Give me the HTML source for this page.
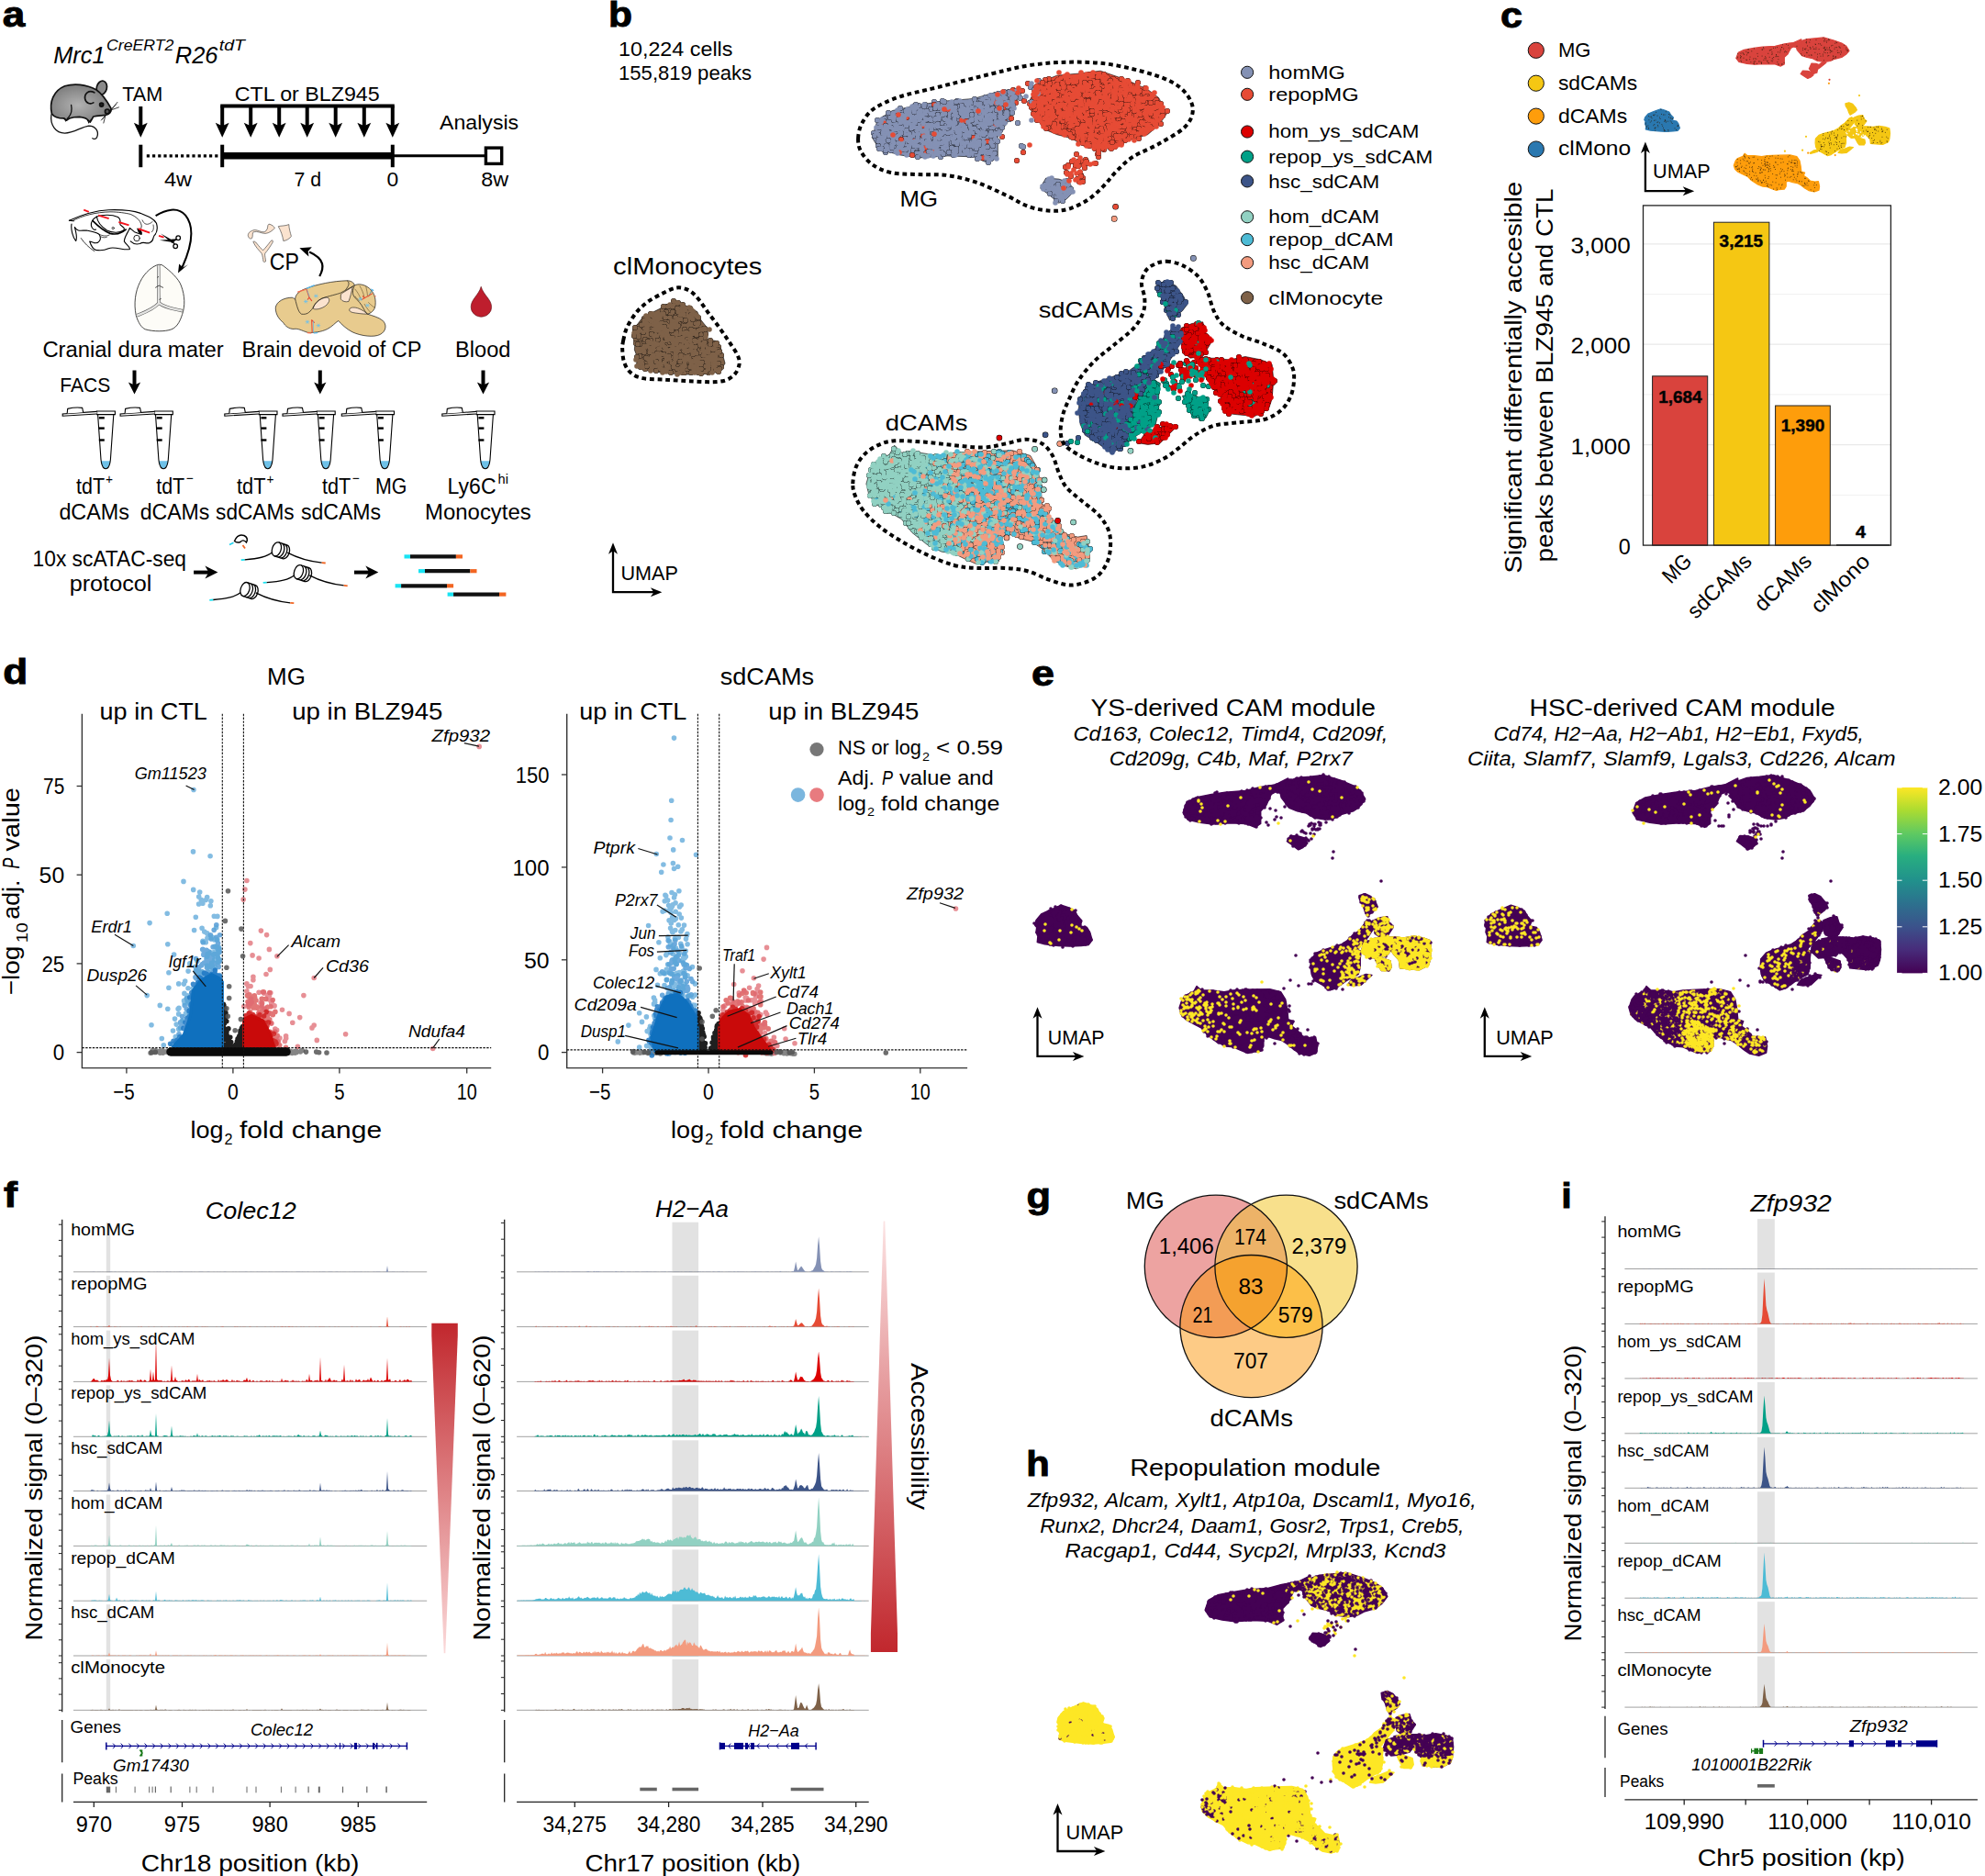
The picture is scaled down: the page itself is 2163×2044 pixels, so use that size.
<!DOCTYPE html>
<html><head><meta charset="utf-8"><title>Figure</title>
<style>html,body{margin:0;padding:0;background:#fff}svg{display:block}text{font-family:"Liberation Sans",sans-serif;fill:#000}</style>
</head><body>
<svg width="2163" height="2044" viewBox="0 0 2163 2044">
<rect width="2163" height="2044" fill="#fff"/>
<g id="pa">
<text x="2.8" y="29.2" font-size="38" textLength="24.5" lengthAdjust="spacingAndGlyphs" font-weight="bold" stroke="#000" stroke-width="0.9">a</text>
<text x="58.2" y="68.5" font-size="26" textLength="56.4" lengthAdjust="spacingAndGlyphs" font-style="italic">Mrc1</text>
<text x="116" y="55.3" font-size="16.6" textLength="73.4" lengthAdjust="spacingAndGlyphs" font-style="italic">CreERT2</text>
<text x="190.8" y="68.5" font-size="26" textLength="46.6" lengthAdjust="spacingAndGlyphs" font-style="italic">R26</text>
<text x="238.8" y="55.3" font-size="16.6" textLength="28.2" lengthAdjust="spacingAndGlyphs" font-style="italic">tdT</text>
<defs><radialGradient id="mg" cx="0.45" cy="0.55" r="0.55"><stop offset="0" stop-color="#b2b2b2"/><stop offset="1" stop-color="#7c7c7c"/></radialGradient></defs><g transform="scale(0.10076)" stroke="#111" stroke-width="17" fill="none" stroke-linecap="round" stroke-linejoin="round"><path d="M555 1240C540 1350 600 1440 700 1440C800 1440 880 1370 960 1360C1040 1360 1070 1430 1050 1480C1040 1510 1010 1505 1000 1495" stroke-width="13"/><ellipse cx="1100" cy="950" rx="55" ry="76" transform="rotate(14 1100 950)" fill="#8a8a8a"/><path d="M560 1230C530 1100 580 980 700 930C800 900 930 910 1040 970C1100 1010 1150 1080 1200 1170C1210 1210 1180 1240 1140 1245C1100 1250 1050 1250 1010 1260C1000 1280 990 1300 975 1320L950 1300C940 1280 900 1270 860 1265C820 1265 780 1270 750 1280L720 1300L690 1280C650 1280 590 1270 560 1230Z" fill="url(#mg)"/><path d="M1020 1000C960 970 910 1010 920 1070C930 1120 980 1130 1010 1110"/><path d="M770 1135C780 1180 775 1230 740 1270" stroke-width="13"/><circle cx="1098" cy="1132" r="20" fill="#222"/><circle cx="1160" cy="1205" r="24" fill="#555"/><path d="M1200 1190L1270 1105M1200 1190L1285 1160M1205 1180L1255 1130M1140 1250L1095 1300M1140 1250L1120 1330M1135 1255L1105 1290" stroke-width="8"/><path d="M700 1280L710 1310M730 1275L720 1305M950 1300L960 1330M985 1290L975 1320" stroke-width="10"/></g>
<text x="133.2" y="109.7" font-size="21.8" textLength="44.1" lengthAdjust="spacingAndGlyphs">TAM</text>
<path d="M153.3 116V138.3" stroke="#000" stroke-width="4" fill="none"/><path d="M153.3 149.8l-7.4 -16l7.4 3.5l7.4 -3.5z" fill="#000"/>
<path d="M153.3 157.7L153.3 182.2" stroke="#000" stroke-width="4" fill="none"/>
<path d="M242.2 157.7L242.2 182.2" stroke="#000" stroke-width="4" fill="none"/>
<path d="M427.8 157.7L427.8 182.2" stroke="#000" stroke-width="4" fill="none"/>
<path d="M159.8 169.8H237.4" stroke="#000" stroke-width="3.2" stroke-dasharray="3.2 3" fill="none"/>
<path d="M242.2 169.8L427.8 169.8" stroke="#000" stroke-width="7.5" fill="none"/>
<path d="M427.8 169.8L529 169.8" stroke="#000" stroke-width="3" fill="none"/>
<rect x="529.4" y="161.1" width="17.3" height="17.3" fill="#fff" stroke="#000" stroke-width="3.4"/>
<text x="255.7" y="109.7" font-size="21.8" textLength="158" lengthAdjust="spacingAndGlyphs">CTL or BLZ945</text>
<path d="M240.2 115.4L429.8 115.4" stroke="#000" stroke-width="4" fill="none"/>
<path d="M242.2 115.4V138.3" stroke="#000" stroke-width="4" fill="none"/><path d="M242.2 149.8l-7.4 -16l7.4 3.5l7.4 -3.5z" fill="#000"/>
<path d="M273.2 115.4V138.3" stroke="#000" stroke-width="4" fill="none"/><path d="M273.2 149.8l-7.4 -16l7.4 3.5l7.4 -3.5z" fill="#000"/>
<path d="M304.2 115.4V138.3" stroke="#000" stroke-width="4" fill="none"/><path d="M304.2 149.8l-7.4 -16l7.4 3.5l7.4 -3.5z" fill="#000"/>
<path d="M334.7 115.4V138.3" stroke="#000" stroke-width="4" fill="none"/><path d="M334.7 149.8l-7.4 -16l7.4 3.5l7.4 -3.5z" fill="#000"/>
<path d="M365.7 115.4V138.3" stroke="#000" stroke-width="4" fill="none"/><path d="M365.7 149.8l-7.4 -16l7.4 3.5l7.4 -3.5z" fill="#000"/>
<path d="M396.8 115.4V138.3" stroke="#000" stroke-width="4" fill="none"/><path d="M396.8 149.8l-7.4 -16l7.4 3.5l7.4 -3.5z" fill="#000"/>
<path d="M427.8 115.4V138.3" stroke="#000" stroke-width="4" fill="none"/><path d="M427.8 149.8l-7.4 -16l7.4 3.5l7.4 -3.5z" fill="#000"/>
<text x="479.1" y="140.7" font-size="21.8" textLength="86.1" lengthAdjust="spacingAndGlyphs">Analysis</text>
<text x="179" y="203.4" font-size="21.8" textLength="30.1" lengthAdjust="spacingAndGlyphs">4w</text>
<text x="320.6" y="203.4" font-size="21.8" textLength="29.6" lengthAdjust="spacingAndGlyphs">7 d</text>
<text x="421.6" y="203.4" font-size="21.8" textLength="12.7" lengthAdjust="spacingAndGlyphs">0</text>
<text x="524.3" y="203.4" font-size="21.8" textLength="29.9" lengthAdjust="spacingAndGlyphs">8w</text>
<g transform="translate(60 215) scale(0.08564)"><g fill="none" stroke="#000" stroke-width="13" stroke-linecap="round" stroke-linejoin="round"><path d="M180 295C300 240 480 170 680 160C850 155 1000 170 1080 200C1180 240 1260 270 1290 330C1310 400 1300 450 1260 490C1240 520 1260 560 1200 580C1150 590 1120 560 1080 590C1040 600 990 590 960 560"/><path d="M220 300C350 230 520 190 700 185C800 185 900 200 960 215C1020 240 1090 290 1100 360C1100 400 1080 420 1050 400" stroke-width="9"/><path d="M180 295L240 300M210 340C200 400 220 500 265 555C280 520 270 450 250 380"/><path d="M530 245C600 220 720 215 800 250C850 280 820 330 830 350C860 380 900 390 870 420C820 460 720 450 660 420C600 380 540 330 530 245Z"/><path d="M480 300C550 370 620 430 700 460C760 475 840 460 900 410" stroke-width="20"/><path d="M530 245C490 270 450 300 460 360C470 400 500 420 520 410"/><path d="M250 380C280 440 330 420 400 420C460 430 520 440 560 470C600 530 560 590 500 580C470 570 450 560 440 560C460 620 480 660 520 670C580 680 640 670 680 650C760 620 880 680 950 660C960 630 900 600 880 560C880 500 930 450 950 390L1010 440L1090 470"/><path d="M330 520C370 580 430 640 500 685" stroke-width="9"/><path d="M560 470C600 490 650 500 690 480M580 500C610 515 640 515 660 505" stroke-width="8"/><circle cx="1040" cy="520" r="38" stroke-width="10"/><path d="M1050 400C1080 410 1110 440 1100 470C1080 460 1060 440 1050 400Z" fill="#000"/><path d="M1110 290C1130 340 1170 370 1240 310M1250 350C1260 400 1250 430 1230 440" stroke-width="8"/><circle cx="738" cy="392" r="14" stroke-width="8"/></g><path d="M365 160L430 185M550 230L685 270M810 315L940 355M1060 400L1205 450M1320 488L1385 510" stroke="#F5141E" stroke-width="22" fill="none"/><path d="M1345 462L1520 560L1490 585Z M1330 545L1545 528L1500 572Z" fill="#000"/><g fill="none" stroke="#000" stroke-width="15"><circle cx="1567" cy="517" r="27"/><circle cx="1532" cy="622" r="27"/><path d="M1500 560L1545 535M1500 565L1520 600"/></g><path d="M1280 235C1400 160 1560 110 1660 230C1780 380 1740 620 1618 890" fill="none" stroke="#000" stroke-width="24"/><path d="M1565 962L1578 848L1628 892L1692 855Z" fill="#000"/></g>
<g transform="translate(60 215) scale(0.08564)"><path d="M1320 855C1250 870 1140 950 1080 1080C1020 1200 1000 1350 1030 1500C1060 1600 1100 1660 1150 1680C1250 1710 1400 1710 1480 1680C1560 1650 1600 1560 1630 1450C1660 1330 1640 1200 1590 1090C1540 1000 1420 900 1360 860Z" fill="#FDFCF7" stroke="#111" stroke-width="9"/><path d="M1315 862C1322 1000 1310 1200 1322 1345M1322 1345C1260 1420 1150 1460 1040 1505M1322 1345C1400 1410 1520 1420 1622 1445" fill="none" stroke="#555" stroke-width="40"/><path d="M1315 862C1322 1000 1310 1200 1322 1345M1322 1345C1260 1420 1150 1460 1040 1505M1322 1345C1400 1410 1520 1420 1622 1445" fill="none" stroke="#e4e4e2" stroke-width="27"/><path d="M1275 1150L1322 1122L1378 1150M1300 1020l20 -12M1325 1300l25 -10" fill="none" stroke="#222" stroke-width="9"/></g>
<g transform="translate(260 230) scale(0.08564)"><g fill="#FBE3CF" stroke="#333" stroke-width="7" stroke-linejoin="round"><path d="M120 310C120 270 160 250 200 240C260 240 310 290 350 250C380 220 360 180 385 165C420 170 450 195 460 215C430 250 390 280 340 285C290 285 240 250 190 265C170 280 185 320 170 345C150 360 125 345 120 310Z"/><path d="M505 195C540 185 600 190 640 170C640 220 660 280 670 320C650 350 610 375 570 380C560 320 540 250 505 195Z"/><path d="M185 390C200 380 215 390 230 410C260 450 290 480 310 500C340 470 380 420 410 380C425 365 440 370 435 395C410 440 370 500 335 540C330 570 345 610 345 640C335 650 320 650 315 640C310 600 305 570 295 540C260 500 210 450 185 390Z"/></g><path d="M1030 830C1090 720 1100 610 900 520" fill="none" stroke="#000" stroke-width="26"/><path d="M775 470L932 458L884 512L892 578Z" fill="#000"/></g>
<text x="293.8" y="293.8" font-size="26.5" textLength="32.1" lengthAdjust="spacingAndGlyphs">CP</text>
<g transform="translate(260 230) scale(0.08564)"><path d="M470 1230C480 1150 580 1100 680 1100C700 1105 715 1120 720 1120C720 1060 780 1010 860 985C1000 930 1200 890 1380 885C1430 885 1470 910 1475 945C1520 920 1600 930 1660 980C1720 1030 1750 1100 1740 1200C1730 1270 1680 1300 1640 1310C1700 1330 1780 1350 1830 1390C1890 1440 1880 1530 1800 1570C1720 1610 1560 1590 1450 1540C1370 1500 1310 1440 1270 1395C1230 1420 1190 1470 1130 1500C1050 1540 950 1550 880 1545C800 1520 760 1490 700 1500C640 1500 590 1460 570 1420C520 1380 470 1320 470 1230Z" fill="#E8CB8E" stroke="#111" stroke-width="8"/><g fill="#FBE3CF" stroke="#111" stroke-width="7"><path d="M950 1240C960 1180 1020 1120 1100 1100C1140 1095 1160 1110 1150 1150C1130 1200 1080 1230 1020 1245C990 1250 960 1250 950 1240Z"/><path d="M1300 1060C1330 1030 1400 1000 1450 960C1440 1020 1420 1100 1400 1150C1360 1160 1320 1150 1300 1120Z"/><path d="M1410 1250C1420 1220 1480 1220 1530 1240C1580 1260 1620 1290 1640 1310C1580 1310 1500 1300 1450 1290C1420 1280 1405 1270 1410 1250Z"/></g><g fill="none" stroke="#111" stroke-width="8"><path d="M720 1120C740 1200 760 1290 800 1310C870 1320 900 1290 940 1240C960 1190 1000 1140 1060 1110C1150 1080 1250 1060 1300 1040C1350 1010 1420 980 1470 945"/><path d="M1380 885C1420 910 1400 960 1360 1000"/><path d="M1475 945C1450 1000 1440 1060 1480 1100C1520 1140 1560 1180 1590 1240C1610 1280 1630 1300 1640 1310"/><path d="M1480 990C1520 1040 1540 1080 1560 1130M1540 950C1570 1000 1590 1050 1600 1100M1620 960C1630 1000 1640 1050 1640 1080M1690 1010C1680 1040 1670 1060 1650 1090M1600 1180C1620 1220 1650 1260 1680 1290M1650 1160C1680 1190 1710 1220 1740 1230M1480 1080C1500 1110 1520 1130 1540 1140" stroke-width="6" stroke="#4d3d1c"/></g><g fill="none" stroke-linecap="round"><path d="M755 1028L840 1000M880 1548L920 1552" stroke="#F26B4A" stroke-width="16"/><path d="M865 985L960 945M962 1552L1000 1548M1690 995L1712 1010" stroke="#5BB7E8" stroke-width="16"/><circle cx="1738" cy="1082" r="9" fill="#F26B4A"/><path d="M862 992C880 1030 890 1080 900 1100L930 1140M900 1100L880 1122M930 1385L936 1540M930 1385L962 1418M1570 1125L1700 1050M1600 1108L1582 1082" stroke="#E8432E" stroke-width="12"/><path d="M874 1012L902 1088M952 1402L952 1538M1660 1062L1708 1002" stroke="#5BB7E8" stroke-width="8"/><path d="M963 1080l44 0M973 1061l24 38M973 1099l24 -38M833 1150l44 0M843 1131l24 38M843 1169l24 -38M853 1410l44 0M863 1391l24 38M863 1429l24 -38M993 1455l44 0M1003 1436l24 38M1003 1474l24 -38M1528 1120l44 0M1538 1101l24 38M1538 1139l24 -38M1618 1200l44 0M1628 1181l24 38M1628 1219l24 -38" stroke="#6EC1EA" stroke-width="9"/></g></g>
<path d="M524.2 312.3C527 322 535.6 326 535.6 334.5A11.2 10.8 0 0 1 513.2 334.5C513.2 326 521.5 322 524.2 312.3Z" fill="#BE1E2D" stroke="#5a0d14" stroke-width="0.6"/>
<text x="46.4" y="389.1" font-size="24.4" textLength="197.4" lengthAdjust="spacingAndGlyphs">Cranial dura mater</text>
<text x="263.6" y="389.1" font-size="24.4" textLength="195.8" lengthAdjust="spacingAndGlyphs">Brain devoid of CP</text>
<text x="496" y="389.1" font-size="24.4" textLength="60.4" lengthAdjust="spacingAndGlyphs">Blood</text>
<text x="65.3" y="426.7" font-size="22.4" textLength="55" lengthAdjust="spacingAndGlyphs">FACS</text>
<path d="M146.5 403.5V420.5" stroke="#000" stroke-width="4" fill="none"/><path d="M146.5 429.5l-6.6 -13l6.6 3l6.6 -3z" fill="#000"/>
<path d="M348.8 403.5V420.5" stroke="#000" stroke-width="4" fill="none"/><path d="M348.8 429.5l-6.6 -13l6.6 3l6.6 -3z" fill="#000"/>
<path d="M526.5 403.5V420.5" stroke="#000" stroke-width="4" fill="none"/><path d="M526.5 429.5l-6.6 -13l6.6 3l6.6 -3z" fill="#000"/>
<g transform="translate(115.2 447.8)" fill="none" stroke="#000" stroke-width="1.1"><path d="M-5 54.500L5 54.500Q4 62.500 0 62.500Q-4 62.500 -5 54.500Z" fill="#6EC1E8" stroke="none"/><path d="M-8.600 4L-5.200 53Q-4.200 62.900 0 62.900Q4.200 62.900 5.200 53L8.600 4" /><path d="M-9.6 0.2H10.2V3.8H-9.6Z" fill="#fff"/><path d="M-9.6 0.6L-47 3.2L-47 5.4L-9.6 3.2" fill="#fff"/><path d="M-42 2.7L-41.5 -2.4Q-33 -4.5 -25.5 -3.4L-24.5 1.5" fill="#fff"/><path d="M-7.400 7.5H-1.400" stroke-width="2.400"/><path d="M-7.400 18.8H-1.400" stroke-width="2.400"/><path d="M-7.400 31.7H-1.400" stroke-width="2.400"/></g>
<g transform="translate(178.1 447.8)" fill="none" stroke="#000" stroke-width="1.1"><path d="M-5 54.500L5 54.500Q4 62.500 0 62.500Q-4 62.500 -5 54.500Z" fill="#6EC1E8" stroke="none"/><path d="M-8.600 4L-5.200 53Q-4.200 62.900 0 62.900Q4.200 62.900 5.200 53L8.600 4" /><path d="M-9.6 0.2H10.2V3.8H-9.6Z" fill="#fff"/><path d="M-9.6 0.6L-47 3.2L-47 5.4L-9.6 3.2" fill="#fff"/><path d="M-42 2.7L-41.5 -2.4Q-33 -4.5 -25.5 -3.4L-24.5 1.5" fill="#fff"/><path d="M-7.400 7.5H-1.400" stroke-width="2.400"/><path d="M-7.400 18.8H-1.400" stroke-width="2.400"/><path d="M-7.400 31.7H-1.400" stroke-width="2.400"/></g>
<g transform="translate(291.8 447.8)" fill="none" stroke="#000" stroke-width="1.1"><path d="M-5 54.500L5 54.500Q4 62.500 0 62.500Q-4 62.500 -5 54.500Z" fill="#6EC1E8" stroke="none"/><path d="M-8.600 4L-5.200 53Q-4.200 62.900 0 62.900Q4.200 62.900 5.200 53L8.600 4" /><path d="M-9.6 0.2H10.2V3.8H-9.6Z" fill="#fff"/><path d="M-9.6 0.6L-47 3.2L-47 5.4L-9.6 3.2" fill="#fff"/><path d="M-42 2.7L-41.5 -2.4Q-33 -4.5 -25.5 -3.4L-24.5 1.5" fill="#fff"/><path d="M-7.400 7.5H-1.400" stroke-width="2.400"/><path d="M-7.400 18.8H-1.400" stroke-width="2.400"/><path d="M-7.400 31.7H-1.400" stroke-width="2.400"/></g>
<g transform="translate(355 447.8)" fill="none" stroke="#000" stroke-width="1.1"><path d="M-5 54.500L5 54.500Q4 62.500 0 62.500Q-4 62.500 -5 54.500Z" fill="#6EC1E8" stroke="none"/><path d="M-8.600 4L-5.200 53Q-4.200 62.900 0 62.900Q4.200 62.900 5.200 53L8.600 4" /><path d="M-9.6 0.2H10.2V3.8H-9.6Z" fill="#fff"/><path d="M-9.6 0.6L-47 3.2L-47 5.4L-9.6 3.2" fill="#fff"/><path d="M-42 2.7L-41.5 -2.4Q-33 -4.5 -25.5 -3.4L-24.5 1.5" fill="#fff"/><path d="M-7.400 7.5H-1.400" stroke-width="2.400"/><path d="M-7.400 18.8H-1.400" stroke-width="2.400"/><path d="M-7.400 31.7H-1.400" stroke-width="2.400"/></g>
<g transform="translate(419.3 447.8)" fill="none" stroke="#000" stroke-width="1.1"><path d="M-5 54.500L5 54.500Q4 62.500 0 62.500Q-4 62.500 -5 54.500Z" fill="#6EC1E8" stroke="none"/><path d="M-8.600 4L-5.200 53Q-4.200 62.900 0 62.900Q4.200 62.900 5.200 53L8.600 4" /><path d="M-9.6 0.2H10.2V3.8H-9.6Z" fill="#fff"/><path d="M-9.6 0.6L-47 3.2L-47 5.4L-9.6 3.2" fill="#fff"/><path d="M-42 2.7L-41.5 -2.4Q-33 -4.5 -25.5 -3.4L-24.5 1.5" fill="#fff"/><path d="M-7.400 7.5H-1.400" stroke-width="2.400"/><path d="M-7.400 18.8H-1.400" stroke-width="2.400"/><path d="M-7.400 31.7H-1.400" stroke-width="2.400"/></g>
<g transform="translate(528.8 447.8)" fill="none" stroke="#000" stroke-width="1.1"><path d="M-5 54.500L5 54.500Q4 62.500 0 62.500Q-4 62.500 -5 54.500Z" fill="#6EC1E8" stroke="none"/><path d="M-8.600 4L-5.200 53Q-4.200 62.900 0 62.900Q4.200 62.900 5.200 53L8.600 4" /><path d="M-9.6 0.2H10.2V3.8H-9.6Z" fill="#fff"/><path d="M-9.6 0.6L-47 3.2L-47 5.4L-9.6 3.2" fill="#fff"/><path d="M-42 2.7L-41.5 -2.4Q-33 -4.5 -25.5 -3.4L-24.5 1.5" fill="#fff"/><path d="M-7.400 7.5H-1.400" stroke-width="2.400"/><path d="M-7.400 18.8H-1.400" stroke-width="2.400"/><path d="M-7.400 31.7H-1.400" stroke-width="2.400"/></g>
<text x="83" y="537.5" font-size="24.4" textLength="31" lengthAdjust="spacingAndGlyphs">tdT</text>
<text x="115" y="526.5" font-size="14.6" textLength="8" lengthAdjust="spacingAndGlyphs">+</text>
<text x="258" y="537.5" font-size="24.4" textLength="31.5" lengthAdjust="spacingAndGlyphs">tdT</text>
<text x="290.5" y="526.5" font-size="14.6" textLength="8" lengthAdjust="spacingAndGlyphs">+</text>
<text x="170.2" y="537.5" font-size="24.4" textLength="31" lengthAdjust="spacingAndGlyphs">tdT</text>
<text x="202.7" y="525.5" font-size="14.6" textLength="8" lengthAdjust="spacingAndGlyphs">−</text>
<text x="351" y="537.5" font-size="24.4" textLength="31.3" lengthAdjust="spacingAndGlyphs">tdT</text>
<text x="383.8" y="525.5" font-size="14.6" textLength="8" lengthAdjust="spacingAndGlyphs">−</text>
<text x="408.9" y="537.5" font-size="24.4" textLength="34.4" lengthAdjust="spacingAndGlyphs">MG</text>
<text x="487.6" y="537.5" font-size="24.4" textLength="53" lengthAdjust="spacingAndGlyphs">Ly6C</text>
<text x="542.5" y="527" font-size="14.6" textLength="11.4" lengthAdjust="spacingAndGlyphs">hi</text>
<text x="64.4" y="565.5" font-size="24.4" textLength="76.5" lengthAdjust="spacingAndGlyphs">dCAMs</text>
<text x="152.7" y="565.5" font-size="24.4" textLength="75.6" lengthAdjust="spacingAndGlyphs">dCAMs</text>
<text x="235.1" y="565.5" font-size="24.4" textLength="85.5" lengthAdjust="spacingAndGlyphs">sdCAMs</text>
<text x="327.9" y="565.5" font-size="24.4" textLength="87.2" lengthAdjust="spacingAndGlyphs">sdCAMs</text>
<text x="463.1" y="565.5" font-size="24.4" textLength="115.6" lengthAdjust="spacingAndGlyphs">Monocytes</text>
<text x="35.6" y="616.5" font-size="24.4" textLength="167.4" lengthAdjust="spacingAndGlyphs">10x scATAC-seq</text>
<text x="75.7" y="644.2" font-size="24.4" textLength="89.7" lengthAdjust="spacingAndGlyphs">protocol</text>
<path d="M211.1 623.6H228.4" stroke="#000" stroke-width="4" fill="none"/><path d="M237.4 623.6l-14 -7l4 7l-4 7z" fill="#000"/>
<path d="M386 623.6H403.3" stroke="#000" stroke-width="4" fill="none"/><path d="M412.3 623.6l-14 -7l4 7l-4 7z" fill="#000"/>
<g transform="translate(262.7 610.1)" fill="none" stroke="#000" stroke-width="1.3"><path d="M0 0L4 -0.3" stroke="#19E3F2" stroke-width="1.8"/><path d="M4 -0.3C18 -1.5 28 -3 35 -9"/><path d="M50.5 -8C62 -2 74 1.5 88 3"/><path d="M88 3L92 3.4" stroke="#F26522" stroke-width="1.8"/><g transform="translate(42.5 -10.5) rotate(18)"><ellipse cx="-4" cy="0" rx="4.8" ry="7.8" fill="#fff"/><path d="M-4 -7.8H5.5A4.8 7.8 0 0 1 5.5 7.8H-4M-0.5 -7.8A4.8 7.8 0 0 1 -0.5 7.8M2.7 -7.8A4.8 7.8 0 0 1 2.7 7.8"/></g></g>
<g transform="translate(286.7 634.9)" fill="none" stroke="#000" stroke-width="1.3"><path d="M0 0L4 -0.3" stroke="#19E3F2" stroke-width="1.8"/><path d="M4 -0.3C18 -1.5 28 -3 35 -9"/><path d="M50.5 -8C62 -2 74 1.5 88 3"/><path d="M88 3L92 3.4" stroke="#F26522" stroke-width="1.8"/><g transform="translate(42.5 -10.5) rotate(18)"><ellipse cx="-4" cy="0" rx="4.8" ry="7.8" fill="#fff"/><path d="M-4 -7.8H5.5A4.8 7.8 0 0 1 5.5 7.8H-4M-0.5 -7.8A4.8 7.8 0 0 1 -0.5 7.8M2.7 -7.8A4.8 7.8 0 0 1 2.7 7.8"/></g></g>
<g transform="translate(228.3 653.8)" fill="none" stroke="#000" stroke-width="1.3"><path d="M0 0L4 -0.3" stroke="#19E3F2" stroke-width="1.8"/><path d="M4 -0.3C18 -1.5 28 -3 35 -9"/><path d="M50.5 -8C62 -2 74 1.5 88 3"/><path d="M88 3L92 3.4" stroke="#F26522" stroke-width="1.8"/><g transform="translate(42.5 -10.5) rotate(18)"><ellipse cx="-4" cy="0" rx="4.8" ry="7.8" fill="#fff"/><path d="M-4 -7.8H5.5A4.8 7.8 0 0 1 5.5 7.8H-4M-0.5 -7.8A4.8 7.8 0 0 1 -0.5 7.8M2.7 -7.8A4.8 7.8 0 0 1 2.7 7.8"/></g></g>
<path d="M255.5 589.5Q259 581 266 583.5Q271 586 268.5 591Q265 587 262 590.5Q258 592 255.5 589.5Z" fill="#fff" stroke="#000" stroke-width="1.4"/>
<path d="M250 593.5L254.5 591.3" stroke="#22D3EE" stroke-width="1.8" fill="none"/>
<path d="M264.5 594L267 597.5" stroke="#F26522" stroke-width="1.8" fill="none"/>
<path d="M440.5 606.4L447 606.4" stroke="#19E3F2" stroke-width="4.2" fill="none"/>
<path d="M447 606.4L496.9 606.4" stroke="#111" stroke-width="4.2" fill="none"/>
<path d="M496.9 606.4L504 606.4" stroke="#F26522" stroke-width="4.2" fill="none"/>
<path d="M456 622.2L463 622.2" stroke="#19E3F2" stroke-width="4.2" fill="none"/>
<path d="M463 622.2L512.4 622.2" stroke="#111" stroke-width="4.2" fill="none"/>
<path d="M512.4 622.2L519.5 622.2" stroke="#F26522" stroke-width="4.2" fill="none"/>
<path d="M430.6 638.3L437.1 638.3" stroke="#19E3F2" stroke-width="4.2" fill="none"/>
<path d="M437.1 638.3L487 638.3" stroke="#111" stroke-width="4.2" fill="none"/>
<path d="M487 638.3L494.1 638.3" stroke="#F26522" stroke-width="4.2" fill="none"/>
<path d="M487.6 647.6L494.1 647.6" stroke="#19E3F2" stroke-width="4.2" fill="none"/>
<path d="M494.1 647.6L544 647.6" stroke="#111" stroke-width="4.2" fill="none"/>
<path d="M544 647.6L551.4 647.6" stroke="#F26522" stroke-width="4.2" fill="none"/>
</g>
<g id="pb">
<path d="M950.2 149.7L956.3 130.6L972.4 120.5L1000.6 114.5L1024.8 110.5L1061.1 107.4L1085.2 100.4L1101.4 97.4L1113.5 97.4L1107.4 110.5L1101.4 124.6L1097.3 134.6L1087.3 146.7L1087.3 170.9L1077.2 178L1061.1 170.9L1032.8 169.9L1002.6 171.9L980.5 168.9L958.3 162.8Z" fill="#8491B4" stroke="#000" stroke-width="0.6"/>
<path d="M1133.6 205.2L1139.6 194.1L1153.8 195.1L1165.8 199.1L1169.9 209.2L1161.8 217.3L1153.8 221.3L1141.7 211.2Z" fill="#8491B4" stroke="#000" stroke-width="0.6"/>
<path d="M1121.5 110.5L1131.6 90.3L1151.7 82.2L1173.9 80.2L1199.1 77.2L1228.3 87.3L1250.5 97.4L1262.6 106.4L1271.6 123.6L1262.6 136.6L1250.5 146.7L1230.3 152.8L1218.2 159.8L1202.1 162.8L1182 159.8L1167.9 150.8L1151.7 146.7L1137.6 140.7L1123.5 120.5Z" fill="#E64B35" stroke="#000" stroke-width="0.6"/>
<path d="M1176.2 433L1185.6 421L1195.9 415.9L1211.3 410.7L1230.2 403.9L1242.2 395.3L1249 386.8L1261 378.2L1271.3 362.8L1278.1 357.6L1288.4 362.8L1285 376.5L1276.4 390.2L1267.9 402.2L1257.6 414.2L1249 422.7L1240.5 431.3L1235.3 445L1230.2 465.5L1227.6 482.7L1219.9 489.5L1209.6 493L1195.9 482.7L1182.2 474.1L1177.1 462.1L1175.4 448.4Z" fill="#3C5488" stroke="#000" stroke-width="0.6"/>
<path d="M1261 309.7L1271.3 306.2L1281.6 311.4L1290.1 323.4L1293.6 331.9L1288.4 338.8L1279.9 345.6L1274.7 349.1L1271.3 342.2L1267.9 330.2L1261.9 318.2Z" fill="#3C5488" stroke="#000" stroke-width="0.6"/>
<path d="M1235.3 445L1242.2 431.3L1249 422.7L1257.6 414.2L1264.4 417.6L1262.7 431.3L1262.7 448.4L1259.3 462.1L1247.3 469L1237 475.8L1228.5 482.7L1230.2 465.5Z" fill="#00A087" stroke="#000" stroke-width="0.6"/>
<path d="M1288.4 431.3L1298.7 429.6L1315.8 436.4L1317.5 448.4L1314.1 455.3L1300.4 455.3L1295.3 446.7Z" fill="#00A087" stroke="#000" stroke-width="0.6"/>
<path d="M1305.5 390.2L1322.7 390.2L1339.8 391.9L1356.9 388.5L1374.1 391.9L1386.1 397L1387.8 414.2L1386.1 434.7L1382.6 445L1367.2 453.6L1348.4 451.8L1333 450.1L1331.2 434.7L1322.7 424.4L1315.8 414.2L1309 403.9Z" fill="#DC0000" stroke="#000" stroke-width="0.6"/>
<path d="M1286.7 357.6L1298.7 352.5L1310.7 350.8L1314.1 362.8L1321 371.3L1315.8 379.9L1310.7 388.5L1297 390.2L1288.4 383.3L1286.7 371.3Z" fill="#DC0000" stroke="#000" stroke-width="0.6"/>
<path d="M1240.5 482.7L1247.3 472.4L1261 467.3L1273 462.1L1283.3 463.8L1273 474.1L1264.4 482.7L1250.7 484.4Z" fill="#DC0000" stroke="#000" stroke-width="0.6"/>
<path d="M943.9 527.1L948.7 510.9L953.5 503.7L969.6 494.8L974.5 485.1L982.5 493.2L1001.9 493.2L1022.8 496.4L1032.5 494.8L1029.3 520.6L1032.5 552.8L1030.9 577L1039 602.8L1026.1 601.2L1010 593.2L993.8 580.3L982.5 565.7L971.3 559.3L955.1 549.6L947.1 540Z" fill="#91D1C2" stroke="#000" stroke-width="0.6"/>
<path d="M1032.5 494.8L1039 493.2L1071.2 491.6L1103.5 490.8L1122.8 496.4L1130.9 510.9L1134.1 530.3L1135.7 549.6L1145.4 552.8L1142.1 562.5L1151.8 570.6L1161.5 581.9L1174.4 585.1L1184.1 583.5L1187.3 601.2L1185.7 614.1L1172.8 619.8L1156.7 615.7L1145.4 607.7L1135.7 598L1124.4 589.9L1111.5 586.7L1098.6 581.9L1092.2 585.1L1092.2 601.2L1087.3 610.9L1071.2 612.5L1064.8 614.9L1051.9 609.3L1039 602.8L1030.9 577L1032.5 552.8L1029.3 520.6Z" fill="#F39B7F" stroke="#000" stroke-width="0.6"/>
<path d="M689.3 366.8L691.3 357.7L700.4 345.6L712.5 339.6L724.6 333.6L735.6 328.5L746.7 332.5L759.8 339.6L763.9 348.7L771.9 358.7L768.9 368.8L781 371.8L786 380.9L790.1 396L784 405.1L770.9 407.1L750.8 408.1L730.6 407.1L706.4 404.1L693.3 400.1L694.3 389L691.3 380.9L692.3 371.8Z" fill="#7E6148" stroke="#000" stroke-width="0.6"/>
<g fill="none" stroke-linecap="round">
<path d="M693 370h0m1-13h0m2-1h0m1 3h0m0 29h0m3 9h0m0 2h0m2-52h0m0 25h0m0 11h0m0 1h0m1 7h0m0 11h0m1-56h0m0 54h0m1-44h0m0 1h0m1-7h0m4 11h0m0 22h0m4-7h0m3-6h0m3-7h0m2-25h0m1 2h0m0 46h0m0 16h0m1-57h0m0 48h0m1-25h0m2-34h0m0 23h0m0 19h0m0 22h0m1-55h0m1 57h0m0 4h0m1-28h0m0 28h0m1-60h0m0 45h0m1-17h0m1-32h0m0 37h0m1-9h0m1 15h0m2-21h0m0 32h0m1-40h0m2 20h0m0 10h0m1 21h0m1-57h0m2 58h0m1-70h0m0 4h0m1 10h0m0 9h0m0 47h0m2-22h0m0 16h0m1-38h0m0 21h0m2 12h0m1-14h0m1-22h0m0 47h0m2-64h0m2 20h0m0 11h0m1-21h0m0 8h0m0 6h0m3-18h0m1 31h0m0 6h0m0 10h0m1 0h0m3-8h0m1-29h0m1 0h0m0 3h0m4 45h0m1-16h0m1-4h0m1 5h0m0 0h0m0 3h0m0 2h0m1-2h0m7-16h0m3 22h0m161 118h0m1 13h0m1-19h0m1 25h0m2-392h0m1 365h0m0 4h0m4-360h0m0 368h0m1-383h0m0 379h0m0 11h0m0 17h0m2 4h0m1-7h0m1-398h0m0 377h0m0 10h0m1-389h0m0 20h0m0 381h0m1-415h0m0 21h0m0 12h0m1-25h0m0 366h0m2-344h0m2 4h0m0 394h0m1-429h0m0 373h0m0 30h0m1-367h0m0 364h0m1-32h0m0 8h0m0 50h0m1-394h0m0 349h0m1-378h0m0 358h0m2-348h0m1 415h0m0 0h0m1-430h0m0 11h0m0 22h0m1 3h0m0 360h0m0 3h0m1-383h0m0 369h0m1-370h0m1-5h0m0 377h0m0 47h0m1-399h0m1-17h0m0 383h0m0 10h0m0 4h0m1-396h0m0 13h0m0 373h0m0 13h0m0 5h0m1-422h0m0 20h0m0 8h0m0 353h0m1-348h0m0 2h0m0 1h0m0 349h0m0 36h0m0 22h0m1-428h0m0 367h0m0 6h0m0 1h0m0 13h0m1-372h0m0 337h0m0 25h0m0 3h0m0 6h0m0 7h0m0 4h0m1-17h0m0 1h0m0 3h0m0 12h0m0 14h0m0 11h0m1-417h0m0 392h0m0 12h0m0 4h0m1 20h0m1-63h0m1 42h0m1-394h0m0 397h0m1-416h0m0 14h0m0 343h0m0 33h0m1-377h0m0 402h0m0 8h0m0 10h0m1-435h0m0 371h0m0 38h0m1-405h0m0 24h0m0 2h0m0 375h0m1-420h0m0 11h0m0 24h0m0 369h0m0 43h0m1-455h0m0 426h0m1-419h0m0 8h0m2 1h0m0 25h0m0 11h0m0 343h0m1-351h0m0 10h0m0 344h0m0 17h0m0 10h0m0 37h0m1-449h0m0 371h0m1 84h0m0 0h0m1-469h0m0 19h0m0 8h0m0 11h0m1 431h0m0 2h0m1-460h0m0 10h0m0 411h0m1-26h0m0 1h0m0 33h0m0 16h0m1-430h0m0 5h0m0 438h0m1-70h0m0 26h0m0 29h0m0 4h0m1-39h0m1-4h0m0 35h0m1-399h0m0 342h0m1 19h0m0 4h0m1-419h0m0 15h0m0 384h0m1-380h0m0 451h0m0 8h0m1-439h0m0 435h0m1-429h0m0 407h0m1-450h0m0 5h0m0 7h0m0 452h0m0 9h0m1-456h0m0 13h0m0 5h0m0 359h0m0 87h0m1-449h0m0 405h0m0 1h0m0 6h0m1-416h0m1 18h0m0 7h0m0 381h0m1-3h0m1-26h0m1-360h0m0 393h0m1 34h0m1-448h0m0 393h0m0 41h0m0 19h0m1-83h0m0 13h0m0 27h0m0 50h0m1-5h0m2-468h0m0 3h0m0 0h0m0 378h0m0 19h0m0 2h0m1-369h0m0 424h0m1-6h0m1-439h0m0 1h0m0 399h0m0 35h0m0 17h0m1-423h0m0 420h0m1-11h0m0 8h0m1-54h0m0 48h0m1-414h0m0 2h0m0 1h0m1-55h0m0 7h0m0 389h0m0 40h0m0 6h0m1-425h0m0 452h0m1-65h0m0 7h0m0 25h0m0 43h0m0 3h0m1-476h0m0 3h0m0 1h0m0 31h0m0 366h0m0 48h0m0 31h0m1-448h0m0 387h0m0 17h0m1-57h0m0 56h0m0 50h0m1-466h0m0 372h0m0 25h0m1-414h0m0 1h0m0 377h0m0 3h0m1-352h0m0 348h0m0 21h0m1-13h0m0 81h0m1-434h0m0 4h0m0 407h0m0 6h0m1-75h0m0 67h0m1-14h0m0 39h0m0 11h0m1-427h0m0 402h0m0 6h0m0 27h0m1-465h0m0 16h0m0 389h0m0 34h0m0 1h0m1-411h0m0 348h0m0 8h0m0 27h0m0 21h0m0 23h0m1-469h0m0 44h0m0 372h0m0 15h0m0 20h0m0 5h0m0 18h0m0 3h0m1-463h0m0 406h0m0 4h0m0 0h0m0 39h0m1-86h0m0 69h0m0 10h0m0 25h0m1-488h0m0 21h0m0 419h0m0 20h0m0 4h0m1-466h0m0 4h0m0 433h0m0 3h0m0 47h0m1-490h0m0 400h0m0 11h0m1-377h0m0 398h0m0 9h0m0 46h0m1-462h0m0 388h0m0 2h0m0 6h0m0 31h0m0 8h0m1-463h0m0 419h0m0 51h0m1-452h0m0 397h0m0 50h0m0 35h0m1-489h0m0 5h0m0 373h0m0 13h0m0 47h0m0 24h0m1-467h0m0 476h0m1-480h0m0 24h0m0 35h0m0 371h0m0 1h0m0 2h0m1-406h0m0 368h0m0 102h0m1-483h0m0 47h0m0 359h0m1-416h0m0 28h0m0 399h0m0 27h0m0 7h0m0 23h0m1-478h0m0 16h0m0 381h0m0 26h0m0 58h0m1-71h0m0 13h0m1-48h0m0 16h0m0 33h0m1-426h0m0 37h0m0 426h0m1-463h0m0 50h0m0 371h0m0 30h0m1-467h0m0 14h0m0 55h0m0 347h0m1-17h0m0 87h0m1-456h0m0 8h0m0 17h0m0 400h0m0 41h0m1-493h0m0 42h0m0 21h0m0 398h0m0 5h0m0 3h0m0 16h0m0 12h0m1-479h0m0 26h0m0 369h0m1-417h0m0 43h0m0 391h0m0 45h0m0 30h0m1-499h0m0 381h0m0 96h0m0 20h0m1-486h0m0 21h0m0 360h0m1-403h0m0 421h0m0 52h0m1-467h0m0 384h0m0 28h0m1-378h0m0 364h0m0 35h0m0 23h0m1-443h0m0 12h0m0 0h0m0 460h0m1-483h0m0 16h0m0 8h0m0 468h0m1-475h0m0 382h0m0 25h0m1-402h0m1 363h0m0 68h0m0 6h0m1-463h0m0 394h0m1 28h0m0 5h0m0 16h0m0 7h0m1-442h0m2-9h0m0 25h0m0 431h0m1-30h0m1-413h0m0 415h0m0 47h0m1-478h0m0 21h0m2-16h0m0 6h0m0 410h0m0 6h0m0 10h0m0 2h0m1 6h0m0 7h0m0 26h0m1-468h0m0 435h0m0 33h0m1-405h0m0 355h0m0 7h0m1 12h0m1-449h0m0 2h0m0 412h0m0 51h0m1-43h0m0 43h0m1-458h0m0 440h0m0 1h0m1-50h0m0 87h0m1-47h0m1 17h0m0 11h0m1-69h0m0 4h0m0 47h0m1 11h0m2 22h0m1-22h0m0 20h0m1-28h0m1 1h0m1-47h0m0 57h0m1-49h0m1 2h0m0 18h0m1-417h0m0 447h0m1-22h0m1-440h0m0 9h0m0 9h0m0 451h0m1-461h0m1-15h0m0 435h0m0 38h0m0 6h0m1-29h0m1-434h0m0 2h0m0 413h0m1 5h0m1-435h0m1 1h0m0 449h0m1-422h0m0 2h0m0 5h0m0 427h0m0 3h0m2 41h0m1-23h0m0 13h0m1-495h0m0 17h0m1 6h0m0 445h0m1 0h0m1-478h0m1 6h0m0 24h0m1 19h0m0 432h0m1-439h0m2 448h0m0 8h0m0 4h0m0 5h0m3-484h0m0 109h0m1-86h0m0 9h0m0 433h0m1-487h0m0 9h0m0 25h0m0 489h0m1-473h0m0 5h0m0 1h0m0 435h0m2 1h0m1-469h0m1-20h0m0 4h0m0 20h0m0 3h0m0 15h0m0 0h0m0 461h0m1-497h0m0 10h0m2 21h0m0 55h0m1-68h0m0 24h0m0 448h0m0 18h0m3-515h0m0 6h0m0 110h0m1 410h0m1-19h0m1-494h0m0 1h0m0 481h0m0 15h0m1-454h0m1-30h0m0 10h0m0 23h0m1-53h0m1 17h0m0 69h0m1-13h0m1-36h0m0 479h0m1-513h0m0 14h0m0 21h0m0 0h0m0 48h0m0 14h0m1-86h0m0 484h0m1 19h0m1-466h0m0 30h0m0 15h0m1-77h0m0 40h0m1-2h0m0 438h0m0 1h0m0 0h0m0 3h0m2-492h0m0 20h0m0 347h0m1-378h0m0 19h0m0 38h0m0 279h0m0 186h0m1-509h0m0 74h0m0 257h0m0 0h0m1-303h0m0 19h0m0 272h0m0 29h0m0 138h0m0 20h0m1-468h0m0 10h0m0 311h0m0 137h0m1-443h0m0 303h0m1-356h0m0 37h0m0 457h0m1-173h0m0 15h0m1-316h0m1-41h0m0 26h0m1-14h0m0 341h0m0 35h0m1-329h0m0 5h0m0 15h0m1-51h0m0 322h0m0 8h0m1-350h0m0 18h0m1-5h0m0 64h0m1-35h0m0 38h0m0 287h0m0 20h0m1-380h0m0 56h0m0 264h0m0 19h0m1-314h0m0 0h0m0 37h0m0 265h0m0 27h0m1-296h0m0 1h0m1-63h0m0 47h0m1-3h0m1-57h0m0 82h0m0 258h0m0 6h0m0 19h0m2-337h0m0 339h0m0 30h0m1-394h0m0 43h0m0 15h0m0 274h0m0 3h0m0 13h0m0 42h0m1-389h0m0 52h0m0 322h0m1-368h0m0 38h0m0 289h0m0 40h0m1-334h0m0 295h0m0 58h0m1-373h0m1 28h0m0 298h0m1-289h0m0 332h0m1-373h0m0 2h0m0 31h0m0 300h0m1-288h0m0 295h0m0 13h0m1-359h0m1 323h0m0 39h0m0 28h0m2-331h0m0 282h0m0 49h0m1-354h0m0 281h0m0 9h0m0 37h0m1-45h0m0 77h0m1 0h0m1-403h0m0 68h0m1 291h0m1-299h0m0 318h0m0 6h0m1-341h0m3 15h0m0 272h0m1-328h0m0 11h0m0 356h0m2-332h0m0 1h0m0 12h0m0 2h0m0 3h0m0 307h0m0 30h0m1-64h0m0 14h0m1 40h0m0 1h0m1-360h0m0 304h0m0 53h0m1-56h0m0 1h0m0 12h0m1-322h0m0 19h0m1-20h0m0 41h0m1 279h0m2-323h0m1 329h0m0 33h0m1-341h0m0 18h0m0 2h0m0 310h0m1-335h0m0 12h0m0 20h0m0 288h0m0 22h0m1-338h0m0 277h0m0 58h0m1-312h0m0 285h0m0 37h0m3-350h0m0 19h0m0 321h0m1-34h0m0 41h0m0 2h0m1-356h0m0 24h0m0 266h0m1-1h0m1 0h0m0 13h0m0 23h0m0 44h0m1-78h0m0 44h0m1-47h0m0 35h0m1 7h0m0 11h0m2-7h0m0 3h0m0 4h0m1-335h0m0 10h0m0 14h0m0 258h0m1-5h0m0 56h0m1-335h0m1 25h0m0 256h0m0 50h0m0 25h0m0 10h0m1-86h0m1-72h0m0 61h0m1 10h0m3-262h0m0 203h0m1 56h0m0 13h0m0 17h0m0 58h0m2-165h0m0 84h0m1-74h0m0 20h0m0 80h0m0 49h0m1-72h0m1-17h0m1-66h0m0 57h0m2-61h0m0 17h0m0 55h0m0 28h0m1-70h0m1 5h0m0 3h0m0 18h0m1-24h0m1 22h0m0 9h0m0 12h0m3-19h0m0 4h0m1-25h0m0 23h0m0 32h0m0 22h0m1 2h0m1-26h0m1-34h0m1 46h0m1-43h0m1 13h0m1 5h0m2-28h0m2 73h0m0 14h0m1 5h0m1-87h0m0 41h0m0 33h0m1-50h0m2-9h0m1-11h0m0 31h0m0 11h0m1 2h0m1-5h0m0 1h0m2-22h0m1-2h0m0 9h0m2-31h0m2 38h0m3 6h0m1-11h0m1-17h0m0 22h0m3 0h0m5-1h0m2 26h0m6-29h0m1 7h0m2 12h0m0 34h0m1-11h0m1-4h0m2 12h0m1-14h0m1-28h0m1 16h0m1 3h0m1-21h0m2 46h0m1-14h0m1 10h0m1-11h0m1-17h0m1 5h0m0 1h0m0 19h0m2-14h0m1 6h0m2-37h0m0 8h0m0 25h0m1 1h0m1-9h0m0 18h0m1-42h0m0 54h0m3-50h0m0 52h0m1-31h0m0 8h0m1-29h0m1 22h0m0 7h0m0 1h0m0 1h0m0 24h0m1-49h0m1-1h0m0 5h0m0 14h0m1 10h0m1-37h0m0 31h0m1-30h0m0 17h0m3-18h0m0 28h0m1-17h0m1 26h0m0 20h0m1-36h0m1 9h0m1-27h0m0 25h0m3-20h0m2 18h0m0 5h0m0 6h0m0 7h0m2-16h0m0 8h0m3-13h0m2-2h0" stroke="#000" stroke-width="6.05"/>
<path d="M952 145h0m5 9h0m1-15h0m4 6h0m1-2h0m0 20h0m1-34h0m0 21h0m0 12h0m1-25h0m2 22h0m2 4h0m1-35h0m1 36h0m2-4h0m1-29h0m2 10h0m2-15h0m0 11h0m0 22h0m1 3h0m1-20h0m1-1h0m1-5h0m1 25h0m1-17h0m1 1h0m0 13h0m1-31h0m0 20h0m0 8h0m1 5h0m0 2h0m0 1h0m1-21h0m1 15h0m2-11h0m4 13h0m1-19h0m1 13h0m1-15h0m1 4h0m0 24h0m0 2h0m1-45h0m0 11h0m0 24h0m1-43h0m1 7h0m0 8h0m2 1h0m0 25h0m0 11h0m1-8h0m0 10h0m1-41h0m2-14h0m0 19h0m0 8h0m0 11h0m2-27h0m0 10h0m2 5h0m0 5h0m4 20h0m2-54h0m0 15h0m1 4h0m1 20h0m1 6h0m1-43h0m0 5h0m0 7h0m1 5h0m0 13h0m0 5h0m1-3h0m1-4h0m1 18h0m0 7h0m3-8h0m2-21h0m4-13h0m0 3h0m0 0h0m1 30h0m2-21h0m0 1h0m1 28h0m3-3h0m0 2h0m0 1h0m1-55h0m0 7h0m1 10h0m2-11h0m0 3h0m0 1h0m0 31h0m1-3h0m2-13h0m1-17h0m0 1h0m1 28h0m2 3h0m0 4h0m3 14h0m1-30h0m0 16h0m1 13h0m1-42h0m0 44h0m1-30h0m2-21h0m0 21h0m1-23h0m0 4h0m1-7h0m1 34h0m1-9h0m1-28h0m1 18h0m1-7h0m0 5h0m1-10h0m1-4h0m0 24h0m0 35h0m1-32h0m1-13h0m0 47h0m1-57h0m0 28h0m1-22h0m0 16h0m3-18h0m0 37h0m1-37h0m0 50h0m1-66h0m0 14h0m0 55h0m2-39h0m0 8h0m0 17h0m1-52h0m0 42h0m0 21h0m1-45h0m0 26h0m1-48h0m0 43h0m1-33h0m1 11h0m0 21h0m1-43h0m2 40h0m1-21h0m0 12h0m0 0h0m1 1h0m1-7h0m3-21h0m2 8h0m2-9h0m0 25h0m2-12h0m1 5h0m2-16h0m0 6h0m5-13h0m0 2h0m2 5h0m16-6h0m23 117h0m14-13h0" stroke="#8491B4" stroke-width="5.6"/>
<path d="M996 154h0m93-46h0m3 2h0m0 16h0m2 6h0m9-30h0m4 10h0m1 63h0m18-59h0m2-6h0m0 9h0m1-10h0m1-15h0m2 16h0m0 2h0m2-17h0m1 1h0m1 27h0m0 2h0m0 5h0m4-34h0m0 17h0m1 6h0m2-33h0m1 6h0m0 24h0m1 19h0m1-7h0m5-19h0m1 23h0m0 9h0m1-54h0m0 9h0m0 25h0m1 16h0m0 5h0m0 1h0m3-33h0m1-20h0m0 4h0m0 20h0m0 3h0m0 15h0m0 0h0m1-36h0m0 10h0m2 21h0m0 55h0m1-68h0m0 24h0m3-49h0m0 6h0m3 7h0m0 1h0m1 42h0m1-30h0m0 10h0m0 23h0m1-53h0m1 17h0m0 69h0m1-13h0m1-36h0m1-34h0m0 14h0m0 21h0m0 0h0m0 48h0m0 14h0m1-86h0m2 37h0m0 30h0m0 15h0m1-77h0m0 40h0m1-2h0m2-50h0m0 20h0m1-31h0m0 19h0m0 38h0m1-44h0m0 74h0m1-46h0m0 19h0m1-9h0m0 10h0m1 5h0m1-53h0m0 37h0m2-17h0m1-41h0m0 26h0m1-14h0m1 47h0m0 5h0m0 15h0m1-51h0m1-20h0m0 18h0m1-5h0m0 64h0m1-35h0m0 38h0m1-73h0m0 56h0m1-31h0m0 0h0m0 37h0m1-4h0m0 1h0m1-63h0m0 47h0m1-3h0m1-57h0m0 82h0m2-54h0m1-25h0m0 43h0m0 15h0m1-57h0m0 52h0m1-46h0m0 38h0m1-5h0m1-20h0m1 28h0m1 9h0m1-41h0m0 2h0m0 31h0m1 12h0m1-51h0m3 59h0m1-23h0m3-44h0m0 68h0m2-8h0m1-17h0m3 15h0m1-56h0m0 11h0m2 24h0m0 1h0m0 12h0m0 2h0m0 3h0m3-32h0m2-8h0m0 19h0m1-20h0m0 41h0m3-44h0m2 21h0m0 18h0m0 2h0m1-25h0m0 12h0m0 20h0m1-28h0m1 23h0m3-28h0m0 19h0m2-26h0m0 24h0m8-18h0m0 10h0m0 14h0m2-26h0m1 25h0m6-8h0" stroke="#E64B35" stroke-width="5.6"/>
<path d="M1252 474h0m9-9h0m0 10h0m7-2h0m3-6h0m5-59h0m8-10h0m3-36h0m1 46h0m1-43h0m1 13h0m1 5h0m2-28h0m4 5h0m0 41h0m1-17h0m2-9h0m1-11h0m0 31h0m2 9h0m2-22h0m1-2h0m0 9h0m2-31h0m2 38h0m3 6h0m1-11h0m1-17h0m0 22h0m3 0h0m5-1h0m2 26h0m6-29h0m1 7h0m2 12h0m0 34h0m1-11h0m1-4h0m2 12h0m1-14h0m1-28h0m1 16h0m1 3h0m1-21h0m2 46h0m1-14h0m1 10h0m1-11h0m1-17h0m1 5h0m0 1h0m0 19h0m2-14h0m1 6h0m2-37h0m0 8h0m0 25h0m2-8h0m0 18h0m1-42h0m0 54h0m3-50h0m0 52h0m1-31h0m0 8h0m1-29h0m1 29h0m0 1h0m0 1h0m0 24h0m1-49h0m1-1h0m0 5h0m0 14h0m1 10h0m1-37h0m0 31h0m1-30h0m0 17h0m3-18h0m0 28h0m1-17h0m1 26h0m0 20h0m1-36h0m1 9h0m1-27h0m0 25h0m3-20h0m2 18h0m0 5h0m0 6h0m0 7h0m2-16h0m0 8h0m3-13h0m2-2h0" stroke="#DC0000" stroke-width="5.6"/>
<path d="M1184 435h0m2 28h0m17-42h0m0 6h0m3 47h0m3 3h0m7 7h0m7-39h0m1 19h0m7 14h0m2-10h0m1-2h0m1-55h0m0 12h0m7 25h0m1-15h0m0 22h0m1-3h0m4 0h0m1 7h0m0 2h0m1-66h0m2 12h0m0 23h0m1 10h0m1-12h0m1 7h0m0 11h0m2-7h0m0 3h0m0 4h0m4-56h0m0 50h0m7-42h0m0 17h0m3 3h0m2-40h0m11 42h0m1 2h0m1-26h0m9 32h0m0 14h0m1 5h0m1-13h0m4-28h0m1 2h0m1-5h0m53 23h0m8-7h0" stroke="#00A087" stroke-width="5.6"/>
<path d="M1182 469h0m1-42h0m1 8h0m1-12h0m0 29h0m2 8h0m2-35h0m0 15h0m3-4h0m0 35h0m2-38h0m0 8h0m3 17h0m0 20h0m1-60h0m0 19h0m1-12h0m0 27h0m4-6h0m2 2h0m0 30h0m1-62h0m0 3h0m0 13h0m1 27h0m1-41h0m0 40h0m1-39h0m2 11h0m1 43h0m1-40h0m1 7h0m0 13h0m2-36h0m0 39h0m2-21h0m0 49h0m1-73h0m0 9h0m0 37h0m1-45h0m0 77h0m1 0h0m3-19h0m4-54h0m1 39h0m2-7h0m1-34h0m0 14h0m1 41h0m1-56h0m1-3h0m3 10h0m3 6h0m0 33h0m3-65h0m1 31h0m0 37h0m4-44h0m2-24h0m1 0h0m1 2h0m1-3h0m4 0h0m1-5h0m0 56h0m3-55h0m1-72h0m0 61h0m1 10h0m3-59h0m1 56h0m2-77h0m0 84h0m1-74h0m0 20h0m1 57h0m2-83h0m0 57h0m2-61h0m0 17h0m0 55h0m1-42h0m1 5h0m0 3h0m0 18h0m1-24h0m1 22h0m0 9h0m0 12h0m3-19h0m0 4h0m1-25h0m0 23h0" stroke="#3C5488" stroke-width="5.6"/>
<path d="M947 518h0m1 13h0m1-19h0m1 25h0m3-27h0m0 4h0m4 8h0m1-4h0m0 11h0m0 17h0m2 4h0m1-7h0m1-21h0m1 22h0m2-41h0m4 54h0m1-56h0m0 30h0m1-3h0m1-32h0m0 8h0m0 50h0m1-45h0m1-20h0m3 67h0m0 0h0m2-34h0m0 3h0m1-14h0m2 2h0m2 14h0m0 10h0m0 4h0m1-10h0m0 13h0m0 5h0m1-41h0m1 4h0m0 36h0m0 22h0m1-61h0m0 6h0m0 1h0m0 13h0m1-35h0m0 25h0m0 3h0m0 6h0m0 7h0m0 4h0m1-16h0m0 3h0m0 12h0m0 14h0m0 11h0m1-25h0m0 16h0m1 20h0m1-63h0m1 42h0m1 3h0m1-59h0m0 33h0m1 25h0m0 8h0m0 10h0m1-64h0m0 38h0m1-4h0m1-16h0m0 43h0m1-29h0m3-31h0m1 3h0m0 17h0m0 10h0m0 37h0m1-78h0m1 84h0m0 0h0m2 0h0m0 2h0m1-39h0m1-26h0m0 50h0m1 13h0m1-44h0m0 29h0m1-35h0m1-4h0m0 35h0m1-57h0m1 19h0m0 4h0m1-20h0m2 75h0m1-22h0m1 23h0m1 8h0m4-50h0m1-26h0m1 33h0m1 34h0m1-55h0m0 41h0m1-51h0m0 27h0m0 50h0m1-5h0m2-68h0m1 57h0m1-6h0m1-39h0m0 52h0m1-3h0m4-39h0m0 6h0m2-6h0m1 19h0m0 31h0m2-101h0m1 37h0m1-33h0m1-4h0m4 50h0m2 32h0m2-36h0m1 8h0m0 39h0m1-86h0m1 76h0m1-25h0m1-40h0m1 41h0m1-28h0m2 84h0m7-7h0m1-58h0m1 1h0m4-43h0m8 17h0m7-20h0m1 33h0m8-4h0m0 10h0m5 26h0m3-67h0m1 40h0m5 43h0m4-19h0m19 2h0m14 15h0m24 12h0m0 0h0m5-1h0m0 20h0" stroke="#91D1C2" stroke-width="5.6"/>
<path d="M962 532h0m20 28h0m8-38h0m1 28h0m20-29h0m0 33h0m2 18h0m6 17h0m3-12h0m1-70h0m1 43h0m11-45h0m5 69h0m0 8h0m1-6h0m4 16h0m2-57h0m0 17h0m1-1h0m0 50h0m1-94h0m2 9h0m1-13h0m0 81h0m3 0h0m2-41h0m0 35h0m1-55h0m0 48h0m0 23h0m1-18h0m1-31h0m0 4h0m1 32h0m1-23h0m1-2h0m2-11h0m1 28h0m2-48h0m1-13h0m0 47h0m2-16h0m1-36h0m3 12h0m1 13h0m1-35h0m0 16h0m4 77h0m1 10h0m1 4h0m1-84h0m1 17h0m0 45h0m2-77h0m1 18h0m1-31h0m1 14h0m0 35h0m0 23h0m3-30h0m2-39h0m0 68h0m2-7h0m4-25h0m1 2h0m3-10h0m1 24h0m0 7h0m0 26h0m1-33h0m1-17h0m1 19h0m2 16h0m1-18h0m0 1h0m3 18h0m1-69h0m0 51h0m4 31h0m3-74h0m3 58h0m4-34h0m0 44h0m1-29h0m5 13h0m0 3h0m2 41h0m1-10h0m2-27h0m7 12h0m0 12h0m0 5h0m14-7h0m0 18h0m12 7h0m2-18h0m7 20h0m3-13h0m2-2h0" stroke="#4DBBD5" stroke-width="5.6"/>
<path d="M1013 513h0m6 68h0m5-30h0m0 6h0m2-10h0m5 43h0m1-83h0m3 19h0m3 45h0m3-43h0m2-22h0m1 73h0m1-65h0m0 7h0m0 68h0m1-72h0m4-21h0m3 65h0m0 6h0m1-75h0m0 67h0m1 36h0m1-25h0m0 6h0m0 27h0m2-88h0m0 35h0m1 6h0m0 25h0m0 18h0m0 3h0m2-31h0m0 35h0m1-24h0m1 21h0m1-79h0m1 76h0m1-72h0m0 6h0m0 31h0m1-36h0m0 51h0m1-5h0m1-76h0m0 84h0m1 9h0m1-50h0m0 3h0m1 64h0m1-77h0m1 11h0m0 27h0m0 7h0m0 23h0m1-55h0m3 38h0m1-42h0m0 30h0m1-51h0m2 39h0m1 9h0m0 5h0m0 3h0m0 16h0m2 20h0m1-118h0m0 96h0m0 20h0m2-35h0m3 18h0m1 9h0m1-93h0m2 60h0m2-41h0m0 21h0m3 12h0m2 19h0m3-39h0m2 39h0m1-43h0m2-23h0m1 8h0m2 63h0m2-30h0m1-54h0m1 58h0m3 0h0m1-8h0m1 1h0m2-39h0m1 2h0m0 18h0m2 8h0m1 29h0m2-3h0m2-42h0m1 5h0m2 15h0m4 33h0m6-11h0m3 17h0m4-10h0m1 36h0m1-32h0m4 15h0m8 22h0m1-19h0m1-12h0m0 15h0m9 13h0m3-22h0m0 4h0" stroke="#F39B7F" stroke-width="5.6"/>
<path d="M693 370h0m1-13h0m2-1h0m1 3h0m0 29h0m3 9h0m0 2h0m2-52h0m0 25h0m0 11h0m0 1h0m1 7h0m0 11h0m1-56h0m0 54h0m1-44h0m0 1h0m1-7h0m4 11h0m0 22h0m4-7h0m3-6h0m3-7h0m2-25h0m1 2h0m0 46h0m0 16h0m1-57h0m0 48h0m1-25h0m2-34h0m0 23h0m0 19h0m0 22h0m1-55h0m1 57h0m0 4h0m1-28h0m0 28h0m1-60h0m0 45h0m1-17h0m1-32h0m0 37h0m1-9h0m1 15h0m2-21h0m0 32h0m1-40h0m2 20h0m0 10h0m1 21h0m1-57h0m2 58h0m1-70h0m0 4h0m1 10h0m0 9h0m0 47h0m2-22h0m0 16h0m1-38h0m0 21h0m2 12h0m1-14h0m1-22h0m0 47h0m2-64h0m2 20h0m0 11h0m1-21h0m0 8h0m0 6h0m3-18h0m1 31h0m0 6h0m0 10h0m1 0h0m3-8h0m1-29h0m1 0h0m0 3h0m4 45h0m1-16h0m1-4h0m1 5h0m0 0h0m0 3h0m0 2h0m1-2h0m7-16h0m3 22h0" stroke="#7E6148" stroke-width="5.6"/>
<path d="M691 366h0m1-6h0m1 14h0m1 15h0m1-26h0m1-5h0m1 2h0m0 14h0m0 1h0m1 25h0m3-48h0m0 10h0m2 8h0m1 20h0m1 9h0m1-52h0m0 44h0m1 1h0m1-43h0m0 22h0m0 13h0m1-13h0m0 20h0m4-9h0m1-17h0m1-5h0m0 34h0m0 10h0m1-38h0m2-8h0m1 22h0m1-17h0m1-11h0m0 24h0m0 22h0m1 6h0m1-70h0m0 45h0m1 2h0m1-28h0m1-13h0m0 6h0m1 49h0m1-61h0m0 21h0m2 18h0m0 29h0m1-35h0m0 18h0m1-33h0m1-18h0m1-6h0m0 5h0m0 30h0m2-17h0m0 20h0m1 3h0m0 9h0m1-39h0m1-9h0m0 75h0m1-52h0m1 16h0m0 25h0m1 0h0m0 0h0m0 10h0m2-72h0m1 10h0m1 21h0m0 35h0m2-4h0m1 8h0m1-11h0m1-3h0m1-52h0m1 7h0m0 29h0m0 0h0m0 21h0m1-24h0m0 5h0m0 3h0m1-29h0m0 51h0m1-16h0m1-9h0m3 7h0m1-35h0m0 6h0m0 20h0m1 1h0m0 11h0m1-25h0m1 38h0m1-2h0m3-17h0m2-1h0m1 0h0m0 27h0m1-26h0m0 3h0m5 5h0m0 10h0m2-21h0m1 13h0m1-14h0m1 7h0m0 3h0m0 20h0m1-8h0m3-9h0m165 138h0m0 14h0m1-33h0m1 34h0m1 8h0m3-401h0m0 12h0m4 374h0m1-21h0m1-380h0m0 2h0m0 363h0m1-358h0m0 381h0m1-354h0m0 391h0m1-48h0m1-368h0m0 387h0m1 17h0m0 11h0m1-48h0m0 44h0m1 3h0m1-415h0m1 20h0m0 1h0m0 363h0m0 18h0m0 2h0m0 9h0m2-397h0m0 375h0m0 28h0m2-41h0m1-6h0m1-361h0m0 342h0m0 58h0m1-403h0m0 353h0m2-383h0m0 404h0m0 39h0m1-416h0m0 404h0m1-424h0m0 392h0m0 22h0m1-414h0m0 384h0m0 5h0m1 43h0m1-406h0m0 6h0m0 399h0m2-43h0m2-351h0m0 2h0m1-5h0m0 9h0m0 341h0m0 13h0m0 22h0m2-43h0m0 4h0m0 23h0m0 27h0m2-20h0m0 7h0m0 3h0m1 13h0m1-443h0m1 1h0m0 0h0m0 39h0m1 12h0m0 338h0m0 74h0m2-73h0m0 31h0m1-401h0m1-13h0m0 30h0m0 8h0m0 357h0m0 28h0m0 6h0m0 21h0m0 10h0m1 3h0m1-434h0m0 385h0m0 45h0m1-449h0m0 1h0m0 22h0m0 349h0m2 46h0m0 18h0m0 3h0m1-448h0m0 43h0m0 366h0m0 7h0m0 2h0m0 25h0m0 0h0m1-432h0m0 372h0m1 66h0m0 14h0m1-419h0m0 340h0m0 21h0m0 7h0m0 7h0m1-33h0m0 5h0m0 34h0m0 29h0m1-459h0m1 403h0m0 53h0m1-22h0m0 3h0m0 21h0m0 14h0m1-441h0m0 368h0m0 5h0m1-409h0m0 411h0m2 7h0m0 5h0m0 33h0m1-411h0m1-34h0m0 41h0m0 362h0m1 5h0m0 34h0m0 21h0m2-417h0m0 371h0m0 24h0m1-408h0m1-48h0m0 403h0m0 21h0m1-395h0m1-28h0m0 18h0m0 373h0m0 9h0m0 38h0m0 24h0m1-449h0m0 6h0m0 376h0m0 23h0m0 0h0m0 33h0m0 17h0m1-54h0m0 10h0m0 23h0m1-43h0m0 17h0m0 56h0m0 2h0m1-438h0m0 371h0m1-386h0m0 418h0m1-23h0m1-395h0m0 379h0m0 64h0m1-424h0m0 436h0m1-450h0m1-16h0m0 5h0m0 385h0m0 58h0m0 24h0m1-92h0m1-389h0m0 410h0m1-416h0m0 46h0m0 426h0m0 3h0m0 13h0m1 4h0m1-455h0m0 1h0m0 349h0m1 20h0m0 36h0m1-22h0m1-412h0m0 14h0m0 466h0m1-485h0m0 15h0m0 415h0m1-31h0m0 11h0m0 14h0m0 43h0m1-37h0m0 25h0m0 17h0m1-423h0m0 337h0m0 12h0m0 16h0m0 19h0m1-414h0m0 30h0m0 403h0m0 1h0m0 9h0m0 6h0m1-83h0m0 74h0m0 9h0m0 8h0m0 5h0m1-66h0m0 26h0m1-47h0m0 33h0m0 17h0m0 30h0m1-434h0m0 391h0m0 33h0m0 13h0m1-436h0m0 8h0m0 387h0m0 29h0m1-51h0m0 42h0m0 23h0m1-455h0m0 361h0m0 16h0m0 15h0m0 8h0m1 15h0m0 3h0m0 9h0m0 7h0m1-461h0m0 5h0m0 33h0m0 392h0m0 59h0m1-89h0m1-403h0m0 56h0m0 370h0m0 27h0m1-46h0m0 81h0m0 4h0m1-489h0m0 383h0m0 19h0m0 21h0m0 8h0m0 18h0m0 48h0m1-64h0m0 21h0m1-64h0m0 52h0m0 42h0m1-473h0m0 398h0m0 23h0m0 2h0m0 15h0m0 13h0m1-444h0m0 462h0m0 0h0m0 17h0m0 3h0m1-490h0m0 378h0m0 6h0m0 52h0m0 14h0m0 26h0m1-471h0m0 18h0m0 27h0m0 343h0m0 16h0m0 4h0m0 2h0m0 57h0m1-468h0m0 406h0m0 66h0m0 10h0m0 3h0m1-439h0m0 321h0m0 42h0m0 9h0m0 11h0m0 39h0m1-488h0m0 64h0m0 383h0m1-439h0m0 17h0m0 449h0m1-420h0m0 353h0m0 46h0m0 9h0m1-459h0m0 2h0m0 58h0m0 431h0m1-81h0m0 37h0m1-12h0m0 27h0m0 40h0m1-472h0m0 9h0m0 418h0m0 36h0m1-98h0m0 39h0m0 8h0m0 42h0m1-475h0m0 21h0m0 360h0m0 95h0m0 15h0m1-117h0m0 82h0m0 13h0m1-475h0m0 11h0m1 12h0m0 379h0m0 25h0m0 52h0m0 20h0m1-477h0m0 3h0m0 449h0m0 7h0m0 16h0m1-502h0m0 3h0m0 44h0m1 339h0m0 3h0m0 16h0m0 16h0m0 43h0m1-459h0m0 24h0m0 388h0m0 62h0m0 0h0m0 17h0m1-2h0m1-496h0m0 431h0m1-422h0m0 25h0m0 355h0m0 55h0m1-423h0m0 395h0m2-404h0m1-10h0m0 438h0m1-423h0m0 3h0m0 426h0m0 9h0m1-57h0m0 2h0m0 1h0m1-8h0m1-398h0m0 393h0m0 39h0m0 26h0m1-448h0m0 420h0m0 4h0m0 17h0m1-443h0m0 5h0m0 16h0m0 365h0m0 27h0m0 46h0m1-460h0m1-9h0m0 428h0m0 31h0m1-46h0m0 6h0m0 65h0m0 0h0m1-78h0m0 12h0m0 6h0m0 44h0m1-54h0m0 20h0m1-25h0m0 32h0m0 11h0m1 22h0m0 2h0m1-76h0m0 3h0m1 4h0m2-346h0m0 351h0m0 23h0m1-28h0m0 29h0m0 0h0m1-374h0m0 349h0m0 28h0m1-427h0m0 427h0m0 25h0m0 10h0m1-61h0m1 43h0m1-53h0m0 59h0m0 22h0m1-491h0m2 21h0m0 1h0m0 406h0m1-424h0m0 442h0m0 40h0m1-464h0m0 4h0m0 413h0m0 18h0m1-41h0m0 31h0m0 35h0m1-449h0m0 387h0m1-405h0m1 1h0m0 407h0m0 31h0m0 38h0m1-488h0m1 36h0m0 433h0m0 1h0m0 4h0m1-474h0m0 4h0m0 413h0m0 11h0m0 40h0m0 28h0m1-503h0m0 504h0m1-69h0m2-423h0m0 445h0m1-436h0m0 477h0m1-486h0m0 2h0m0 15h0m0 437h0m0 41h0m2-508h0m0 114h0m1 398h0m1-33h0m1-427h0m1 435h0m0 20h0m1-383h0m0 361h0m0 6h0m1-461h0m0 13h0m1-25h0m0 472h0m1-487h0m0 1h0m1 24h0m1-15h0m0 5h0m0 4h0m0 8h0m0 453h0m1-458h0m0 464h0m1-463h0m0 90h0m0 11h0m1-126h0m0 15h0m0 468h0m0 37h0m1-494h0m0 9h0m0 83h0m1 367h0m0 17h0m2 10h0m1-484h0m0 91h0m1-107h0m0 28h0m0 91h0m0 380h0m1-476h0m0 85h0m1-91h0m1-30h0m0 505h0m1-404h0m1 295h0m0 104h0m0 17h0m1-483h0m0 7h0m0 9h0m0 0h0m0 43h0m1-61h0m0 16h0m0 479h0m1-512h0m0 10h0m0 491h0m1-411h0m1-94h0m0 5h0m1 2h0m0 39h0m1-49h0m0 2h0m0 9h0m0 18h0m1-11h0m1-25h0m0 25h0m0 18h0m0 49h0m2-69h0m0 371h0m1-5h0m1-379h0m0 5h0m0 95h0m0 413h0m1-423h0m0 247h0m1 15h0m1-3h0m1-316h0m0 20h0m0 5h0m0 38h0m0 253h0m2-343h0m1 70h0m2-74h0m0 344h0m1-343h0m0 20h0m0 310h0m1-349h0m0 70h0m0 7h0m1-69h0m0 9h0m0 31h0m0 3h0m0 4h0m2-38h0m1 40h0m0 1h0m0 320h0m0 3h0m1-308h0m0 323h0m0 0h0m1-324h0m0 275h0m0 6h0m1-338h0m0 1h0m0 80h0m0 239h0m0 57h0m1-29h0m0 15h0m1-372h0m0 10h0m0 53h0m1 279h0m0 18h0m1-351h0m0 339h0m1-17h0m1-290h0m0 339h0m1-363h0m0 57h0m0 265h0m2-337h0m0 49h0m0 312h0m0 11h0m1-344h0m0 7h0m0 17h0m0 5h0m1-32h0m0 34h0m0 6h0m0 330h0m1-334h0m2-6h0m0 280h0m0 37h0m1-370h0m0 27h0m0 32h0m0 323h0m0 3h0m1-382h0m0 62h0m0 4h0m0 284h0m0 42h0m1-325h0m0 277h0m1-319h0m0 366h0m1-400h0m0 19h0m0 26h0m1-27h0m0 9h0m0 33h0m0 276h0m1-264h0m0 2h0m0 280h0m0 3h0m0 22h0m0 19h0m1-396h0m0 10h0m0 39h0m0 297h0m1-321h0m0 13h0m0 314h0m0 8h0m1-35h0m1 25h0m0 2h0m1-306h0m0 345h0m1-359h0m0 366h0m1-393h0m0 338h0m0 10h0m0 18h0m1-341h0m0 290h0m1-276h0m2 21h0m0 312h0m0 11h0m1-71h0m0 78h0m1-386h0m0 10h0m0 355h0m1-342h0m0 16h0m0 5h0m1-41h0m0 322h0m0 27h0m2-33h0m0 47h0m1 14h0m1-24h0m1-47h0m1-299h0m0 37h0m0 265h0m1-299h0m1-14h0m0 0h0m0 30h0m1-33h0m0 27h0m1-30h0m0 8h0m0 12h0m0 11h0m0 303h0m0 27h0m1-300h0m0 269h0m0 61h0m1-14h0m0 1h0m1-363h0m0 288h0m1-260h0m1 270h0m0 60h0m1-47h0m1-26h0m0 27h0m0 25h0m1-37h0m1-277h0m0 272h0m0 18h0m0 54h0m1-343h0m0 269h0m0 4h0m1-7h0m0 49h0m0 16h0m1-62h0m0 61h0m0 19h0m2-366h0m0 296h0m0 29h0m1-304h0m0 261h0m0 27h0m2-295h0m0 311h0m1-314h0m0 294h0m2-289h0m0 281h0m0 12h0m0 26h0m0 24h0m1-356h0m0 8h0m0 8h0m0 264h0m0 87h0m1-360h0m0 186h0m0 71h0m1 70h0m2-314h0m0 253h0m0 11h0m1-89h0m1 19h0m0 133h0m0 15h0m1-99h0m1 20h0m0 16h0m2-43h0m0 0h0m0 4h0m0 12h0m1-266h0m0 190h0m0 162h0m1-147h0m0 5h0m0 6h0m0 65h0m0 20h0m1-46h0m1-59h0m0 70h0m0 77h0m2-129h0m1 76h0m1-95h0m0 28h0m0 80h0m1-8h0m0 2h0m1-77h0m0 124h0m1-129h0m0 47h0m3-59h0m0 5h0m1-7h0m1 4h0m0 37h0m0 7h0m0 33h0m1 0h0m1 7h0m0 4h0m1-51h0m0 5h0m0 39h0m1-48h0m0 79h0m1-42h0m3 35h0m2-68h0m0 16h0m0 4h0m0 19h0m1-40h0m1 13h0m0 1h0m1 73h0m1-44h0m0 48h0m2-72h0m0 20h0m0 7h0m2 41h0m1-71h0m2-23h0m0 91h0m1-65h0m0 75h0m1-100h0m0 6h0m1 32h0m0 60h0m2-80h0m1 10h0m0 16h0m0 38h0m1-3h0m2-23h0m0 9h0m0 25h0m1-40h0m4 7h0m1 9h0m2-13h0m0 19h0m1-36h0m0 2h0m1 10h0m3 33h0m1-28h0m1 3h0m0 7h0m1 4h0m1-27h0m0 27h0m1-20h0m2 34h0m1-36h0m0 11h0m1 1h0m2-15h0m0 29h0m1-22h0m1 0h0m1 0h0m0 26h0m2-23h0m1 28h0m1 2h0m2-49h0m0 4h0m2 31h0m1 24h0m1-43h0m0 29h0m2-25h0m1-10h0m3 27h0m1 4h0m1-17h0m0 27h0m2-28h0m1 26h0m2-27h0m0 28h0m0 4h0m3-36h0m3-7h0m0 37h0m1-11h0m1-14h0m0 16h0m0 20h0m1-14h0m1-38h0m0 3h0m0 34h0m2-20h0m1 32h0m1-35h0m0 6h0m0 4h0m0 21h0" stroke="#000" stroke-width="6.05"/>
<path d="M957 147h0m0 12h0m6-27h0m1 7h0m1 27h0m2-25h0m4-1h0m1 20h0m0 1h0m2-5h0m4-5h0m1-3h0m2-30h0m1 27h0m1-20h0m1 0h0m2 26h0m0 6h0m4 5h0m0 2h0m1-5h0m0 9h0m6-53h0m1 1h0m0 0h0m0 39h0m1 12h0m3-31h0m1-13h0m0 30h0m0 8h0m2-9h0m1-19h0m0 1h0m0 22h0m3-32h0m1 11h0m2 33h0m2-49h0m3 31h0m4 9h0m1-34h0m0 41h0m3 5h0m1-13h0m1-48h0m1 29h0m1-28h0m0 18h0m1-5h0m0 6h0m3 22h0m1-15h0m2 0h0m1 19h0m1-14h0m1-16h0m0 5h0m2-14h0m1-6h0m0 46h0m2-9h0m0 1h0m3-29h0m0 14h0m1-19h0m0 15h0m3 34h0m1-30h0m0 30h0m4-9h0m1 1h0m0 8h0m2-25h0m2-27h0m0 5h0m2-8h0m0 56h0m2-53h0m3 11h0m1 7h0m1-8h0m1 5h0m0 18h0m1-19h0m1 46h0m1-66h0m0 64h0m1-56h0m0 17h0m1 29h0m1-51h0m0 2h0m0 58h0m3-30h0m0 9h0m2-30h0m0 21h0m2-27h0m0 11h0m2 11h0m0 3h0m1-30h0m0 3h0m0 44h0m2-42h0m0 24h0m2-31h0m1 9h0m0 25h0m1-13h0m3-19h0m1 15h0m0 3h0m3-25h0m1 10h0m1-2h0m0 5h0m11 46h0m2 1h0m7-48h0m1-17h0m1 18h0m7-14h0m1-11h0m7 113h0m5 10h0m7-8h0m0 11h0m2-8h0m4 1h0m1 12h0m1-11h0" stroke="#8491B4" stroke-width="5.6"/>
<path d="M963 134h0m46 33h0m9-53h0m43 36h0m10 22h0m14-37h0m10-18h0m7 12h0m1-22h0m1-9h0m12 12h0m4-19h0m2 22h0m2 4h0m2 7h0m1-18h0m1 1h0m1-12h0m1 36h0m1-36h0m4 5h0m1 9h0m1-9h0m0 2h0m0 15h0m2-30h0m3 52h0m3-22h0m0 13h0m1-25h0m1-15h0m0 1h0m1 24h0m1-15h0m0 5h0m0 4h0m0 8h0m1-5h0m1 1h0m1-25h0m0 15h0m1 11h0m0 9h0m4-7h0m1-16h0m0 28h0m1-5h0m1-6h0m1-30h0m1 101h0m2-67h0m0 7h0m0 9h0m0 0h0m0 43h0m1-61h0m0 16h0m1-33h0m0 10h0m1 80h0m1-94h0m0 5h0m1 2h0m0 39h0m1-49h0m0 2h0m0 9h0m0 18h0m1-11h0m1-25h0m0 25h0m0 18h0m0 49h0m2-69h0m2-13h0m0 5h0m0 95h0m1-10h0m3-57h0m0 20h0m0 5h0m0 38h0m2-90h0m1 70h0m2-74h0m1 1h0m0 20h0m1-39h0m0 70h0m0 7h0m1-69h0m0 9h0m0 31h0m0 3h0m0 4h0m2-38h0m1 40h0m0 1h0m1 15h0m1-1h0m1-57h0m0 1h0m0 80h0m2-90h0m0 10h0m0 53h0m2-54h0m2 32h0m1-24h0m0 57h0m2-72h0m0 49h0m1-21h0m0 7h0m0 17h0m0 5h0m1-32h0m0 34h0m0 6h0m1-4h0m2-6h0m1-53h0m0 27h0m0 32h0m1-56h0m0 62h0m0 4h0m1 1h0m1-42h0m1-34h0m0 19h0m0 26h0m1-27h0m0 9h0m0 33h0m1 12h0m0 2h0m1-72h0m0 10h0m0 39h0m1-24h0m0 13h0m3 8h0m1-14h0m1-27h0m1 25h0m1 14h0m2 21h0m2-56h0m0 10h0m1 13h0m0 16h0m0 5h0m1-41h0m6 7h0m0 37h0m1-34h0m1-14h0m0 0h0m0 30h0m1-33h0m0 27h0m1-30h0m0 8h0m0 12h0m0 11h0m1 30h0m2-46h0m1 28h0m5-5h0m1 1h0m4-17h0m1 21h0m2-7h0m1-3h0m2 5h0m1-13h0m0 8h0m0 8h0m1-9h0m3 13h0m7-14h0" stroke="#E64B35" stroke-width="5.6"/>
<path d="M1201 427h0m14 38h0m26 16h0m8-9h0m3 6h0m8-7h0m1 11h0m4-83h0m2 63h0m0 15h0m5-4h0m1-71h0m0 20h0m2 42h0m4-40h0m1-8h0m1 49h0m6-62h0m1 0h0m1 11h0m1-51h0m0 5h0m0 39h0m1-48h0m6 4h0m0 16h0m0 4h0m0 19h0m1-40h0m1 13h0m0 1h0m4 5h0m0 20h0m0 7h0m3-30h0m2-23h0m1 26h0m1-25h0m0 6h0m1 32h0m2-20h0m1 10h0m0 16h0m3 12h0m1-6h0m4 7h0m1 9h0m2-13h0m0 19h0m1-36h0m1 12h0m3 33h0m1-28h0m1 3h0m0 7h0m1 4h0m1-27h0m0 27h0m1-20h0m2 34h0m1-36h0m0 11h0m1 1h0m2-15h0m0 29h0m1-22h0m1 0h0m1 0h0m0 26h0m2-23h0m1 28h0m1 2h0m2-49h0m0 4h0m2 31h0m1 24h0m1-43h0m0 29h0m2-25h0m1-10h0m3 27h0m1 4h0m1-17h0m2-1h0m3-1h0m0 28h0m0 4h0m3-36h0m3-7h0m0 37h0m1-11h0m1-14h0m0 16h0m0 20h0m1-14h0m1-38h0m0 3h0m0 34h0m2-20h0m1 32h0m1-35h0m0 6h0m0 25h0" stroke="#DC0000" stroke-width="5.6"/>
<path d="M1174 482h0m17-22h0m0 3h0m1 15h0m6-42h0m34 27h0m1 14h0m3-68h0m4 42h0m2 16h0m0 1h0m1-75h0m2 70h0m2-21h0m2-42h0m2-5h0m0 49h0m0 16h0m1-1h0m2-22h0m1-16h0m2 16h0m1-20h0m2 4h0m0 26h0m3 2h0m5-71h0m1 36h0m2-43h0m0 0h0m2-34h0m5 74h0m1-67h0m1 74h0m9-8h0m2 28h0m1-42h0m3 35h0m5 18h0m1-44h0m0 48h0m4-4h0m3-3h0m1 10h0m2-2h0m3-16h0m1-3h0m2-14h0m0 25h0m9-52h0m36 46h0m3-2h0m16-18h0" stroke="#00A087" stroke-width="5.6"/>
<path d="M1163 483h0m12-6h0m2-42h0m1 15h0m1-3h0m1 0h0m5-3h0m1-13h0m6 47h0m1-49h0m0 6h0m1-18h0m0 57h0m1-29h0m0 15h0m2-30h0m0 18h0m2-29h0m1 49h0m3-17h0m0 11h0m2 23h0m3-60h0m0 37h0m1 12h0m0 3h0m1-32h0m0 42h0m1-48h0m1 47h0m2-64h0m1 18h0m0 3h0m0 41h0m1-50h0m1 6h0m0 8h0m1-35h0m1 25h0m0 2h0m1 39h0m1 7h0m1-55h0m0 10h0m0 18h0m1-51h0m3 57h0m0 11h0m1-71h0m0 78h0m1-21h0m2-40h0m0 27h0m2-33h0m2 37h0m1-47h0m5 18h0m1-4h0m4-17h0m1 13h0m1-26h0m0 27h0m1-12h0m1 13h0m1-20h0m0 4h0m2-4h0m2 10h0m1-14h0m5 15h0m1-14h0m1-87h0m0 71h0m3 9h0m1-78h0m1 19h0m2 69h0m2-23h0m0 12h0m1-76h0m1 15h0m0 5h0m1 45h0m1-59h0m0 70h0m2-52h0m2-19h0m2 25h0m1-5h0m0 47h0m3-59h0m0 5h0m1-7h0m1 4h0m0 37h0m0 7h0" stroke="#3C5488" stroke-width="5.6"/>
<path d="M951 525h0m0 14h0m1-33h0m1 34h0m1 8h0m7-15h0m1-21h0m1-15h0m1 23h0m1 37h0m1-48h0m1 19h0m1 17h0m0 11h0m1-48h0m0 44h0m1 3h0m2-31h0m0 20h0m0 9h0m2-22h0m0 28h0m2-41h0m1-6h0m1-19h0m0 58h0m1-50h0m2 21h0m0 39h0m1-12h0m1-32h0m0 22h0m1-30h0m0 5h0m1 43h0m1-1h0m2-43h0m3-4h0m0 13h0m2-21h0m0 4h0m0 23h0m0 27h0m2-20h0m0 7h0m0 3h0m1 13h0m3 21h0m2-73h0m0 31h0m2-19h0m0 28h0m0 6h0m0 31h0m1 3h0m1-49h0m0 45h0m1-77h0m2 46h0m0 21h0m1-32h0m0 2h0m0 25h0m2 6h0m1-65h0m0 21h0m0 7h0m0 7h0m1-33h0m0 5h0m0 34h0m0 29h0m2-56h0m1 31h0m0 24h0m0 14h0m1-73h0m0 5h0m3 9h0m0 5h0m0 33h0m3-37h0m0 55h0m2-22h0m4-55h0m0 38h0m1-43h0m0 23h0m0 33h0m1-37h0m1-10h0m0 17h0m0 56h0m1-65h0m1 32h0m1-23h0m1-16h0m0 64h0m5-53h0m1 59h0m1 17h0m1-105h0m1 20h0m3 27h0m1-6h0m2 9h0m1 19h0m0 1h0m1 23h0m1-61h0m3 21h0m0 29h0m1-9h0m2-14h0m6 9h0m2-22h0m3-9h0m2 9h0m0 11h0m5-36h0m1 25h0m0 27h0m2-20h0m1-52h0m1-7h0m10 29h0m3 24h0m6-24h0m0 46h0m3 15h0m8-72h0m0 23h0m9-14h0m2 29h0m4 35h0m2-18h0m1 26h0m13-19h0m2 5h0m3-7h0m9 29h0m7 15h0m11-3h0" stroke="#91D1C2" stroke-width="5.6"/>
<path d="M999 505h0m10 62h0m1-60h0m1 80h0m4-12h0m7-47h0m1 39h0m2-25h0m2-29h0m2-11h0m1 77h0m1-44h0m0 23h0m6 34h0m2 6h0m3-15h0m0 16h0m4-67h0m1 68h0m2-86h0m0 68h0m1 5h0m1-86h0m0 12h0m0 16h0m1 48h0m1 6h0m1-27h0m1-47h0m0 33h0m1 50h0m2-63h0m1-29h0m0 16h0m0 15h0m0 8h0m1 15h0m1-12h0m1-30h0m2 4h0m1-21h0m0 40h0m0 74h0m1-64h0m1-43h0m0 52h0m1-33h0m0 53h0m1 18h0m0 0h0m1-86h0m0 52h0m1-27h0m1 1h0m0 76h0m0 3h0m1-76h0m1 18h0m1 27h0m1-67h0m0 46h0m3 52h0m1-45h0m5-52h0m0 25h0m0 72h0m1-25h0m0 7h0m0 16h0m2-116h0m0 3h0m1 28h0m1 77h0m1-65h0m1-42h0m0 55h0m5 2h0m1-48h0m0 2h0m0 1h0m2-13h0m0 39h0m0 26h0m1-28h0m0 21h0m3-25h0m0 31h0m2-41h0m2-9h0m0 32h0m1 33h0m1-74h0m1 7h0m4 4h0m0 28h0m3 17h0m1-53h0m4 36h0m2-30h0m3 7h0m2 55h0m1-57h0m0 11h0m0 40h0m6 32h0m4-29h0m9 10h0m2-5h0m2 19h0m2 10h0m5-8h0m2-5h0m0 17h0" stroke="#4DBBD5" stroke-width="5.6"/>
<path d="M972 542h0m19 2h0m12 29h0m5-4h0m1-36h0m7 23h0m2-31h0m9 9h0m2 39h0m1-44h0m2 61h0m7-74h0m0 58h0m1-68h0m5 48h0m4-29h0m1 20h0m0 25h0m2 13h0m1-83h0m0 74h0m0 22h0m2-37h0m0 30h0m1-43h0m0 33h0m2 15h0m2-28h0m0 7h0m1 28h0m2-66h0m0 27h0m1 35h0m0 4h0m1-87h0m0 29h0m0 18h0m2 35h0m1-50h0m0 15h0m1 48h0m0 3h0m1-112h0m0 72h0m0 26h0m1-83h0m0 22h0m0 57h0m1 4h0m1-105h0m0 101h0m3-26h0m1 32h0m1-44h0m2 46h0m1-98h0m0 39h0m0 50h0m1 1h0m0 15h0m1-35h0m0 13h0m2 4h0m3-79h0m0 16h0m0 43h0m1 15h0m0 0h0m0 17h0m8-43h0m2-62h0m2 36h0m1-40h0m3 17h0m0 6h0m0 65h0m1-78h0m0 18h0m0 44h0m1-54h0m0 20h0m1 18h0m1 24h0m1-73h0m4 4h0m0 29h0m0 0h0m2 3h0m0 25h0m0 10h0m1-61h0m2 49h0m0 22h0m4-5h0m1-47h0m1 8h0m0 35h0m1-62h0m2 34h0m2 19h0m2 28h0m1-69h0m2 22h0m1 41h0m1-32h0m3 45h0m3-25h0m0 20h0m1-16h0m8 30h0m2-35h0m12 30h0" stroke="#F39B7F" stroke-width="5.6"/>
<path d="M691 366h0m1-6h0m1 14h0m1 15h0m1-26h0m1-5h0m1 2h0m0 14h0m0 1h0m1 25h0m3-48h0m0 10h0m2 8h0m1 20h0m1 9h0m1-52h0m0 44h0m1 1h0m1-43h0m0 22h0m0 13h0m1-13h0m0 20h0m4-9h0m1-17h0m1-5h0m0 34h0m0 10h0m1-38h0m2-8h0m1 22h0m1-17h0m1-11h0m0 24h0m0 22h0m1 6h0m1-70h0m0 45h0m1 2h0m1-28h0m1-13h0m0 6h0m1 49h0m1-61h0m0 21h0m2 18h0m0 29h0m1-35h0m0 18h0m1-33h0m1-18h0m1-6h0m0 5h0m0 30h0m2-17h0m0 20h0m1 3h0m0 9h0m1-39h0m1-9h0m0 75h0m1-52h0m1 16h0m0 25h0m1 0h0m0 0h0m0 10h0m2-72h0m1 10h0m1 21h0m0 35h0m2-4h0m1 8h0m1-11h0m1-3h0m1-52h0m1 7h0m0 29h0m0 0h0m0 21h0m1-24h0m0 5h0m0 3h0m1-29h0m0 51h0m1-16h0m1-9h0m3 7h0m1-35h0m0 6h0m0 20h0m1 1h0m0 11h0m1-25h0m1 38h0m1-2h0m3-17h0m2-1h0m1 0h0m0 27h0m1-26h0m0 3h0m5 5h0m0 10h0m2-21h0m1 13h0m1-14h0m1 7h0m0 3h0m0 20h0m1-8h0m3-9h0" stroke="#7E6148" stroke-width="5.6"/>
<path d="M692 357h0m3 18h0m1-9h0m0 1h0m3-13h0m3-5h0m0 4h0m2-2h0m2 3h0m0 18h0m1-18h0m1 25h0m1-37h0m1 22h0m0 25h0m2-35h0m4 31h0m3 14h0m1-43h0m0 46h0m3-60h0m1 14h0m0 3h0m0 2h0m0 17h0m0 17h0m1-49h0m1 22h0m0 0h0m0 24h0m0 6h0m0 5h0m1-43h0m0 4h0m1 2h0m1 2h0m0 20h0m1-42h0m1 24h0m0 11h0m0 25h0m1-56h0m0 2h0m0 5h0m0 3h0m1 8h0m0 2h0m0 2h0m1 3h0m0 25h0m1-5h0m2-45h0m0 7h0m0 18h0m1-39h0m0 66h0m1-62h0m0 15h0m2 16h0m1-2h0m0 18h0m0 14h0m1-65h0m1 3h0m0 29h0m1 11h0m1 17h0m0 3h0m1-50h0m0 16h0m1-3h0m0 0h0m0 11h0m0 4h0m1-13h0m0 1h0m0 27h0m1-29h0m0 2h0m1 25h0m0 0h0m1 10h0m1-4h0m1-32h0m1 22h0m2-15h0m0 12h0m1-5h0m1-13h0m0 20h0m2-25h0m0 12h0m0 34h0m3-37h0m0 38h0m2-29h0m1-4h0m1-1h0m1-9h0m0 35h0m0 0h0m0 6h0m3-21h0m0 18h0m2-31h0m0 4h0m6 28h0m3 2h0m1-22h0m0 19h0m164 138h0m3-27h0m0 24h0m1-13h0m1-376h0m0 375h0m0 26h0m2-14h0m0 10h0m1-414h0m2 31h0m0 364h0m2 5h0m1-18h0m0 29h0m1 5h0m1-32h0m0 30h0m0 8h0m2-416h0m0 27h0m1-5h0m1 389h0m1-425h0m0 30h0m0 395h0m2-43h0m0 1h0m0 28h0m0 19h0m1-414h0m1 368h0m0 32h0m0 8h0m1-42h0m1-5h0m1 30h0m0 4h0m1-30h0m0 37h0m0 1h0m3-412h0m0 31h0m1 341h0m1-368h0m0 24h0m0 5h0m1-11h0m1 6h0m0 5h0m1-8h0m2 340h0m1-374h0m0 42h0m0 360h0m1-395h0m0 380h0m0 14h0m2 25h0m0 23h0m3-434h0m0 4h0m0 0h0m0 354h0m0 18h0m0 46h0m1-389h0m0 330h0m1 10h0m0 6h0m1-393h0m1-4h0m0 427h0m1-431h0m0 25h0m0 422h0m1-434h0m0 368h0m0 18h0m0 24h0m1-387h0m0 9h0m0 12h0m0 323h0m0 42h0m1-7h0m0 13h0m0 37h0m1-61h0m1-390h0m1 414h0m2-405h0m0 9h0m0 2h0m0 378h0m0 18h0m0 18h0m1-446h0m0 396h0m0 3h0m0 25h0m0 3h0m1-407h0m0 1h0m0 24h0m0 400h0m1-415h0m1-25h0m0 33h0m0 385h0m0 39h0m1-433h0m0 10h0m0 420h0m1-439h0m0 29h0m0 386h0m1-19h0m0 19h0m0 23h0m0 13h0m1-463h0m0 32h0m0 364h0m0 6h0m0 43h0m0 24h0m1-457h0m0 4h0m0 1h0m0 362h0m0 78h0m1-423h0m0 342h0m0 42h0m1-376h0m0 366h0m0 31h0m1-401h0m0 6h0m0 354h0m0 46h0m0 7h0m0 17h0m0 5h0m1-479h0m0 33h0m0 354h0m0 78h0m1-454h0m0 15h0m0 17h0m0 336h0m0 88h0m1-449h0m0 378h0m0 73h0m1-452h0m0 3h0m1 408h0m1-35h0m0 12h0m1 21h0m1-398h0m0 10h0m0 10h0m0 332h0m1-373h0m0 14h0m0 16h0m0 397h0m0 11h0m0 25h0m1-420h0m0 394h0m1-418h0m0 446h0m1-81h0m0 37h0m0 34h0m1-30h0m1 31h0m1-436h0m0 435h0m1-414h0m0 375h0m0 5h0m0 11h0m0 26h0m0 6h0m0 8h0m1-84h0m0 16h0m0 23h0m0 14h0m1-422h0m0 359h0m0 2h0m0 20h0m1-364h0m0 397h0m1-25h0m0 40h0m0 6h0m1-439h0m0 15h0m0 14h0m0 332h0m1-371h0m0 20h0m0 357h0m0 64h0m1-437h0m0 375h0m0 31h0m0 23h0m0 13h0m0 21h0m1-91h0m0 16h0m0 54h0m1-435h0m0 3h0m0 13h0m0 379h0m0 62h0m1-459h0m0 445h0m1-64h0m0 61h0m1-437h0m0 3h0m0 379h0m0 17h0m1-420h0m0 13h0m0 365h0m0 26h0m0 18h0m0 20h0m1-441h0m0 10h0m0 437h0m0 12h0m1 15h0m1-461h0m0 429h0m0 28h0m1-435h0m0 374h0m1-7h0m0 46h0m1-440h0m0 366h0m0 94h0m1-437h0m0 9h0m0 3h0m0 403h0m1 19h0m0 20h0m1-461h0m0 21h0m0 439h0m1-471h0m0 396h0m0 45h0m1-447h0m0 9h0m0 377h0m0 68h0m1-468h0m0 14h0m0 413h0m0 33h0m1-30h0m0 55h0m1-97h0m0 10h0m0 4h0m0 81h0m1-492h0m0 32h0m0 394h0m0 71h0m1-492h0m0 410h0m0 5h0m0 16h0m0 11h0m0 23h0m1-416h0m0 377h0m1-396h0m0 30h0m0 327h0m0 25h0m0 6h0m0 3h0m1-29h0m0 10h0m0 39h0m1-409h0m0 9h0m0 4h0m0 410h0m1-455h0m0 32h0m0 350h0m0 15h0m0 33h0m0 23h0m0 19h0m1-87h0m0 42h0m0 26h0m1-31h0m0 56h0m0 22h0m1-38h0m0 36h0m1-489h0m0 25h0m0 420h0m1-435h0m0 448h0m0 12h0m1-480h0m0 33h0m0 458h0m1-492h0m0 15h0m0 1h0m0 5h0m0 369h0m0 106h0m1-491h0m0 38h0m0 407h0m1-394h0m0 10h0m0 406h0m0 19h0m1-467h0m0 395h0m0 3h0m0 46h0m1-454h0m0 406h0m0 5h0m1-392h0m1 392h0m0 51h0m1-476h0m0 16h0m0 42h0m0 412h0m0 2h0m1-71h0m0 65h0m0 34h0m1-507h0m0 24h0m0 0h0m0 39h0m1-34h0m0 409h0m0 44h0m0 2h0m1-475h0m0 7h0m0 429h0m0 59h0m1-500h0m0 469h0m1-51h0m0 7h0m0 0h0m0 21h0m0 24h0m0 22h0m0 7h0m1-77h0m0 15h0m0 50h0m1-472h0m0 5h0m0 384h0m0 24h0m0 10h0m1-428h0m0 13h0m0 1h0m0 412h0m1-395h0m0 361h0m0 24h0m0 7h0m0 19h0m0 13h0m0 23h0m1-494h0m0 31h0m0 395h0m0 45h0m0 3h0m0 2h0m1-478h0m1 28h0m0 408h0m0 5h0m0 1h0m0 17h0m1-447h0m1 455h0m1-456h0m0 5h0m0 423h0m0 3h0m0 39h0m1-83h0m0 53h0m0 25h0m1-476h0m1 407h0m0 56h0m1-54h0m0 68h0m1-46h0m0 18h0m0 26h0m0 2h0m1-462h0m0 421h0m0 6h0m0 19h0m1-461h0m1 406h0m0 19h0m0 5h0m0 1h0m1-432h0m0 453h0m1 31h0m1-449h0m0 408h0m1 28h0m1-78h0m0 61h0m1-15h0m2-439h0m0 479h0m1-412h0m1 357h0m1 7h0m0 0h0m2-6h0m0 41h0m1-9h0m1-53h0m0 61h0m1-52h0m0 42h0m0 1h0m1 27h0m1-471h0m0 471h0m1-16h0m0 5h0m1-455h0m0 399h0m0 0h0m0 39h0m0 19h0m1-475h0m0 17h0m0 426h0m0 50h0m2-487h0m1 408h0m1-408h0m2-3h0m0 430h0m0 4h0m1-434h0m0 458h0m0 32h0m1-476h0m0 441h0m1-466h0m0 491h0m2-485h0m0 33h0m1 431h0m0 5h0m0 23h0m0 6h0m0 1h0m1-455h0m1-23h0m0 6h0m0 81h0m0 347h0m0 49h0m1-500h0m0 5h0m0 99h0m1 350h0m0 34h0m1-497h0m0 34h0m0 475h0m2-482h0m0 485h0m1-482h0m1 17h0m0 465h0m1-492h0m0 24h0m1-41h0m2-2h0m1 109h0m0 1h0m0 9h0m0 380h0m0 17h0m0 2h0m1-514h0m0 498h0m1-466h0m0 461h0m0 12h0m1-516h0m0 24h0m0 97h0m0 379h0m0 15h0m1-475h0m3-8h0m0 26h0m0 440h0m0 19h0m1-393h0m1-83h0m0 19h0m0 64h0m1-121h0m0 109h0m1-109h0m0 2h0m0 510h0m0 1h0m1-471h0m0 463h0m0 17h0m1-472h0m0 8h0m1 3h0m0 57h0m0 275h0m0 130h0m1-435h0m0 416h0m1-494h0m0 10h0m0 29h0m0 13h0m0 445h0m0 20h0m1-27h0m1-501h0m0 40h0m0 487h0m1-496h0m0 6h0m0 480h0m1-517h0m0 2h0m0 526h0m1-480h0m0 60h0m1-75h0m0 56h0m1 434h0m2-418h0m0 402h0m0 10h0m2-406h0m0 261h0m0 140h0m1-419h0m0 262h0m1-352h0m0 38h0m0 55h0m0 267h0m0 13h0m1-334h0m0 298h0m0 169h0m0 2h0m1-506h0m0 26h0m0 58h0m0 427h0m1-499h0m0 366h0m0 136h0m1-503h0m0 7h0m0 309h0m0 26h0m1-364h0m3 40h0m0 309h0m0 46h0m0 1h0m2-51h0m1-279h0m0 311h0m0 1h0m2-317h0m0 6h0m0 332h0m1-396h0m0 17h0m1 0h0m0 48h0m0 15h0m0 3h0m0 255h0m2 30h0m0 4h0m0 11h0m0 1h0m1-362h0m0 34h0m0 11h0m0 8h0m0 267h0m0 15h0m0 32h0m1-330h0m1-57h0m0 2h0m0 42h0m0 29h0m1-30h0m0 27h0m0 279h0m1 12h0m1-357h0m0 58h0m0 331h0m1-320h0m4-71h0m0 22h0m1 330h0m1-324h0m0 39h0m0 288h0m0 46h0m2-365h0m0 329h0m1-328h0m0 317h0m1-341h0m0 6h0m0 41h0m0 272h0m0 11h0m0 1h0m0 9h0m0 38h0m1-328h0m0 260h0m0 5h0m1-290h0m1 22h0m0 296h0m0 39h0m0 3h0m1-395h0m0 26h0m0 21h0m0 10h0m0 326h0m1-56h0m0 53h0m1-358h0m0 36h0m0 7h0m0 251h0m0 25h0m1 7h0m1-338h0m0 339h0m1-302h0m0 277h0m0 17h0m0 15h0m0 26h0m0 11h0m1-380h0m0 18h0m0 25h0m1-46h0m0 8h0m0 326h0m0 27h0m3-353h0m0 354h0m1-365h0m1-5h0m0 334h0m0 30h0m1-308h0m0 280h0m1-315h0m0 298h0m0 6h0m0 28h0m0 22h0m1-359h0m1 12h0m1 301h0m0 11h0m0 19h0m1-23h0m0 37h0m2-365h0m1 39h0m0 268h0m1-309h0m0 17h0m0 284h0m0 19h0m0 32h0m0 4h0m1-338h0m0 312h0m1-322h0m0 287h0m0 54h0m1-5h0m1-333h0m0 286h0m0 0h0m0 23h0m0 28h0m1-323h0m0 275h0m0 35h0m0 35h0m1-373h0m0 298h0m0 10h0m0 47h0m1-61h0m0 65h0m1-60h0m0 61h0m1-66h0m0 4h0m0 20h0m0 57h0m1-364h0m0 329h0m0 19h0m1-324h0m0 274h0m1-298h0m0 17h0m0 263h0m0 38h0m0 18h0m1-57h0m0 48h0m1-31h0m0 68h0m1-77h0m0 23h0m1-8h0m0 11h0m0 16h0m1-30h0m1 38h0m1-332h0m0 202h0m0 113h0m2-53h0m0 18h0m0 46h0m0 30h0m1-352h0m0 205h0m1-208h0m0 282h0m3-85h0m0 15h0m1 64h0m0 7h0m1 24h0m1 0h0m1-103h0m0 62h0m1-64h0m0 2h0m0 19h0m1 31h0m0 10h0m1-47h0m0 12h0m1-15h0m1 56h0m0 16h0m1-85h0m0 33h0m0 20h0m1-47h0m0 13h0m0 26h0m1-27h0m0 9h0m1-14h0m1 32h0m2 75h0m2-38h0m0 2h0m2 18h0m2-49h0m0 3h0m2-41h0m1 30h0m0 14h0m0 12h0m0 8h0m1-26h0m0 62h0m1-33h0m0 5h0m1-36h0m0 0h0m0 34h0m0 2h0m0 31h0m0 4h0m2-54h0m1 15h0m0 2h0m2 45h0m1-16h0m0 23h0m1-37h0m1-61h0m0 21h0m1-11h0m0 87h0m1-98h0m0 42h0m0 41h0m2-67h0m0 3h0m0 35h0m0 40h0m1-89h0m0 10h0m0 6h0m0 4h0m0 73h0m0 3h0m1-81h0m0 20h0m0 6h0m0 58h0m1-36h0m1-42h0m1 58h0m1-70h0m0 31h0m1-30h0m0 31h0m0 49h0m2-55h0m0 19h0m4 4h0m1-13h0m2 20h0m3-1h0m1-9h0m0 6h0m1-14h0m0 21h0m2 2h0m2-20h0m0 27h0m4 2h0m0 6h0m2-45h0m0 54h0m1-19h0m1-28h0m4 37h0m1-43h0m1 5h0m2 1h0m2 19h0m0 21h0m2-14h0m2-37h0m0 29h0m0 1h0m2-24h0m0 42h0m2-38h0m0 5h0m3 9h0m0 21h0m0 13h0m2-28h0m0 3h0m2-30h0m2 33h0m0 6h0m3-35h0m0 29h0m1-11h0m2-19h0m1 3h0m0 21h0m1 0h0m2-2h0m0 11h0m2-18h0m1-5h0m2-11h0" stroke="#000" stroke-width="6.05"/>
<path d="M953 148h0m3-17h0m2 31h0m7-25h0m0 27h0m1-5h0m2-36h0m0 30h0m3-14h0m8-9h0m0 31h0m2-27h0m0 24h0m0 5h0m2-5h0m0 5h0m1-8h0m3-34h0m0 42h0m6-27h0m0 4h0m0 0h0m3-18h0m1-4h0m1-4h0m0 25h0m1-12h0m1 23h0m0 9h0m0 12h0m3-43h0m3 18h0m1-30h0m1 20h0m0 1h0m1 9h0m1-25h0m0 33h0m1-9h0m0 10h0m1-19h0m0 29h0m2-41h0m0 32h0m1-20h0m0 4h0m0 1h0m1 17h0m2 4h0m0 6h0m1-50h0m0 33h0m1-22h0m0 15h0m0 17h0m1-25h0m1-1h0m0 3h0m4 8h0m0 10h0m0 10h0m1-41h0m0 14h0m0 16h0m1 13h0m1-24h0m4 1h0m1 21h0m2-22h0m1 17h0m2-21h0m0 15h0m0 14h0m1-39h0m0 20h0m1-16h0m2 7h0m0 3h0m0 13h0m1-18h0m2 5h0m0 3h0m1-24h0m0 13h0m1-12h0m0 10h0m2 3h0m1 22h0m3-4h0m0 9h0m0 3h0m2-19h0m0 21h0m1-32h0m1-6h0m0 9h0m1-23h0m0 14h0m3-23h0m0 32h0m1-27h0m1 49h0m1-19h0m0 30h0m2-28h0m0 9h0m0 4h0m1-45h0m0 32h0m4-23h0m0 25h0m1-15h0m1-20h0m0 33h0m1-34h0m0 15h0m0 1h0m0 5h0m1-16h0m1 51h0m0 10h0m1-42h0m1-10h0m1 19h0m2-33h0m0 16h0m0 42h0m2-65h0m0 24h0m0 0h0m0 39h0m1-34h0m1-20h0m0 7h0m1-12h0m3 15h0m0 5h0m1-10h0m0 13h0m0 1h0m2-30h0m0 31h0m1-33h0m1 28h0m1-16h0m2-1h0m0 5h0m2-16h0m4 15h0m1-15h0m2-1h0m2 35h0m15-23h0m3-13h0m14 106h0m1 0h0m11-3h0m0 1h0m0 9h0m3-5h0m5 3h0m1 0h0m1-12h0m4 9h0" stroke="#8491B4" stroke-width="5.6"/>
<path d="M982 152h0m6-24h0m6 41h0m12-32h0m0 11h0m2 13h0m9 5h0m36-34h0m23 22h0m16-5h0m22-50h0m1 67h0m11-50h0m1-1h0m2-11h0m2 0h0m2-3h0m1 0h0m1 14h0m1-25h0m2 6h0m0 33h0m2 11h0m1-23h0m0 6h0m1-23h0m0 5h0m2-14h0m0 34h0m2-7h0m1 3h0m1 17h0m1-27h0m0 24h0m1-41h0m2-2h0m2 4h0m1 32h0m1-43h0m0 24h0m1 16h0m3-8h0m0 26h0m2-17h0m0 19h0m1-57h0m1 0h0m0 2h0m1 40h0m1 8h0m0 8h0m1 3h0m1 27h0m1-78h0m0 10h0m0 29h0m0 13h0m2-63h0m0 40h0m1-9h0m0 6h0m1-37h0m0 2h0m1 46h0m0 60h0m1-75h0m0 56h0m3 16h0m2 6h0m1-18h0m1-90h0m0 38h0m0 55h0m1-54h0m1-37h0m0 26h0m0 58h0m1-72h0m1-1h0m0 7h0m1-29h0m3 40h0m3 26h0m2-5h0m0 6h0m1-64h0m0 17h0m1 0h0m0 48h0m0 15h0m0 3h0m3-61h0m0 34h0m0 11h0m0 8h0m1-16h0m1-57h0m0 2h0m0 42h0m0 29h0m1-30h0m0 27h0m2-66h0m0 58h0m1 11h0m4-71h0m0 22h0m2 6h0m0 39h0m2-31h0m1 1h0m1-24h0m0 6h0m0 41h0m1 3h0m1-25h0m1 22h0m1-57h0m0 26h0m0 21h0m0 10h0m2-35h0m0 36h0m0 7h0m2-55h0m1 37h0m1-34h0m0 18h0m0 25h0m1-46h0m0 8h0m3 0h0m1-11h0m1-5h0m1 56h0m1-35h0m1-5h0m1 12h0m4-20h0m1 39h0m1-41h0m0 17h0m1 1h0m1-10h0m2 3h0m1 14h0m1-28h0m4 11h0m1 24h0m1-24h0m0 17h0m7-12h0m3 4h0m1-3h0" stroke="#E64B35" stroke-width="5.6"/>
<path d="M1237 433h0m1-4h0m13 42h0m5 0h0m7-3h0m14-69h0m9-3h0m0 2h0m4-31h0m0 3h0m3-11h0m0 14h0m0 12h0m0 8h0m1-26h0m1 29h0m0 5h0m1-36h0m0 0h0m2 17h0m6-29h0m1 10h0m1 31h0m2-26h0m0 3h0m0 35h0m1-49h0m0 10h0m0 6h0m0 4h0m1-5h0m0 20h0m0 6h0m2-20h0m2-12h0m0 31h0m1-30h0m0 31h0m2-6h0m0 19h0m4 4h0m1-13h0m2 20h0m3-1h0m1-9h0m0 6h0m1-14h0m0 21h0m2 2h0m2-20h0m0 27h0m4 2h0m0 6h0m2-45h0m0 54h0m1-19h0m1-28h0m4 37h0m1-43h0m1 5h0m2 1h0m2 19h0m0 21h0m2-14h0m2-37h0m0 29h0m0 1h0m2-24h0m0 42h0m2-38h0m0 5h0m3 9h0m0 21h0m0 13h0m2-28h0m0 3h0m2-30h0m2 33h0m0 6h0m3-35h0m0 29h0m1-11h0m2-19h0m1 3h0m0 21h0m1 0h0m2-2h0m0 11h0m2-18h0m1-5h0m2-11h0" stroke="#DC0000" stroke-width="5.6"/>
<path d="M1167 481h0m18-11h0m12-48h0m2 45h0m4-32h0m16 48h0m4-44h0m1 1h0m3 22h0m3 1h0m2-6h0m2 11h0m3-46h0m0 30h0m1 14h0m3-58h0m1 11h0m0 32h0m0 4h0m2-7h0m1-5h0m1 4h0m1-13h0m0 35h0m1-65h0m0 47h0m1 4h0m1 1h0m1-66h0m1 46h0m0 19h0m2-68h0m0 38h0m0 18h0m1-9h0m2-17h0m1 3h0m0 16h0m2 8h0m1-17h0m2-53h0m0 64h0m1-117h0m6 99h0m1 0h0m1-41h0m2-12h0m0 10h0m4-10h0m6 67h0m4-18h0m6 13h0m2-30h0m0 2h0m0 31h0m0 4h0m3-39h0m0 2h0m2 45h0m1-16h0m0 23h0m1-37h0m1-40h0m1 76h0m1-98h0m0 83h0m2 11h0m1 4h0m0 3h0m1 3h0m1-36h0m2 16h0m2 11h0" stroke="#00A087" stroke-width="5.6"/>
<path d="M1180 459h0m1-17h0m1 8h0m0 13h0m1-36h0m3-8h0m0 26h0m4-15h0m0 46h0m0 1h0m2-51h0m1 32h0m0 1h0m2 21h0m4-28h0m0 4h0m0 12h0m1-42h0m0 15h0m0 32h0m4-26h0m1 32h0m6-39h0m1 3h0m0 46h0m2-36h0m1-11h0m1-22h0m0 11h0m0 1h0m0 9h0m0 38h0m1-68h0m0 5h0m2 28h0m0 42h0m1-12h0m1-56h0m0 53h0m1-64h0m0 25h0m3-17h0m0 17h0m0 15h0m0 26h0m0 11h0m2-49h0m5-8h0m1 2h0m1-17h0m0 6h0m0 28h0m8-46h0m1 29h0m1-35h0m2 2h0m0 0h0m0 23h0m1-20h0m1-5h0m1-4h0m1 5h0m1-1h0m0 20h0m2-9h0m2-19h0m1 17h0m1-9h0m1 15h0m1-3h0m2-92h0m2 78h0m2 3h0m3-85h0m0 15h0m1 64h0m0 7h0m3-79h0m1-2h0m0 2h0m0 19h0m2-6h0m0 12h0m1-15h0m1 56h0m1-69h0m0 33h0m1-27h0m0 13h0m0 26h0m1-27h0m0 9h0m1-14h0m1 32h0m10-30h0" stroke="#3C5488" stroke-width="5.6"/>
<path d="M948 540h0m3-27h0m0 24h0m1-13h0m1-1h0m0 26h0m2-14h0m3-9h0m2 5h0m1-18h0m0 29h0m1 5h0m1-32h0m0 30h0m0 8h0m4-5h0m1 0h0m2-43h0m0 1h0m0 28h0m0 19h0m2-46h0m0 32h0m0 8h0m1-42h0m1-5h0m1 30h0m0 4h0m1-30h0m0 38h0m4-40h0m6-7h0m1 28h0m1-15h0m0 14h0m2 25h0m0 23h0m3-76h0m0 18h0m0 46h0m1-59h0m1 10h0m0 6h0m2 30h0m2-50h0m0 18h0m0 24h0m1-43h0m1 35h0m0 13h0m0 37h0m3-37h0m2-16h0m0 36h0m1-47h0m0 28h0m1 18h0m2-22h0m0 39h0m1-3h0m2-43h0m0 42h0m1-54h0m0 6h0m0 43h0m0 24h0m1-90h0m0 78h0m1-81h0m0 42h0m2-20h0m0 46h0m0 24h0m0 5h0m2-100h0m1 17h0m0 73h0m2-41h0m1-35h0m0 12h0m2-25h0m1 65h0m0 25h0m1-26h0m1 28h0m1-44h0m1 4h0m1 31h0m1-1h0m1 3h0m1-31h0m0 14h0m1-63h0m0 22h0m1 33h0m1-25h0m0 46h0m2-8h0m1-62h0m0 54h0m0 34h0m1-91h0m0 16h0m1 76h0m1-14h0m1-64h0m2-19h0m3 65h0m1-33h0m3 37h0m1 39h0m1-1h0m4-6h0m1-83h0m2 9h0m2 3h0m0 3h0m1-29h0m3 61h0m1 25h0m1-16h0m0 36h0m7-81h0m7 58h0m3-55h0m0 0h0m4-23h0m1 66h0m2-34h0m0 17h0m8-28h0m8 22h0m1-15h0m4-15h0m6-11h0m0 43h0m4-40h0m13 50h0m2 35h0m13-6h0m1 7h0m12 10h0m13-12h0m3-1h0" stroke="#91D1C2" stroke-width="5.6"/>
<path d="M955 545h0m21-4h0m22 20h0m2-25h0m2-18h0m4 26h0m1-32h0m0 28h0m5 11h0m5-19h0m0 31h0m1 12h0m1 8h0m6-39h0m9 2h0m0 43h0m1-60h0m3 44h0m5-37h0m2 45h0m1-55h0m1 1h0m5-1h0m1-28h0m0 94h0m4-59h0m0 45h0m1-61h0m1 27h0m1 3h0m1-42h0m0 10h0m1 19h0m0 71h0m1-82h0m0 21h0m2-44h0m0 25h0m1-10h0m0 39h0m2-59h0m0 15h0m0 33h0m1-3h0m1-5h0m0 78h0m2-46h0m1 25h0m1 11h0m1-102h0m1 60h0m1 41h0m1-69h0m1-2h0m0 5h0m2 0h0m2-24h0m0 65h0m0 34h0m2-25h0m1-37h0m0 59h0m2-82h0m0 52h0m1-48h0m1 6h0m1 8h0m1-3h0m1-13h0m0 45h0m0 5h0m2-42h0m0 5h0m2 26h0m1-28h0m0 3h0m0 39h0m1-30h0m2 12h0m1-54h0m1 68h0m1-41h0m2-30h0m0 24h0m0 1h0m1 21h0m2-10h0m5 36h0m3-48h0m2-6h0m1 32h0m1-53h0m1 51h0m1 28h0m2-16h0m1-51h0m0 58h0m1 18h0m6-60h0m1 28h0m5 1h0m0 35h0m14-4h0m0 19h0m3-25h0m0 15h0m8 1h0m1 9h0m4 5h0m2-1h0m7-20h0m5 2h0" stroke="#4DBBD5" stroke-width="5.6"/>
<path d="M1013 551h0m0 36h0m6-82h0m1 80h0m7-33h0m3-43h0m0 71h0m4-39h0m0 16h0m0 40h0m1-84h0m1-8h0m3-4h0m1 6h0m1 33h0m0 36h0m1 0h0m4-33h0m1 2h0m0 20h0m1 6h0m0 12h0m1 15h0m1-4h0m2-22h0m3 17h0m3-4h0m1-8h0m2 23h0m2-45h0m0 23h0m1-39h0m3 29h0m1-2h0m0 19h0m1-87h0m4 82h0m2 27h0m2-24h0m1-4h0m3 8h0m1-6h0m0 2h0m3-41h0m2 35h0m1-23h0m0 46h0m0 7h0m1-62h0m0 50h0m1-83h0m0 34h0m2-12h0m0 26h0m0 13h0m0 23h0m7-98h0m0 78h0m2-69h0m1 70h0m1-28h0m0 26h0m1-33h0m0 19h0m2-36h0m2 58h0m2-13h0m1-78h0m6 38h0m2 35h0m2-1h0m3 18h0m1-11h0m1-17h0m1-13h0m3-29h0m3 23h0m1 56h0m1-35h0m1 25h0m3 7h0m0 6h0m2-43h0m2 3h0m0 34h0m1 12h0m2 3h0m2 0h0m5 5h0m2-19h0m5-6h0m0 19h0m4-2h0m1-7h0m3-1h0m1 3h0m1-7h0m2 16h0m1 11h0m3-5h0m2-6h0m6-1h0m1 3h0" stroke="#F39B7F" stroke-width="5.6"/>
<path d="M692 357h0m3 18h0m1-9h0m0 1h0m3-13h0m3-5h0m0 4h0m2-2h0m2 3h0m0 18h0m1-18h0m1 25h0m1-37h0m1 22h0m0 25h0m2-35h0m4 31h0m3 14h0m1-43h0m0 46h0m3-60h0m1 14h0m0 3h0m0 2h0m0 17h0m0 17h0m1-49h0m1 22h0m0 0h0m0 24h0m0 6h0m0 5h0m1-43h0m0 4h0m1 2h0m1 2h0m0 20h0m1-42h0m1 24h0m0 11h0m0 25h0m1-56h0m0 2h0m0 5h0m0 3h0m1 8h0m0 2h0m0 2h0m1 3h0m0 25h0m1-5h0m2-45h0m0 7h0m0 18h0m1-39h0m0 66h0m1-62h0m0 15h0m2 16h0m1-2h0m0 18h0m0 14h0m1-65h0m1 3h0m0 29h0m1 11h0m1 17h0m0 3h0m1-50h0m0 16h0m1-3h0m0 0h0m0 11h0m0 4h0m1-13h0m0 1h0m0 27h0m1-29h0m0 2h0m1 25h0m0 0h0m1 10h0m1-4h0m1-32h0m1 22h0m2-15h0m0 12h0m1-5h0m1-13h0m0 20h0m2-25h0m0 12h0m0 34h0m3-37h0m0 38h0m2-29h0m1-4h0m1-1h0m1-9h0m0 35h0m0 0h0m0 6h0m3-21h0m0 18h0m2-31h0m0 4h0m6 28h0m3 2h0m1-22h0m0 19h0" stroke="#7E6148" stroke-width="5.6"/>
<path d="M958 153h0m2-20h0m1 21h0m2-13h0m1 7h0m2 11h0m1-15h0m0 18h0m2-24h0m4-13h0m0 29h0m1-26h0m0 13h0m1 8h0m1 16h0m1-28h0m1-17h0m3 9h0m0 16h0m2-5h0m2-10h0m0 3h0m1-7h0m2 26h0m1-33h0m0 2h0m0 3h0m0 0h0m1 37h0m1-36h0m2 31h0m1-28h0m1 8h0m2-3h0m0 22h0m1 4h0m2-18h0m0 12h0m1-30h0m1 4h0m0 3h0m0 9h0m2 21h0m1-34h0m0 17h0m1-8h0m1-21h0m1 8h0m1 8h0m1 9h0m0 4h0m0 6h0m1-1h0m1 1h0m0 5h0m1-17h0m1 23h0m1 6h0m4-36h0m0 25h0m1-40h0m1 44h0m0 5h0m1-14h0m1-4h0m1 2h0m2-3h0m2-21h0m0 37h0m2-6h0m1-3h0m0 6h0m2-25h0m0 18h0m2-17h0m2-14h0m1-3h0m3 9h0m0 43h0m2-14h0m3-3h0m2 9h0m1-43h0m2 1h0m2 5h0m1 21h0m1-26h0m0 14h0m4-3h0m2 25h0m2 0h0m3-41h0m1 58h0m2-54h0m0 2h0m2-12h0m0 29h0m0 7h0m2-13h0m1-10h0m0 10h0m1-14h0m0 55h0m2-61h0m2 9h0m0 10h0m0 3h0m1 1h0m2 13h0m0 24h0m1-45h0m2 20h0m0 0h0m0 6h0m1-17h0m1-32h0m0 32h0m1-28h0m2 11h0m0 9h0m1-16h0m1-10h0m0 33h0m2-33h0m1 33h0m2-8h0m12-27h0m15-8h0m0 40h0m7-29h0m6 104h0m1-3h0m5-8h0m0 11h0m1-10h0m0 5h0m2-7h0m3 11h0m1 16h0m2-11h0m2 4h0m1 0h0m1 2h0m1-8h0m3-11h0m0 10h0m1 4h0m3-10h0m1 6h0m3 2h0m1 0h0" stroke="#8491B4" stroke-width="5.6"/>
<path d="M980 166h0m38-20h0m15-27h0m15 12h0m38-19h0m3 6h0m14-19h0m6 2h0m1-5h0m19 11h0m1-6h0m0 24h0m2-9h0m1-6h0m0 3h0m0 9h0m0 9h0m1-36h0m1 13h0m1 26h0m1-35h0m0 39h0m2-29h0m1-1h0m3 22h0m1-24h0m3-2h0m0 24h0m2-33h0m0 6h0m0 42h0m3-34h0m1 9h0m0 25h0m1-64h0m0 59h0m1-9h0m1-20h0m0 35h0m2-53h0m0 33h0m1-29h0m1 21h0m0 10h0m1-8h0m1-15h0m0 22h0m1-2h0m0 7h0m0 60h0m1-107h0m0 27h0m0 72h0m1 15h0m1-101h0m0 19h0m1 10h0m0 9h0m1-28h0m0 24h0m1-26h0m1 2h0m0 23h0m1-28h0m1 31h0m0 64h0m1-7h0m1-84h0m1-21h0m0 97h0m1-62h0m1 7h0m1-47h0m0 29h0m0 3h0m0 36h0m2-49h0m0 21h0m0 0h0m2-1h0m2-4h0m0 45h0m1-28h0m1 2h0m2 16h0m1-66h0m0 29h0m0 31h0m1-3h0m0 7h0m0 1h0m1 5h0m1-46h0m0 8h0m0 38h0m0 8h0m0 17h0m1-64h0m0 21h0m1-45h0m1 0h0m0 31h0m0 38h0m2-76h0m0 19h0m0 54h0m0 5h0m1-58h0m0 2h0m0 24h0m0 31h0m1-33h0m0 26h0m2-69h0m0 64h0m1 12h0m2-12h0m0 12h0m1-8h0m1-58h0m0 17h0m0 6h0m0 8h0m1-18h0m0 52h0m1-60h0m0 15h0m0 1h0m0 31h0m4-36h0m0 17h0m0 9h0m0 2h0m1-47h0m1 35h0m1 34h0m1-63h0m1-4h0m1 65h0m1-20h0m1-35h0m3 22h0m1-33h0m2 27h0m1-1h0m0 17h0m4-30h0m0 1h0m0 30h0m1-29h0m1-9h0m1 15h0m1-17h0m0 2h0m0 36h0m0 10h0m1 9h0m2-54h0m1 21h0m2-11h0m0 6h0m2-6h0m2 7h0m3-9h0m0 16h0m0 18h0m1-45h0m0 30h0m2 10h0m4-17h0m0 2h0m1-18h0m2 31h0m1-17h0m0 16h0m1 5h0m1-22h0m0 9h0m5-8h0m0 10h0" stroke="#E64B35" stroke-width="5.6"/>
<path d="M1189 439h0m27-2h0m16 5h0m19 33h0m6 0h0m2-7h0m1-2h0m5-69h0m5 80h0m1-15h0m7-40h0m3-2h0m5 6h0m2-22h0m3-1h0m2-31h0m1-5h0m0 16h0m0 23h0m2-32h0m1 27h0m1-44h0m0 63h0m3-53h0m1 6h0m2 17h0m2-11h0m1-3h0m0 33h0m2-48h0m1 3h0m0 39h0m1-6h0m1-40h0m0 12h0m0 12h0m1 27h0m1-41h0m0 28h0m2-22h0m0 27h0m2 14h0m2 4h0m10 9h0m2-27h0m0 26h0m0 14h0m2 3h0m1-12h0m3-27h0m1-3h0m0 9h0m2-4h0m0 10h0m0 4h0m2 28h0m1-41h0m2 16h0m1 3h0m2-10h0m2-25h0m0 46h0m0 6h0m1-43h0m1 24h0m1-28h0m3-4h0m0 0h0m1 13h0m1 13h0m0 20h0m1 1h0m0 12h0m1-45h0m2-10h0m0 24h0m3-12h0m0 4h0m1-4h0m0 13h0m0 1h0m0 24h0m1-49h0m1 21h0m3-3h0m1 14h0m0 8h0m0 4h0m1-42h0m3 15h0m1-5h0m0 4h0m2-15h0m0 37h0m1-18h0m0 15h0m3 2h0m1-1h0" stroke="#DC0000" stroke-width="5.6"/>
<path d="M1181 464h0m16-43h0m3 3h0m5 27h0m6-33h0m0 64h0m1-46h0m4 23h0m3-5h0m7 13h0m4-3h0m1-30h0m5 44h0m3-31h0m1 5h0m5-59h0m0 58h0m1-16h0m0 35h0m1-24h0m1-30h0m0 42h0m3 12h0m1-50h0m1 3h0m2-4h0m0 44h0m1-64h0m0 40h0m2 8h0m0 0h0m0 7h0m1 23h0m3-53h0m1-49h0m2 2h0m1 0h0m0 7h0m5-2h0m8 13h0m2-57h0m4 28h0m8 71h0m2-5h0m1-8h0m3-20h0m4 35h0m0 4h0m0 5h0m3 0h0m2-12h0m1-27h0m0 25h0m1-22h0m1 21h0m1 10h0m2-51h0m0 10h0m0 47h0m27-38h0m21 16h0" stroke="#00A087" stroke-width="5.6"/>
<path d="M1176 439h0m1 8h0m0 2h0m1 1h0m1 1h0m0 7h0m2-29h0m0 11h0m2 25h0m5-45h0m1 3h0m0 13h0m0 12h0m0 4h0m4 26h0m2-47h0m3-6h0m0 35h0m2-4h0m3-41h0m0 63h0m1-33h0m0 24h0m0 18h0m1-6h0m1-54h0m0 2h0m0 35h0m1 26h0m1-59h0m0 49h0m1-68h0m0 20h0m1 8h0m2 31h0m1-7h0m1-22h0m0 24h0m0 14h0m1-39h0m0 16h0m1-11h0m2 4h0m1-17h0m0 51h0m1-26h0m0 24h0m1-56h0m1 25h0m0 14h0m1-19h0m0 13h0m2-16h0m1 5h0m0 16h0m1-26h0m1-23h0m1 2h0m1 35h0m2-21h0m2-1h0m1-5h0m0 13h0m1-26h0m0 3h0m3 51h0m1-50h0m3 7h0m3-22h0m2-6h0m2 5h0m0 67h0m1-81h0m1 3h0m0 5h0m0 23h0m5-34h0m1 24h0m2-10h0m1-13h0m1 11h0m3-24h0m2-49h0m2 1h0m2 39h0m1-55h0m0 9h0m0 6h0m0 43h0m1 2h0m0 24h0m2-83h0m2 28h0m1 19h0m0 31h0m3-8h0m2-61h0m0 42h0m0 6h0m1 9h0m1-40h0m1-9h0m1 40h0m5-35h0" stroke="#3C5488" stroke-width="5.6"/>
<path d="M948 517h0m2 11h0m2-22h0m0 27h0m0 13h0m1-6h0m1-27h0m0 25h0m4 8h0m1-46h0m1 43h0m1-34h0m0 31h0m2-21h0m0 12h0m3-3h0m3-20h0m0 23h0m1 0h0m0 22h0m1-24h0m4-4h0m1-8h0m0 8h0m2 15h0m1-15h0m1-13h0m3-7h0m0 13h0m2 28h0m0 14h0m2-56h0m3 48h0m2-37h0m0 4h0m0 3h0m2 2h0m1-33h0m0 70h0m1-54h0m0 20h0m1 9h0m0 1h0m0 33h0m1-15h0m2-58h0m0 16h0m0 61h0m2-35h0m0 34h0m1 9h0m1-83h0m0 43h0m0 4h0m0 13h0m1-37h0m0 11h0m0 35h0m0 3h0m1-59h0m1 45h0m1-6h0m0 23h0m1-68h0m4 4h0m0 37h0m1 40h0m2-65h0m0 72h0m2-45h0m0 10h0m3-54h0m0 29h0m0 33h0m0 14h0m1-14h0m1-62h0m0 67h0m1-25h0m3-43h0m0 86h0m1-77h0m0 67h0m1-62h0m0 40h0m0 9h0m1-36h0m1-38h0m0 31h0m0 55h0m2-46h0m0 9h0m0 59h0m2-14h0m5-29h0m0 45h0m1-45h0m2-14h0m3-48h0m0 47h0m0 39h0m1-30h0m1-53h0m1 26h0m1 16h0m0 17h0m1-29h0m0 28h0m0 1h0m1-25h0m1 37h0m4-76h0m0 50h0m3 12h0m0 8h0m2-8h0m2-55h0m3 86h0m2-7h0m5-71h0m0 34h0m1-10h0m1-18h0m2 70h0m2-81h0m2 63h0m3-45h0m0 31h0m0 59h0m10-102h0m5-2h0m2 61h0m6-43h0m0 12h0m1 0h0m3 36h0m8-64h0m0 6h0m6 45h0m2 21h0m1-64h0m3 17h0m0 4h0m2 42h0m7 2h0m20 4h0m6 12h0m1 19h0m3-20h0m3 19h0m7-25h0m4 11h0" stroke="#91D1C2" stroke-width="5.6"/>
<path d="M997 557h0m2-39h0m1-1h0m7 35h0m1-17h0m3 46h0m3-66h0m2 11h0m1-27h0m3 23h0m0 57h0m0 13h0m1-51h0m0 37h0m1-81h0m7 35h0m1-18h0m1 85h0m7-62h0m1 19h0m0 42h0m2-44h0m2-62h0m0 68h0m1-56h0m4 63h0m3-43h0m4-28h0m0 48h0m1 20h0m2-52h0m0 87h0m2-69h0m0 47h0m1-54h0m1 20h0m1-27h0m0 26h0m0 13h0m1-37h0m0 44h0m2-32h0m1-4h0m1-24h0m0 95h0m1-85h0m1 15h0m0 2h0m1 75h0m1-87h0m0 26h0m0 50h0m0 8h0m3-1h0m1-68h0m0 24h0m2-50h0m0 17h0m1 46h0m1-41h0m0 42h0m0 42h0m3-98h0m0 75h0m2-8h0m1-49h0m0 49h0m0 12h0m1-73h0m0 17h0m0 11h0m1-15h0m0 44h0m1-39h0m0 22h0m1-28h0m1 39h0m0 20h0m3-75h0m0 11h0m3-31h0m0 75h0m2-30h0m1-27h0m1 58h0m3-47h0m0 37h0m1 20h0m2-84h0m0 11h0m1-4h0m1 26h0m1-14h0m3 13h0m0 4h0m3-8h0m2 40h0m1-26h0m0 29h0m2-30h0m0 13h0m4 27h0m2-42h0m1 28h0m1-16h0m0 17h0m0 14h0m0 6h0m1 5h0m1-53h0m1 0h0m2 21h0m1-2h0m6 28h0m1 16h0m1-36h0m0 37h0m2-18h0m4-10h0m5 21h0m2 19h0m2 2h0m4-9h0m11-1h0m4 8h0m1 2h0m3-4h0m1 1h0m1-1h0m1 4h0" stroke="#4DBBD5" stroke-width="5.6"/>
<path d="M972 502h0m31 76h0m3-59h0m11 16h0m13 5h0m1 15h0m4 29h0m6-60h0m0 12h0m0 32h0m0 13h0m1 9h0m3-3h0m1-59h0m1 49h0m5 15h0m1-3h0m1 4h0m1-58h0m1-42h0m1 88h0m1-19h0m1-56h0m1 27h0m0 27h0m0 45h0m1-29h0m1-84h0m0 85h0m1-71h0m1 30h0m1-1h0m1-15h0m0 24h0m0 1h0m0 6h0m0 7h0m0 16h0m0 28h0m1-36h0m2-52h0m1 44h0m0 5h0m1-52h0m0 66h0m1-81h0m0 7h0m0 86h0m1-18h0m2 17h0m2 1h0m3 7h0m1-60h0m1 65h0m1-96h0m1 49h0m0 28h0m1-1h0m1-68h0m2 19h0m0 7h0m0 49h0m0 16h0m5-50h0m1-56h0m0 40h0m0 10h0m1-8h0m3-45h0m5 30h0m4 21h0m5-41h0m0 13h0m3 40h0m1-52h0m1 19h0m0 20h0m3 17h0m0 8h0m0 15h0m1-35h0m13 33h0m7-29h0m2 9h0m1 15h0m4 10h0m0 7h0m1 16h0m1-9h0m11-6h0m0 2h0m3-8h0m4 7h0m0 2h0m3 4h0m4 2h0m7 11h0" stroke="#F39B7F" stroke-width="5.6"/>
<path d="M693 392h0m2-30h0m3 34h0m1-14h0m0 12h0m1 6h0m4-56h0m1 1h0m0 15h0m1-12h0m0 43h0m2 2h0m1-1h0m0 12h0m2-62h0m1 9h0m0 39h0m0 0h0m3-38h0m2-4h0m0 39h0m0 11h0m1-18h0m0 16h0m1-10h0m0 15h0m2-38h0m2 1h0m1 40h0m1-39h0m2 5h0m0 31h0m1-31h0m0 29h0m1-8h0m1-59h0m1 24h0m2-6h0m0 28h0m1 18h0m1-15h0m1-27h0m1 19h0m1-25h0m0 60h0m1-60h0m2 58h0m1-63h0m2 60h0m1-60h0m0 20h0m1 19h0m0 10h0m1-1h0m1-9h0m1 7h0m2-54h0m0 57h0m1-26h0m1-29h0m2 57h0m1 8h0m1-40h0m0 44h0m1-34h0m1 21h0m1 4h0m1-7h0m10 9h0m1-3h0m4 10h0m2-7h0m1-4h0m0 3h0" stroke="#7E6148" stroke-width="5.6"/>
<path d="M955 139h0m0 6h0m5-7h0m0 12h0m0 12h0m1-32h0m1 21h0m1-1h0m3-9h0m6 18h0m4-23h0m1 28h0m0 2h0m1 1h0m1-11h0m3-26h0m0 10h0m1 17h0m3 6h0m2 6h0m2-35h0m0 19h0m2-4h0m1 5h0m1-38h0m0 22h0m2-18h0m2 8h0m0 26h0m1-37h0m1 29h0m3-25h0m0 46h0m2-4h0m2-14h0m0 7h0m0 13h0m1 2h0m3-12h0m0 11h0m5-46h0m1 46h0m2-33h0m0 18h0m0 2h0m1 9h0m2-37h0m0 39h0m1-40h0m0 28h0m0 10h0m1-49h0m3 1h0m2 36h0m1-15h0m1 16h0m2-38h0m0 14h0m2 2h0m1-17h0m1-5h0m0 33h0m1-10h0m0 17h0m1-17h0m0 3h0m1-17h0m0 29h0m0 14h0m0 3h0m1-42h0m2 18h0m2 6h0m1-38h0m0 36h0m1-26h0m0 21h0m3-14h0m0 29h0m1-34h0m0 17h0m1 10h0m0 18h0m1-2h0m1-20h0m0 19h0m2-51h0m1-2h0m0 47h0m1-14h0m1 23h0m3-14h0m0 6h0m1-39h0m2 29h0m1 8h0m1-29h0m2-11h0m0 18h0m1 11h0m2-23h0m0 32h0m0 6h0m2-25h0m0 30h0m1-36h0m1-4h0m2 48h0m1-70h0m0 43h0m0 19h0m1-54h0m0 43h0m1-29h0m1-22h0m0 3h0m4 66h0m1-61h0m0 21h0m2-25h0m0 38h0m1-39h0m1 21h0m3-22h0m1 1h0m2 16h0m4-22h0m0 13h0m2-12h0m0 5h0m0 3h0m0 3h0m2 5h0m1-12h0m12-1h0m18 98h0m6-3h0m1-1h0m8 8h0m1-1h0m2 8h0m0 0h0m1-4h0m3 5h0m7-5h0" stroke="#8491B4" stroke-width="5.6"/>
<path d="M973 147h0m6-22h0m50-6h0m37 2h0m21-18h0m6-3h0m3 14h0m26 44h0m2-43h0m2-12h0m0 12h0m0 0h0m1-15h0m0 12h0m1-9h0m0 24h0m1-31h0m1-8h0m0 6h0m0 5h0m1 28h0m2 2h0m2-22h0m1 0h0m0 4h0m0 8h0m3-18h0m0 11h0m0 7h0m0 10h0m1-1h0m1-4h0m0 10h0m1-40h0m1 22h0m1-19h0m0 2h0m0 23h0m0 8h0m0 2h0m1-15h0m1 12h0m1-4h0m1-26h0m0 14h0m1-19h0m0 45h0m4-52h0m0 55h0m1-21h0m2 3h0m1-10h0m1-14h0m1 105h0m1-122h0m0 24h0m0 40h0m2-62h0m1-4h0m0 45h0m2-2h0m1-6h0m0 3h0m1 68h0m1-101h0m0 27h0m1 16h0m1-25h0m0 25h0m0 43h0m0 11h0m1-101h0m1 4h0m0 1h0m0 34h0m1-26h0m0 81h0m0 0h0m2-76h0m0 55h0m1-61h0m0 25h0m0 4h0m1-11h0m0 31h0m0 27h0m0 15h0m0 12h0m1-71h0m1 16h0m0 3h0m1-27h0m0 30h0m0 2h0m1-57h0m2-2h0m0 10h0m0 38h0m0 36h0m1-96h0m0 44h0m1-27h0m0 37h0m0 22h0m1-64h0m0 20h0m0 18h0m2 48h0m1-76h0m1 10h0m1-34h0m1 79h0m2-50h0m1-1h0m1-14h0m0 66h0m1 0h0m2-26h0m1 1h0m1-18h0m0 19h0m2-28h0m1-21h0m0 17h0m0 53h0m1-39h0m0 29h0m1 13h0m3-27h0m0 7h0m0 4h0m3-25h0m0 2h0m0 20h0m1-41h0m0 11h0m1-7h0m0 5h0m1-3h0m0 29h0m1-17h0m0 24h0m1-51h0m1 45h0m1-18h0m0 34h0m2-53h0m0 16h0m0 42h0m1 2h0m2-9h0m1-61h0m1 8h0m0 24h0m1-27h0m0 5h0m1-2h0m1 33h0m0 2h0m1-42h0m0 19h0m0 29h0m0 5h0m0 10h0m1-46h0m0 22h0m5-10h0m1 12h0m1-32h0m2-3h0m0 11h0m0 5h0m0 35h0m2-22h0m2 18h0m1-8h0m2 12h0m4-16h0m1-8h0m1-2h0m2-14h0m0 34h0m1-8h0m1-15h0m1-16h0m4 30h0m3-14h0m0 3h0m2-3h0" stroke="#E64B35" stroke-width="5.6"/>
<path d="M1216 442h0m6 0h0m29 31h0m0 3h0m9 3h0m7-66h0m5-9h0m0 64h0m0 6h0m8-9h0m10-87h0m2 30h0m0 3h0m3-33h0m2 32h0m2-36h0m4 5h0m3 3h0m1-28h0m1 43h0m1 17h0m1-38h0m3-16h0m3 11h0m2-2h0m2 2h0m2 35h0m0 15h0m1-28h0m3 3h0m0 5h0m1 14h0m0 5h0m2-7h0m0 17h0m1-5h0m1-30h0m2 41h0m1-2h0m1 14h0m1-53h0m0 19h0m0 9h0m2-26h0m1-3h0m1 52h0m0 3h0m1-13h0m1-44h0m1 28h0m1 21h0m1-2h0m2 4h0m3 3h0m1-45h0m1 5h0m1-4h0m0 12h0m0 4h0m1-5h0m0 8h0m2 0h0m1-23h0m0 3h0m0 14h0m0 1h0m1 29h0m1-48h0m0 26h0m2 24h0m1-39h0m2 6h0m0 36h0m0 3h0m4-21h0m1-4h0m0 14h0m1 2h0m1-32h0m0 34h0m0 4h0m2-27h0m0 23h0m0 1h0m1-5h0m1 0h0m0 2h0m1-45h0m0 10h0m1 8h0m0 10h0m2-26h0m0 13h0m2-1h0m2-17h0m2 6h0m0 11h0m2 0h0" stroke="#DC0000" stroke-width="5.6"/>
<path d="M1205 477h0m1-38h0m4 7h0m6 6h0m2 6h0m10 26h0m1-15h0m4 6h0m2-14h0m1 0h0m1-14h0m1 10h0m1-58h0m0 27h0m1 45h0m1-18h0m0 13h0m2-27h0m1-1h0m1 19h0m0 4h0m1-17h0m1 20h0m2-3h0m1-25h0m3 12h0m0 21h0m1-39h0m1 14h0m1-18h0m0 1h0m3-34h0m2 44h0m1 15h0m4-62h0m4-59h0m1 42h0m2 51h0m5-8h0m1 12h0m3-19h0m3 12h0m10-6h0m2 16h0m2-23h0m3 30h0m1-32h0m2 3h0m1-24h0m0 50h0m3-28h0m1-1h0m0 29h0m4 7h0m47-46h0m1 2h0" stroke="#00A087" stroke-width="5.6"/>
<path d="M1174 450h0m5 9h0m1-15h0m1-15h0m4 9h0m1-2h0m1 21h0m1-33h0m0 4h0m3 29h0m1 7h0m1-26h0m0 31h0m1-42h0m1 31h0m1-34h0m0 3h0m0 26h0m0 5h0m2 15h0m2-53h0m0 9h0m0 1h0m0 3h0m0 4h0m2 29h0m0 7h0m2-5h0m1-28h0m0 30h0m1-54h0m1 36h0m1-12h0m0 40h0m0 4h0m1-65h0m0 45h0m0 19h0m1-26h0m1-8h0m0 4h0m1 40h0m1-33h0m0 28h0m0 3h0m1-75h0m0 19h0m0 24h0m1-15h0m2-1h0m0 20h0m1 14h0m1-56h0m1 33h0m1 28h0m1-70h0m1 32h0m1-33h0m0 19h0m1-20h0m2 22h0m0 35h0m0 8h0m2-32h0m0 4h0m1 22h0m1-17h0m1-41h0m5-2h0m2 7h0m8-24h0m5-6h0m0 9h0m5 16h0m1-11h0m0 5h0m0 28h0m4-37h0m2-9h0m1 1h0m0 17h0m1-32h0m0 11h0m0 6h0m2-13h0m2-3h0m1-8h0m1 31h0m1-89h0m0 1h0m1 33h0m0 38h0m1-10h0m1 7h0m2-19h0m0 13h0m1-30h0m4-18h0m1 33h0m2-21h0m0 37h0" stroke="#3C5488" stroke-width="5.6"/>
<path d="M947 530h0m1 1h0m0 9h0m3-32h0m1 13h0m1-1h0m1-11h0m2 38h0m1-44h0m0 17h0m1 0h0m1 8h0m0 18h0m1-38h0m2 1h0m1 21h0m1-4h0m1 26h0m0 3h0m1-55h0m2 19h0m0 5h0m0 32h0m1-12h0m0 12h0m4-38h0m0 19h0m1-7h0m1-13h0m0 31h0m1-46h0m1 19h0m0 23h0m1-16h0m1-37h0m0 29h0m0 14h0m5-18h0m0 45h0m2-5h0m1-16h0m1-9h0m2 25h0m1-44h0m0 25h0m3-19h0m0 29h0m2-44h0m0 5h0m2 8h0m0 44h0m1-40h0m1-16h0m1 2h0m0 28h0m2-34h0m0 35h0m0 14h0m0 18h0m0 5h0m0 9h0m1-34h0m0 36h0m1 1h0m1-82h0m0 7h0m1 16h0m1-12h0m1 11h0m0 19h0m0 44h0m1-36h0m2-54h0m4 27h0m0 68h0m1-59h0m1 63h0m1-65h0m1-6h0m1 36h0m0 32h0m2-63h0m1 25h0m0 30h0m2-50h0m2 45h0m1-57h0m2 51h0m2-65h0m1 0h0m0 46h0m0 34h0m1-8h0m0 13h0m1-99h0m0 19h0m0 79h0m1-91h0m1 28h0m0 48h0m0 1h0m0 23h0m1-27h0m1-26h0m2-48h0m0 60h0m1-18h0m0 45h0m1-33h0m0 48h0m1-4h0m1 1h0m1-62h0m0 35h0m2-59h0m1-16h0m0 71h0m2-42h0m1-13h0m2 13h0m1-25h0m0 85h0m3-44h0m1 33h0m1-76h0m0 82h0m5-76h0m0 107h0m3-27h0m1 16h0m2-43h0m1-37h0m3 58h0m5-9h0m2-62h0m2 47h0m0 12h0m4-72h0m6 31h0m0 7h0m21-20h0m17 12h0m15 47h0m1 29h0m1-13h0m12 16h0m5 13h0m17-7h0m1-12h0" stroke="#91D1C2" stroke-width="5.6"/>
<path d="M968 549h0m25-37h0m3 2h0m0 39h0m1-31h0m0 15h0m12 30h0m5-70h0m3 41h0m1 42h0m1 12h0m1-23h0m0 12h0m0 17h0m1-71h0m3-29h0m1 27h0m2-5h0m1-24h0m1 65h0m2 5h0m1-12h0m2-46h0m1 24h0m0 64h0m2-31h0m1-12h0m2 8h0m2-27h0m1 6h0m1 30h0m3-61h0m0 22h0m1-24h0m0 18h0m0 46h0m1-30h0m1 48h0m2-66h0m0 70h0m1-92h0m2 24h0m1 4h0m2 77h0m3-95h0m1 60h0m2 31h0m1-46h0m3-47h0m0 24h0m1-38h0m2 43h0m1-2h0m1 56h0m0 6h0m1-77h0m0 41h0m0 46h0m1-62h0m0 35h0m0 26h0m1-73h0m1-8h0m0 81h0m1-85h0m0 53h0m1-71h0m0 55h0m1-34h0m0 12h0m1-17h0m3 64h0m2-71h0m1 21h0m1-1h0m1 25h0m1 29h0m0 0h0m5-82h0m7 5h0m0 5h0m12-4h0m2 38h0m1 3h0m0 25h0m2-64h0m0 30h0m2 18h0m3-14h0m1-23h0m1-10h0m1 25h0m2 36h0m1-60h0m2 24h0m0 8h0m4 36h0m3-12h0m3 8h0m5-5h0m0 9h0m1 16h0m3-21h0m2 7h0m2 5h0m7 6h0m2 7h0m2 9h0m7 4h0m7-1h0" stroke="#4DBBD5" stroke-width="5.6"/>
<path d="M965 545h0m47 17h0m4-38h0m1 51h0m2-3h0m4-11h0m0 9h0m11 22h0m4-49h0m1-21h0m2 66h0m2-81h0m0 10h0m2-11h0m1 97h0m3-41h0m1 24h0m1-8h0m3-61h0m0 87h0m1-101h0m0 1h0m1 30h0m1-17h0m0 56h0m1 8h0m4-62h0m2 71h0m1-26h0m1-22h0m1 50h0m4-37h0m0 30h0m0 22h0m1-92h0m2 12h0m0 57h0m2 17h0m1-51h0m0 29h0m0 25h0m0 4h0m1-68h0m3 2h0m0 45h0m0 9h0m1-11h0m2 22h0m1-49h0m1-27h0m0 45h0m1-3h0m2-42h0m1 10h0m0 9h0m0 30h0m1-45h0m1 44h0m2-12h0m3-43h0m1 21h0m6 21h0m1-51h0m0 33h0m5-6h0m1 16h0m2-11h0m3 1h0m3-28h0m3 12h0m2 4h0m0 32h0m1-30h0m1 0h0m0 39h0m1-31h0m0 14h0m1-10h0m2 1h0m1-18h0m5 33h0m4-11h0m3 13h0m5 40h0m4 1h0m1-33h0m5 17h0m2-8h0m3 18h0m2-9h0m0 19h0m6-14h0m0 4h0m8 2h0" stroke="#F39B7F" stroke-width="5.6"/>
<path d="M691 363h0m3 36h0m7-18h0m3-22h0m1-3h0m0 2h0m0 19h0m3-4h0m1-30h0m0 39h0m0 15h0m1-47h0m2 25h0m0 3h0m0 9h0m1-28h0m0 7h0m0 8h0m2-31h0m1 3h0m0 10h0m0 19h0m1-15h0m2-15h0m0 8h0m0 1h0m1 43h0m1-39h0m0 17h0m1-33h0m0 23h0m0 11h0m0 27h0m0 3h0m3-27h0m1 9h0m0 17h0m2-23h0m4-28h0m0 2h0m1 13h0m2-15h0m1 33h0m0 1h0m0 3h0m1-27h0m0 7h0m1-41h0m0 51h0m1-2h0m2-10h0m1 8h0m0 11h0m1-17h0m1-38h0m0 45h0m0 21h0m2-63h0m0 2h0m0 34h0m0 20h0m0 0h0m0 7h0m3-23h0m2-31h0m1 26h0m1-33h0m0 8h0m0 31h0m0 5h0m1-21h0m0 0h0m0 17h0m1-39h0m1 60h0m1-56h0m1 49h0m1-48h0m1 1h0m0 8h0m1 52h0m0 0h0m1-10h0m1-20h0m1-16h0m2 23h0m1-6h0m0 11h0m2-20h0m1 16h0m1 10h0m1-4h0m0 9h0m0 0h0m1-39h0m0 21h0m2 12h0m1-5h0m2-7h0m0 8h0m0 11h0m2-23h0m0 15h0m2-7h0m1 20h0" stroke="#7E6148" stroke-width="5.6"/>
<path d="M1215.6 225.3h0" stroke="#000" stroke-width="6.6"/><path d="M1215.6 225.3h0" stroke="#E64B35" stroke-width="5.6"/>
<path d="M1214.2 238.4h0" stroke="#000" stroke-width="6.6"/><path d="M1214.2 238.4h0" stroke="#F39B7F" stroke-width="5.6"/>
<path d="M1300.4 281.4h0" stroke="#000" stroke-width="6.6"/><path d="M1300.4 281.4h0" stroke="#8491B4" stroke-width="5.6"/>
<path d="M1149.2 425.8h0" stroke="#000" stroke-width="6.6"/><path d="M1149.2 425.8h0" stroke="#8491B4" stroke-width="5.6"/>
<path d="M1139.1 473.8h0" stroke="#000" stroke-width="6.6"/><path d="M1139.1 473.8h0" stroke="#3C5488" stroke-width="5.6"/>
<path d="M1154.8 483.5h0" stroke="#000" stroke-width="6.6"/><path d="M1154.8 483.5h0" stroke="#F39B7F" stroke-width="5.6"/>
<path d="M1231.9 491.2h0" stroke="#000" stroke-width="6.6"/><path d="M1231.9 491.2h0" stroke="#91D1C2" stroke-width="5.6"/>
<path d="M1088.9 477.1h0" stroke="#000" stroke-width="6.6"/><path d="M1088.9 477.1h0" stroke="#DC0000" stroke-width="5.6"/>
<path d="M1127.6 489.2h0" stroke="#000" stroke-width="6.6"/><path d="M1127.6 489.2h0" stroke="#91D1C2" stroke-width="5.6"/>
<path d="M1138.1 523h0" stroke="#000" stroke-width="6.6"/><path d="M1138.1 523h0" stroke="#91D1C2" stroke-width="5.6"/>
<path d="M1137.3 533.5h0" stroke="#000" stroke-width="6.6"/><path d="M1137.3 533.5h0" stroke="#91D1C2" stroke-width="5.6"/>
<path d="M1097 585.9h0" stroke="#000" stroke-width="6.6"/><path d="M1097 585.9h0" stroke="#F39B7F" stroke-width="5.6"/>
<path d="M1111.5 595.6h0" stroke="#000" stroke-width="6.6"/><path d="M1111.5 595.6h0" stroke="#91D1C2" stroke-width="5.6"/>
<path d="M1169.6 569h0" stroke="#000" stroke-width="6.6"/><path d="M1169.6 569h0" stroke="#91D1C2" stroke-width="5.6"/>
<path d="M1152.6 567.4h0" stroke="#000" stroke-width="6.6"/><path d="M1152.6 567.4h0" stroke="#DC0000" stroke-width="5.6"/>
</g>
<path d="M935.1 150.8C935.3 145.7 936.3 140 939.1 134.6C942 129.3 945.4 123.4 952.2 118.5C959.1 113.6 969 109.3 980.5 105.4C991.9 101.6 1004 99.5 1020.8 95.3C1037.5 91.1 1064.4 84.3 1081.2 80.2C1098 76.2 1108.1 73.2 1121.5 71.2C1134.9 69.1 1148.4 68.1 1161.8 67.7C1175.2 67.4 1188.7 67.6 1202.1 69.1C1215.5 70.7 1230.3 74 1242.4 77.2C1254.5 80.4 1266.3 84.1 1274.7 88.3C1283.1 92.5 1288.6 97 1292.8 102.4C1297 107.8 1300.2 114.5 1299.8 120.5C1299.5 126.6 1297 132.6 1290.8 138.7C1284.6 144.7 1272 151.4 1262.6 156.8C1253.2 162.2 1242.1 165.9 1234.4 170.9C1226.6 175.9 1221.6 181.7 1216.2 187C1210.8 192.4 1207.2 198.1 1202.1 203.1C1197.1 208.2 1192 213.2 1186 217.3C1179.9 221.3 1172.6 225.2 1165.8 227.3C1159.1 229.4 1153.1 230.1 1145.7 229.7C1138.3 229.4 1129.6 228.1 1121.5 225.3C1113.5 222.6 1106.7 217.6 1097.3 213.2C1087.9 208.9 1075.8 202.8 1065.1 199.1C1054.3 195.4 1043.6 192.6 1032.8 191.1C1022.1 189.5 1011 190.6 1000.6 190.1C990.2 189.5 978.8 189.9 970.4 188C962 186.2 955.6 182.8 950.2 179C944.9 175.1 940.7 169.6 938.1 164.9C935.6 160.2 934.9 155.8 935.1 150.8Z" fill="none" stroke="#000" stroke-width="4" stroke-dasharray="4.8 3.8"/>
<path d="M1271.3 284.8C1276.1 285.1 1282.7 286.4 1288.4 289.1C1294.1 291.8 1301 296.3 1305.5 301.1C1310.1 306 1313 312 1315.8 318.2C1318.7 324.5 1319.8 332.8 1322.7 338.8C1325.5 344.8 1327.8 349.6 1333 354.2C1338.1 358.8 1346.1 362.8 1353.5 366.2C1360.9 369.6 1370.1 371.6 1377.5 374.8C1384.9 377.9 1392.9 380.8 1398 385C1403.2 389.3 1406.3 395.6 1408.3 400.5C1410.3 405.3 1410.3 409 1410 414.2C1409.8 419.3 1408.9 425.9 1406.6 431.3C1404.3 436.7 1401.2 442.4 1396.3 446.7C1391.5 451 1385.5 454.7 1377.5 457C1369.5 459.3 1357.5 459.3 1348.4 460.4C1339.2 461.6 1330.4 461.6 1322.7 463.8C1315 466.1 1308.4 470.1 1302.1 474.1C1295.8 478.1 1290.7 483.5 1285 487.8C1279.3 492.1 1274.4 496.4 1267.9 499.8C1261.3 503.2 1253.6 506.7 1245.6 508.4C1237.6 510.1 1228.2 510.7 1219.9 510.1C1211.6 509.5 1203.6 507.5 1195.9 504.9C1188.2 502.4 1179.7 498.1 1173.7 494.7C1167.7 491.2 1162.9 488.4 1160 484.4C1157 480.4 1156 476.1 1155.7 470.7C1155.4 465.3 1156.7 457.8 1158.2 451.8C1159.8 445.9 1162.2 441 1165.1 434.7C1167.9 428.4 1170.8 421 1175.4 414.2C1179.9 407.3 1186.2 399.9 1192.5 393.6C1198.8 387.3 1205.9 382.5 1213.1 376.5C1220.2 370.5 1229.9 363.6 1235.3 357.6C1240.7 351.6 1243.6 345.9 1245.6 340.5C1247.6 335.1 1247.6 330.5 1247.3 325.1C1247 319.7 1243.6 313.1 1243.9 308C1244.2 302.8 1246.5 297.7 1249 294.3C1251.6 290.8 1255.6 289 1259.3 287.4C1263 285.8 1266.4 284.6 1271.3 284.8Z" fill="none" stroke="#000" stroke-width="4" stroke-dasharray="4.8 3.8"/>
<path d="M929.3 527.1C929.5 521.9 930.4 514.7 932.6 509.3C934.7 503.9 938.2 498.8 942.2 494.8C946.3 490.8 951.4 487.6 956.8 485.1C962.1 482.7 966.2 480.9 974.5 480.3C982.8 479.7 996 480.8 1006.7 481.6C1017.5 482.4 1028.2 484.1 1039 485.1C1049.7 486.1 1061.8 487.8 1071.2 487.6C1080.6 487.3 1087.6 485 1095.4 483.5C1103.2 482 1111.2 478.7 1118 478.7C1124.7 478.7 1130.9 480.6 1135.7 483.5C1140.5 486.5 1144 491.3 1147 496.4C1149.9 501.5 1151 508.5 1153.4 514.2C1155.8 519.8 1157.5 525.2 1161.5 530.3C1165.5 535.4 1171.7 539.7 1177.6 544.8C1183.5 549.9 1191.9 555.3 1197 560.9C1202.1 566.6 1206.1 572.5 1208.2 578.6C1210.4 584.8 1210.4 591.8 1209.9 598C1209.3 604.2 1208 610.3 1205 615.7C1202.1 621.1 1198.3 626.6 1192.1 630.2C1185.9 633.9 1176 637.2 1167.9 637.5C1159.9 637.8 1151.8 634.4 1143.8 631.8C1135.7 629.3 1127.6 624.3 1119.6 622.2C1111.5 620 1104.8 619.5 1095.4 618.9C1086 618.4 1072.6 619.5 1063.2 618.9C1053.7 618.4 1047.8 618.1 1039 615.7C1030.1 613.3 1019.4 608.7 1010 604.4C1000.5 600.1 991.1 595 982.5 589.9C973.9 584.8 965.3 579.4 958.4 573.8C951.4 568.2 945.1 561.7 940.6 556.1C936.2 550.4 933.6 544.8 931.8 540C929.9 535.1 929.2 532.2 929.3 527.1Z" fill="none" stroke="#000" stroke-width="4" stroke-dasharray="4.8 3.8"/>
<path d="M679.2 370.8C680.1 366.8 680.9 361.8 683.2 356.7C685.6 351.7 689.5 345.3 693.3 340.6C697.2 335.9 701.6 332 706.4 328.5C711.3 325 717.3 322 722.5 319.4C727.7 316.9 733 313.9 737.7 313.4C742.4 312.9 746.9 314.4 750.8 316.4C754.6 318.4 757.5 321.6 760.8 325.5C764.2 329.4 767.2 334.6 770.9 339.6C774.6 344.6 779.1 350.3 783 355.7C786.9 361.1 790.7 366.8 794.1 371.8C797.4 376.9 801.2 381.9 803.1 385.9C805.1 390 806 392.5 805.7 396C805.3 399.5 803.6 404.1 801.1 407.1C798.7 410.1 795.3 412.6 791.1 414.2C786.9 415.7 782.7 416 775.9 416.2C769.2 416.3 759.2 415.6 750.8 415.2C742.4 414.7 734 414.2 725.6 413.7C717.2 413.1 706.8 413.4 700.4 412.1C694 410.9 690.6 409 687.3 406.1C683.9 403.2 681.7 399.2 680.2 395C678.7 390.8 678.4 384.9 678.2 380.9C678 376.9 678.4 374.9 679.2 370.8Z" fill="none" stroke="#000" stroke-width="4" stroke-dasharray="4.8 3.8"/>
<text x="980.5" y="225" font-size="23.9" textLength="41.5" lengthAdjust="spacingAndGlyphs">MG</text>
<text x="1131.7" y="345.6" font-size="23.9" textLength="103.3" lengthAdjust="spacingAndGlyphs">sdCAMs</text>
<text x="964.8" y="469" font-size="23.9" textLength="89.7" lengthAdjust="spacingAndGlyphs">dCAMs</text>
<text x="668.1" y="299.3" font-size="25" textLength="162.3" lengthAdjust="spacingAndGlyphs">clMonocytes</text>
<text x="663" y="28.7" font-size="38" textLength="26" lengthAdjust="spacingAndGlyphs" font-weight="bold" stroke="#000" stroke-width="0.9">b</text>
<text x="674" y="60.5" font-size="21.8" textLength="124.4" lengthAdjust="spacingAndGlyphs">10,224 cells</text>
<text x="674" y="87.4" font-size="21.8" textLength="145.1" lengthAdjust="spacingAndGlyphs">155,819 peaks</text>
<circle cx="1359.1" cy="78.8" r="6.6" fill="#8491B4" stroke="#111" stroke-width="1"/>
<text x="1382.3" y="85.5" font-size="20.8" textLength="83.6" lengthAdjust="spacingAndGlyphs">homMG</text>
<circle cx="1359.1" cy="102.8" r="6.6" fill="#E64B35" stroke="#111" stroke-width="1"/>
<text x="1382.3" y="109.5" font-size="20.8" textLength="98.3" lengthAdjust="spacingAndGlyphs">repopMG</text>
<circle cx="1359.1" cy="143.5" r="6.6" fill="#DC0000" stroke="#111" stroke-width="1"/>
<text x="1382.3" y="150.4" font-size="20.8" textLength="164.1" lengthAdjust="spacingAndGlyphs">hom_ys_sdCAM</text>
<circle cx="1359.1" cy="170.7" r="6.6" fill="#00A087" stroke="#111" stroke-width="1"/>
<text x="1382.3" y="177.5" font-size="20.8" textLength="179.1" lengthAdjust="spacingAndGlyphs">repop_ys_sdCAM</text>
<circle cx="1359.1" cy="197.4" r="6.6" fill="#3C5488" stroke="#111" stroke-width="1"/>
<text x="1382.3" y="204.6" font-size="20.8" textLength="120.9" lengthAdjust="spacingAndGlyphs">hsc_sdCAM</text>
<circle cx="1359.1" cy="236.3" r="6.6" fill="#91D1C2" stroke="#111" stroke-width="1"/>
<text x="1382.3" y="243.2" font-size="20.8" textLength="120.9" lengthAdjust="spacingAndGlyphs">hom_dCAM</text>
<circle cx="1359.1" cy="261.1" r="6.6" fill="#4DBBD5" stroke="#111" stroke-width="1"/>
<text x="1382.3" y="268" font-size="20.8" textLength="136.1" lengthAdjust="spacingAndGlyphs">repop_dCAM</text>
<circle cx="1359.1" cy="286.2" r="6.6" fill="#F39B7F" stroke="#111" stroke-width="1"/>
<text x="1382.3" y="293.1" font-size="20.8" textLength="110" lengthAdjust="spacingAndGlyphs">hsc_dCAM</text>
<circle cx="1359.1" cy="324.3" r="6.6" fill="#7E6148" stroke="#111" stroke-width="1"/>
<text x="1382.3" y="331.5" font-size="20.8" textLength="124.9" lengthAdjust="spacingAndGlyphs">clMonocyte</text>
<path d="M668 597.2V645.2H715.4" fill="none" stroke="#000" stroke-width="2.3" stroke-linejoin="miter"/><path d="M668 591.2l-5 12.5l5 -3.5l5 3.5z" fill="#000"/><path d="M721.4 645.2l-12.5 -5l3.5 5l-3.5 5z" fill="#000"/><text x="676.4" y="631.8" font-size="22.9" textLength="62.4" lengthAdjust="spacingAndGlyphs">UMAP</text>
</g>
<g id="pc">
<text x="1635" y="29.6" font-size="38" textLength="24" lengthAdjust="spacingAndGlyphs" font-weight="bold" stroke="#000" stroke-width="0.9">c</text>
<circle cx="1673.8" cy="54.8" r="8.6" fill="#D9433D" stroke="#111" stroke-width="1"/>
<text x="1697.9" y="61.7" font-size="22.6" textLength="35.5" lengthAdjust="spacingAndGlyphs">MG</text>
<circle cx="1673.8" cy="90.7" r="8.6" fill="#F5C713" stroke="#111" stroke-width="1"/>
<text x="1697.9" y="97.6" font-size="22.6" textLength="86.2" lengthAdjust="spacingAndGlyphs">sdCAMs</text>
<circle cx="1673.8" cy="126.6" r="8.6" fill="#FE9D0B" stroke="#111" stroke-width="1"/>
<text x="1697.9" y="133.6" font-size="22.6" textLength="75.3" lengthAdjust="spacingAndGlyphs">dCAMs</text>
<circle cx="1673.8" cy="162.5" r="8.6" fill="#2A78B0" stroke="#111" stroke-width="1"/>
<text x="1697.9" y="169" font-size="22.6" textLength="79.3" lengthAdjust="spacingAndGlyphs">clMono</text>
<path d="M1891.8 63.4L1894.1 57.4L1900.3 54.3L1911.1 52.4L1920.4 51.2L1934.3 50.3L1943.5 48.1L1949.7 47.1L1954.3 47.1L1952 51.2L1949.7 55.6L1948.2 58.7L1944.3 62.4L1944.3 69.9L1940.4 72.1L1934.3 69.9L1923.4 69.6L1911.9 70.2L1903.4 69.3L1894.9 67.4Z" fill="#D9433D" stroke="#D9433D" stroke-width="1.2" stroke-linejoin="round"/>
<path d="M1962.1 80.5L1964.4 77.1L1969.8 77.4L1974.4 78.6L1976 81.8L1972.9 84.3L1969.8 85.5L1965.1 82.4Z" fill="#D9433D" stroke="#D9433D" stroke-width="1.2" stroke-linejoin="round"/>
<path d="M1957.4 51.2L1961.3 45L1969 42.5L1977.5 41.8L1987.2 40.9L1998.3 44L2006.8 47.1L2011.5 49.9L2015 55.3L2011.5 59.3L2006.8 62.4L1999.1 64.3L1994.5 66.5L1988.3 67.4L1980.6 66.5L1975.2 63.7L1969 62.4L1963.6 60.6L1958.2 54.3Z" fill="#D9433D" stroke="#D9433D" stroke-width="1.2" stroke-linejoin="round"/>
<path d="M1942 48.8L1954.3 46.5L1962.8 42.8L1963.2 48.1L1958.2 51.8L1954.3 50.9L1951.2 52.4L1948.2 56.8L1945.1 57.4Z" fill="#D9433D" stroke="#D9433D" stroke-width="1.2" stroke-linejoin="round"/>
<path d="M1986.8 67.1L1989.9 68.4L1983.7 73.3L1980.6 75.5L1979.8 79.3L1976 80.5L1971.3 74.9L1974 69L1979 69.3L1982.1 70.5Z" fill="#D9433D" stroke="#D9433D" stroke-width="1.2" stroke-linejoin="round"/>
<path d="M1978.4 151.1L1982 147.3L1985.9 145.8L1991.8 144.2L1999.1 142L2003.7 139.4L2006.3 136.7L2010.9 134.1L2014.8 129.3L2017.4 127.7L2021.4 129.3L2020.1 133.6L2016.8 137.8L2013.5 141.5L2009.6 145.2L2006.3 147.9L2003 150.5L2001 154.8L1999.1 161.1L1998.1 166.4L1995.1 168.6L1991.2 169.6L1985.9 166.4L1980.7 163.8L1978.7 160.1L1978.1 155.8Z" fill="#F5C713" stroke="#F5C713" stroke-width="1.2" stroke-linejoin="round"/>
<path d="M2010.9 112.9L2014.8 111.8L2018.8 113.4L2022 117.1L2023.4 119.8L2021.4 121.9L2018.1 124L2016.1 125.1L2014.8 123L2013.5 119.2L2011.2 115.5Z" fill="#F5C713" stroke="#F5C713" stroke-width="1.2" stroke-linejoin="round"/>
<path d="M2001 154.8L2003.7 150.5L2006.3 147.9L2009.6 145.2L2012.2 146.3L2011.5 150.5L2011.5 155.8L2010.2 160.1L2005.6 162.2L2001.7 164.3L1998.4 166.4L1999.1 161.1Z" fill="#F5C713" stroke="#F5C713" stroke-width="1.2" stroke-linejoin="round"/>
<path d="M2021.4 150.5L2025.3 150L2031.9 152.1L2032.5 155.8L2031.2 158L2026 158L2024 155.3Z" fill="#F5C713" stroke="#F5C713" stroke-width="1.2" stroke-linejoin="round"/>
<path d="M2027.9 137.8L2034.5 137.8L2041.1 138.3L2047.6 137.3L2054.2 138.3L2058.8 139.9L2059.5 145.2L2058.8 151.6L2057.5 154.8L2051.6 157.4L2044.4 156.9L2038.4 156.4L2037.8 151.6L2034.5 148.4L2031.9 145.2L2029.3 142Z" fill="#F5C713" stroke="#F5C713" stroke-width="1.2" stroke-linejoin="round"/>
<path d="M2020.7 127.7L2025.3 126.1L2029.9 125.6L2031.2 129.3L2033.9 132L2031.9 134.6L2029.9 137.3L2024.7 137.8L2021.4 135.7L2020.7 132Z" fill="#F5C713" stroke="#F5C713" stroke-width="1.2" stroke-linejoin="round"/>
<path d="M2003 166.4L2005.6 163.3L2010.9 161.7L2015.5 160.1L2019.4 160.6L2015.5 163.8L2012.2 166.4L2006.9 167Z" fill="#F5C713" stroke="#F5C713" stroke-width="1.2" stroke-linejoin="round"/>
<path d="M2014.2 141L2020.1 139.4L2027.9 141.5L2033.9 144.2L2029.9 148.4L2023.4 150L2017.4 150.5L2012.2 146.3Z" fill="#F5C713" stroke="#F5C713" stroke-width="1.2" stroke-linejoin="round"/>
<path d="M1972.2 166.4L1976.7 163.8L1980 163.3L1980.7 165.1L1976.7 166.4L1972.8 167.5Z" fill="#F5C713" stroke="#F5C713" stroke-width="1.2" stroke-linejoin="round"/>
<path d="M2019.4 138.9L2024.7 138.1L2028.6 137.8L2029.9 142.6L2032.5 145.8L2026.6 145.2L2020.7 143.1Z" fill="#F5C713" stroke="#F5C713" stroke-width="1.2" stroke-linejoin="round"/>
<path d="M2010.2 134.1L2014.8 129.3L2017.4 128.8L2016.1 133.6L2012.2 138.9L2008.3 143.1L2005 142L2006.3 137.8Z" fill="#F5C713" stroke="#F5C713" stroke-width="1.2" stroke-linejoin="round"/>
<path d="M1889.3 180.2L1891.2 175.2L1893.1 172.9L1899.2 170.2L1901.1 167.2L1904.2 169.7L1911.6 169.7L1919.6 170.7L1925.8 169.7L1938.1 169.2L1950.5 168.9L1957.9 170.7L1961 175.2L1962.2 181.2L1962.9 187.2L1966.6 188.2L1965.3 191.2L1969 193.7L1972.7 197.1L1977.7 198.1L1981.4 197.6L1982.6 203.1L1982 207.1L1977.1 208.9L1970.9 207.6L1966.6 205.1L1962.9 202.1L1958.5 199.6L1953.6 198.6L1948.7 197.1L1946.2 198.1L1946.2 203.1L1944.3 206.1L1938.1 206.6L1935.7 207.4L1930.7 205.6L1925.8 203.6L1920.9 203.1L1914.7 200.6L1908.5 196.6L1904.2 192.2L1899.8 190.2L1893.7 187.2L1890.6 184.2Z" fill="#FE9D0B" stroke="#FE9D0B" stroke-width="1.2" stroke-linejoin="round"/>
<path d="M1791.8 130.6L1792.6 127.8L1796 124L1800.7 122.1L1805.3 120.3L1809.6 118.7L1813.8 120L1818.8 122.1L1820.4 124.9L1823.5 128.1L1822.3 131.2L1826.9 132.1L1828.9 134.9L1830.4 139.6L1828.1 142.4L1823.1 143L1815.3 143.3L1807.6 143L1798.4 142.1L1793.3 140.9L1793.7 137.4L1792.6 134.9L1793 132.1Z" fill="#2A78B0" stroke="#2A78B0" stroke-width="1.2" stroke-linejoin="round"/>
<path d="M1793.2 135.9h0m.4-1.8h0m.4 3.4h0m.3 1.5h0m1.6-2h0m.4 2.3h0m.1-12.7h0m.2 13.6h0m.3-9.5h0m1.2-3.4h0m.1 5.8h0m1.3-1.2h0m.1-4.7h0m.4 1.7h0m1.5-3.5h0m.4 11.3h0m.4-11h0m.2 5.6h0m.3 4.2h0m.2 4.3h0m.1-14.9h0m.5 14.7h0m.2 2.6h0m.2-11.2h0m.1 7.9h0m.6-16.5h0m1.2 11h0m.1-7.3h0m.4 10.3h0m.4-3.5h0m0 5h0m1.7-9.9h0m0 5.9h0m.6-4.4h0m.9-10h0m.6 4.9h0m.3 11.3h0m.8 1.6h0m.8-12.3h0m0 14.4h0m.6 2.2h0m.3-.2h0m0 1.4h0m.3-10.5h0m.3-7.3h0m.3 5.5h0m.3 1h0m.1 10.9h0m.6-20.7h0m0 10.4h0m0 1.1h0m2.2-1h0m.3 9.4h0m.2 1.3h0m.4-15.2h0m.3-3.2h0m1.2 .7h0m.2 6.7h0m.1-2.9h0m.6-1h0m.5 5.1h0m.7-3.5h0m.2 4.9h0m.3-5.3h0m2.5 10.6h0m1.5 1.7h0m1.4-4.2h0m.6-.9h0m0 1.2h0m63 44.1h0m.1 .1h0m1.2-.2h0m.2-4.4h0m0 6.8h0m.1-121h0m.1 110.5h0m.1 6.8h0m.3 4.2h0m.1-125.8h0m0 3.4h0m1.3 121.1h0m0 1.1h0m.2-.2h0m.4 2.4h0m.8-123.7h0m.1-2h0m.2 114h0m0 3.3h0m.1-115h0m.2-5h0m0 7.8h0m.4-4.2h0m.1 5.6h0m.1 115.1h0m.5-1.2h0m1-123.6h0m.1 115.6h0m.7-114.7h0m0 127.5h0m.1-122.8h0m.3-3.7h0m0 115.3h0m.1-5.8h0m0 1.3h0m.1 16.4h0m.5-3.8h0m.4-12h0m0 1.1h0m.6 16.3h0m.7-4.7h0m.1-127.3h0m0 8.8h0m.2 115.1h0m.1-4.5h0m.2-115.8h0m.1 131.6h0m.3-126.1h0m.2 123.9h0m.3-131.4h0m.4 117.8h0m.4-118.7h0m.1-3.4h0m0 .3h0m.1 3.6h0m.2 120.3h0m.3-6.1h0m.5 .8h0m.1 5.6h0m.2 4h0m0 8h0m.2-125.4h0m0 122.1h0m.3-124.7h0m.3 114.6h0m.4 18.4h0m.2-127.4h0m.7 125.7h0m.2-137.6h0m.1 126.8h0m.5-.9h0m0 5h0m.1 9.2h0m.1-9.9h0m.2-1.8h0m.3-12.9h0m.5-107.2h0m0 123.2h0m.2-118.1h0m0 108.6h0m.3-110.9h0m.2 124.4h0m.2-138.4h0m0 15.2h0m0 109.5h0m.2-6.5h0m.1-101.3h0m.4-6h0m.5 3h0m.3 121.5h0m.8-124.1h0m0 130.8h0m.2-3.3h0m.4-122.3h0m.4 126h0m.2-137h0m.4 2.9h0m0 112.5h0m0 20.2h0m.1 2.9h0m.3-13.4h0m.2 14.2h0m.4-130.8h0m.2 114.7h0m.1 14.6h0m.8-7.9h0m.4-121.4h0m.2 115.3h0m0 3.6h0m.2-1.6h0m0 4.4h0m.2-3.7h0m.1 12.1h0m.7-128.9h0m0 .1h0m0 130.4h0m.1-129.2h0m0 113.8h0m.3-8.6h0m0 3.2h0m0 21.5h0m.3-145.3h0m0 133.6h0m0 .3h0m.1-126.8h0m.3-7h0m.1 144.7h0m.5-18.5h0m.2 4.5h0m.2 11.3h0m.1-144.5h0m.2 144.9h0m.2-143.6h0m0 12.5h0m.1 119.7h0m.4-6.3h0m.3-3.4h0m.1 23.2h0m.2-134.9h0m0 109.9h0m.2 17.6h0m.1-15h0m0 5h0m.1 12.6h0m.1-22.4h0m0 6.6h0m.1-116.2h0m.1 123.3h0m.1-6h0m.2 1.2h0m.1-115.1h0m.1 114.9h0m.1-117h0m0 134.2h0m.6 2.5h0m.2-29.6h0m.1 6.6h0m.2-109.9h0m.2 115.7h0m0 20h0m.3-20.2h0m.1-2.8h0m0 22.7h0m.1-25.2h0m0 .1h0m0 2.5h0m.1-113.4h0m.4 134.4h0m.2-142.4h0m0 10.1h0m0 126.1h0m.1-7.5h0m0 16.4h0m.1-22.8h0m.2 2.7h0m.1 9.4h0m.2-6.5h0m.2-117.4h0m0 103.9h0m0 11.8h0m.5-122.2h0m.1-7.3h0m.1 123.9h0m.2 2.5h0m.3-11h0m.1 31h0m.1-146.9h0m.1 129.1h0m.3 2.4h0m.7-131.9h0m0 11.9h0m.5 135.9h0m.2-145.2h0m0 2.8h0m.2-1.2h0m.1 5.2h0m0 3.4h0m0 103h0m.5 19.6h0m.1 8.7h0m.1-133.2h0m.5 141.1h0m.1-153.8h0m.2 10.2h0m0 117.9h0m.4 1.9h0m.7-.2h0m.7-5.3h0m0 7.7h0m.1-132.4h0m.3 120.1h0m.1-110.5h0m0 137.2h0m.1-8.2h0m.1-13.7h0m.2-116.9h0m0 134.2h0m.1-134.8h0m.6 1.9h0m0 143.5h0m.3-14h0m.1-139.3h0m.1 154.8h0m.3-138.8h0m.2 111.8h0m.2-122.6h0m0 115.6h0m.5-110.8h0m0 107.9h0m.1-104.8h0m0 4.9h0m.1 1h0m.5 130.4h0m.8-11.6h0m.4-132.3h0m.3 130.2h0m.1-132h0m0 117.6h0m.3 11h0m.1-130h0m0 139.3h0m.1 11.7h0m.2-27.6h0m.6-107.3h0m0 116.3h0m.2-134.7h0m.1 150.2h0m.1-150.3h0m.3 121.7h0m0 27.7h0m.1-130.9h0m.1 114.7h0m.1-136h0m.8 128h0m.5-123.6h0m.3 133.6h0m.1-118.4h0m.3 121.7h0m.3-133.2h0m0 135.2h0m.6-136.2h0m.1 135.3h0m.2 5.1h0m.8-148h0m.4 8.5h0m.5 132.4h0m.4-10.5h0m.2 7.2h0m0 7.3h0m.2-14.3h0m.1 4.9h0m.1-12.8h0m.2-121.6h0m.1 133.7h0m.6-130.8h0m.2 123.8h0m.6-6.4h0m.6 23.6h0m.8-8.5h0m.4-7.9h0m0 4.7h0m.1 10.9h0m.1-15h0m.5 8.8h0m.3-11.6h0m0 2.4h0m.7 7.7h0m.2 1.4h0m.1-3.8h0m.3 4.3h0m0 3.4h0m.1 5.8h0m.6-5.5h0m.3-12.7h0m.1-3h0m.1 3.5h0m0 15.1h0m.8-15.5h0m0 .7h0m0 2.4h0m.9-6.3h0m0 20.5h0m.9 1.9h0m.1-146.6h0m0 131.9h0m.2-2h0m.1-2.2h0m.2-2h0m.2 14h0m0 2.3h0m.5-2.8h0m.1-2h0m1.2 10.3h0m.3-.5h0m.6-10.1h0m1-128.4h0m.4 128.9h0m.5 10.1h0m.2-137.5h0m.3 128.2h0m.2 13.7h0m.5-147.8h0m.2-2h0m1.2 150.2h0m.5-141.7h0m.2-7.5h0m0 140.9h0m0 4.9h0m.3 .8h0m0 .6h0m.3-146.6h0m.5 140.3h0m.2-141.4h0m.1-6.6h0m0 155.4h0m.3-158.9h0m.1 14.5h0m.2-12h0m0 1.6h0m.5 152.4h0m.1-141.7h0m.3-7.6h0m.5 152h0m.2-147.1h0m.3 142h0m.6 .6h0m.1-137.3h0m.6-14.1h0m.4 5.4h0m.2-8h0m.5 9.9h0m.1-1.2h0m.1 154.6h0m.6-146.9h0m.4 .3h0m1.3-9.2h0m.8 2.3h0m.2 155.1h0m.4-6.6h0m.3-148.5h0m.2 146h0m.2 5.2h0m.4-147.2h0m.2-9.2h0m.4 .4h0m.4 5.1h0m.1-10.1h0m0 8.4h0m.3 149.7h0m.6-136.9h0m.6-2.6h0m.1-3h0m1.1 95.2h0m.1-106.6h0m.3 5.9h0m.2 110.8h0m.6-105.8h0m.1 96.3h0m.4 7.4h0m.2-114.4h0m.4 13.3h0m.2 96.4h0m.1 1.4h0m.3 1h0m.2-110.7h0m.1 110.5h0m0 2.8h0m.6-3.1h0m.2 0h0m.6-100.4h0m.2 1.9h0m0 90.3h0m.2-4h0m.2-106h0m0 104.2h0m.2-93.2h0m.2 103.2h0m.2-89.7h0m.1 94h0m.1-103h0m.1-12.6h0m.1 .9h0m0 7.4h0m.2-1.3h0m.2 3h0m0 103.6h0m.1-105.9h0m.1 99.9h0m.1-109h0m.5 11.6h0m0 3.2h0m.1-3h0m.1 110.3h0m.3-14.8h0m.2-96.2h0m.3-9.1h0m.3 1.4h0m.2 119.1h0m.1 3.1h0m.2-116.4h0m.6 5.7h0m.1 93h0m.2-89.7h0m0 83.5h0m.1-90.2h0m.2-10.3h0m.1 106.7h0m.1 15.9h0m.3-124.1h0m.2 18h0m.1 94.5h0m.4-111.4h0m0 9.4h0m0 95.7h0m.3-97.1h0m0 104.9h0m0 1.6h0m.1-11h0m.5-92.3h0m0 .1h0m0 2.5h0m0 103.7h0m.1-10.8h0m.3 2.2h0m.5-96.7h0m0 99.9h0m.1-11.7h0m.2-88h0m0 101h0m.3-107.1h0m.1 96h0m.8-2.7h0m.1-78.1h0m.1-9.2h0m.1-6.5h0m.5 11.8h0m.4-.1h0m0 2.2h0m.2 .4h0m.3 94h0m.1-12.7h0m.5 2.4h0m.1-94.1h0m.4 96.9h0m0 14.3h0m.3-117.3h0m.3 4.4h0m0 10.8h0m.2-.9h0m0 93.3h0m.1-91.7h0m.5-17.2h0m0 103.8h0m.1-.4h0m.5-97.6h0m.1 105.8h0m.1-110.9h0m0 103.1h0m0 1.5h0m0 .3h0m.1 4.1h0m.3 6.6h0m.2-107.2h0m.3 2.5h0m0 89.4h0m0 1.1h0m.2-6.4h0m.7 17.6h0m.6-108.5h0m0 6.7h0m.3-5.7h0m.1 102.9h0m.1 7h0m.3-21.7h0m.5-87.8h0m.4 7.1h0m.3-3.5h0m.1 103.2h0m.1-20.9h0m.1 18.7h0m.1-99.6h0m.1 80.6h0m.1 2.9h0m0 19.8h0m.2-10.2h0m1-10h0m0 16.1h0m1-18.6h0m.4 11h0m0 7.5h0m.2-106.9h0m0 92.3h0m.3-.1h0m1.8 7.4h0m.2-13.7h0m.1-83.1h0m0 1.9h0m.9 82.4h0m.2 4.1h0m.2-85.7h0m0 1.2h0m.1-1.4h0m.7 77h0m0 4.9h0m.2-1h0m3.7-4h0m6-.4h0m0 6.1h0m1.7-2h0m.1-.7h0m2.5-7.4h0m.1 2.8h0m1.2-3.4h0m0 10.3h0m.1-10.4h0m0 13h0m1.2 3.6h0m.2-14.2h0m2.2 3h0m.6 10.2h0m1.3 1.5h0m.2-.2h0m.2-4.7h0m.2 4.7h0m1.1 5h0m0 1.9h0m.9-5h0m0 2.1h0m.5-8.9h0m.1 .1h0m1.5 12.1h0m.4 5.4h0m.4-11.5h0m.7 9h0m.4 2h0m.2-7.6h0m.2-9h0m.5 13.5h0m.3-11.7h0m0 .7h0m.9-.5h0m.1 4.4h0m.7-3.2h0m.2-3.9h0m1.1 17.3h0m.6-17.3h0m.2 .5h0m.2 4.3h0m2.1 10.2h0m0 1.5h0m1 1.5h0m.4-15h0m.1-1.2h0m.4 3.6h0m0 11.8h0m.2-6.1h0m.6-5.9h0m.2-1.2h0m2.5 2.2h0m1.5 4.8h0m.3 4.5h0m.1-12.5h0m.1 13.6h0m.8-4.1h0" stroke="#2a1a08" stroke-width="1" stroke-linecap="round" fill="none" opacity="0.85"/>
<path d="M1948.8 72.1h0m.1-5.4h0m.3-4.1h0m0 9.4h0m.1-8.4h0m.1 1.5h0m.7-6.1h0m.7 .4h0m3.7-.3h0m2.8 2.9h0m1 5.2h0m1.1-8.1h0m.2 4.9h0m.8-3.1h0m52.4 84.8h0m2.3-3h0m4.4 4.5h0m3.2-6.9h0m0 5.3h0m.3-4h0m.5 4.3h0m.1-4.5h0m0 1.9h0m1.4 3.7h0m.5-.8h0m2-2.2h0m1.1 4.4h0m1.6-1.3h0" stroke="#fff" stroke-width="1.6" stroke-linecap="round" fill="none"/>
<circle cx="1993.5" cy="86.8" r="1.1" fill="#D9433D"/>
<circle cx="1992.9" cy="90.8" r="1.1" fill="#FE9D0B"/>
<circle cx="2026" cy="104.1" r="1.1" fill="#F5C713"/>
<circle cx="1968" cy="148.8" r="1.1" fill="#F5C713"/>
<circle cx="1964.1" cy="163.7" r="1.1" fill="#F5C713"/>
<circle cx="1970.2" cy="166.7" r="1.1" fill="#FE9D0B"/>
<circle cx="1999.7" cy="169.1" r="1.1" fill="#FE9D0B"/>
<circle cx="1944.9" cy="164.7" r="1.1" fill="#F5C713"/>
<path d="M1792.9 160.4V208.2H1840.2" fill="none" stroke="#000" stroke-width="2.3" stroke-linejoin="miter"/><path d="M1792.9 154.4l-5 12.5l5 -3.5l5 3.5z" fill="#000"/><path d="M1846.2 208.2l-12.5 -5l3.5 5l-3.5 5z" fill="#000"/><text x="1801.1" y="194.3" font-size="22.9" textLength="62.5" lengthAdjust="spacingAndGlyphs">UMAP</text>
<path d="M1790.5 539.4L2060.4 539.4" stroke="#f1f1f1" stroke-width="1" fill="none"/>
<path d="M1790.5 429.9L2060.4 429.9" stroke="#f1f1f1" stroke-width="1" fill="none"/>
<path d="M1790.5 320.5L2060.4 320.5" stroke="#f1f1f1" stroke-width="1" fill="none"/>
<path d="M1790.5 484.7L2060.4 484.7" stroke="#e9e9e9" stroke-width="1.2" fill="none"/>
<path d="M1790.5 375.2L2060.4 375.2" stroke="#e9e9e9" stroke-width="1.2" fill="none"/>
<path d="M1790.5 265.8L2060.4 265.8" stroke="#e9e9e9" stroke-width="1.2" fill="none"/>
<rect x="1800.6" y="409.8" width="60.1" height="184.3" fill="#D9433D" stroke="#222" stroke-width="1"/>
<rect x="1867.4" y="242.2" width="60.5" height="351.9" fill="#F5C713" stroke="#222" stroke-width="1"/>
<rect x="1934.6" y="442" width="59.7" height="152.1" fill="#FE9D0B" stroke="#222" stroke-width="1"/>
<rect x="2001.5" y="593.7" width="57" height="0.4" fill="#2A78B0" stroke="#222" stroke-width="1"/>
<rect x="1790.5" y="223.9" width="269.9" height="370.2" fill="none" stroke="#222" stroke-width="1.3"/>
<text x="1763.7" y="604.1" font-size="23.4" textLength="13" lengthAdjust="spacingAndGlyphs">0</text>
<text x="1711.4" y="494.7" font-size="23.4" textLength="65.3" lengthAdjust="spacingAndGlyphs">1,000</text>
<text x="1711.4" y="385.2" font-size="23.4" textLength="65.3" lengthAdjust="spacingAndGlyphs">2,000</text>
<text x="1711.4" y="275.8" font-size="23.4" textLength="65.3" lengthAdjust="spacingAndGlyphs">3,000</text>
<text x="1873.6" y="269.4" font-size="19" textLength="47.4" lengthAdjust="spacingAndGlyphs" font-weight="bold" stroke="#111" stroke-width="0.5">3,215</text>
<text x="1807.2" y="438.5" font-size="19" textLength="47.4" lengthAdjust="spacingAndGlyphs" font-weight="bold" stroke="#111" stroke-width="0.5">1,684</text>
<text x="1940.8" y="470.2" font-size="19" textLength="47.4" lengthAdjust="spacingAndGlyphs" font-weight="bold" stroke="#111" stroke-width="0.5">1,390</text>
<text x="2022" y="585.9" font-size="19" textLength="11" lengthAdjust="spacingAndGlyphs" font-weight="bold" stroke="#111" stroke-width="0.5">4</text>
<text transform="translate(1657.5 411.3) rotate(-90)" x="-213.5" y="0" font-size="25" textLength="427" lengthAdjust="spacingAndGlyphs">Significant differentially accesible</text>
<text transform="translate(1691.5 409) rotate(-90)" x="-203.5" y="0" font-size="25" textLength="407" lengthAdjust="spacingAndGlyphs">peaks between BLZ945 and CTL</text>
<text transform="translate(1844.9 613) rotate(-45)" x="-34" y="0" font-size="23.4" textLength="34" lengthAdjust="spacingAndGlyphs">MG</text>
<text transform="translate(1910.2 613) rotate(-45)" x="-88" y="0" font-size="23.4" textLength="88" lengthAdjust="spacingAndGlyphs">sdCAMs</text>
<text transform="translate(1975.5 613) rotate(-45)" x="-77" y="0" font-size="23.4" textLength="77" lengthAdjust="spacingAndGlyphs">dCAMs</text>
<text transform="translate(2039 613) rotate(-45)" x="-80" y="0" font-size="23.4" textLength="80" lengthAdjust="spacingAndGlyphs">clMono</text>
</g>
<g id="pd">
<text x="3.3" y="745.4" font-size="38" textLength="27" lengthAdjust="spacingAndGlyphs" font-weight="bold" stroke="#000" stroke-width="0.9">d</text>
<path d="M89.4 777.8V1163.6H535.2" fill="none" stroke="#333" stroke-width="1.4"/>
<path d="M164 1147.3h0m2-2.7h0m.7 1.9h0m1.1-1.5h0m.2 .4h0m1.3-.8h0m1 .9h0m0 .4h0m.6-.6h0m3.5 2h0m.2-1.6h0m.4-.8h0m2.4-.1h0m.2 2.4h0m0 .1h0m3.8-1.1h0m.6-.7h0m.2 .3h0m2.1 .7h0m1.6-.8h0m.7-1.2h0m1.3 1.3h0m.9 .6h0m.6-.3h0m.9-1.1h0m.3 .9h0m114.4 1.5h0m.6-.6h0m.8-2.1h0m1.8 .5h0m.5 .8h0m.5-1.4h0m.8 .1h0m.3 0h0m.3 1h0m1 .8h0m.4-1.8h0m1.5 .7h0m.8-.7h0m.1 2.7h0m.1-1.3h0m.2-1.5h0m1.5 .7h0m1.3 .3h0m.8 1.9h0m2.5-1.7h0m.7 1.5h0m1.5-2.3h0m0 1.7h0m4.4-.7h0m.9-1.3h0m1.1-.2h0" stroke="#333" stroke-width="5.4" stroke-linecap="round" fill="none" opacity="0.6"/>
<path d="M243.1 1101.2h0m0 18.6h0m.4-25.7h0m0 33.5h0m.1 4h0m.1-35.9h0m0 6.8h0m0 8.9h0m0 4.6h0m0 10.2h0m.1-6.6h0m.1-24.3h0m0 4.1h0m0 14h0m.1-17.6h0m0 6.3h0m0 1.9h0m0 3h0m.1 13.2h0m.2 12.1h0m.2-19.5h0m0 9.5h0m0 15.6h0m.1-31.9h0m0 9.1h0m.2 23.6h0m0 1.3h0m.1-41.2h0m0 9.9h0m0 23.1h0m.3-27h0m0 19.7h0m.1-.6h0m.2-15.1h0m0 .6h0m.1 15.3h0m.1 15.3h0m.3-36.6h0m0 2.3h0m0 2.4h0m0 30.6h0m.1-32.9h0m0 24.8h0m.3 0h0m.2-4h0m.1-4.6h0m.1 5.3h0m.1-14.6h0m.2 11.2h0m.1 3.8h0m.1 9.8h0m.5-7h0m.2 2.9h0m.8-1.6h0m0 7.6h0m0 .2h0m.2-18.8h0m.1 13.2h0m.4-1.4h0m.2 3.9h0m1.2-6.4h0m.3 5.9h0m.6-.5h0m.2 4.4h0m.1-.1h0m3.4 .2h0m.7-.9h0m.3 .3h0m.7-1.5h0m.1 1.7h0m.3-2h0m.5 .2h0m.2-3.1h0m.1 1.8h0m.1 2.2h0m.1-2h0m.2 2.3h0m.2-7.1h0m0 7.7h0m.2-2h0m.3-3.4h0m.1 5.1h0m.1-5.3h0m0 5.9h0m.3-9.3h0m0 5.5h0m.1 3.2h0m.3-9.3h0m0 8.1h0m.3-.8h0m0 .3h0m0 .6h0m0 1.3h0m.1-10.9h0m.1 2h0m.4 9h0m.2-2h0m0 1.8h0m.1 .6h0m.2-12.5h0m.1-2.8h0m.1-1.8h0m0 16.6h0m.1-7.8h0m0 7.6h0m.2-11.1h0m.1-3.6h0m.1 11.8h0m.1 1.6h0m0 1.5h0m.5-4.5h0m.3-14.8h0m0 4.6h0m.1-3.4h0m0 16.2h0m0 1.6h0m.3-5.4h0m.1-5.1h0m0 11h0m0 .2h0m.2-20.8h0m0 .4h0m0 .2h0m0 10.2h0m.1-9.2h0m0 5.2h0m.1-6.3h0m.1 .9h0m.1-2h0m0 .8h0m0 20.6h0m.1-21.2h0m0 1.2h0m0 7.1h0m0 1.8h0m0 11.1h0m.1-13h0m.1-8.8h0m0 18.6h0m0 1.6h0" stroke="#0c0c0c" stroke-width="5.4" stroke-linecap="round" fill="none" opacity="0.92"/>
<path d="M191.4 1135.9h0m3.6-9.1h0m0 10.3h0m1.5-17.2h0m.2-6h0m1.1 3h0m.4-4.2h0m.4-5.2h0m2.6-11.9h0m2 3.7h0m.2-11.6h0m.9 3.1h0m1.6 17.4h0m.1-5.8h0m.9-7.7h0m2.3 8.1h0m.6-10h0m3.1-28.1h0m.6-20.1h0m.1 12.8h0m.2 8.6h0m.2-2.1h0m.8-3.3h0m.9 9.6h0m.6-14.3h0m.1 6.2h0m.3-2.9h0m.2-5.3h0m2.5 9.8h0m.2-12h0m.6 7h0m.4-8.2h0m.1-16h0m.3-.2h0m.2 27.6h0m.1-35.1h0m.5 13.5h0m0 28.3h0m.4-30.3h0m.3 10.7h0m.7-.3h0m0 18.7h0m1.1-4.9h0m0 2.2h0m.4 .5h0m.3-29.8h0m0 9.4h0m.1-2.2h0m0 .6h0m.1 16.3h0m0 2.6h0m.1-21.5h0m.1 13.7h0m.1-8.6h0m.4 6.2h0m0 11.9h0m.1-18.6h0m0 19.5h0m.1-10.6h0m.1-12.3h0m.3 2.5h0m0 20.9h0m.1 3.5h0m.3-9.4h0m.1-21.1h0m.6 31.4h0m.3-32.6h0m.2 11.2h0m.3 4.1h0m.5 18.8h0m.2-26.9h0m.2 6.6h0m.1-31.9h0m.2 26.9h0m.2 14.4h0m.4-37.3h0m.1 25.1h0m.4 5.8h0m.6-12.9h0m.2 6.4h0m.2-4.1h0m.3 11.2h0m0 4.9h0m.1-27.6h0m.1 29.8h0m.7-12.1h0m.3-36.1h0m.1 53.2h0m.1-27h0m.1 17.1h0m.8 4.1h0m.1 5.4h0m.4 2.6h0m1-60.9h0m0 13.5h0m.1 9.9h0m.2-7.5h0m.1 8.4h0m.1 17.6h0m.4 18.8h0m.2-37.1h0m.1 19.2h0m.1-11.5h0m.2 24.7h0m.1-20.3h0m.1 4.7h0m0 .7h0m.1-21.1h0m.2 7.4h0m.3 11.9h0m0 5.7h0m0 11.1h0m.1-18h0m0 7.5h0m.6-19.7h0m.1 28.8h0m.2-26.3h0m0 11.4h0m.1-10.4h0m.3-18.5h0" stroke="#3C8DD0" stroke-width="5.6" stroke-linecap="round" fill="none" opacity="0.75"/>
<path d="M268.5 1116.5h0m.3-4.9h0m.5 25.9h0m.1-24.9h0m.1-27.9h0m.3 37.4h0m0 12.6h0m.2-43.1h0m.3 38.6h0m.2 12.6h0m.1-48.4h0m.3 40.2h0m.1-37.3h0m.2-11.1h0m.3 35.9h0m0 6.4h0m0 .3h0m.1-23.7h0m.1 27.4h0m.2-48.8h0m.7 19h0m.7 37.9h0m.6-50.8h0m1 5.5h0m.1 33.9h0m.3-40.1h0m.1-1.7h0m.3 6.2h0m0 36.2h0m.4-31.9h0m.3 33.3h0m0 .5h0m0 10.5h0m.1-50.6h0m.1 28.3h0m.3 22h0m.3-47.8h0m.1-9.2h0m.4 2.2h0m.1 39.3h0m.1-28.4h0m.2 14.1h0m.2-4.5h0m.3 9.1h0m.4-26.7h0m.9 6.7h0m.4 1.6h0m0 13h0m.1 11.9h0m1-6.5h0m0 7h0m.2-1.2h0m.4-2.9h0m.1-16h0m0 28.3h0m.1-24.7h0m.2 4.3h0m.3 4.1h0m1 14.8h0m1.2-33.2h0m0 4.9h0m.3-13.9h0m.4 4.9h0m.3-4.9h0m.6-7.5h0m.7 51.1h0m.1-51.1h0m0 42.1h0m.2-14.9h0m.2 5h0m.2-13.1h0m.5 25.7h0m.1 13.4h0m.2-16.1h0m0 9.1h0m.4-25.3h0m.1 7.2h0m.4-.6h0m.1-24.8h0m.1 31.5h0m.4-7.9h0m0 17.5h0m.8-19.4h0m.4-2.3h0m.1-4.5h0m.1-6.1h0m.1 .1h0m.3 6h0m.8 27.6h0m0 1.5h0m1-50.9h0m0 29.3h0m.6 13.6h0m.5-20.3h0m.1-7.3h0m.3 30.1h0m.1-12.2h0m1.3-10h0m.5-15.2h0m.1 16.2h0m1.4 34.3h0m1.1-15.9h0m0 7h0m.1-28.7h0m1.6 32.9h0m.2-1.8h0m.5-5.2h0m.9 6.8h0m1.6 3.8h0m6.8 2.4h0" stroke="#D84848" stroke-width="5.6" stroke-linecap="round" fill="none" opacity="0.75"/>
<path d="M145.3 1030.5h0m14.9 54.1h0m2.9-79h0m1.9 111.2h0m9.3-21.4h0m2 36.1h0m2 7.3h0m3.9-143.5h0m.6 33.5h0m0 70.5h0m1.1-39.5h0m0 16.4h0m3.6 61.6h0m1-14.8h0m1.1-82.9h0m.9 70h0m.8 19.5h0m.9-13.5h0m.7 18.1h0m1.2-34.9h0m.6-27.4h0m0 33h0m0 16.4h0m.3-22.9h0m3.9 13.6h0m1.1-151.6h0m.4 111.7h0m.1 18.3h0m.1 45.7h0m.3-53.7h0m.2 10.1h0m.6-23.4h0m.7 35.1h0m.4-15.2h0m.3 3h0m.1 12.9h0m.6-20.2h0m1 35h0m0 17h0m.2-60h0m.1-18.6h0m.6 27.2h0m.6 40.2h0m.5-75.6h0m.7 81.5h0m.9-39.8h0m.4-6.9h0m.4 12.8h0m.1 18.1h0m.9-28.4h0m.1-10.1h0m.2-149.2h0m.2 41.5h0m.1 168h0m.2-276.9h0m.6 153h0m1.2 39.7h0m.5-53.9h0m.1 89.5h0m.1-29.8h0m.2 47.7h0m.1-16.4h0m.4 26.2h0m.1 22h0m.1-80.7h0m.5-10.5h0m1.7-62.3h0m.1-8h0m.1 81.8h0m.5 6h0m.1 67.4h0m.3-160.2h0m.6 157.2h0m.1-9.5h0m.3 11.6h0m.1 2.4h0m.4-153.5h0m.9 31.1h0m.3 48h0m.2 18.2h0m.3-93.2h0m0 41.2h0m0 53.5h0m.2-53.7h0m0 90.8h0m.2 9.5h0m.2 5.3h0m1-43.2h0m.1 19.5h0m.1-92.1h0m0 69.9h0m.2-14.5h0m.2 60.4h0m.6-69.6h0m.6-80.8h0m0 46.3h0m1.1 55.2h0m.2 31h0m.1-135.4h0m0 39.3h0m0 25.4h0m0 9.9h0m.2-30h0m0 82h0m.1-38.9h0m.2-25.7h0m.8 41.9h0m.9-6.9h0m.1 4.9h0m.1-24.1h0m.6 74.8h0m.2-2.7h0m.1-89.4h0m.1-105.4h0m0 121h0m.2-66.9h0m.3 151.5h0m.2-43h0m.1-113.5h0m0 152.8h0m.1-113.3h0m.6 100.9h0m.1-72.8h0m.2 23.2h0m.4-51.4h0m.5 .4h0m0 111.1h0m.1-94.6h0m.3 34.6h0m.5-1.3h0m.2-31.1h0m.4-42h0m.3 132.7h0m.1-85.2h0m.2-21.9h0m.1 46.9h0m.1 6.2h0m.1-46h0m0 6h0m0 16.6h0m.4 15.8h0m.4-4.6h0m0 0h0m.4 27.9h0m.2-82h0m0 31.6h0m0 83.2h0m.5-93.5h0m.8-33.6h0m0 25.5h0m0 62.5h0m0 47h0m.4-85.1h0m0 50.4h0m.1-55.7h0m.1 39.3h0m.3-43.7h0m.1 47.2h0m.4-5.7h0m.1-44.8h0m.1-3h0m.6 68.9h0m.1 15.7h0m.2-5.8h0m.2-65.4h0" stroke="#5AA5D8" stroke-width="5.6" stroke-linecap="round" fill="none" opacity="0.75"/>
<path d="M265.2 980.1h0m.6 116.4h0m1.1-127.4h0m1.3 138.4h0m.7-148h0m0 112.4h0m0 8.2h0m.4 41.4h0m.7 9.4h0m.5-56.1h0m.2 20.3h0m.2-1.5h0m0 35.9h0m0 8h0m1.9-109.9h0m0 65.8h0m.3-18.9h0m.3 65.1h0m.1-51.4h0m0 27.2h0m.5 19.7h0m.2-43.1h0m.1 24.4h0m.8-75.5h0m.1 65.6h0m.7-42.2h0m0 3.4h0m1.5 43h0m.9 23.6h0m3.8-90.3h0m0 37.3h0m0 22.8h0m.4 20.9h0m.5-3.1h0m.7-1h0m.4-28.3h0m.3-78.5h0m.9 81.2h0m.3 28.2h0m.2 .4h0m1.8-41.8h0m.3 16.3h0m1.3 40.5h0m.8-77.4h0m.6-42.9h0m.9 106.1h0m.2-40.4h0m.5 19.3h0m.8 27.9h0m.1-42.5h0m.3-54.6h0m.1 50.6h0m.8-28.6h0m.5 25.4h0m.2 8.6h0m.8 3.5h0m.1 21.2h0m.3-23.4h0m2.9 4.2h0m.7 25.2h0m1.8 1.3h0m.3-80.6h0m1.3 91.1h0m1.7-1.8h0m2.6-30.9h0m2.9 34.3h0m1.2-5.7h0m.1 2.4h0m3.4-26.8h0m3.7 9.9h0m5.6 25.9h0m2.3-31.6h0m4.2-24h0m9.1 35.3h0m2.2-54.4h0m0 51.6h0m3.1 16.3h0m31.3-6.7h0m95.1 15.8h0m50.5-329.1h0" stroke="#DF6A72" stroke-width="5.6" stroke-linecap="round" fill="none" opacity="0.75"/>
<path d="M185.6 1137.2h0m3.4-3h0m2.8 4.4h0m1.2 .8h0m.1-6.2h0m1.4 6h0m.8-7.7h0m.6-1.6h0m1.3 .7h0m2.7-10.2h0m.1 10h0m1.2-9.8h0m.8-6.5h0m.2 6.4h0m.1 5.2h0m.3 4.2h0m.8-12.5h0m.3 13.9h0m.1-21.7h0m0 10.7h0m1.1-3.4h0m.4 24.4h0m.4-20.8h0m.3-1.5h0m.1 6.5h0m.1-24.1h0m0 22.2h0m.1-16h0m.1 3.2h0m.2 3.2h0m.2-27.2h0m.2 33.7h0m0 14.5h0m.4-2.6h0m.3-32.1h0m.1 43.6h0m.3-38.2h0m.1-11h0m0 .4h0m.1 5.8h0m.1 16.7h0m.3-23.8h0m.1-12.2h0m0 16.1h0m0 9.3h0m.4 9h0m.3-32.7h0m0 1.1h0m.3-2h0m.1 35.5h0m0 12.2h0m.3-26.6h0m.1-11.5h0m.2-19.7h0m0 24.3h0m1 31.7h0m.1-22.9h0m.6-2.5h0m.4 6.4h0m.1-35.9h0m0 42.5h0m.5-31.1h0m.1 56.6h0m.1-37.1h0m.1-23.3h0m.1-5.9h0m.3 66.9h0m.2-69h0m0 5.7h0m1.5 41.6h0m.4-49.7h0m0 52.6h0m.1 13.3h0m1-71.4h0m.1 45h0m0 10.3h0m.7 18.6h0m.2-65.9h0m0 41.3h0m.2-48.8h0m.5 64.1h0m0 4.4h0m.3 .1h0m.4-11.6h0m.1-54.5h0m.9-.9h0m.7 1.3h0m1.2 36.7h0m.1-45h0m.3 52.5h0m.1-44.8h0m.3 22.2h0m.1-15.2h0m.4 8.7h0m.6 21.1h0m.2-24.4h0m.1 39.8h0m.2-51.4h0m.2-7.3h0m.4 64.9h0m.3-22h0m0 3.3h0m.1-.3h0m.9-36.2h0m.1-8.6h0m.1 3.2h0m0 42.8h0m1.2 6.6h0m.1 .9h0m.6-18.7h0m.4 3.7h0m.3 31.6h0m.7-69.8h0m.2 46.8h0m.2-48h0m.1 68.2h0m.2-59.7h0m0 34h0m.1-38.4h0m.1 8.2h0m.4 57h0m.8-53.4h0m.5 7.4h0m.3 22.6h0m.9-33.7h0m.4-16.5h0m0 25.1h0m0 36.3h0m.1 10.7h0m.2-41.4h0m0 50.4h0m.1-76.3h0m.2 79.2h0m.5-34.5h0m.5-15.1h0m.6 8.9h0m.5 33.6h0m.2-40.7h0m.8-30.2h0m.4 22.7h0m.5 4h0m.7-26.2h0m0 2.8h0m0 3.9h0m0 .6h0m0 14.8h0m0 10.6h0m0 8.6h0m0 3.8h0m0 9.2h0m0 2.4h0m0 4.2h0m0 7.2h0m0 3.3h0m0 .8h0" stroke="#1F78C4" stroke-width="5.6" stroke-linecap="round" fill="none" opacity="0.85"/>
<path d="M268 1106.5h0m0 3.5h0m0 .7h0m0 3.1h0m0 13.8h0m0 .4h0m0 .8h0m.2 1.6h0m.3-22.1h0m2.1 12.7h0m.7-16.9h0m.3 4.7h0m.2 23.9h0m.1-13h0m.2 .5h0m.2-14.7h0m.1 .2h0m.1 .5h0m0 23.6h0m1.2-3.3h0m.9-12.2h0m.8-6.7h0m.1-2.1h0m.2 2.3h0m.7 13.8h0m.3 2.4h0m.2 2.1h0m.1 11.1h0m.1-13.7h0m.4-6.5h0m0 5.4h0m0 10.6h0m.4-10.5h0m.1-12.8h0m0 10.6h0m.2 10.2h0m.1-20.1h0m.2 .3h0m.6 16.3h0m.1-18.7h0m0 3h0m.1 23.8h0m.2-23.8h0m.1-2.3h0m0 17.3h0m.1 5.2h0m.5-.3h0m.9-3h0m.1-13.5h0m.4-4.2h0m.4 9.2h0m.3 2.3h0m.7-16.1h0m.4 7.9h0m.4-1.5h0m.3 24.4h0m.1-11.9h0m.4-7.9h0m.1 12.2h0m0 2.1h0m.2 3.7h0m.2-21.4h0m.8 26.8h0m.2-3h0m.2 9h0m.6-21.7h0m.2 1.7h0m.1-12.3h0m.2 12.9h0m.2-19.9h0m.2 26.9h0m.3 .1h0m.1 .6h0m.1 8h0m.1-23.8h0m.4 3.7h0m.4 4.8h0m.3-10.4h0m.4 5.4h0m0 2.6h0m.3-22.3h0m.3 20.9h0m.1-5h0m0 6.5h0m.4-7.2h0m.3 27.5h0m.1-31h0m.5 27.3h0m.8-27.6h0m.2 16.1h0m.1-2.4h0m.9-2.4h0m1.3 2.9h0m2.2 5.6h0m.8-7.5h0m0 7.8h0m.2 .9h0m.9 3.1h0m.8-3h0m0 2.8h0m.9-1h0" stroke="#CF2020" stroke-width="5.6" stroke-linecap="round" fill="none" opacity="0.85"/>
<path d="M242.4 1140.4L188.5 1140.4L200.7 1126.8L207.5 1106.4L210.3 1079.2L218.4 1068.3L230.7 1061.5L238.8 1065.6L242.4 1069.7Z" fill="#0F70BE" stroke="#0F70BE" stroke-width="3" stroke-linejoin="round"/>
<path d="M265.6 1140.4L298.7 1140.4L294.6 1126.8L286.4 1111.9L274.2 1106.4L265.6 1110.5Z" fill="#C90A0A" stroke="#C90A0A" stroke-width="3" stroke-linejoin="round"/>
<path d="M186 1146H312" stroke="#0a0a0a" stroke-width="9.5" stroke-linecap="round" fill="none"/>
<path d="M242.3 777.8V1163.6" stroke="#111" stroke-width="1.1" stroke-dasharray="2.4 1.4" fill="none"/>
<path d="M265.4 777.8V1163.6" stroke="#111" stroke-width="1.1" stroke-dasharray="2.4 1.4" fill="none"/>
<path d="M89.4 1141.6H535.2" stroke="#111" stroke-width="1.1" stroke-dasharray="2.4 1.4" fill="none"/>
<path d="M165 1146.7h0m4.3-.3h0m76.1-143h0m1.5 50.8h0m0 44.5h0m1.4 8.5h0m.2-136.4h0m1.2 104h0m0 12.7h0m6.5 35.2h0m6.2-12.1h0m.5-98.5h0m1.7 29.7h0m68.9 104.3h0m11.2 0h0m2.9 .6h0m8.4 .3h0" stroke="#555" stroke-width="5.6" stroke-linecap="round" fill="none" opacity="0.85"/>
<path d="M137.9 1163.6L137.9 1169.4" stroke="#333" stroke-width="1.3" fill="none"/>
<text x="123.2" y="1197.5" font-size="24.4" textLength="23.4" lengthAdjust="spacingAndGlyphs">−5</text>
<path d="M253.9 1163.6L253.9 1169.4" stroke="#333" stroke-width="1.3" fill="none"/>
<text x="248" y="1197.5" font-size="24.4" textLength="11.8" lengthAdjust="spacingAndGlyphs">0</text>
<path d="M369.9 1163.6L369.9 1169.4" stroke="#333" stroke-width="1.3" fill="none"/>
<text x="364.2" y="1197.5" font-size="24.4" textLength="11.3" lengthAdjust="spacingAndGlyphs">5</text>
<path d="M508.7 1163.6L508.7 1169.4" stroke="#333" stroke-width="1.3" fill="none"/>
<text x="497.7" y="1197.5" font-size="24.4" textLength="22" lengthAdjust="spacingAndGlyphs">10</text>
<path d="M83.6 1146.6L89.4 1146.6" stroke="#333" stroke-width="1.3" fill="none"/>
<text x="57.8" y="1155.4" font-size="24.4" textLength="12.4" lengthAdjust="spacingAndGlyphs">0</text>
<path d="M83.6 1049.9L89.4 1049.9" stroke="#333" stroke-width="1.3" fill="none"/>
<text x="45.4" y="1058.7" font-size="24.4" textLength="24.8" lengthAdjust="spacingAndGlyphs">25</text>
<path d="M83.6 953.2L89.4 953.2" stroke="#333" stroke-width="1.3" fill="none"/>
<text x="42.6" y="962" font-size="24.4" textLength="27.6" lengthAdjust="spacingAndGlyphs">50</text>
<path d="M83.6 856.5L89.4 856.5" stroke="#333" stroke-width="1.3" fill="none"/>
<text x="47.1" y="865.3" font-size="24.4" textLength="23.1" lengthAdjust="spacingAndGlyphs">75</text>
<text x="291.1" y="746" font-size="26" textLength="41.8" lengthAdjust="spacingAndGlyphs">MG</text>
<text x="108.6" y="784.3" font-size="26" textLength="117.1" lengthAdjust="spacingAndGlyphs">up in CTL</text>
<text x="318.2" y="784.3" font-size="26" textLength="164.2" lengthAdjust="spacingAndGlyphs">up in BLZ945</text>
<text x="207.4" y="1239.8" font-size="26" textLength="36.1" lengthAdjust="spacingAndGlyphs">log</text>
<text x="244.5" y="1246.5" font-size="15.6" textLength="9" lengthAdjust="spacingAndGlyphs">2</text>
<text x="261" y="1239.8" font-size="26" textLength="155.1" lengthAdjust="spacingAndGlyphs">fold change</text>
<text transform="translate(21.1 1084.3) rotate(-90)" x="0" y="0" font-size="26" textLength="53.7" lengthAdjust="spacingAndGlyphs">−log</text>
<text transform="translate(29.7 1027.3) rotate(-90)" x="0" y="0" font-size="15.6" textLength="22.3" lengthAdjust="spacingAndGlyphs">10</text>
<text transform="translate(21.1 1001.7) rotate(-90)" x="0" y="0" font-size="26" textLength="43" lengthAdjust="spacingAndGlyphs">adj.</text>
<text transform="translate(21.1 946.4) rotate(-90)" x="0" y="0" font-size="26" textLength="11.8" lengthAdjust="spacingAndGlyphs" font-style="italic">P</text>
<text transform="translate(21.1 927.4) rotate(-90)" x="0" y="0" font-size="26" textLength="69.4" lengthAdjust="spacingAndGlyphs">value</text>
<text x="470.6" y="808" font-size="19.2" textLength="63.4" lengthAdjust="spacingAndGlyphs" font-style="italic">Zfp932</text>
<path d="M505.8 809.7L521.9 813.1" stroke="#111" stroke-width="1.2" fill="none"/>
<text x="146.7" y="848.9" font-size="19.2" textLength="78.1" lengthAdjust="spacingAndGlyphs" font-style="italic">Gm11523</text>
<path d="M202.6 856L211.6 860.5" stroke="#111" stroke-width="1.2" fill="none"/>
<text x="99.3" y="1015.5" font-size="19.2" textLength="44.6" lengthAdjust="spacingAndGlyphs" font-style="italic">Erdr1</text>
<path d="M125 1018.3L145.3 1030.5" stroke="#111" stroke-width="1.2" fill="none"/>
<text x="94.5" y="1068.6" font-size="19.2" textLength="65.7" lengthAdjust="spacingAndGlyphs" font-style="italic">Dusp26</text>
<path d="M148.1 1073.9L160.2 1084.1" stroke="#111" stroke-width="1.2" fill="none"/>
<text x="183.4" y="1053.6" font-size="19.2" textLength="35.2" lengthAdjust="spacingAndGlyphs" font-style="italic">Igf1r</text>
<path d="M210.2 1057.8L224.3 1074.8" stroke="#111" stroke-width="1.2" fill="none"/>
<text x="317.4" y="1031.6" font-size="19.2" textLength="53.6" lengthAdjust="spacingAndGlyphs" font-style="italic">Alcam</text>
<path d="M314.6 1029.6L301.9 1042.3" stroke="#111" stroke-width="1.2" fill="none"/>
<text x="354.9" y="1059.2" font-size="19.2" textLength="47.1" lengthAdjust="spacingAndGlyphs" font-style="italic">Cd36</text>
<path d="M352.1 1054.4L342.2 1065.5" stroke="#111" stroke-width="1.2" fill="none"/>
<text x="444.9" y="1130.3" font-size="19.2" textLength="62.1" lengthAdjust="spacingAndGlyphs" font-style="italic">Ndufa4</text>
<path d="M478.8 1132L471.7 1141.9" stroke="#111" stroke-width="1.2" fill="none"/>
<path d="M617.7 777.8V1163.6H1054.1" fill="none" stroke="#333" stroke-width="1.4"/>
<path d="M690.6 1147.1h0m.1-1.6h0m.7 1.1h0m.3 .6h0m1.9-.3h0m1.3-.6h0m2.4 1h0m3.2-.5h0m1.3-.5h0m4.1 1.3h0m3.2-.5h0m.9-.8h0m0 1.3h0m.1-.6h0m1.4-1.4h0m.1 1.8h0m.1-.8h0m1 1h0m2-.2h0m1.7-1h0m.7 .6h0m2-1.1h0m.4 2.2h0m.5-2.5h0m2 1h0m.3-1h0m111.5 1.6h0m.8-1.2h0m.2 1.3h0m.1-1.9h0m.5 2.5h0m.2-1.8h0m2.2 .9h0m.1 .7h0m.6-.9h0m.1-1h0m1 .7h0m1 1.7h0m1.1-.5h0m7.5-2h0m1.1 1.2h0m.2 .2h0m1.6-.7h0m2 1.4h0m3.3-2h0m.1 1.2h0m0 1.1h0m2.4-.5h0m1.9 .1h0m1.9-.1h0m.2 .6h0m2 .1h0" stroke="#333" stroke-width="5.4" stroke-linecap="round" fill="none" opacity="0.6"/>
<path d="M761.1 1104h0m0 4.4h0m0 2h0m0 12.6h0m0 12.7h0m.1-32.1h0m0 16h0m.1 21.3h0m.1-26.4h0m.2-2.1h0m.1 20h0m0 7.9h0m.3-13.5h0m.1-18.4h0m0 33.6h0m.1-18.5h0m.2-4.1h0m.1-7h0m0 22.3h0m.2-19.8h0m0 .4h0m.2-5.8h0m0 2.7h0m0 1.8h0m0 .8h0m.3 20.4h0m.3-3.1h0m0 10.3h0m.1-30.7h0m0 7.9h0m0 21.2h0m0 1.8h0m.4-13.2h0m0 8.2h0m.2 1.9h0m.4-21.2h0m.2 15.4h0m.2-9.5h0m.2 15.3h0m.1-7h0m.1-11.7h0m.1 21.2h0m.3 .7h0m.1-17.8h0m.7 2.5h0m.3 8.9h0m.2 3h0m.1 1.1h0m.1-11h0m.3 8.8h0m.1 4.2h0m.2 .5h0m.3-1.6h0m.4-4.5h0m5.8 5.5h0m1.2 0h0m.1-.8h0m.3-5.6h0m.5 6.5h0m.4-5.7h0m.2 4.1h0m.3-10.9h0m0 12.2h0m.1-10.7h0m.4 1.9h0m0 .8h0m.1 5.3h0m.3-2.2h0m.1-6.2h0m.3 7.2h0m0 4.8h0m.2-17.6h0m.2 4.2h0m0 3.2h0m.1 5.1h0m0 4.4h0m.1-10.3h0m.1-4.3h0m.2 7.5h0m.1-5.9h0m.5 4h0m.1-4.4h0m.1-3h0m0 13.1h0m.2-16.6h0m0 6.1h0m0 3.3h0m0 6.9h0m.4-.3h0m.1-19.6h0m0 21.3h0m.1-20.8h0m0 .2h0m0 1.6h0m0 10.2h0m0 3.6h0m0 7.5h0m.2-25h0m0 4.8h0m.1 13.3h0m.4 7.5h0m.1-12.1h0m0 .3h0m.3 10.2h0m.4-2.9h0m.1-10.8h0m.1-6.9h0m0 13.9h0m.1-19.2h0m.1 5.3h0" stroke="#0c0c0c" stroke-width="5.4" stroke-linecap="round" fill="none" opacity="0.92"/>
<path d="M707.9 1135.8h0m.9 9.9h0m1.4-25.6h0m.9 4.5h0m.1 4.3h0m3.5 12.3h0m.3-18.2h0m.2 11.9h0m.4-16.5h0m2.1 21.6h0m.5-20.5h0m.5-10.4h0m.1-8.7h0m1.3 29.8h0m1.2 2.1h0m.1-38h0m.2-35.5h0m.1 25.5h0m.1 9.4h0m0 7.9h0m.9 43.5h0m.6-84.7h0m.2 29.2h0m1.5 52.1h0m.5-53.3h0m.5 .5h0m.6-21.5h0m.6 9.2h0m.5 25.3h0m.5-77.1h0m0 58.3h0m.1-51.4h0m.1 50.7h0m.1 17.7h0m.3-17.5h0m.1 4.5h0m.1-36.3h0m0 97.1h0m.1-88.2h0m.2 16.2h0m.8 8.8h0m.2 55.2h0m.2-102.2h0m.3 43.1h0m0 6h0m.3-49.4h0m.2 56.9h0m.1-38.9h0m.1 26.2h0m0 39.9h0m.1-72.4h0m0 38.2h0m.2-16.6h0m.1-9.8h0m.2-14.2h0m0 41.7h0m.2 34.1h0m.2-91.1h0m.2 14.4h0m.1 22.7h0m.2 22h0m.1-59.8h0m.4 49h0m.3-47h0m0 54.7h0m.4-32.1h0m.4 8.7h0m.1-.1h0m.1 60.2h0m.1-77h0m.2-18.5h0m.5 117.9h0m.2-122.1h0m.5 18.9h0m.2 3.2h0m0 38.3h0m.2 4.8h0m.2-24h0m0 21.7h0m.2-36.9h0m.2 71.4h0m.6-80.1h0m0 2h0m0 84.8h0m0 2.5h0m0 9.2h0m.2-73.3h0m.3-30.8h0m.2 50.7h0m.1-23.9h0m.2 49.9h0m.4 24.8h0m.1-96.9h0m.2 36h0m.2-30.2h0m.4 28.6h0m.6-4.8h0m.2 18.4h0m.2 1.8h0m.3-6.9h0m.5-15.6h0m.1 .7h0m.1 61.2h0m.4-99.2h0m0 52.8h0m1-9h0m.3 68.2h0m.1-53.8h0m.1-10.8h0m.3-29.1h0m.3 31.2h0m0 9.6h0m.2 5.7h0m.1-34.9h0m.1 29.6h0m.1-39.1h0m.3 48.7h0m0 12.1h0m.3-72.9h0m0 55h0m.1 16h0m.6-47.8h0m.3 2.6h0m.2-10.4h0m0 60.8h0m.5-40.4h0m.5 4.5h0m0 62.8h0m.3-72.5h0m.1-18h0m.2 54.7h0m.3-31.2h0m.2 36.3h0m.1-32.3h0m0 39.2h0m.4-32.5h0m.1-8.6h0m0 55.6h0m.5-26h0m.5 8.7h0m.6-60.1h0m0 39.9h0m1.3 33.9h0m.3-44.8h0m.1-17.8h0m.2 17.2h0m0 34.8h0m1.4-49.1h0m1.2 63.6h0m1.3-4.1h0" stroke="#3C8DD0" stroke-width="5.6" stroke-linecap="round" fill="none" opacity="0.75"/>
<path d="M786.5 1124.2h0m.3-18.7h0m.9 11.6h0m.3-20.4h0m.1 17.8h0m0 9.8h0m.6-7.8h0m.3-2.3h0m1.8-7.1h0m.3 20.1h0m.1-37.4h0m1.5 36.1h0m.1-7h0m.4-26h0m.7 15.1h0m1.5-2.1h0m.2-18.5h0m.1 45.8h0m.2-16.1h0m1-29.5h0m.3 50h0m.1 .8h0m.1-.4h0m.6-43.4h0m0 15.2h0m.6 27.4h0m.2 3.4h0m1.2-48.2h0m.1 47.9h0m.3-12.2h0m.5-9h0m.3 .8h0m.1 15.8h0m.1-43h0m0 6.9h0m.3 11.5h0m.7-16.3h0m.2 19.7h0m0 .6h0m0 9.8h0m.1-.6h0m1.1-33.3h0m.4 20h0m0 29.2h0m.1-47h0m.4 14.5h0m.5 2h0m.1 2.9h0m.2-28h0m1.5 43.5h0m.6 9.2h0m.5-45.4h0m0 12.1h0m.5 6.7h0m.2-28.2h0m.4 14h0m1.2 35.1h0m.2-52.5h0m.3 64.3h0m.1-26.7h0m.6 21.3h0m1.6-56.2h0m.3 36.5h0m.3-12.4h0m.6-7.5h0m.2 15.3h0m.9-23.7h0m.2 21.1h0m.1 1h0m.4-13.3h0m.7 33.2h0m0 4.2h0m.3-19.4h0m0 10.9h0m.6 6.4h0m.8 3.9h0m.1-35.1h0m.7 37.4h0m.4-22.1h0m.2-3.2h0m.4-33.4h0m.1 .8h0m.4 16.1h0m.1 11h0m.1-10.7h0m.6 4.6h0m.3-20.6h0m.2 40.3h0m.4 21.2h0m1.2-16.1h0m.9-10.7h0m.1 4.1h0m.3-13h0m.1 23.6h0m.6-29h0m.5 9.9h0m1.5-27.2h0m.2 6h0m.4 33.5h0m.3-44.4h0m0 13.8h0m.3-8.9h0m0 35.7h0m.7 17.5h0m.1-21.9h0m0 24.4h0m2.5-21.8h0m.8 13.7h0m.3-19.6h0m.1 28.6h0m.1-25.1h0m1.2 14.1h0m1 15.7h0m.7-7.7h0m.7-18.6h0m.1 25.3h0m.3-4.6h0m2.2-.6h0m.4-6.7h0m4 1.5h0" stroke="#D84848" stroke-width="5.6" stroke-linecap="round" fill="none" opacity="0.75"/>
<path d="M673.3 1134.9h0m11.6-17.8h0m11.8-13.3h0m0 37.3h0m2.8-27.7h0m4.9-5.5h0m.2 31.7h0m.6-16h0m1.4-115.1h0m1.1 112.6h0m.8-2.7h0m.3 7.9h0m.4 15.1h0m.2-13h0m.2 4.8h0m.4-9.2h0m1.4-2.2h0m.3 3.6h0m.5 8.3h0m.2-46.6h0m.1 6.8h0m.3 12.7h0m.8-16.9h0m0 19.6h0m.1-17.1h0m.2 49.8h0m.7-4.5h0m.4-81.1h0m.3-125.9h0m.8 205.8h0m.2-26.7h0m.2-36.2h0m1.4-46.6h0m1 116.1h0m.3-14.5h0m.1-84.7h0m0 17h0m.6 79h0m.8-189.5h0m1.3 165.4h0m.1-122.5h0m.8-51.1h0m0 180.1h0m1.1-48.5h0m.3-91.8h0m.1 10.3h0m.3 68.5h0m.2-85.3h0m.8 .9h0m.1 64.4h0m.5-1.1h0m0 16.9h0m0 11.3h0m0 68.5h0m.5-4.3h0m.6-16.1h0m.2-134.9h0m0 129.9h0m.1-60h0m.1 79.2h0m.1-108.9h0m.7-34.6h0m.5 5.4h0m0 10.9h0m0 80.9h0m.7-57.8h0m0 59.5h0m0 48.5h0m.2-220.9h0m.4 196.6h0m.2-98.3h0m0 16.9h0m0 32.5h0m0 70.9h0m.1-102.2h0m.1 75.9h0m.3-211.8h0m0 101h0m.2 11.5h0m.1 99.9h0m.1-116.6h0m.2-117h0m.1 229.5h0m.1-29.3h0m.1-100h0m.3 95.7h0m0 46h0m.1-99.3h0m.2-27.7h0m0 12.3h0m.2 117.5h0m.1 9.3h0m.1-110.6h0m.1-29.9h0m.1 91.9h0m.2-137.1h0m0 98.9h0m.3-113.6h0m.1 197.8h0m.1-62.4h0m.3 12.3h0m0 9h0m.3-278.5h0m0 142.4h0m.1 31.5h0m0 24.4h0m.2 31.5h0m0 39.5h0m.4-27.8h0m.2-70.8h0m0 47.7h0m.2 77.8h0m.1-27.9h0m.1-58.9h0m.1 35.9h0m.2-65.7h0m.1 9.5h0m0 28h0m.2-20.3h0m.1 32.2h0m0 41.3h0m0 66.7h0m.4-119.1h0m.2 28.5h0m.1-7.9h0m.4 17.8h0m.8 19.9h0m.1 40.7h0m.2-176.7h0m.6 63.4h0m.1 13.6h0m0 60.9h0m.4-6h0m.1-105.4h0m0 109.2h0m.3-84h0m.1 42.5h0m0 21.1h0m.2-71.7h0m.2 156.1h0m.2-83.1h0m.2 32.5h0m.7-65.2h0m0 40.9h0m.1-54.1h0m.1 98.7h0m.1-54.2h0m.1-73.4h0m.2 14h0m.1 84.1h0m.3 10.7h0m.2-62.2h0m.3-20h0m.1 34h0m.1-131.2h0m.6 169.4h0m.1 33h0m.2-40.9h0m.2-19h0m0 14.2h0m.1-28.6h0m.4 .7h0m.4-36.2h0m0 64.5h0m.2-32.1h0m.2 18.5h0m.2-15.3h0m.2 20.5h0m.4-13.5h0m.5-14.6h0m0 55.9h0m.1-49.8h0m.2-19.1h0m.8 68.3h0m.1-72.1h0m.5-1.8h0m0 46h0m.2-34.8h0m0 34.2h0m1.2 21.7h0m1.5 13.1h0m.1 32.4h0m1.5-23.4h0m1.1-53.1h0m.2 32.6h0m.1 28.4h0m0 8.1h0m.1-13.2h0m.1 .8h0m.2-15.2h0m.2 1.3h0m.2 3.9h0m0 4.5h0m.3-8.5h0m.4 14.8h0m.8-15.8h0m.3-23.4h0m0 12.2h0m1.1-152.8h0" stroke="#5AA5D8" stroke-width="5.6" stroke-linecap="round" fill="none" opacity="0.75"/>
<path d="M787.6 1141.9h0m.3-41.3h0m.5 20.1h0m.5-17.6h0m.9-7.2h0m.9 25.4h0m3-13.2h0m2.3 23.7h0m.1 12.3h0m1.5-38.1h0m0 18.2h0m.7-33.4h0m1 6.1h0m.4-24.4h0m1.4 44.4h0m.2-1.6h0m.6-12.1h0m1.6 19.5h0m0 14.1h0m1.4-33h0m.4-22h0m.2 10.7h0m2.3 13.1h0m1.2-47.8h0m.9 82.4h0m.7 .1h0m.3-1.6h0m.1-58.9h0m1.2 7.2h0m.6 2.9h0m.7 7.4h0m.3-9.8h0m1.2 30.1h0m.3 18.7h0m1.3-60.1h0m.4 22.4h0m0 31.2h0m.2 11.7h0m.4-36.5h0m.5 37h0m.3-52.2h0m.8 51.7h0m.9 1.3h0m.8-37.5h0m.4 9.3h0m.1-48.9h0m.8 23.2h0m0 31.9h0m0 7h0m.4-34.6h0m.2 9h0m0 13h0m.9-32.8h0m0 3.7h0m.7 22.9h0m.7-31.4h0m.5 38.4h0m1-42h0m.4 18.1h0m.8 36.3h0m1.1-22.8h0m.1 28.5h0m.3-43.3h0m2.8-45.7h0m0 70.6h0m.1 28.2h0m1.3-18.4h0m.6 12.8h0m.3-35.2h0m.8 31.3h0m.3-102h0m.2 72.8h0m4.9 33h0m1.4 2.1h0m1.4-10h0m0 5.7h0m.6 11.4h0m.7-11.5h0m2.1 3.5h0m7.9-18.7h0m1.4 11.3h0m9.9 4.8h0m175.5-146.8h0" stroke="#DF6A72" stroke-width="5.6" stroke-linecap="round" fill="none" opacity="0.75"/>
<path d="M706.9 1133.4h0m2.4 1.2h0m.4 2h0m.4-5.4h0m.2 18.8h0m.2-24h0m.2 6h0m.1 1.3h0m.2-9.2h0m.8-4.9h0m.1 19.9h0m.6-15.6h0m.3 15.1h0m.2-22.1h0m.1 2.6h0m0 11h0m0 9.1h0m.1-24.5h0m.4 13.2h0m.3 9.3h0m.1 3.8h0m.4-28.2h0m.1-8.1h0m.6 2.4h0m.6-6.7h0m0 34.8h0m.1-29.4h0m.6-9h0m.7 15.2h0m.4-8.4h0m1 39.2h0m.2-36.6h0m.4-2.3h0m.2 12.8h0m.2 16h0m.1 7.3h0m.1-28.1h0m.1-10.3h0m.2 27.3h0m.1-15.3h0m.3 8.3h0m.1-7.9h0m0 20h0m.1 6h0m.4-44.2h0m.1 46.1h0m.1-39.2h0m.4-7.2h0m.1-3.3h0m.4 13.7h0m0 35.6h0m.7-4.9h0m1.1 6.2h0m.9-50.9h0m0 1.9h0m.2-6.1h0m.4 3.1h0m0 28.5h0m.4-29.6h0m.2-2.6h0m0 20.3h0m.6 26.7h0m0 13.7h0m.4-32.9h0m1 15.8h0m.1-10.3h0m.5-11.5h0m.2 16.3h0m1.2-38.9h0m0 11.2h0m.3 10.4h0m.5-12h0m.3 14.8h0m.1-25.6h0m0 5.1h0m0 44.6h0m.2-49.4h0m2.3 1.9h0m.3 45.9h0m.1-47.5h0m0 26.7h0m.1-26.9h0m.4 5.2h0m.3 17.9h0m.5 13.4h0m0 17.7h0m.3-17.6h0m.5-40.1h0m1.1-1.2h0m.5 3.4h0m.8 1.6h0m.2 31.5h0m.7-19.8h0m.2 39.1h0m.1-18h0m.2 25.7h0m0 .8h0m.4-55h0m0 34.5h0m.4-13h0m.5-30h0m.2 5.4h0m.2 9.7h0m.1 50.4h0m.6-58.9h0m.7 20.5h0m.7-.7h0m.1 16.4h0m.5-26.5h0m.7 29.2h0m.4-7.6h0m.8-25.1h0m.1 52.8h0m.1-41.7h0m.4-11.8h0m0 8.4h0m.2 35h0m.7-43.9h0m.7-1.3h0m0 48.5h0m.4-48.1h0m.2-2.1h0m0 9.3h0m.7 .5h0m0 20.7h0m.4 3.2h0m.3 17.1h0m.2-48.6h0m.3 19.5h0m0 22.8h0m1.5-38.3h0m.1 39h0m.1-34.6h0m.2 37.6h0m.4-36.4h0m.1-3.2h0m.2 17.8h0m.2 6.5h0m.2-16.7h0m.1-4.3h0m0 3.5h0m.5 36.9h0m.1-35.8h0m.6 15.6h0m.7 8.5h0m.1-27.3h0m.9 14.9h0m.5-7.9h0m.3-9.4h0m0 4h0m0 3.1h0m0 5.2h0m0 1.5h0m0 .1h0m0 .2h0m0 1.3h0m0 .2h0m0 5.2h0m0 .8h0m0 11.9h0" stroke="#1F78C4" stroke-width="5.6" stroke-linecap="round" fill="none" opacity="0.85"/>
<path d="M786.3 1108h0m0 2.2h0m0 2.3h0m0 2h0m0 2.7h0m0 1.6h0m0 2.6h0m0 2.1h0m.5-10h0m.1 32.3h0m.9-33.8h0m.4-6.1h0m1.2 38.2h0m.3-33.4h0m.2 24.3h0m1.1-24.8h0m.2 22.2h0m.7-22.1h0m.3 28.8h0m0 1.5h0m.2-9.1h0m.1-28.8h0m0 26.9h0m.2-18.2h0m.7 12.5h0m.2-4.4h0m.4 5.5h0m1.3-23.7h0m.9 2.3h0m.7-3.9h0m.2 6.5h0m.1 30h0m.6-33.3h0m.5-5.5h0m1.1 30h0m.3-3.8h0m.1-8.3h0m.7-15.1h0m.3-.5h0m.2 35.3h0m.2-25.1h0m.2 26.3h0m0 8.6h0m.2-45.3h0m.8 38.2h0m.4-13.4h0m1.5 22.4h0m.7-45.4h0m1 13.7h0m.3-13.8h0m1.2-1.3h0m.1 40.5h0m.3-28h0m.2 10.9h0m.6-24.5h0m.9 7.5h0m.1-1.4h0m.8-3.5h0m0 26.7h0m1.3-11.1h0m.3 7.8h0m.3 4.2h0m.1 4h0m0 16.7h0m.2-48.1h0m.2 10.3h0m0 13.4h0m.1 1h0m0 12.2h0m.1-11.1h0m.8-19.2h0m0 1.5h0m.2 12h0m.2-12.6h0m.4-3.5h0m.1 6.7h0m.2 13.2h0m.4-8.2h0m.3-12.6h0m2.2 29.4h0m.1-22.2h0m.6 7.2h0m.4 22h0m.1-24h0m.3-13.9h0m.1 17h0m.7 7.9h0m.7 13.6h0m.1-32.8h0m.1 28.4h0m.1-17.5h0m.4 1.3h0m1-1.7h0m0 5.8h0m.7-9.5h0m.4 11.1h0m.9-.9h0m.1-6.9h0m0 24.7h0m.2-1.8h0m.7-12.3h0m.2 2.4h0m.1-19.4h0m0 22.9h0m1.1-4.6h0m.1 1.5h0m0 1.2h0m.1-26h0m0 28.8h0m.1-4.7h0m.9 2.9h0m2 8.5h0m.1 3.7h0m.8-7.6h0m.5-7.1h0m1.1 .1h0m1 10.6h0m1.3-2.2h0m.3 1.3h0m1.7 3.4h0m.8-7.2h0m1 6.2h0m.6-3.8h0m1.4 3.4h0m2.1-.1h0" stroke="#CF2020" stroke-width="5.6" stroke-linecap="round" fill="none" opacity="0.85"/>
<path d="M760.2 1145.9L713.9 1145.9L709.8 1130.9L715.3 1113.2L720.7 1096.9L726.2 1086L738.4 1083.3L747.9 1091.5L757.5 1106.4L760.2 1120Z" fill="#0F70BE" stroke="#0F70BE" stroke-width="3" stroke-linejoin="round"/>
<path d="M783.6 1145.9L840.4 1145.9L832.3 1135L821.4 1120L815.9 1106.4L806.4 1099.6L794.2 1102.3L786 1110.5L783.6 1120Z" fill="#C90A0A" stroke="#C90A0A" stroke-width="3" stroke-linejoin="round"/>
<path d="M716 1146.8H840" stroke="#0a0a0a" stroke-width="5" stroke-linecap="round" fill="none"/>
<path d="M760.4 777.8V1163.6" stroke="#111" stroke-width="1.1" stroke-dasharray="2.4 1.4" fill="none"/>
<path d="M783.7 777.8V1163.6" stroke="#111" stroke-width="1.1" stroke-dasharray="2.4 1.4" fill="none"/>
<path d="M617.7 1143.9H1054.1" stroke="#111" stroke-width="1.1" stroke-dasharray="2.4 1.4" fill="none"/>
<path d="M689.6 1145.9h0m12.7 .5h0m4.3 .3h0m55.6-91.7h0m2.8 58.4h0m0 18.6h0m11.3-24.8h0m3.9-6.5h0m66 45.7h0m4.3-.3h0m9.8 .6h0m2.9-.3h0m102.1 .6h0" stroke="#555" stroke-width="5.6" stroke-linecap="round" fill="none" opacity="0.85"/>
<path d="M656.6 1163.6L656.6 1169.4" stroke="#333" stroke-width="1.3" fill="none"/>
<text x="641.9" y="1197.5" font-size="24.4" textLength="23.4" lengthAdjust="spacingAndGlyphs">−5</text>
<path d="M772 1163.6L772 1169.4" stroke="#333" stroke-width="1.3" fill="none"/>
<text x="766.1" y="1197.5" font-size="24.4" textLength="11.8" lengthAdjust="spacingAndGlyphs">0</text>
<path d="M887.4 1163.6L887.4 1169.4" stroke="#333" stroke-width="1.3" fill="none"/>
<text x="881.8" y="1197.5" font-size="24.4" textLength="11.3" lengthAdjust="spacingAndGlyphs">5</text>
<path d="M1002.8 1163.6L1002.8 1169.4" stroke="#333" stroke-width="1.3" fill="none"/>
<text x="991.8" y="1197.5" font-size="24.4" textLength="22" lengthAdjust="spacingAndGlyphs">10</text>
<path d="M611.9 1146.6L617.7 1146.6" stroke="#333" stroke-width="1.3" fill="none"/>
<text x="586.1" y="1155.4" font-size="24.4" textLength="12.4" lengthAdjust="spacingAndGlyphs">0</text>
<path d="M611.9 1045.8L617.7 1045.8" stroke="#333" stroke-width="1.3" fill="none"/>
<text x="570.9" y="1054.5" font-size="24.4" textLength="27.6" lengthAdjust="spacingAndGlyphs">50</text>
<path d="M611.9 944.9L617.7 944.9" stroke="#333" stroke-width="1.3" fill="none"/>
<text x="558.5" y="953.7" font-size="24.4" textLength="40" lengthAdjust="spacingAndGlyphs">100</text>
<path d="M611.9 844L617.7 844" stroke="#333" stroke-width="1.3" fill="none"/>
<text x="561.8" y="852.8" font-size="24.4" textLength="36.7" lengthAdjust="spacingAndGlyphs">150</text>
<text x="784.7" y="746" font-size="26" textLength="102.4" lengthAdjust="spacingAndGlyphs">sdCAMs</text>
<text x="631.2" y="784.3" font-size="26" textLength="117.1" lengthAdjust="spacingAndGlyphs">up in CTL</text>
<text x="837.2" y="784.3" font-size="26" textLength="164.2" lengthAdjust="spacingAndGlyphs">up in BLZ945</text>
<text x="731.1" y="1239.8" font-size="26" textLength="36.1" lengthAdjust="spacingAndGlyphs">log</text>
<text x="768.2" y="1246.5" font-size="15.6" textLength="9" lengthAdjust="spacingAndGlyphs">2</text>
<text x="784.7" y="1239.8" font-size="26" textLength="155.5" lengthAdjust="spacingAndGlyphs">fold change</text>
<circle cx="890" cy="816.5" r="7.6" fill="#777"/><circle cx="869.6" cy="866.1" r="7.8" fill="#7BB6DE"/><circle cx="890" cy="866.1" r="7.8" fill="#E87B7F"/>
<text x="913.1" y="822.4" font-size="22.4" textLength="90.9" lengthAdjust="spacingAndGlyphs">NS or log</text>
<text x="1005" y="828.5" font-size="13.5" textLength="8" lengthAdjust="spacingAndGlyphs">2</text>
<text x="1020" y="822.4" font-size="22.4" textLength="73.1" lengthAdjust="spacingAndGlyphs">&lt; 0.59</text>
<text x="913.1" y="855.4" font-size="22.4" textLength="39.9" lengthAdjust="spacingAndGlyphs">Adj.</text>
<text x="961" y="855.4" font-size="22.4" textLength="12" lengthAdjust="spacingAndGlyphs" font-style="italic">P</text>
<text x="980" y="855.4" font-size="22.4" textLength="102.6" lengthAdjust="spacingAndGlyphs">value and</text>
<text x="913.1" y="883.1" font-size="22.4" textLength="30.9" lengthAdjust="spacingAndGlyphs">log</text>
<text x="945" y="889.2" font-size="13.5" textLength="8" lengthAdjust="spacingAndGlyphs">2</text>
<text x="960" y="883.1" font-size="22.4" textLength="129.4" lengthAdjust="spacingAndGlyphs">fold change</text>
<text x="646.5" y="930.2" font-size="19.2" textLength="45.4" lengthAdjust="spacingAndGlyphs" font-style="italic">Ptprk</text>
<path d="M695.3 924.5L716.5 931" stroke="#111" stroke-width="1.2" fill="none"/>
<text x="669.9" y="987.2" font-size="19.2" textLength="46.6" lengthAdjust="spacingAndGlyphs" font-style="italic">P2rx7</text>
<path d="M715.9 986L736.8 999.3" stroke="#111" stroke-width="1.2" fill="none"/>
<text x="988.1" y="980.1" font-size="19.2" textLength="62.1" lengthAdjust="spacingAndGlyphs" font-style="italic">Zfp932</text>
<path d="M1024 983.8L1040.9 989.4" stroke="#111" stroke-width="1.2" fill="none"/>
<text x="686.8" y="1023.1" font-size="19.2" textLength="27.7" lengthAdjust="spacingAndGlyphs" font-style="italic">Jun</text>
<path d="M717.9 1019.7L749.7 1019.2" stroke="#111" stroke-width="1.2" fill="none"/>
<text x="684.9" y="1041.8" font-size="19.2" textLength="28.2" lengthAdjust="spacingAndGlyphs" font-style="italic">Fos</text>
<path d="M715.9 1037.2L748.3 1035.3" stroke="#111" stroke-width="1.2" fill="none"/>
<text x="645.9" y="1076.7" font-size="19.2" textLength="67.2" lengthAdjust="spacingAndGlyphs" font-style="italic">Colec12</text>
<path d="M714.5 1074.2L741.8 1081.8" stroke="#111" stroke-width="1.2" fill="none"/>
<text x="625.6" y="1101" font-size="19.2" textLength="68.3" lengthAdjust="spacingAndGlyphs" font-style="italic">Cd209a</text>
<path d="M698.1 1097.3L737.6 1108.6" stroke="#111" stroke-width="1.2" fill="none"/>
<text x="632.7" y="1129.8" font-size="19.2" textLength="49.3" lengthAdjust="spacingAndGlyphs" font-style="italic">Dusp1</text>
<path d="M681.2 1128.4L739 1141.9" stroke="#111" stroke-width="1.2" fill="none"/>
<text x="787" y="1046.5" font-size="19.2" textLength="36.1" lengthAdjust="spacingAndGlyphs" font-style="italic">Traf1</text>
<path d="M800.2 1050.2L799.1 1090.3" stroke="#111" stroke-width="1.2" fill="none"/>
<text x="839.2" y="1065.7" font-size="19.2" textLength="39.5" lengthAdjust="spacingAndGlyphs" font-style="italic">Xylt1</text>
<path d="M837.8 1060.7L821.4 1066.3" stroke="#111" stroke-width="1.2" fill="none"/>
<text x="846.8" y="1086.9" font-size="19.2" textLength="45.1" lengthAdjust="spacingAndGlyphs" font-style="italic">Cd74</text>
<path d="M845.7 1086L792.6 1107.2" stroke="#111" stroke-width="1.2" fill="none"/>
<text x="856.9" y="1104.9" font-size="19.2" textLength="51.4" lengthAdjust="spacingAndGlyphs" font-style="italic">Dach1</text>
<path d="M850.5 1103L818 1114.8" stroke="#111" stroke-width="1.2" fill="none"/>
<text x="859.8" y="1120.7" font-size="19.2" textLength="55" lengthAdjust="spacingAndGlyphs" font-style="italic">Cd274</text>
<path d="M857.5 1117.6L803.9 1141.1" stroke="#111" stroke-width="1.2" fill="none"/>
<text x="868.8" y="1138.2" font-size="19.2" textLength="32.4" lengthAdjust="spacingAndGlyphs" font-style="italic">Tlr4</text>
<path d="M867.4 1131.2L837.2 1140.2" stroke="#111" stroke-width="1.2" fill="none"/>
</g>
<g id="pe">
<text x="1124" y="747.1" font-size="38" textLength="25" lengthAdjust="spacingAndGlyphs" font-weight="bold" stroke="#000" stroke-width="0.9">e</text>
<text x="1188.4" y="780.3" font-size="26" textLength="310.6" lengthAdjust="spacingAndGlyphs">YS-derived CAM module</text>
<text x="1169.6" y="807.1" font-size="22.9" textLength="342.7" lengthAdjust="spacingAndGlyphs" font-style="italic">Cd163, Colec12, Timd4, Cd209f,</text>
<text x="1208.7" y="833.9" font-size="22.9" textLength="265.1" lengthAdjust="spacingAndGlyphs" font-style="italic">Cd209g, C4b, Maf, P2rx7</text>
<text x="1666.6" y="780.3" font-size="26" textLength="333.1" lengthAdjust="spacingAndGlyphs">HSC-derived CAM module</text>
<text x="1627.5" y="807.1" font-size="22.9" textLength="403.2" lengthAdjust="spacingAndGlyphs" font-style="italic">Cd74, H2−Aa, H2−Ab1, H2−Eb1, Fxyd5,</text>
<text x="1599.1" y="833.9" font-size="22.9" textLength="466.4" lengthAdjust="spacingAndGlyphs" font-style="italic">Ciita, Slamf7, Slamf9, Lgals3, Cd226, Alcam</text>
<path d="M1289.1 885.5L1292.8 874.7L1302.8 869L1320.2 865.6L1335.1 863.3L1357.5 861.6L1372.5 857.7L1382.5 856L1389.9 856L1386.2 863.3L1382.5 871.3L1380 877L1373.7 883.8L1373.7 897.4L1367.5 901.4L1357.5 897.4L1340.1 896.8L1321.4 898L1307.7 896.3L1294 892.9Z" fill="#440154" stroke="#440154" stroke-width="1.5" stroke-linejoin="round"/>
<path d="M1402.4 916.7L1406.1 910.5L1414.8 911L1422.3 913.3L1424.8 919L1419.8 923.5L1414.8 925.8L1407.4 920.1Z" fill="#440154" stroke="#440154" stroke-width="1.5" stroke-linejoin="round"/>
<path d="M1394.9 863.3L1401.1 852L1413.6 847.4L1427.3 846.3L1442.9 844.6L1460.9 850.3L1474.6 856L1482.1 861.1L1487.7 870.7L1482.1 878.1L1474.6 883.8L1462.2 887.2L1454.7 891.2L1444.7 892.9L1432.3 891.2L1423.5 886L1413.6 883.8L1404.9 880.4L1396.2 869Z" fill="#440154" stroke="#440154" stroke-width="1.5" stroke-linejoin="round"/>
<path d="M1370 859L1389.9 854.8L1403.6 848L1404.2 857.7L1396.2 864.5L1389.9 862.8L1384.9 865.6L1380 873.6L1375 874.7Z" fill="#440154" stroke="#440154" stroke-width="1.5" stroke-linejoin="round"/>
<path d="M1428.7 1045.1L1434.5 1038.3L1440.9 1035.4L1450.4 1032.5L1462.1 1028.7L1469.5 1023.9L1473.7 1019L1481.1 1014.2L1487.5 1005.5L1491.7 1002.6L1498.1 1005.5L1495.9 1013.2L1490.6 1021L1485.4 1027.7L1479 1034.5L1473.7 1039.3L1468.4 1044.1L1465.2 1051.9L1462.1 1063.4L1460.5 1073.1L1455.7 1076.9L1449.4 1078.9L1440.9 1073.1L1432.4 1068.3L1429.2 1061.5L1428.2 1053.8Z" fill="#440154" stroke="#440154" stroke-width="1.5" stroke-linejoin="round"/>
<path d="M1481.1 975.6L1487.5 973.7L1493.8 976.6L1499.1 983.3L1501.2 988.1L1498.1 992L1492.8 995.9L1489.6 997.8L1487.5 993.9L1485.4 987.2L1481.6 980.4Z" fill="#440154" stroke="#440154" stroke-width="1.5" stroke-linejoin="round"/>
<path d="M1465.2 1051.9L1469.5 1044.1L1473.7 1039.3L1479 1034.5L1483.2 1036.4L1482.2 1044.1L1482.2 1053.8L1480.1 1061.5L1472.7 1065.4L1466.3 1069.2L1461 1073.1L1462.1 1063.4Z" fill="#440154" stroke="#440154" stroke-width="1.5" stroke-linejoin="round"/>
<path d="M1498.1 1044.1L1504.4 1043.2L1515 1047L1516.1 1053.8L1513.9 1057.6L1505.5 1057.6L1502.3 1052.8Z" fill="#440154" stroke="#440154" stroke-width="1.5" stroke-linejoin="round"/>
<path d="M1508.6 1021L1519.2 1021L1529.8 1021.9L1540.4 1020L1551 1021.9L1558.4 1024.8L1559.5 1034.5L1558.4 1046.1L1556.3 1051.9L1546.8 1056.7L1535.1 1055.7L1525.6 1054.7L1524.5 1046.1L1519.2 1040.3L1515 1034.5L1510.8 1028.7Z" fill="#440154" stroke="#440154" stroke-width="1.5" stroke-linejoin="round"/>
<path d="M1497 1002.6L1504.4 999.7L1511.8 998.8L1513.9 1005.5L1518.2 1010.3L1515 1015.2L1511.8 1020L1503.3 1021L1498.1 1017.1L1497 1010.3Z" fill="#440154" stroke="#440154" stroke-width="1.5" stroke-linejoin="round"/>
<path d="M1468.4 1073.1L1472.7 1067.3L1481.1 1064.4L1488.5 1061.5L1494.9 1062.5L1488.5 1068.3L1483.2 1073.1L1474.8 1074.1Z" fill="#440154" stroke="#440154" stroke-width="1.5" stroke-linejoin="round"/>
<path d="M1494.9 1022.9L1503.3 1021.4L1509.7 1021L1511.8 1029.7L1516.1 1035.4L1506.5 1034.5L1497 1030.6Z" fill="#440154" stroke="#440154" stroke-width="1.5" stroke-linejoin="round"/>
<path d="M1486.4 1026.8L1495.9 1023.9L1508.6 1027.7L1518.2 1032.5L1511.8 1040.3L1501.2 1043.2L1491.7 1044.1L1483.2 1036.4Z" fill="#440154" stroke="#440154" stroke-width="1.5" stroke-linejoin="round"/>
<path d="M1285.1 1098.1L1288.1 1089L1291.1 1084.9L1301.1 1079.9L1304 1074.5L1309 1079L1321 1079L1333.9 1080.8L1343.9 1079L1363.8 1078.1L1383.7 1077.7L1395.7 1080.8L1400.7 1089L1402.7 1099.9L1403.7 1110.8L1409.7 1112.6L1407.7 1118.1L1413.6 1122.6L1419.6 1129L1427.6 1130.8L1433.6 1129.9L1435.6 1139.9L1434.6 1147.1L1426.6 1150.3L1416.6 1148.1L1409.7 1143.5L1403.7 1138.1L1396.7 1133.5L1388.7 1131.7L1380.8 1129L1376.8 1130.8L1376.8 1139.9L1373.8 1145.3L1363.8 1146.2L1359.8 1147.6L1351.9 1144.4L1343.9 1140.8L1335.9 1139.9L1326 1135.3L1316 1128.1L1309 1119.9L1302.1 1116.3L1292.1 1110.8L1287.1 1105.4Z" fill="#440154" stroke="#440154" stroke-width="1.5" stroke-linejoin="round"/>
<path d="M1127.8 1007.8L1129 1002.7L1134.6 995.9L1142.1 992.5L1149.6 989.1L1156.4 986.2L1163.3 988.5L1171.4 992.5L1173.9 997.6L1178.9 1003.2L1177 1008.9L1184.5 1010.6L1187.6 1015.7L1190.1 1024.3L1186.3 1029.4L1178.2 1030.5L1165.8 1031.1L1153.3 1030.5L1138.4 1028.8L1130.3 1026.5L1130.9 1020.3L1129 1015.7L1129.7 1010.6Z" fill="#440154" stroke="#440154" stroke-width="1.5" stroke-linejoin="round"/>
<path d="M1508.6 1021L1519.2 1021L1529.8 1021.9L1540.4 1020L1551 1021.9L1558.4 1024.8L1559.5 1034.5L1558.4 1046.1L1556.3 1051.9L1546.8 1056.7L1535.1 1055.7L1525.6 1054.7L1524.5 1046.1L1519.2 1040.3L1515 1034.5L1510.8 1028.7Z" fill="#FDE725" stroke="#FDE725" stroke-width="1.5" stroke-linejoin="round"/>
<path d="M1498.1 1044.1L1504.4 1043.2L1515 1047L1516.1 1053.8L1513.9 1057.6L1505.5 1057.6L1502.3 1052.8Z" fill="#FDE725" stroke="#FDE725" stroke-width="1.5" stroke-linejoin="round"/>
<path d="M1494.9 1022.9L1503.3 1021.4L1509.7 1021L1511.8 1029.7L1516.1 1035.4L1506.5 1034.5L1497 1030.6Z" fill="#FDE725" stroke="#FDE725" stroke-width="1.5" stroke-linejoin="round"/>
<path d="M1486.4 1026.8L1495.9 1023.9L1508.6 1027.7L1518.2 1032.5L1511.8 1040.3L1501.2 1043.2L1491.7 1044.1L1483.2 1036.4Z" fill="#FDE725" stroke="#FDE725" stroke-width="1.5" stroke-linejoin="round"/>
<path d="M1291 882h0m0 3h0m0 2h0m1-9h0m0 1h0m0 4h0m0 0h0m0 5h0m0 2h0m1-13h0m0 5h0m0 1h0m1-9h0m0 4h0m0 0h0m1 4h0m0 4h0m0 2h0m1-15h0m0 5h0m0 0h0m0 1h0m0 10h0m0 3h0m0 0h0m0 1h0m1-14h0m0 13h0m0 1h0m0 1h0m1-19h0m0 2h0m0 1h0m0 1h0m1 3h0m0 2h0m0 7h0m1-20h0m0 2h0m0 1h0m0 5h0m0 1h0m0 0h0m0 2h0m0 2h0m0 2h0m1 6h0m1-15h0m0 1h0m0 2h0m0 4h0m1-13h0m0 15h0m0 0h0m2-17h0m0 6h0m0 5h0m0 7h0m1-13h0m0 0h0m0 8h0m0 12h0m1-20h0m0 0h0m0 8h0m0 0h0m0 4h0m1-10h0m1 3h0m0 5h0m0 0h0m1-13h0m0 2h0m0 0h0m0 10h0m0 3h0m0 1h0m0 4h0m0 4h0m1-13h0m0 9h0m0 0h0m1-15h0m0 18h0m1-23h0m0 2h0m0 19h0m1-21h0m0 1h0m0 0h0m0 8h0m0 3h0m0 4h0m0 1h0m0 7h0m1-26h0m0 18h0m0 4h0m0 2h0m0 2h0m1-24h0m0 0h0m0 17h0m0 4h0m0 2h0m1-25h0m0 17h0m0 10h0m1-23h0m0 2h0m0 14h0m0 4h0m1-15h0m0 2h0m0 4h0m0 4h0m1-13h0m0 0h0m0 3h0m0 20h0m1-29h0m0 7h0m0 3h0m0 16h0m0 1h0m1-25h0m0 2h0m0 11h0m0 4h0m1-21h0m0 3h0m0 3h0m0 13h0m0 3h0m0 4h0m1-29h0m0 4h0m0 10h0m0 2h0m0 3h0m0 0h0m0 4h0m1-20h0m0 6h0m0 3h0m0 2h0m0 1h0m0 2h0m0 7h0m0 4h0m0 5h0m1-34h0m0 5h0m0 17h0m0 4h0m0 4h0m0 3h0m1-30h0m0 6h0m0 11h0m0 1h0m0 0h0m0 2h0m0 2h0m0 9h0m1-21h0m0 20h0m1-26h0m0 0h0m0 12h0m0 2h0m0 11h0m0 1h0m1-30h0m0 7h0m0 2h0m0 10h0m0 2h0m0 0h0m0 4h0m0 1h0m1-17h0m0 12h0m1-22h0m0 4h0m0 13h0m0 1h0m0 1h0m0 2h0m0 0h0m0 2h0m0 7h0m1-27h0m0 14h0m0 2h0m0 12h0m1-30h0m0 0h0m0 1h0m0 2h0m0 4h0m0 7h0m0 2h0m0 9h0m0 1h0m0 2h0m1-29h0m0 25h0m0 1h0m0 1h0m0 2h0m0 3h0m1-13h0m0 3h0m0 4h0m0 1h0m0 0h0m1-28h0m0 6h0m0 1h0m0 7h0m0 9h0m0 3h0m0 2h0m1-24h0m0 0h0m0 23h0m0 3h0m1-19h0m0 10h0m0 4h0m1-8h0m1-14h0m0 1h0m0 1h0m0 2h0m0 0h0m0 4h0m0 1h0m0 9h0m0 1h0m0 7h0m1-29h0m0 12h0m0 6h0m0 6h0m0 7h0m1-27h0m0 1h0m0 2h0m0 7h0m0 6h0m0 1h0m0 1h0m0 2h0m0 1h0m1-5h0m0 0h0m0 0h0m0 10h0m0 1h0m1-23h0m0 3h0m0 1h0m0 1h0m1-8h0m0 2h0m0 1h0m0 8h0m0 4h0m0 2h0m0 2h0m0 5h0m0 1h0m0 1h0m1-21h0m0 10h0m1-20h0m0 0h0m0 8h0m0 6h0m0 13h0m0 4h0m1-29h0m0 0h0m0 7h0m0 3h0m0 6h0m0 8h0m0 1h0m1-27h0m0 2h0m0 4h0m0 3h0m0 4h0m0 0h0m0 3h0m0 2h0m0 8h0m0 1h0m0 6h0m1-21h0m0 17h0m1-30h0m0 14h0m0 12h0m0 6h0m1-33h0m0 6h0m0 2h0m0 6h0m0 8h0m0 1h0m0 9h0m0 0h0m0 2h0m1-31h0m0 3h0m0 0h0m0 3h0m0 4h0m0 2h0m0 4h0m0 5h0m0 1h0m0 4h0m1-28h0m0 10h0m0 3h0m0 9h0m0 2h0m0 6h0m1-24h0m0 7h0m0 10h0m1-19h0m0 6h0m0 15h0m0 9h0m1-29h0m0 2h0m0 1h0m0 8h0m1-18h0m0 6h0m0 1h0m0 14h0m0 4h0m0 5h0m0 3h0m0 3h0m1-32h0m0 1h0m0 2h0m0 7h0m0 1h0m0 8h0m0 4h0m0 9h0m0 1h0m1-35h0m0 11h0m0 3h0m0 1h0m0 1h0m0 1h0m0 3h0m0 0h0m0 8h0m0 1h0m0 2h0m0 1h0m1-27h0m0 4h0m0 4h0m0 5h0m0 11h0m1-19h0m0 3h0m0 17h0m1-32h0m0 8h0m0 1h0m0 5h0m0 4h0m0 6h0m0 5h0m0 1h0m0 3h0m1-35h0m0 3h0m0 1h0m0 9h0m0 0h0m0 6h0m0 0h0m0 19h0m0 0h0m1-34h0m0 2h0m0 27h0m0 5h0m0 1h0m0 1h0m1-32h0m0 7h0m0 1h0m0 3h0m0 9h0m0 0h0m0 11h0m1-36h0m0 1h0m0 4h0m0 5h0m0 17h0m0 5h0m1-31h0m0 4h0m0 22h0m0 2h0m0 2h0m0 7h0m0 1h0m1-30h0m0 1h0m0 2h0m0 9h0m0 6h0m0 6h0m0 2h0m0 1h0m1-36h0m0 3h0m0 5h0m0 3h0m0 7h0m0 3h0m0 8h0m0 3h0m0 0h0m0 2h0m0 0h0m1-36h0m0 7h0m0 0h0m0 5h0m0 10h0m0 9h0m1-24h0m0 6h0m0 8h0m1-19h0m0 9h0m0 4h0m0 3h0m0 13h0m1-31h0m0 12h0m0 5h0m0 1h0m1-19h0m0 7h0m0 2h0m0 3h0m0 3h0m0 1h0m1-13h0m0 9h0m0 1h0m1-5h0m0 12h0m0 1h0m1-23h0m0 7h0m0 0h0m0 1h0m0 0h0m0 3h0m0 3h0m1-11h0m0 3h0m0 1h0m0 0h0m0 0h0m0 32h0m1-34h0m0 5h0m0 3h0m1-12h0m0 3h0m0 2h0m0 1h0m0 3h0m0 4h0m0 28h0m1-42h0m0 4h0m0 0h0m0 6h0m0 2h0m0 1h0m1-6h0m0 17h0m1-22h0m0 2h0m2-4h0m1 0h0m0 4h0m1-4h0m0 36h0m1-10h0m1-28h0m0 5h0m0 30h0m1-34h0m0 7h0m1-6h0m0 2h0m3 0h0m0 32h0m1-38h0m0 2h0m0 3h0m1 0h0m0 4h0m1-9h0m0 3h0m0 8h0m1-5h0m0 0h0m0 1h0m0 2h0m0 1h0m0 3h0m0 13h0m1-28h0m0 8h0m0 14h0m1-15h0m0 0h0m0 8h0m0 8h0m0 2h0m1-23h0m0 1h0m0 3h0m0 11h0m0 1h0m0 4h0m0 2h0m0 1h0m1-18h0m0 0h0m0 2h0m0 5h0m0 10h0m0 3h0m0 36h0m1-64h0m0 1h0m0 8h0m0 13h0m0 45h0m1-67h0m0 3h0m0 11h0m0 1h0m0 5h0m1-20h0m0 8h0m0 8h0m0 9h0m0 36h0m0 1h0m1-55h0m0 0h0m0 1h0m0 2h0m0 5h0m0 6h0m0 0h0m0 2h0m0 3h0m0 38h0m0 1h0m0 1h0m0 0h0m1-50h0m0 2h0m0 3h0m0 4h0m0 5h0m0 39h0m0 3h0m1-69h0m0 4h0m0 1h0m0 3h0m0 7h0m0 2h0m0 5h0m0 39h0m0 6h0m1-67h0m0 6h0m0 4h0m0 6h0m0 6h0m0 5h0m0 33h0m0 1h0m0 0h0m0 2h0m0 1h0m1-66h0m0 2h0m0 2h0m0 7h0m0 5h0m0 0h0m0 10h0m0 1h0m1-30h0m0 8h0m0 16h0m0 5h0m0 1h0m0 4h0m0 28h0m1-49h0m0 0h0m0 3h0m0 6h0m0 3h0m0 3h0m0 3h0m0 3h0m0 33h0m0 7h0m1-73h0m0 1h0m0 11h0m0 4h0m0 4h0m0 2h0m0 9h0m0 36h0m0 4h0m1-60h0m0 1h0m0 12h0m0 2h0m0 38h0m0 9h0m0 2h0m1-72h0m0 9h0m0 11h0m0 5h0m0 0h0m0 42h0m1-72h0m0 0h0m0 5h0m0 1h0m0 2h0m0 0h0m0 0h0m0 1h0m0 3h0m0 0h0m0 14h0m0 2h0m0 31h0m0 11h0m1-54h0m0 12h0m0 7h0m0 2h0m0 0h0m0 21h0m0 10h0m0 1h0m0 4h0m1-72h0m0 2h0m0 1h0m0 3h0m0 4h0m0 1h0m0 6h0m0 4h0m0 5h0m0 1h0m0 2h0m0 1h0m0 42h0m0 1h0m1-69h0m0 0h0m0 9h0m0 15h0m0 31h0m0 9h0m0 4h0m1-62h0m0 5h0m0 9h0m0 4h0m0 7h0m0 38h0m1-73h0m0 9h0m0 23h0m0 28h0m0 5h0m1-64h0m0 2h0m0 7h0m0 3h0m0 5h0m0 4h0m0 10h0m1-32h0m0 18h0m0 10h0m0 2h0m0 0h0m0 1h0m0 36h0m1-66h0m0 3h0m0 1h0m0 4h0m0 9h0m0 14h0m0 20h0m0 16h0m0 0h0m0 156h0m1-216h0m0 1h0m0 5h0m0 2h0m0 13h0m0 3h0m0 2h0m0 5h0m0 11h0m1-51h0m0 1h0m0 7h0m0 6h0m0 3h0m0 1h0m0 5h0m0 9h0m0 0h0m0 9h0m0 11h0m0 9h0m0 138h0m0 2h0m0 6h0m1-206h0m0 2h0m0 9h0m0 2h0m0 0h0m0 5h0m0 6h0m0 3h0m0 22h0m0 17h0m0 0h0m0 0h0m0 133h0m0 1h0m0 4h0m0 20h0m1-215h0m0 1h0m0 8h0m0 6h0m0 2h0m0 1h0m0 28h0m0 1h0m0 140h0m1-190h0m0 3h0m0 2h0m0 3h0m0 5h0m0 16h0m0 1h0m0 1h0m0 2h0m0 2h0m0 157h0m0 9h0m0 8h0m0 6h0m1-219h0m0 12h0m0 6h0m0 11h0m0 6h0m0 1h0m0 2h0m0 2h0m0 8h0m0 2h0m0 3h0m0 6h0m0 135h0m0 4h0m0 3h0m0 3h0m0 5h0m1-212h0m0 2h0m0 5h0m0 7h0m0 8h0m0 3h0m0 3h0m0 13h0m0 3h0m0 7h0m0 141h0m0 3h0m0 16h0m0 7h0m0 2h0m1-218h0m0 0h0m0 3h0m0 5h0m0 14h0m0 3h0m0 5h0m0 3h0m0 22h0m0 135h0m0 3h0m0 14h0m0 2h0m1-210h0m0 23h0m0 1h0m0 1h0m0 6h0m0 5h0m0 2h0m0 2h0m0 155h0m0 7h0m0 2h0m0 2h0m0 5h0m0 1h0m0 3h0m1-216h0m0 2h0m0 10h0m0 0h0m0 10h0m0 12h0m0 0h0m0 3h0m0 5h0m0 14h0m0 1h0m0 141h0m0 11h0m0 1h0m0 9h0m1-219h0m0 4h0m0 12h0m0 2h0m0 7h0m0 0h0m0 5h0m0 10h0m0 9h0m0 152h0m0 4h0m0 5h0m0 0h0m0 6h0m0 0h0m0 3h0m1-220h0m0 3h0m0 8h0m0 12h0m0 0h0m0 1h0m0 1h0m0 5h0m0 14h0m0 9h0m0 0h0m0 4h0m0 152h0m0 7h0m0 5h0m1-207h0m0 5h0m0 4h0m0 11h0m0 6h0m0 11h0m0 2h0m0 153h0m0 5h0m1-206h0m0 12h0m0 9h0m0 3h0m0 2h0m0 1h0m0 5h0m0 7h0m0 150h0m0 9h0m0 4h0m0 10h0m0 6h0m1-220h0m0 1h0m0 7h0m0 13h0m0 3h0m0 2h0m0 10h0m0 5h0m0 160h0m0 15h0m1-221h0m0 6h0m0 21h0m0 0h0m0 5h0m0 4h0m0 6h0m0 149h0m0 8h0m0 5h0m0 8h0m0 15h0m1-213h0m0 0h0m0 0h0m0 4h0m0 9h0m0 9h0m0 0h0m0 3h0m0 153h0m0 6h0m0 1h0m0 17h0m0 1h0m0 2h0m0 7h0m1-219h0m0 2h0m0 0h0m0 12h0m0 15h0m0 0h0m0 1h0m0 5h0m0 3h0m0 0h0m0 3h0m0 144h0m0 9h0m0 2h0m0 1h0m0 5h0m0 5h0m0 12h0m0 2h0m1-225h0m0 0h0m0 5h0m0 14h0m0 4h0m0 15h0m0 1h0m0 10h0m0 156h0m0 5h0m0 10h0m0 2h0m0 7h0m1-222h0m0 0h0m0 4h0m0 6h0m0 7h0m0 1h0m0 14h0m0 3h0m0 164h0m0 3h0m0 7h0m0 12h0m1-226h0m0 9h0m0 0h0m0 9h0m0 3h0m0 14h0m0 8h0m0 144h0m0 1h0m0 7h0m0 1h0m0 3h0m0 2h0m0 3h0m0 9h0m0 6h0m0 6h0m0 1h0m0 3h0m1-232h0m0 16h0m0 0h0m0 14h0m0 159h0m0 12h0m0 4h0m0 6h0m0 7h0m0 1h0m0 0h0m0 9h0m0 4h0m1-228h0m0 9h0m0 15h0m0 15h0m0 3h0m0 152h0m0 18h0m0 2h0m0 10h0m1-220h0m0 15h0m0 2h0m0 165h0m0 10h0m0 8h0m0 12h0m0 0h0m1-215h0m0 7h0m0 13h0m0 4h0m0 0h0m0 5h0m0 1h0m0 5h0m0 1h0m0 156h0m0 6h0m0 4h0m0 2h0m0 1h0m0 1h0m0 2h0m0 0h0m0 8h0m0 10h0m1-215h0m0 14h0m0 6h0m0 4h0m0 0h0m0 7h0m0 150h0m0 1h0m0 0h0m0 14h0m0 0h0m0 7h0m0 1h0m0 7h0m1-217h0m0 2h0m0 4h0m0 5h0m0 2h0m0 1h0m0 9h0m0 3h0m0 2h0m0 2h0m0 166h0m0 14h0m0 4h0m1-221h0m0 5h0m0 7h0m0 15h0m0 4h0m0 155h0m0 5h0m0 8h0m0 16h0m0 4h0m0 1h0m0 0h0m1-219h0m0 0h0m0 1h0m0 1h0m0 10h0m0 0h0m0 20h0m0 0h0m0 5h0m0 158h0m0 18h0m0 2h0m0 1h0m0 9h0m1-225h0m0 6h0m0 1h0m0 19h0m0 4h0m0 6h0m0 4h0m0 164h0m0 1h0m0 5h0m0 17h0m1-218h0m0 2h0m0 0h0m0 1h0m0 14h0m0 11h0m0 0h0m0 2h0m0 1h0m0 140h0m0 9h0m0 28h0m0 2h0m0 5h0m1-216h0m0 4h0m0 13h0m0 0h0m0 4h0m0 2h0m0 2h0m0 6h0m0 148h0m0 2h0m0 1h0m0 0h0m0 5h0m0 5h0m0 10h0m0 1h0m0 2h0m0 6h0m0 4h0m1-222h0m0 3h0m0 3h0m0 0h0m0 2h0m0 5h0m0 1h0m0 1h0m0 3h0m0 4h0m0 8h0m0 153h0m0 0h0m0 18h0m0 13h0m0 3h0m0 3h0m1-215h0m0 1h0m0 3h0m0 2h0m0 26h0m0 143h0m0 7h0m0 13h0m0 0h0m0 1h0m0 3h0m0 12h0m1-214h0m0 0h0m0 4h0m0 8h0m0 170h0m0 6h0m0 2h0m0 3h0m0 2h0m0 5h0m0 0h0m0 10h0m0 7h0m1-212h0m0 0h0m0 5h0m0 199h0m0 2h0m1-212h0m0 20h0m0 1h0m0 4h0m0 1h0m1-17h0m0 5h0m0 1h0m0 12h0m0 157h0m0 2h0m0 11h0m0 0h0m1-197h0m0 3h0m0 10h0m0 11h0m0 2h0m0 3h0m0 1h0m0 3h0m0 143h0m0 19h0m0 3h0m0 1h0m0 5h0m0 1h0m1-200h0m0 11h0m0 3h0m0 9h0m0 152h0m0 7h0m1-183h0m0 7h0m0 3h0m0 14h0m0 3h0m0 1h0m0 144h0m0 8h0m0 9h0m0 4h0m0 8h0m1-195h0m0 1h0m0 1h0m0 1h0m0 5h0m0 10h0m0 1h0m0 1h0m0 1h0m0 152h0m0 1h0m0 1h0m0 2h0m0 2h0m0 11h0m1-194h0m0 8h0m0 4h0m0 2h0m0 5h0m0 2h0m0 147h0m0 1h0m0 3h0m0 31h0m1-205h0m0 5h0m0 7h0m0 6h0m0 2h0m0 7h0m0 3h0m0 138h0m0 1h0m0 2h0m0 0h0m0 4h0m0 3h0m1-175h0m0 15h0m0 7h0m0 141h0m0 35h0m0 1h0m0 4h0m1-182h0m0 0h0m0 156h0m0 4h0m1-178h0m0 6h0m0 6h0m0 4h0m0 187h0m1-206h0m0 4h0m0 1h0m0 11h0m0 4h0m0 152h0m0 4h0m0 7h0m1-171h0m0 5h0m0 2h0m0 142h0m0 0h0m0 5h0m0 6h0m1-174h0m0 10h0m0 9h0m0 1h0m0 0h0m0 140h0m0 3h0m0 5h0m0 1h0m0 6h0m1-175h0m0 0h0m0 6h0m0 5h0m0 0h0m0 0h0m0 4h0m0 9h0m0 137h0m0 4h0m0 2h0m0 4h0m0 4h0m0 3h0m0 11h0m0 5h0m0 2h0m1-188h0m0 0h0m0 8h0m0 3h0m0 150h0m0 2h0m1-166h0m0 8h0m0 3h0m0 7h0m0 137h0m0 7h0m0 33h0m1-196h0m0 3h0m0 0h0m0 11h0m0 5h0m0 137h0m0 9h0m1-164h0m0 1h0m0 2h0m0 3h0m0 2h0m0 146h0m0 1h0m0 1h0m0 1h0m0 3h0m0 0h0m0 6h0m1-166h0m0 8h0m0 107h0m0 1h0m0 38h0m1-148h0m0 8h0m0 103h0m0 4h0m0 33h0m0 1h0m0 3h0m1-156h0m0 1h0m0 9h0m0 0h0m0 105h0m0 34h0m0 10h0m1-153h0m0 1h0m0 110h0m0 31h0m0 3h0m0 3h0m1-148h0m0 3h0m0 102h0m0 43h0m1-40h0m0 34h0m0 3h0m0 8h0m1-18h0m0 8h0m0 2h0m0 8h0m0 2h0m1-48h0m0 9h0m0 9h0m0 13h0m0 6h0m0 2h0m0 2h0m1-15h0m0 17h0m1-42h0m0 13h0m0 7h0m0 20h0m0 8h0m1-47h0m0 24h0m0 5h0m0 2h0m1-28h0m0 3h0m0 3h0m0 3h0m0 14h0m0 39h0m2-50h0m0 16h0m1-28h0m0 22h0m1-24h0m0 30h0m1-28h0m0 53h0m2 11h0m1-20h0m1 19h0m0 3h0m1-8h0m1 0h0m2 8h0m1 0h0m1-12h0m1 14h0m1-8h0m0 14h0m2-22h0m1 18h0m0 5h0m3-22h0m5-8h0m3 12h0m2-14h0m0 12h0m6 13h0m1-13h0m1 0h0m1 14h0m2-25h0m6 6h0m1-3h0m1 25h0m9-5h0m2-13h0m1 0h0" stroke="#440154" stroke-width="3.6" stroke-linecap="round" fill="none"/>
<path d="M1306 872h0m0 1h0m1 22h0m1-11h0m1-8h0m1 4h0m17 14h0m3 4h0m5-3h0m3-17h0m14-9h0m21-11h0m11 1h0m9 38h0m13 19h0m20-64h0m4 8h0m1 51h0m0 139h0m2 6h0m0 2h0m2-2h0m3-194h0m0 179h0m1 27h0m1-28h0m0 6h0m0 22h0m2-32h0m0 20h0m0 5h0m0 8h0m1-29h0m1 3h0m0 0h0m2-5h0m0 9h0m1 29h0m2-8h0m1-32h0m2-146h0m0 142h0m0 19h0m2 7h0m1-20h0m1-1h0m2 17h0m1 19h0m1-39h0m0 16h0m1-18h0m0 34h0m0 6h0m1-203h0m0 169h0m0 9h0m0 12h0m0 7h0m1-29h0m0 23h0m0 1h0m0 2h0m0 1h0m0 1h0m1-32h0m0 29h0m0 7h0m1-16h0m0 12h0m0 0h0m1-11h0m1-18h0m0 23h0m1-9h0m0 9h0m0 0h0m0 6h0m1-33h0m0 15h0m0 0h0m0 2h0m0 6h0m0 1h0m0 4h0m1-8h0m0 8h0m1-37h0m0 11h0m0 2h0m0 8h0m0 11h0m0 1h0m0 1h0m0 5h0m0 2h0m1-15h0m0 6h0m1-18h0m0 18h0m0 10h0m1-25h0m0 23h0m1-38h0m0 4h0m0 28h0m0 6h0m0 2h0m1-37h0m0 7h0m0 4h0m0 9h0m0 11h0m0 1h0m0 0h0m0 3h0m0 0h0m1-36h0m0 1h0m0 5h0m0 0h0m0 4h0m0 24h0m1-21h0m0 3h0m0 4h0m1-189h0m0 166h0m0 4h0m0 8h0m0 6h0m0 17h0m1-22h0m0 2h0m0 5h0m0 4h0m0 4h0m0 7h0m1-45h0m0 3h0m0 15h0m0 5h0m0 5h0m0 12h0m2-27h0m0 3h0m1-51h0m0 2h0m1-4h0m0 10h0m0 23h0m0 28h0m1-60h0m0 0h0m0 1h0m0 56h0m0 4h0m1-61h0m0 1h0m0 3h0m0 38h0m1 5h0m1-47h0m0 5h0m0 6h0m0 3h0m0 13h0m0 2h0m0 3h0m0 33h0m1-46h0m0 0h0m0 17h0m0 1h0m1-32h0m0 6h0m0 2h0m0 15h0m0 12h0m1-38h0m0 26h0m0 1h0m0 9h0m0 26h0m1-15h0m0 2h0m1 1h0m1 4h0m0 1h0m1-56h0m0 8h0m0 20h0m0 28h0m1-55h0m0 11h0m2-1h0m0 1h0m0 35h0m0 0h0m1 6h0m0 6h0m0 7h0m1 3h0m0 5h0m1-13h0m0 6h0m1-2h0m0 3h0m1-10h0m1 16h0m1 3h0m1 0h0m1-20h0m0 1h0m0 9h0m0 10h0m1-20h0m0 2h0m0 3h0m0 16h0m1-19h0m0 10h0m0 2h0m1-1h0m1-24h0m0 3h0m1 4h0m0 18h0m0 0h0m0 6h0m1-7h0m0 2h0m0 2h0m1-24h0m0 4h0m0 1h0m1-3h0m0 2h0m2-2h0m0 5h0m1-13h0m0 6h0m1 9h0m1-6h0m1 1h0m1 1h0m1-3h0m1-4h0m2 2h0m0 2h0m0 8h0m1-16h0m0 17h0m0 7h0m1-10h0m0 5h0m0 1h0m0 9h0m0 1h0m1-30h0m0 2h0m0 14h0m0 1h0m0 1h0m1 13h0m1-30h0m0 16h0m0 4h0m0 6h0m0 3h0m1-25h0m0 11h0m0 7h0m0 5h0m0 3h0m0 1h0m1-29h0m0 6h0m0 3h0m0 2h0m0 7h0m0 1h0m1 7h0m0 2h0m1-26h0m0 5h0m0 17h0m1-23h0m0 8h0m0 13h0m1-24h0m0 2h0m0 18h0m1-23h0m0 5h0m0 8h0m0 6h0m0 6h0m1-8h0m0 5h0m0 2h0m1-20h0m0 9h0m0 8h0m1-2h0m0 0h0m0 9h0m1-28h0m0 1h0m0 13h0m0 1h0m0 12h0m1-24h0m0 14h0m0 9h0m0 2h0m0 7h0m1-29h0m0 1h0m0 7h0m0 1h0m0 10h0m2-14h0m0 7h0m0 2h0m1-15h0m0 5h0m0 5h0m0 5h0m0 11h0m1-22h0m0 21h0m1-25h0m0 2h0m0 2h0m1-7h0m0 8h0m0 7h0m0 3h0m0 6h0m1-14h0m1-7h0m0 16h0m0 3h0m1-11h0m1 7h0m0 0h0m0 12h0m1-19h0m0 5h0m0 3h0m0 4h0m1-20h0m0 14h0m1 0h0m0 0h0m1-4h0" stroke="#FDE725" stroke-width="3.6" stroke-linecap="round" fill="none"/>
<path d="M1127 1006h0m2 2h0m0 0h0m1 8h0m1-6h0m0 2h0m1-6h0m0 4h0m0 1h0m0 0h0m0 2h0m0 4h0m0 7h0m1-20h0m0 7h0m0 15h0m1-16h0m0 1h0m0 1h0m0 0h0m0 8h0m1-17h0m0 5h0m0 0h0m0 2h0m0 6h0m1-19h0m0 3h0m0 21h0m1-20h0m0 3h0m0 2h0m0 16h0m0 0h0m0 1h0m0 2h0m1-28h0m0 14h0m0 2h0m0 4h0m0 3h0m1-24h0m0 7h0m0 4h0m0 1h0m0 1h0m0 9h0m0 2h0m0 5h0m1-30h0m0 5h0m0 3h0m0 5h0m0 10h0m0 1h0m0 1h0m1-23h0m0 0h0m0 1h0m0 4h0m0 2h0m0 8h0m0 1h0m0 3h0m0 10h0m1-27h0m0 2h0m0 9h0m0 6h0m0 4h0m1-27h0m0 1h0m0 8h0m0 3h0m0 2h0m0 3h0m0 1h0m0 1h0m0 12h0m0 4h0m1-25h0m0 5h0m0 0h0m0 12h0m0 5h0m0 2h0m0 2h0m1-39h0m0 10h0m0 5h0m0 7h0m0 2h0m0 5h0m0 3h0m0 4h0m0 1h0m0 2h0m1-28h0m0 2h0m0 1h0m0 2h0m0 5h0m0 7h0m0 1h0m0 1h0m0 8h0m0 1h0m1-34h0m0 7h0m0 14h0m0 0h0m0 6h0m1-29h0m0 4h0m0 1h0m0 7h0m0 20h0m0 1h0m0 4h0m0 0h0m1-36h0m0 3h0m0 2h0m0 0h0m0 5h0m0 5h0m0 6h0m0 2h0m0 1h0m0 1h0m1-31h0m0 6h0m0 1h0m0 5h0m0 3h0m0 4h0m0 11h0m0 3h0m1-30h0m0 4h0m0 9h0m0 2h0m0 2h0m0 2h0m1-17h0m0 22h0m0 5h0m1-31h0m0 1h0m0 9h0m0 7h0m0 3h0m0 12h0m0 3h0m0 2h0m1-29h0m0 1h0m0 3h0m0 0h0m0 1h0m1-12h0m0 3h0m0 2h0m0 0h0m0 11h0m0 2h0m0 5h0m0 10h0m1-36h0m0 15h0m0 3h0m0 3h0m0 2h0m0 1h0m0 1h0m0 1h0m0 0h0m0 6h0m1-30h0m0 1h0m0 0h0m0 10h0m0 7h0m0 5h0m0 13h0m1-21h0m0 5h0m0 1h0m0 9h0m0 2h0m0 2h0m0 5h0m0 4h0m1-38h0m0 15h0m0 14h0m0 3h0m1-35h0m0 24h0m0 8h0m0 0h0m0 6h0m1-39h0m0 29h0m0 5h0m0 0h0m1-30h0m0 9h0m0 2h0m0 1h0m0 10h0m0 5h0m1-27h0m0 2h0m0 13h0m0 0h0m0 2h0m0 1h0m0 1h0m0 5h0m0 2h0m1-28h0m0 4h0m0 4h0m0 1h0m0 7h0m0 2h0m1-20h0m0 3h0m0 11h0m0 1h0m0 5h0m0 11h0m0 4h0m1-29h0m0 2h0m0 10h0m0 1h0m0 4h0m0 7h0m0 5h0m1-30h0m0 0h0m0 22h0m0 5h0m0 5h0m0 0h0m0 1h0m1-23h0m0 5h0m0 17h0m1-32h0m0 11h0m0 7h0m0 3h0m0 0h0m0 15h0m1-25h0m0 1h0m1-10h0m0 9h0m0 0h0m0 4h0m0 11h0m1-29h0m0 10h0m0 2h0m0 2h0m0 9h0m0 6h0m1-22h0m0 2h0m0 2h0m0 8h0m0 1h0m0 2h0m0 12h0m0 0h0m0 2h0m0 0h0m1-5h0m0 2h0m0 1h0m0 1h0m1-18h0m0 8h0m0 3h0m0 1h0m1-8h0m0 0h0m0 2h0m0 2h0m0 5h0m0 1h0m1-20h0m0 1h0m0 4h0m0 6h0m0 0h0m0 8h0m0 0h0m0 2h0m0 0h0m0 3h0m0 1h0m1-14h0m0 3h0m0 9h0m1-9h0m0 4h0m0 5h0m1-3h0m1-4h0m0 8h0m1-17h0m0 1h0m0 7h0m0 5h0m0 0h0m0 4h0m1-16h0m0 2h0m0 1h0m0 14h0m0 1h0m2-11h0m1-2h0m0 2h0m0 3h0m0 4h0m0 1h0m1-8h0m0 8h0m1-3h0m1 1h0m100 83h0m1-6h0m1 7h0m0 0h0m1-23h0m3 3h0m0 2h0m0 12h0m0 5h0m0 3h0m1-14h0m0 10h0m1-17h0m0 2h0m0 2h0m0 2h0m0 12h0m0 5h0m1-30h0m0 13h0m0 11h0m0 3h0m1-11h0m0 4h0m1-17h0m0 3h0m0 4h0m0 2h0m0 0h0m0 7h0m0 2h0m0 6h0m1-16h0m0 7h0m0 1h0m0 6h0m1-24h0m0 26h0m0 1h0m1-19h0m0 1h0m0 4h0m0 3h0m0 1h0m0 2h0m0 9h0m0 3h0m1-25h0m0 13h0m0 8h0m0 0h0m1-32h0m0 14h0m0 8h0m0 11h0m1-33h0m0 17h0m0 4h0m0 1h0m0 2h0m0 9h0m1-30h0m0 1h0m0 1h0m0 12h0m0 2h0m0 4h0m1-22h0m0 7h0m0 1h0m0 4h0m0 27h0m1-33h0m0 1h0m0 6h0m0 7h0m0 10h0m0 1h0m1-32h0m0 5h0m0 10h0m0 6h0m0 16h0m0 3h0m1-28h0m0 1h0m0 4h0m0 1h0m0 9h0m1 1h0m0 3h0m0 15h0m1-34h0m0 16h0m0 10h0m1-35h0m0 2h0m0 3h0m0 28h0m1-22h0m0 20h0m0 2h0m1-19h0m0 1h0m0 19h0m0 2h0m0 10h0m0 2h0m1-41h0m0 5h0m1-12h0m0 15h0m0 12h0m0 4h0m0 10h0m1-36h0m0 11h0m0 1h0m0 9h0m0 16h0m1-38h0m0 2h0m0 6h0m0 7h0m0 10h0m0 9h0m0 0h0m1-39h0m0 9h0m0 3h0m0 1h0m0 2h0m0 11h0m0 3h0m0 20h0m1-49h0m0 1h0m0 3h0m0 7h0m0 11h0m0 3h0m0 0h0m0 5h0m0 15h0m0 0h0m1-43h0m0 8h0m0 3h0m0 11h0m0 2h0m0 26h0m1-51h0m0 11h0m0 6h0m0 1h0m0 13h0m0 6h0m0 0h0m0 2h0m0 3h0m1-37h0m0 8h0m0 3h0m0 14h0m0 3h0m0 8h0m1-38h0m0 6h0m0 7h0m0 2h0m0 18h0m0 9h0m0 5h0m1-44h0m0 2h0m0 25h0m0 1h0m0 0h0m0 4h0m0 6h0m0 10h0m1-43h0m0 15h0m0 0h0m0 5h0m0 24h0m1-53h0m0 3h0m0 1h0m0 12h0m0 9h0m0 6h0m0 15h0m1-42h0m0 5h0m0 15h0m0 4h0m0 1h0m0 0h0m0 2h0m0 2h0m0 10h0m0 3h0m0 4h0m1-47h0m0 1h0m0 0h0m0 3h0m0 5h0m0 5h0m0 1h0m0 1h0m0 9h0m0 25h0m1-51h0m0 13h0m0 3h0m0 11h0m0 4h0m0 7h0m1-40h0m0 25h0m0 13h0m0 8h0m0 6h0m0 3h0m1-55h0m0 2h0m0 2h0m0 2h0m0 36h0m0 0h0m0 3h0m0 1h0m1-45h0m0 14h0m0 0h0m0 20h0m0 5h0m0 1h0m1-22h0m0 4h0m0 2h0m0 2h0m0 8h0m0 4h0m0 6h0m0 2h0m0 8h0m1-54h0m0 6h0m0 12h0m0 4h0m0 1h0m0 6h0m0 13h0m0 2h0m1-44h0m0 7h0m0 6h0m0 2h0m0 5h0m0 1h0m0 0h0m0 22h0m0 0h0m0 8h0m0 0h0m1-47h0m0 5h0m0 6h0m0 12h0m0 2h0m0 2h0m0 2h0m0 13h0m1-36h0m0 2h0m0 3h0m0 8h0m0 0h0m0 0h0m0 18h0m0 4h0m0 6h0m1-56h0m0 5h0m0 2h0m0 2h0m0 3h0m0 6h0m0 9h0m0 4h0m0 5h0m0 18h0m0 1h0m1-35h0m0 13h0m0 1h0m0 6h0m0 6h0m1-34h0m0 18h0m0 14h0m0 1h0m0 3h0m1-39h0m0 3h0m0 5h0m0 8h0m0 7h0m0 0h0m0 5h0m0 6h0m0 3h0m0 2h0m0 2h0m0 0h0m0 12h0m1-59h0m0 8h0m0 24h0m0 5h0m0 6h0m0 5h0m0 10h0m1-60h0m0 13h0m0 0h0m0 2h0m0 9h0m0 4h0m0 1h0m0 3h0m0 1h0m0 16h0m0 2h0m0 2h0m0 1h0m0 0h0m1-54h0m0 6h0m0 10h0m0 2h0m0 3h0m0 2h0m0 15h0m0 8h0m0 3h0m0 1h0m0 0h0m0 4h0m0 2h0m0 2h0m1-60h0m0 12h0m0 11h0m0 1h0m0 0h0m0 7h0m0 1h0m0 2h0m0 22h0m0 5h0m0 2h0m1-57h0m0 20h0m0 0h0m0 4h0m0 5h0m0 9h0m0 1h0m0 1h0m0 2h0m0 5h0m0 1h0m0 0h0m0 7h0m0 1h0m1-53h0m0 15h0m0 1h0m0 6h0m0 5h0m0 7h0m0 4h0m0 7h0m0 0h0m0 4h0m1-55h0m0 1h0m0 8h0m0 3h0m0 3h0m0 2h0m0 8h0m0 6h0m0 8h0m0 0h0m0 1h0m0 0h0m0 8h0m0 6h0m1-51h0m0 9h0m0 29h0m0 2h0m0 3h0m0 2h0m0 2h0m0 6h0m1-56h0m0 17h0m0 5h0m0 1h0m0 0h0m0 1h0m0 8h0m0 1h0m0 3h0m0 12h0m0 5h0m0 1h0m0 1h0m0 5h0m1-62h0m0 5h0m0 10h0m0 2h0m0 2h0m0 3h0m0 1h0m0 0h0m0 2h0m0 15h0m0 15h0m0 1h0m0 6h0m1-56h0m0 1h0m0 16h0m0 6h0m0 2h0m0 3h0m0 13h0m0 1h0m0 5h0m0 4h0m0 3h0m0 1h0m1-53h0m0 11h0m0 3h0m0 0h0m0 4h0m0 1h0m0 4h0m0 5h0m0 1h0m0 1h0m0 1h0m0 2h0m0 3h0m0 9h0m0 2h0m0 0h0m0 1h0m0 3h0m0 6h0m1-66h0m0 2h0m0 11h0m0 7h0m0 2h0m0 7h0m0 10h0m0 4h0m0 2h0m0 9h0m0 7h0m0 0h0m0 2h0m0 3h0m0 1h0m1-67h0m0 9h0m0 3h0m0 1h0m0 5h0m0 5h0m0 21h0m0 0h0m0 15h0m0 1h0m0 1h0m0 5h0m0 1h0m0 1h0m1-64h0m0 0h0m0 7h0m0 1h0m0 1h0m0 6h0m0 1h0m0 2h0m0 1h0m0 5h0m0 8h0m0 4h0m0 0h0m0 3h0m0 4h0m0 2h0m0 7h0m0 0h0m0 0h0m0 5h0m0 1h0m1-61h0m0 15h0m0 2h0m0 0h0m0 6h0m0 7h0m0 6h0m0 3h0m0 2h0m0 14h0m0 4h0m0 1h0m0 1h0m0 2h0m0 0h0m0 0h0m0 1h0m1-63h0m0 3h0m0 13h0m0 1h0m0 2h0m0 2h0m0 1h0m0 7h0m0 5h0m0 3h0m0 4h0m0 4h0m0 2h0m0 6h0m0 2h0m0 2h0m0 0h0m0 6h0m0 0h0m1-58h0m0 4h0m0 4h0m0 5h0m0 2h0m0 3h0m0 1h0m0 12h0m0 0h0m0 1h0m0 20h0m0 9h0m1-64h0m0 4h0m0 1h0m0 2h0m0 0h0m0 5h0m0 2h0m0 2h0m0 1h0m0 1h0m0 2h0m0 3h0m0 11h0m0 1h0m0 0h0m0 0h0m0 3h0m0 2h0m0 7h0m0 5h0m0 0h0m0 10h0m0 1h0m1-64h0m0 4h0m0 5h0m0 9h0m0 4h0m0 5h0m0 10h0m0 2h0m0 9h0m0 1h0m0 1h0m0 9h0m0 3h0m0 0h0m0 3h0m0 0h0m1-67h0m0 12h0m0 4h0m0 3h0m0 6h0m0 1h0m0 1h0m0 12h0m0 13h0m1-38h0m0 1h0m0 0h0m0 1h0m0 0h0m0 2h0m0 17h0m0 4h0m0 20h0m0 7h0m1-55h0m0 2h0m0 2h0m0 4h0m0 1h0m0 10h0m0 6h0m0 1h0m0 1h0m0 3h0m0 12h0m1-49h0m0 17h0m0 11h0m0 3h0m0 0h0m0 7h0m0 0h0m0 6h0m0 5h0m0 0h0m0 6h0m0 5h0m1-63h0m0 10h0m0 5h0m0 1h0m0 1h0m0 2h0m0 1h0m0 4h0m0 3h0m0 6h0m0 2h0m0 0h0m0 4h0m0 1h0m0 2h0m0 1h0m0 0h0m0 1h0m0 1h0m0 1h0m0 11h0m0 8h0m1-66h0m0 1h0m0 22h0m0 1h0m0 9h0m0 11h0m0 9h0m0 9h0m0 1h0m0 1h0m1-63h0m0 5h0m0 1h0m0 13h0m0 17h0m0 8h0m0 5h0m0 6h0m0 3h0m0 1h0m0 2h0m0 0h0m0 0h0m0 3h0m0 1h0m1-63h0m0 6h0m0 7h0m0 8h0m0 0h0m0 12h0m0 18h0m0 3h0m0 3h0m1-48h0m0 6h0m0 5h0m0 4h0m0 3h0m0 2h0m0 0h0m0 8h0m0 1h0m0 4h0m0 2h0m0 4h0m0 6h0m0 0h0m0 2h0m0 5h0m1-61h0m0 1h0m0 0h0m0 1h0m0 1h0m0 0h0m0 1h0m0 2h0m0 1h0m0 6h0m0 1h0m0 3h0m0 1h0m0 1h0m0 3h0m0 3h0m0 6h0m0 4h0m0 1h0m0 9h0m0 1h0m0 5h0m0 8h0m0 2h0m0 0h0m1-59h0m0 3h0m0 4h0m0 4h0m0 2h0m0 8h0m0 4h0m0 2h0m0 3h0m0 12h0m0 7h0m0 2h0m0 9h0m1-64h0m0 1h0m0 11h0m0 6h0m0 6h0m0 3h0m0 21h0m0 4h0m0 2h0m0 0h0m1-54h0m0 8h0m0 2h0m0 3h0m0 0h0m0 8h0m0 7h0m1-26h0m0 17h0m0 0h0m0 6h0m0 1h0m0 8h0m0 7h0m0 7h0m1-47h0m0 4h0m0 4h0m0 4h0m0 22h0m0 1h0m0 3h0m0 11h0m1-30h0m0 6h0m0 4h0m0 11h0m0 0h0m0 0h0m0 1h0m0 9h0m1-49h0m0 1h0m0 0h0m0 2h0m0 1h0m0 19h0m0 13h0m1-39h0m0 5h0m0 5h0m0 3h0m0 3h0m0 16h0m0 1h0m0 0h0m0 3h0m0 4h0m0 10h0m1-40h0m0 5h0m0 1h0m0 28h0m1-43h0m0 6h0m0 7h0m0 5h0m0 0h0m0 8h0m0 3h0m0 3h0m0 4h0m1-31h0m0 12h0m0 20h0m0 6h0m0 1h0m1-40h0m0 21h0m0 3h0m0 8h0m0 9h0m1-43h0m0 1h0m0 1h0m0 7h0m0 12h0m0 2h0m0 1h0m0 7h0m0 10h0m0 1h0m0 2h0m0 3h0m1-47h0m0 1h0m0 9h0m0 4h0m0 1h0m0 7h0m0 11h0m0 5h0m0 7h0m0 2h0m1-47h0m0 9h0m0 17h0m0 3h0m0 1h0m0 2h0m0 2h0m0 2h0m0 19h0m1-55h0m0 12h0m0 1h0m0 3h0m0 7h0m0 16h0m0 6h0m1-41h0m0 1h0m0 0h0m0 10h0m0 1h0m0 9h0m0 1h0m0 1h0m0 5h0m0 8h0m0 0h0m1-19h0m0 0h0m0 5h0m0 2h0m0 1h0m0 1h0m0 3h0m0 1h0m1-35h0m0 2h0m0 2h0m0 9h0m0 2h0m0 11h0m0 3h0m0 4h0m1-32h0m0 5h0m0 1h0m0 11h0m0 2h0m0 1h0m0 2h0m0 2h0m0 7h0m0 7h0m0 5h0m1-41h0m0 7h0m0 12h0m0 5h0m0 6h0m0 2h0m0 1h0m0 2h0m1-33h0m0 7h0m0 22h0m0 10h0m0 4h0m1-43h0m0 12h0m0 31h0m1-37h0m0 6h0m0 8h0m0 4h0m0 0h0m0 12h0m0 0h0m1-45h0m0 13h0m0 6h0m0 4h0m0 4h0m0 1h0m0 3h0m0 11h0m0 2h0m0 4h0m0 2h0m0 5h0m0 1h0m1-41h0m0 10h0m0 5h0m0 9h0m0 2h0m0 2h0m1 3h0m1-18h0m0 9h0m0 5h0m0 5h0m0 1h0m0 0h0m1-13h0m0 13h0m0 0h0m0 6h0m1-31h0m0 13h0m0 8h0m0 16h0m1-41h0m0 6h0m0 13h0m0 6h0m0 4h0m0 8h0m0 2h0m0 1h0m1-68h0m0 52h0m0 4h0m0 3h0m0 6h0m0 5h0m0 2h0m1-15h0m0 10h0m0 1h0m1-16h0m0 0h0m0 5h0m0 6h0m0 2h0m0 5h0m1-25h0m0 13h0m0 6h0m0 5h0m1-12h0m0 11h0m0 2h0m0 3h0m1 2h0m1-102h0m0 93h0m0 1h0m0 2h0m0 1h0m1-2h0m0 1h0m1-16h0m0 8h0m0 14h0m0 0h0m0 0h0m0 1h0m1-70h0m0 62h0m0 7h0m0 3h0m1-2h0m0 4h0m1-22h0m0 18h0m1-10h0m0 2h0m0 9h0m1-13h0m0 5h0m0 5h0m0 1h0m0 1h0m0 1h0m0 2h0m1-11h0m0 2h0m0 2h0m1-7h0m0 1h0m0 5h0m0 1h0m0 6h0m0 1h0m0 2h0m1-16h0m0 11h0m1-14h0m0 1h0m0 2h0m0 2h0m0 1h0m0 0h0m0 7h0m1-13h0m0 2h0m0 7h0m0 4h0m0 0h0m1-21h0m0 17h0m0 0h0m0 3h0m0 1h0m0 2h0m0 1h0m1-14h0m0 1h0m0 5h0m0 10h0m1-10h0m0 5h0m0 4h0m0 1h0m0 1h0m1-13h0m0 0h0m0 3h0m0 0h0m0 1h0m0 7h0m0 1h0m1-17h0m0 14h0m0 2h0m1-5h0m0 3h0m1-3h0m1-12h0m0 5h0m0 1h0m0 3h0m1-3h0m0 3h0m0 1h0m0 2h0m0 1h0m0 2h0m0 2h0m1-11h0m0 3h0m0 6h0m1-6h0m1-2h0m16-202h0m1-7h0m10 150h0m9-6h0m9-2h0m1 2h0m5-7h0m0 4h0m1-3h0m13-57h0m0 17h0m2 5h0m2-71h0m0 54h0m2-3h0m1 1h0m0 16h0m1-23h0m0 7h0m0 1h0m1-6h0m0 7h0m0 16h0m0 4h0m2-2h0m3-25h0m2 2h0m0 22h0m3-9h0m2 14h0m5-4h0m1-1h0m4 3h0m0 4h0m1 3h0m1-18h0m1 16h0m1 11h0m1-25h0m2-3h0m0 13h0m0 14h0m2-4h0m1 3h0m1-25h0m1-1h0m0 7h0m0 15h0m1-9h0m1-11h0m0 4h0m3-5h0m2 19h0m1-14h0m2 7h0m1 8h0m4-16h0" stroke="#440154" stroke-width="3.6" stroke-linecap="round" fill="none"/>
<path d="M1138 1014h0m1-7h0m5 20h0m1 1h0m9-4h0m1-10h0m12 2h0m1-25h0m0 17h0m0 0h0m5 2h0m3 2h0m3 2h0m108 74h0m0 13h0m0 3h0m2-14h0m0 0h0m0 5h0m0 11h0m1-7h0m0 6h0m1-19h0m0 11h0m1 7h0m1-15h0m0 4h0m0 5h0m1-12h0m0 3h0m0 8h0m0 11h0m0 3h0m1-13h0m0 13h0m1-22h0m0 16h0m1-21h0m0 6h0m0 14h0m1-7h0m0 11h0m1-26h0m0 7h0m0 3h0m0 3h0m0 1h0m0 0h0m0 8h0m0 2h0m0 0h0m0 1h0m0 1h0m0 5h0m1-2h0m1-5h0m1-13h0m1-12h0m0 2h0m0 9h0m0 12h0m0 8h0m1-14h0m1-18h0m0 2h0m0 28h0m0 4h0m1-35h0m0 10h0m0 11h0m0 6h0m1-26h0m0 17h0m0 9h0m1-19h0m0 4h0m0 7h0m0 5h0m0 12h0m1-11h0m1 1h0m1-21h0m0 28h0m0 11h0m1-28h0m1-2h0m0 25h0m0 0h0m0 3h0m0 1h0m1-29h0m0 4h0m0 2h0m0 22h0m1-29h0m0 3h0m0 7h0m1 4h0m0 5h0m0 13h0m1-20h0m0 15h0m1-39h0m0 18h0m0 16h0m1-16h0m0 4h0m0 1h0m1-2h0m0 29h0m1-36h0m0 3h0m1 16h0m0 5h0m3 14h0m1-3h0m1-48h0m0 12h0m0 31h0m1-31h0m0 11h0m0 1h0m1-19h0m0 9h0m0 29h0m2-20h0m0 18h0m1-33h0m1 26h0m1 1h0m0 8h0m0 16h0m2-54h0m0 6h0m0 4h0m0 10h0m3 3h0m1 10h0m0 15h0m0 3h0m1-54h0m0 54h0m1-18h0m1-31h0m1 6h0m0 5h0m2 42h0m2-59h0m1 15h0m0 1h0m0 27h0m1-41h0m1 30h0m0 13h0m1-15h0m1-20h0m2-6h0m0 14h0m2-10h0m1 9h0m1 26h0m3 16h0m1-2h0m1-13h0m0 8h0m1-36h0m0 2h0m1-15h0m0 12h0m0 2h0m0 23h0m1-23h0m0 22h0m0 12h0m2-46h0m0 14h0m0 20h0m1 4h0m1 21h0m1-54h0m2 28h0m1-50h0m0 54h0m0 6h0m7-14h0m1-3h0m1 0h0m1-19h0m0 17h0m2 11h0m3-4h0m0 2h0m2-3h0m1-8h0m2-13h0m1 32h0m1-35h0m1 32h0m0 8h0m6-18h0m1 24h0m2-21h0m0 2h0m0 19h0m3 0h0m0 0h0m12 0h0m47-66h0m3-3h0m3 2h0m0 2h0m4-8h0m2 1h0m0 2h0m0 4h0m1-6h0m0 2h0m1-3h0m2-2h0m0 4h0m2 1h0m5-6h0m0 1h0m2-41h0m3 7h0m1-26h0m0 5h0m0 1h0m0 15h0m0 2h0m1-22h0m0 9h0m0 10h0m0 1h0m1-17h0m0 3h0m0 12h0m0 3h0m1-9h0m1-16h0m0 11h0m0 6h0m0 11h0m1-19h0m0 19h0m1-22h0m0 18h0m1 5h0m1-29h0m0 5h0m0 5h0m0 2h0m0 4h0m0 2h0m0 2h0m0 5h0m1-25h0m0 0h0m0 12h0m0 9h0m1-22h0m0 3h0m0 3h0m0 4h0m0 9h0m1-19h0m0 6h0m0 5h0m0 4h0m0 0h0m0 11h0m0 0h0m1-11h0m0 9h0m1-23h0m0 0h0m0 2h0m0 7h0m0 2h0m0 13h0m1-20h0m0 9h0m0 6h0m1-18h0m0 6h0m0 4h0m1-3h0m1 1h0m2 0h0m2 18h0m0 3h0m0 1h0m1-8h0m1 13h0m1-11h0m1 1h0m0 15h0m2-20h0m0 10h0m0 4h0m0 10h0m3 5h0m1-3h0m1-6h0m0 8h0m1-9h0m0 3h0m0 4h0m2-3h0m0 7h0m1-29h0m0 4h0m0 7h0m1 10h0m1-9h0m0 0h0m0 21h0m1-19h0m1-5h0m2 21h0m0 2h0m1-25h0m0 13h0m0 9h0m1-7h0m0 8h0m1-24h0m0 6h0m1-7h0m0 1h0m0 4h0m1-3h0m1-9h0m0 1h0m0 29h0m0 5h0m1-27h0m0 21h0m2-10h0m0 2h0m0 1h0m0 10h0m2-2h0m1-26h0m0 24h0m0 1h0m1-15h0m0 6h0m0 5h0m2-6h0m0 2h0m1 9h0m1-25h0m0 6h0m1 3h0m1 9h0" stroke="#FDE725" stroke-width="3.6" stroke-linecap="round" fill="none"/>
<path d="M1779.1 885.5L1782.8 874.7L1792.8 869L1810.2 865.6L1825.1 863.3L1847.5 861.6L1862.5 857.7L1872.5 856L1879.9 856L1876.2 863.3L1872.5 871.3L1870 877L1863.7 883.8L1863.7 897.4L1857.5 901.4L1847.5 897.4L1830.1 896.8L1811.4 898L1797.7 896.3L1784 892.9Z" fill="#440154" stroke="#440154" stroke-width="1.5" stroke-linejoin="round"/>
<path d="M1892.4 916.7L1896.1 910.5L1904.8 911L1912.3 913.3L1914.8 919L1909.8 923.5L1904.8 925.8L1897.4 920.1Z" fill="#440154" stroke="#440154" stroke-width="1.5" stroke-linejoin="round"/>
<path d="M1884.9 863.3L1891.1 852L1903.6 847.4L1917.3 846.3L1932.9 844.6L1950.9 850.3L1964.6 856L1972.1 861.1L1977.7 870.7L1972.1 878.1L1964.6 883.8L1952.2 887.2L1944.7 891.2L1934.7 892.9L1922.3 891.2L1913.5 886L1903.6 883.8L1894.9 880.4L1886.2 869Z" fill="#440154" stroke="#440154" stroke-width="1.5" stroke-linejoin="round"/>
<path d="M1860 859L1879.9 854.8L1893.6 848L1894.2 857.7L1886.2 864.5L1879.9 862.8L1874.9 865.6L1870 873.6L1865 874.7Z" fill="#440154" stroke="#440154" stroke-width="1.5" stroke-linejoin="round"/>
<path d="M1918.7 1045.1L1924.5 1038.3L1930.9 1035.4L1940.4 1032.5L1952.1 1028.7L1959.5 1023.9L1963.7 1019L1971.1 1014.2L1977.5 1005.5L1981.7 1002.6L1988.1 1005.5L1985.9 1013.2L1980.6 1021L1975.4 1027.7L1969 1034.5L1963.7 1039.3L1958.4 1044.1L1955.2 1051.9L1952.1 1063.4L1950.5 1073.1L1945.7 1076.9L1939.4 1078.9L1930.9 1073.1L1922.4 1068.3L1919.2 1061.5L1918.2 1053.8Z" fill="#440154" stroke="#440154" stroke-width="1.5" stroke-linejoin="round"/>
<path d="M1971.1 975.6L1977.5 973.7L1983.8 976.6L1989.1 983.3L1991.2 988.1L1988.1 992L1982.8 995.9L1979.6 997.8L1977.5 993.9L1975.4 987.2L1971.6 980.4Z" fill="#440154" stroke="#440154" stroke-width="1.5" stroke-linejoin="round"/>
<path d="M1955.2 1051.9L1959.5 1044.1L1963.7 1039.3L1969 1034.5L1973.2 1036.4L1972.2 1044.1L1972.2 1053.8L1970.1 1061.5L1962.7 1065.4L1956.3 1069.2L1951 1073.1L1952.1 1063.4Z" fill="#440154" stroke="#440154" stroke-width="1.5" stroke-linejoin="round"/>
<path d="M1988.1 1044.1L1994.4 1043.2L2005 1047L2006.1 1053.8L2003.9 1057.6L1995.5 1057.6L1992.3 1052.8Z" fill="#440154" stroke="#440154" stroke-width="1.5" stroke-linejoin="round"/>
<path d="M1998.6 1021L2009.2 1021L2019.8 1021.9L2030.4 1020L2041 1021.9L2048.4 1024.8L2049.5 1034.5L2048.4 1046.1L2046.3 1051.9L2036.8 1056.7L2025.1 1055.7L2015.6 1054.7L2014.5 1046.1L2009.2 1040.3L2005 1034.5L2000.8 1028.7Z" fill="#440154" stroke="#440154" stroke-width="1.5" stroke-linejoin="round"/>
<path d="M1987 1002.6L1994.4 999.7L2001.8 998.8L2003.9 1005.5L2008.2 1010.3L2005 1015.2L2001.8 1020L1993.3 1021L1988.1 1017.1L1987 1010.3Z" fill="#440154" stroke="#440154" stroke-width="1.5" stroke-linejoin="round"/>
<path d="M1958.4 1073.1L1962.7 1067.3L1971.1 1064.4L1978.5 1061.5L1984.9 1062.5L1978.5 1068.3L1973.2 1073.1L1964.8 1074.1Z" fill="#440154" stroke="#440154" stroke-width="1.5" stroke-linejoin="round"/>
<path d="M1984.9 1022.9L1993.3 1021.4L1999.7 1021L2001.8 1029.7L2006.1 1035.4L1996.5 1034.5L1987 1030.6Z" fill="#440154" stroke="#440154" stroke-width="1.5" stroke-linejoin="round"/>
<path d="M1976.4 1026.8L1985.9 1023.9L1998.6 1027.7L2008.2 1032.5L2001.8 1040.3L1991.2 1043.2L1981.7 1044.1L1973.2 1036.4Z" fill="#440154" stroke="#440154" stroke-width="1.5" stroke-linejoin="round"/>
<path d="M1775.1 1098.1L1778.1 1089L1781.1 1084.9L1791.1 1079.9L1794 1074.5L1799 1079L1811 1079L1823.9 1080.8L1833.9 1079L1853.8 1078.1L1873.7 1077.7L1885.7 1080.8L1890.7 1089L1892.7 1099.9L1893.7 1110.8L1899.7 1112.6L1897.7 1118.1L1903.6 1122.6L1909.6 1129L1917.6 1130.8L1923.6 1129.9L1925.6 1139.9L1924.6 1147.1L1916.6 1150.3L1906.6 1148.1L1899.7 1143.5L1893.7 1138.1L1886.7 1133.5L1878.7 1131.7L1870.8 1129L1866.8 1130.8L1866.8 1139.9L1863.8 1145.3L1853.8 1146.2L1849.8 1147.6L1841.9 1144.4L1833.9 1140.8L1825.9 1139.9L1816 1135.3L1806 1128.1L1799 1119.9L1792.1 1116.3L1782.1 1110.8L1777.1 1105.4Z" fill="#440154" stroke="#440154" stroke-width="1.5" stroke-linejoin="round"/>
<path d="M1617.8 1007.8L1619 1002.7L1624.6 995.9L1632.1 992.5L1639.6 989.1L1646.4 986.2L1653.3 988.5L1661.4 992.5L1663.9 997.6L1668.9 1003.2L1667 1008.9L1674.5 1010.6L1677.6 1015.7L1680.1 1024.3L1676.3 1029.4L1668.2 1030.5L1655.8 1031.1L1643.3 1030.5L1628.4 1028.8L1620.3 1026.5L1620.9 1020.3L1619 1015.7L1619.7 1010.6Z" fill="#440154" stroke="#440154" stroke-width="1.5" stroke-linejoin="round"/>
<path d="M1835.9 1117.2L1843.9 1112.6L1853.8 1114.4L1862.8 1121.7L1866.8 1130.8L1866.8 1139.9L1863.8 1145.3L1853.8 1146.2L1843.9 1141.7L1835.9 1133.5L1832.9 1126.3Z" fill="#FDE725" stroke="#FDE725" stroke-width="1.5" stroke-linejoin="round"/>
<path d="M1783 881h0m0 4h0m1-8h0m0 4h0m0 9h0m0 2h0m1-14h0m0 4h0m0 2h0m1-4h0m0 3h0m0 2h0m1-12h0m0 1h0m0 4h0m0 5h0m1-10h0m0 7h0m0 8h0m0 1h0m0 0h0m0 0h0m1 2h0m0 0h0m1-18h0m0 14h0m0 0h0m0 6h0m1-20h0m0 1h0m0 5h0m0 2h0m0 0h0m0 8h0m0 2h0m1-18h0m0 20h0m1-16h0m0 5h0m0 8h0m0 3h0m1-9h0m0 6h0m0 4h0m1-19h0m0 1h0m0 1h0m0 4h0m0 0h0m0 4h0m0 2h0m1-17h0m0 6h0m0 2h0m0 1h0m0 10h0m1-15h0m0 4h0m0 7h0m0 2h0m1-17h0m0 4h0m0 1h0m0 4h0m0 8h0m0 4h0m1-8h0m1 3h0m0 8h0m0 1h0m1-28h0m0 6h0m0 7h0m0 3h0m0 6h0m0 3h0m0 2h0m1-22h0m0 6h0m0 1h0m0 4h0m0 7h0m0 0h0m0 3h0m1-12h0m1-5h0m0 7h0m0 2h0m0 4h0m1-15h0m0 1h0m0 6h0m0 8h0m0 1h0m0 4h0m1-25h0m0 1h0m0 5h0m0 6h0m0 8h0m0 1h0m0 1h0m1-22h0m0 20h0m0 2h0m0 5h0m1-28h0m0 0h0m0 4h0m0 11h0m0 2h0m0 2h0m0 4h0m0 1h0m0 1h0m0 1h0m1-29h0m0 9h0m0 2h0m0 1h0m0 6h0m1-18h0m0 2h0m0 7h0m0 6h0m0 5h0m0 1h0m0 0h0m0 2h0m0 5h0m0 1h0m0 3h0m1-28h0m0 9h0m0 16h0m0 0h0m0 1h0m1-27h0m0 4h0m0 0h0m0 19h0m1-22h0m0 3h0m0 2h0m0 10h0m0 10h0m0 2h0m1-29h0m0 6h0m0 3h0m0 9h0m0 0h0m0 4h0m0 4h0m0 2h0m1-29h0m0 12h0m0 2h0m0 3h0m0 5h0m0 6h0m0 2h0m0 1h0m1-27h0m0 3h0m0 12h0m0 8h0m1-17h0m0 10h0m0 2h0m0 1h0m0 0h0m0 5h0m0 0h0m1-19h0m0 11h0m1-7h0m0 12h0m1-14h0m0 14h0m0 2h0m0 0h0m0 2h0m1-24h0m0 1h0m0 1h0m0 1h0m0 2h0m0 13h0m0 4h0m0 3h0m1-23h0m0 3h0m0 8h0m0 2h0m0 5h0m0 0h0m0 1h0m0 0h0m0 2h0m0 1h0m1-26h0m0 2h0m0 4h0m0 2h0m0 9h0m1-15h0m0 1h0m0 20h0m1-23h0m0 5h0m0 3h0m0 1h0m0 4h0m0 7h0m0 1h0m0 4h0m1-28h0m0 7h0m0 1h0m0 10h0m0 1h0m0 3h0m0 5h0m1-24h0m0 9h0m0 7h0m0 0h0m1-21h0m0 4h0m0 1h0m0 2h0m0 2h0m0 7h0m0 6h0m1-21h0m0 1h0m0 4h0m0 10h0m0 1h0m0 13h0m0 2h0m1-33h0m0 2h0m0 4h0m0 10h0m0 8h0m0 4h0m0 1h0m0 4h0m0 0h0m1-32h0m0 2h0m0 1h0m0 3h0m0 17h0m0 5h0m0 2h0m1-22h0m0 1h0m0 2h0m0 5h0m0 7h0m0 2h0m1-24h0m0 1h0m0 26h0m1-20h0m0 4h0m0 5h0m0 1h0m0 9h0m0 5h0m1-33h0m0 3h0m0 1h0m0 28h0m1-11h0m0 3h0m0 4h0m0 2h0m1-28h0m0 1h0m0 9h0m0 1h0m0 8h0m0 4h0m0 0h0m0 5h0m1-25h0m0 0h0m0 5h0m0 17h0m0 2h0m0 4h0m0 1h0m1-15h0m0 1h0m0 0h0m0 2h0m0 1h0m1-16h0m0 9h0m0 13h0m1-30h0m0 10h0m0 2h0m0 0h0m1 10h0m0 1h0m1-23h0m0 6h0m0 1h0m0 10h0m0 0h0m0 5h0m0 1h0m0 7h0m0 1h0m1-26h0m0 5h0m0 1h0m0 1h0m0 5h0m0 7h0m0 7h0m1-28h0m0 6h0m0 0h0m0 1h0m0 5h0m0 7h0m0 4h0m1-22h0m0 0h0m0 26h0m0 4h0m1-33h0m0 1h0m0 6h0m0 0h0m0 10h0m0 1h0m0 3h0m0 8h0m0 4h0m1-24h0m0 2h0m0 7h0m0 3h0m0 5h0m0 3h0m0 2h0m1-20h0m0 7h0m0 2h0m0 2h0m0 8h0m0 2h0m0 0h0m0 2h0m1-27h0m0 3h0m0 9h0m0 3h0m0 12h0m1-32h0m0 3h0m0 1h0m0 7h0m1-15h0m0 13h0m0 1h0m0 7h0m0 1h0m0 8h0m1 0h0m1-23h0m0 5h0m0 18h0m0 3h0m0 1h0m0 5h0m1-34h0m0 8h0m0 6h0m0 9h0m0 6h0m0 0h0m0 1h0m1-35h0m0 9h0m0 4h0m0 1h0m0 5h0m0 17h0m1-35h0m0 1h0m0 3h0m0 1h0m0 5h0m0 13h0m0 7h0m1-31h0m0 6h0m0 0h0m0 11h0m0 9h0m0 6h0m1-31h0m0 3h0m0 24h0m0 1h0m0 2h0m0 8h0m1-39h0m0 8h0m0 8h0m0 2h0m0 4h0m0 4h0m0 9h0m1-33h0m0 7h0m0 9h0m0 3h0m0 2h0m0 12h0m1-36h0m0 3h0m0 1h0m0 20h0m0 5h0m1-25h0m0 4h0m0 2h0m0 6h0m0 2h0m0 0h0m0 2h0m1-18h0m0 4h0m0 22h0m0 1h0m1-32h0m0 1h0m0 14h0m0 3h0m0 5h0m1-23h0m0 2h0m0 3h0m0 3h0m0 4h0m0 1h0m0 2h0m1-10h0m0 0h0m0 14h0m0 0h0m0 3h0m1-21h0m0 2h0m0 5h0m0 2h0m0 3h0m0 2h0m0 1h0m0 5h0m0 0h0m1-16h0m0 1h0m0 1h0m0 0h0m0 13h0m0 17h0m1-36h0m0 6h0m0 3h0m0 1h0m0 4h0m0 2h0m0 1h0m0 1h0m1-18h0m0 4h0m0 5h0m0 1h0m0 0h0m0 3h0m0 0h0m0 4h0m1-17h0m0 0h0m0 4h0m1-2h0m0 1h0m0 0h0m0 5h0m0 1h0m0 33h0m1-43h0m0 4h0m0 1h0m0 1h0m0 2h0m0 2h0m1-6h0m0 1h0m1-5h0m0 3h0m0 40h0m1-43h0m1 4h0m0 2h0m0 37h0m1-41h0m0 2h0m1-2h0m1 6h0m2-8h0m0 18h0m1 13h0m0 2h0m1-36h0m0 13h0m1-8h0m0 9h0m1-10h0m0 3h0m0 0h0m0 2h0m1 10h0m1-15h0m0 5h0m0 1h0m0 2h0m0 0h0m0 4h0m0 12h0m1-19h0m0 3h0m0 0h0m1-10h0m0 2h0m0 0h0m0 3h0m1-7h0m0 8h0m0 3h0m1-14h0m0 3h0m0 2h0m0 0h0m0 0h0m0 5h0m0 11h0m0 4h0m0 0h0m1-9h0m0 8h0m0 4h0m0 0h0m1-23h0m0 0h0m0 14h0m1-17h0m0 4h0m0 3h0m0 5h0m0 11h0m0 1h0m0 2h0m0 0h0m0 33h0m1-53h0m0 1h0m0 2h0m0 3h0m0 47h0m1-53h0m0 20h0m0 1h0m1-28h0m0 28h0m0 1h0m0 1h0m0 33h0m0 3h0m1-56h0m0 2h0m0 4h0m0 2h0m1-18h0m0 2h0m0 4h0m0 1h0m0 3h0m0 2h0m0 0h0m0 5h0m0 3h0m0 3h0m0 7h0m0 0h0m0 29h0m0 1h0m0 3h0m0 0h0m1-58h0m0 7h0m0 1h0m0 2h0m0 2h0m0 6h0m0 37h0m0 4h0m0 1h0m0 3h0m1-65h0m0 7h0m0 1h0m0 5h0m0 1h0m0 3h0m0 44h0m0 2h0m0 1h0m1-69h0m0 4h0m0 6h0m0 0h0m0 6h0m0 3h0m0 3h0m0 4h0m0 1h0m0 3h0m0 32h0m0 7h0m0 5h0m0 1h0m1-73h0m0 1h0m0 2h0m0 5h0m0 5h0m0 4h0m0 0h0m0 10h0m0 3h0m0 0h0m0 30h0m0 5h0m0 4h0m1-67h0m0 0h0m0 1h0m0 3h0m0 4h0m0 5h0m0 1h0m0 4h0m0 4h0m0 45h0m1-69h0m0 2h0m0 8h0m0 17h0m0 2h0m0 24h0m0 2h0m0 7h0m1-66h0m0 7h0m0 12h0m0 1h0m0 10h0m0 1h0m0 6h0m0 21h0m0 16h0m0 1h0m1-74h0m0 2h0m0 0h0m0 0h0m0 7h0m0 2h0m0 12h0m0 3h0m0 1h0m0 0h0m0 5h0m0 1h0m0 33h0m0 9h0m1-75h0m0 4h0m0 6h0m0 3h0m0 0h0m0 3h0m0 1h0m0 1h0m0 4h0m0 3h0m0 6h0m0 3h0m0 20h0m0 13h0m0 2h0m1-63h0m0 12h0m0 4h0m0 3h0m0 3h0m0 21h0m0 5h0m0 3h0m0 1h0m0 0h0m0 8h0m0 3h0m0 0h0m1-68h0m0 2h0m0 22h0m0 0h0m0 2h0m0 26h0m0 9h0m0 2h0m0 2h0m1-57h0m0 4h0m0 10h0m0 30h0m0 15h0m0 1h0m1-67h0m0 5h0m0 5h0m0 2h0m0 2h0m0 5h0m0 2h0m0 10h0m0 2h0m0 2h0m0 23h0m0 0h0m0 6h0m0 4h0m1-69h0m0 0h0m0 29h0m0 1h0m0 2h0m0 16h0m0 5h0m0 4h0m1-52h0m0 6h0m0 11h0m0 9h0m0 18h0m0 7h0m1-21h0m0 1h0m0 20h0m0 2h0m0 147h0m1-204h0m0 7h0m0 14h0m0 4h0m0 3h0m0 0h0m0 5h0m0 25h0m1-50h0m0 6h0m0 15h0m0 2h0m0 2h0m0 16h0m0 14h0m1-66h0m0 6h0m0 29h0m0 6h0m0 159h0m0 7h0m1-205h0m0 1h0m0 1h0m0 2h0m0 1h0m0 7h0m0 4h0m0 1h0m0 0h0m0 8h0m0 7h0m0 1h0m0 174h0m0 3h0m0 3h0m1-208h0m0 8h0m0 3h0m0 13h0m0 9h0m0 12h0m0 146h0m0 17h0m1-213h0m0 4h0m0 13h0m0 2h0m0 4h0m0 9h0m0 179h0m1-212h0m0 11h0m0 3h0m0 6h0m0 1h0m0 6h0m0 0h0m0 4h0m0 3h0m0 6h0m0 155h0m0 2h0m0 1h0m0 3h0m0 12h0m0 5h0m1-221h0m0 8h0m0 9h0m0 19h0m0 4h0m0 2h0m0 173h0m0 5h0m0 4h0m1-219h0m0 7h0m0 4h0m0 1h0m0 1h0m0 1h0m0 0h0m0 0h0m0 10h0m0 2h0m0 2h0m0 7h0m0 4h0m0 1h0m0 9h0m0 141h0m0 1h0m0 3h0m0 9h0m0 5h0m1-201h0m0 2h0m0 11h0m0 2h0m0 2h0m0 4h0m0 9h0m0 152h0m0 1h0m0 3h0m0 3h0m0 5h0m1-198h0m0 7h0m0 3h0m0 11h0m0 4h0m0 6h0m0 159h0m0 17h0m0 1h0m0 1h0m0 2h0m0 4h0m0 1h0m1-221h0m0 3h0m0 13h0m0 7h0m0 9h0m0 3h0m0 5h0m0 0h0m0 149h0m0 2h0m0 4h0m0 4h0m0 15h0m0 6h0m1-224h0m0 16h0m0 4h0m0 7h0m0 7h0m0 6h0m0 13h0m0 1h0m0 139h0m0 2h0m0 14h0m0 14h0m0 1h0m1-209h0m0 7h0m0 2h0m0 2h0m0 8h0m0 2h0m0 5h0m0 157h0m0 2h0m0 17h0m0 0h0m0 8h0m0 3h0m1-224h0m0 11h0m0 1h0m0 10h0m0 2h0m0 1h0m0 2h0m0 8h0m0 1h0m0 150h0m0 18h0m0 4h0m1-205h0m0 25h0m0 4h0m0 2h0m0 190h0m1-223h0m0 1h0m0 0h0m0 16h0m0 4h0m0 8h0m0 4h0m0 7h0m0 147h0m0 11h0m0 21h0m1-220h0m0 19h0m0 4h0m0 15h0m0 2h0m0 1h0m0 5h0m0 158h0m0 2h0m0 16h0m0 4h0m1-213h0m0 10h0m0 2h0m0 4h0m0 13h0m0 0h0m0 144h0m0 7h0m0 6h0m0 5h0m0 17h0m0 4h0m0 1h0m1-229h0m0 9h0m0 1h0m0 2h0m0 1h0m0 0h0m0 2h0m0 5h0m0 6h0m0 1h0m0 3h0m0 6h0m0 4h0m0 173h0m1-209h0m0 5h0m0 3h0m0 5h0m0 5h0m0 4h0m0 1h0m0 12h0m0 1h0m0 151h0m0 9h0m0 8h0m0 4h0m0 2h0m0 11h0m1-212h0m0 9h0m0 2h0m0 11h0m0 1h0m0 1h0m0 5h0m0 3h0m0 148h0m0 5h0m0 31h0m1-222h0m0 8h0m0 0h0m0 8h0m0 18h0m0 149h0m0 26h0m0 1h0m0 12h0m1-225h0m0 4h0m0 14h0m0 164h0m0 5h0m0 4h0m0 0h0m0 15h0m0 3h0m0 5h0m0 4h0m0 3h0m0 4h0m0 2h0m1-231h0m0 3h0m0 20h0m0 11h0m0 4h0m0 5h0m0 146h0m0 2h0m0 4h0m0 4h0m0 13h0m0 5h0m0 3h0m0 9h0m1-212h0m0 9h0m0 1h0m0 7h0m0 174h0m0 8h0m0 3h0m0 2h0m0 6h0m1-222h0m0 4h0m0 13h0m0 0h0m0 7h0m0 3h0m0 11h0m0 0h0m0 1h0m0 143h0m0 2h0m0 4h0m0 20h0m0 2h0m0 4h0m0 8h0m1-220h0m0 3h0m0 3h0m0 6h0m0 13h0m0 156h0m0 3h0m0 15h0m0 11h0m0 6h0m0 7h0m1-225h0m0 5h0m0 12h0m0 1h0m0 8h0m0 3h0m0 5h0m0 3h0m0 2h0m0 1h0m0 139h0m0 2h0m0 23h0m0 2h0m0 1h0m0 6h0m0 1h0m1-215h0m0 1h0m0 6h0m0 3h0m0 8h0m0 11h0m0 1h0m0 8h0m0 145h0m0 12h0m0 6h0m0 6h0m0 1h0m0 1h0m0 6h0m0 9h0m0 1h0m1-224h0m0 0h0m0 3h0m0 5h0m0 12h0m0 1h0m0 1h0m0 6h0m0 158h0m0 0h0m0 5h0m0 2h0m0 5h0m0 11h0m0 7h0m1-217h0m0 10h0m0 5h0m0 2h0m0 1h0m0 4h0m0 13h0m0 3h0m0 145h0m0 1h0m0 21h0m0 1h0m0 0h0m0 3h0m0 1h0m0 10h0m1-213h0m0 0h0m0 1h0m0 12h0m0 166h0m0 6h0m0 3h0m0 3h0m0 0h0m0 11h0m0 9h0m0 2h0m0 1h0m1-209h0m0 1h0m0 5h0m0 1h0m0 9h0m0 0h0m0 162h0m0 7h0m0 16h0m0 6h0m1-214h0m0 2h0m0 0h0m0 2h0m0 2h0m0 179h0m0 2h0m1-190h0m0 7h0m0 7h0m0 0h0m0 1h0m0 6h0m0 7h0m0 5h0m0 145h0m0 3h0m0 2h0m0 4h0m1-185h0m0 1h0m0 1h0m0 7h0m0 1h0m0 3h0m0 8h0m0 158h0m0 0h0m0 13h0m0 2h0m0 4h0m1-192h0m0 8h0m0 1h0m0 164h0m1-169h0m0 8h0m0 5h0m0 6h0m0 3h0m0 148h0m0 13h0m1-182h0m0 15h0m0 3h0m1-22h0m0 4h0m0 1h0m0 3h0m0 4h0m0 0h0m0 5h0m0 5h0m0 145h0m0 4h0m0 0h0m0 2h0m0 8h0m0 0h0m1-185h0m0 1h0m0 8h0m0 3h0m0 6h0m0 1h0m0 149h0m0 19h0m1-189h0m0 8h0m0 2h0m0 5h0m0 2h0m0 4h0m0 148h0m0 1h0m0 5h0m0 6h0m1-179h0m0 1h0m0 3h0m0 4h0m0 1h0m0 2h0m0 3h0m0 7h0m0 3h0m0 2h0m0 154h0m0 0h0m0 3h0m1-185h0m0 0h0m0 14h0m0 0h0m0 12h0m0 3h0m0 139h0m0 6h0m0 11h0m1-173h0m0 4h0m0 4h0m0 4h0m0 142h0m0 3h0m0 6h0m0 3h0m1-158h0m0 1h0m0 4h0m0 143h0m1-165h0m0 6h0m0 4h0m0 14h0m0 1h0m1-19h0m0 7h0m0 6h0m0 1h0m0 3h0m0 1h0m0 0h0m0 137h0m0 0h0m1-160h0m0 14h0m0 147h0m0 0h0m0 3h0m0 7h0m0 1h0m0 0h0m0 2h0m1-174h0m0 17h0m0 157h0m0 1h0m1-172h0m0 171h0m1-172h0m0 1h0m0 11h0m0 2h0m0 150h0m0 3h0m1-163h0m0 8h0m0 139h0m0 7h0m0 7h0m0 1h0m1-162h0m0 3h0m0 3h0m0 1h0m0 104h0m0 44h0m1-155h0m0 7h0m0 104h0m0 37h0m0 4h0m0 3h0m1-9h0m0 8h0m0 2h0m1-148h0m0 139h0m0 1h0m0 7h0m0 0h0m1-32h0m0 28h0m1-146h0m0 119h0m0 21h0m0 2h0m0 15h0m1-20h0m0 1h0m0 14h0m0 0h0m1-9h0m0 7h0m1-43h0m0 2h0m0 1h0m0 2h0m0 22h0m0 1h0m0 14h0m1-8h0m0 2h0m1-34h0m0 11h0m0 0h0m0 15h0m0 2h0m0 6h0m0 3h0m0 3h0m1-15h0m0 5h0m0 6h0m0 2h0m1-24h0m0 13h0m0 2h0m0 3h0m1 3h0m0 0h0m0 0h0m3-29h0m0 3h0m3 1h0" stroke="#440154" stroke-width="3.6" stroke-linecap="round" fill="none"/>
<path d="M1778 1105h0m1-222h0m3 221h0m0 2h0m2-227h0m0 224h0m1 6h0m5-15h0m0 11h0m0 9h0m1-217h0m0 186h0m0 22h0m1-11h0m1-14h0m0 9h0m1 8h0m1-14h0m0 8h0m2-209h0m0 209h0m3-3h0m0 28h0m1-13h0m1-17h0m0 16h0m1-9h0m0 7h0m0 12h0m1-227h0m0 203h0m1 8h0m0 13h0m0 4h0m1-35h0m0 9h0m0 37h0m1-38h0m0 8h0m1-6h0m0 37h0m1-42h0m0 3h0m0 4h0m0 3h0m0 6h0m1-5h0m0 12h0m0 6h0m0 11h0m1-18h0m0 13h0m0 3h0m0 4h0m0 4h0m1-48h0m0 9h0m0 13h0m0 24h0m1-37h0m0 7h0m0 22h0m0 2h0m1-242h0m0 205h0m0 7h0m1 12h0m1 4h0m1-21h0m0 22h0m0 11h0m1-33h0m0 10h0m0 10h0m0 13h0m1-29h0m0 24h0m0 5h0m0 13h0m1-32h0m0 27h0m1-21h0m0 7h0m0 7h0m2-31h0m0 1h0m0 0h0m0 18h0m0 10h0m0 5h0m0 12h0m1-54h0m0 34h0m0 14h0m1-44h0m0 3h0m0 14h0m0 4h0m0 20h0m0 5h0m1-40h0m0 1h0m0 14h0m0 20h0m1-43h0m0 22h0m0 2h0m0 11h0m0 17h0m1-26h0m0 4h0m1-22h0m0 44h0m1-42h0m0 43h0m1-54h0m0 16h0m0 19h0m1-22h0m0 0h0m0 18h0m1-30h0m0 5h0m1 15h0m0 2h0m0 24h0m1-253h0m0 215h0m0 40h0m0 1h0m1-52h0m0 0h0m0 26h0m0 21h0m0 3h0m2-44h0m0 17h0m1-16h0m0 22h0m0 26h0m0 2h0m1-274h0m0 238h0m1-10h0m0 13h0m0 2h0m0 15h0m0 19h0m1-274h0m0 215h0m0 17h0m0 11h0m0 23h0m1-242h0m0 7h0m0 197h0m0 39h0m1-53h0m0 3h0m0 16h0m0 3h0m0 27h0m2-49h0m0 10h0m0 32h0m0 17h0m1-4h0m0 1h0m0 1h0m0 3h0m0 5h0m1-42h0m0 22h0m0 2h0m0 2h0m2-47h0m0 2h0m0 29h0m0 8h0m0 5h0m0 5h0m0 1h0m0 4h0m1-48h0m1-200h0m0 198h0m0 57h0m1-59h0m0 18h0m0 0h0m0 1h0m1-11h0m0 6h0m0 21h0m0 12h0m0 15h0m1-61h0m0 14h0m0 10h0m0 13h0m0 1h0m1 7h0m1-269h0m0 240h0m1-16h0m0 0h0m0 18h0m1-18h0m0 6h0m0 3h0m0 25h0m2-254h0m0 220h0m0 1h0m0 54h0m1-52h0m0 48h0m1-56h0m0 23h0m0 37h0m1-33h0m0 21h0m0 16h0m1-280h0m0 241h0m1-223h0m0 196h0m0 24h0m0 15h0m0 14h0m2-26h0m0 1h0m1-28h0m0 4h0m0 17h0m2-10h0m0 10h0m0 9h0m0 5h0m1-250h0m0 228h0m0 3h0m0 6h0m0 30h0m1-47h0m0 29h0m0 1h0m0 3h0m1-10h0m0 24h0m1-51h0m0 3h0m0 45h0m0 2h0m2-38h0m0 14h0m1-19h0m0 19h0m0 4h0m1-28h0m0 1h0m0 24h0m1 1h0m0 13h0m0 11h0m1-37h0m0 18h0m0 19h0m1-35h0m0 4h0m0 31h0m1-42h0m0 24h0m0 19h0m2-9h0m0 1h0m1-30h0m0 35h0m1-27h0m0 24h0m0 5h0m2-43h0m0 41h0m1-2h0m0 1h0m0 3h0m1-275h0m0 259h0m1-14h0m0 21h0m0 13h0m1-21h0m0 13h0m0 8h0m1 3h0m1-12h0m0 3h0m0 8h0m1-20h0m0 14h0m2 0h0m1-7h0m0 4h0m1-4h0m0 1h0m1 2h0m1 0h0m0 10h0m6-253h0m1 252h0m0 3h0m1-9h0m0 6h0m1 2h0m1 7h0m1-233h0m0 218h0m0 8h0m1-4h0m0 4h0m0 6h0m1-281h0m0 1h0m1 45h0m3 144h0m1-1h0m0 93h0m1-95h0m0 4h0m0 91h0m1-13h0m0 3h0m1-70h0m0 74h0m1-4h0m2-88h0m1-7h0m0 3h0m1-193h0m0 196h0m1 6h0m1-8h0m0 14h0m1-170h0m0 155h0m0 10h0m0 5h0m1 8h0m1-212h0m0 204h0m1-10h0m0 8h0m0 8h0m0 8h0m1-35h0m0 29h0m1-209h0m0 204h0m1-25h0m0 13h0m0 4h0m0 0h0m0 4h0m0 10h0m0 6h0m1-217h0m0 33h0m0 156h0m0 5h0m0 3h0m1-163h0m0 160h0m0 6h0m1-192h0m0 18h0m0 183h0m2-205h0m0 17h0m0 164h0m0 34h0m2-36h0m0 7h0m0 28h0m1-38h0m0 8h0m0 9h0m0 0h0m0 5h0m0 16h0m1-33h0m0 0h0m0 9h0m1-14h0m2-2h0m0 17h0m0 12h0m1-9h0m1-5h0m1-15h0m0 4h0m0 22h0m1-5h0m1-16h0m0 26h0m2-32h0m0 28h0m1-2h0m2-17h0m1-3h0m0 8h0m1 18h0m1-40h0m0 5h0m0 1h0m0 19h0m1-22h0m1-8h0m0 27h0m0 7h0m0 6h0m1-34h0m0 14h0m1-168h0m0 166h0m0 15h0m1-179h0m0 178h0m1-1h0m3-14h0m2-13h0m0 4h0m2-11h0m1-8h0m2 7h0m0 3h0m2 18h0m2-42h0m0 8h0m4 31h0m7-9h0m0 24h0m7 6h0m0 3h0m2-33h0m1 28h0m14-6h0m1-11h0m7 18h0m6-4h0m2-2h0" stroke="#FDE725" stroke-width="3.6" stroke-linecap="round" fill="none"/>
<path d="M1619 1003h0m0 6h0m1 1h0m0 0h0m1-3h0m1-8h0m0 4h0m0 3h0m0 10h0m1-12h0m0 4h0m0 7h0m0 12h0m1-28h0m0 3h0m0 6h0m0 3h0m0 5h0m1-14h0m0 2h0m0 10h0m0 4h0m0 3h0m1-24h0m0 14h0m0 7h0m0 8h0m1-12h0m1-11h0m0 10h0m0 5h0m0 8h0m1-23h0m0 3h0m0 1h0m0 12h0m0 0h0m1-25h0m0 2h0m0 17h0m0 1h0m0 8h0m0 4h0m1-27h0m0 5h0m0 5h0m0 10h0m0 4h0m0 5h0m1-13h0m0 12h0m1-29h0m0 3h0m0 4h0m0 1h0m0 7h0m0 9h0m0 7h0m1-16h0m0 5h0m0 4h0m0 7h0m1-33h0m0 19h0m0 5h0m1 6h0m0 2h0m0 0h0m1-34h0m0 2h0m0 12h0m0 15h0m0 1h0m1-25h0m0 18h0m1-6h0m0 4h0m0 5h0m0 9h0m1-36h0m0 6h0m0 1h0m0 1h0m0 4h0m0 4h0m0 6h0m0 8h0m1-29h0m0 10h0m0 12h0m0 7h0m0 2h0m0 1h0m1-36h0m0 3h0m0 9h0m0 0h0m0 6h0m1-12h0m0 7h0m1-11h0m0 1h0m0 6h0m0 6h0m0 2h0m0 0h0m0 2h0m0 6h0m0 14h0m1-38h0m0 14h0m0 0h0m0 20h0m0 5h0m1-39h0m0 15h0m0 7h0m0 0h0m0 3h0m1-24h0m0 2h0m0 0h0m0 16h0m0 11h0m1-17h0m0 0h0m0 6h0m0 4h0m0 8h0m1-33h0m0 1h0m0 5h0m0 0h0m0 3h0m0 8h0m1-15h0m0 9h0m0 1h0m0 1h0m0 4h0m0 10h0m0 1h0m0 9h0m1-37h0m0 4h0m0 1h0m0 10h0m0 11h0m0 6h0m0 5h0m0 3h0m1-37h0m0 20h0m0 1h0m0 4h0m0 1h0m1-24h0m0 1h0m0 3h0m0 1h0m0 2h0m0 2h0m0 4h0m0 1h0m0 16h0m0 0h0m0 2h0m0 2h0m1-33h0m0 6h0m0 3h0m0 4h0m0 15h0m0 5h0m1-30h0m0 1h0m0 19h0m0 3h0m0 3h0m1-32h0m0 10h0m0 3h0m0 3h0m0 2h0m0 20h0m1-34h0m0 12h0m0 3h0m0 8h0m1-28h0m0 2h0m0 0h0m0 9h0m0 15h0m0 6h0m0 3h0m0 2h0m1-7h0m0 2h0m0 0h0m0 4h0m1-20h0m0 6h0m0 4h0m1-19h0m0 6h0m0 0h0m0 7h0m0 2h0m0 3h0m0 3h0m0 1h0m0 3h0m1-11h0m0 5h0m0 6h0m0 0h0m0 2h0m1-28h0m0 10h0m0 9h0m0 3h0m0 3h0m1-21h0m0 16h0m0 1h0m0 1h0m0 10h0m1-23h0m0 15h0m0 0h0m0 1h0m0 2h0m1-17h0m0 23h0m1-27h0m1 0h0m0 12h0m0 9h0m0 2h0m1-15h0m1-8h0m0 22h0m1-3h0m0 7h0m1-17h0m0 18h0m1-6h0m1-9h0m1-1h0m0 6h0m0 3h0m3-3h0m0 3h0m98 74h0m2 5h0m0 3h0m1-12h0m0 5h0m0 0h0m0 0h0m0 5h0m0 1h0m1-14h0m0 7h0m0 0h0m0 7h0m0 3h0m1-8h0m0 4h0m1-12h0m0 8h0m0 3h0m0 4h0m0 3h0m1-26h0m0 17h0m1-11h0m0 3h0m0 6h0m0 12h0m1-17h0m0 14h0m0 5h0m1-27h0m0 14h0m0 1h0m0 3h0m0 2h0m1-22h0m0 7h0m0 8h0m0 1h0m0 2h0m0 3h0m0 3h0m0 5h0m1-29h0m0 1h0m0 10h0m0 2h0m0 0h0m0 3h0m0 2h0m0 1h0m0 5h0m0 4h0m1-30h0m0 8h0m0 0h0m0 2h0m0 1h0m0 3h0m0 12h0m0 0h0m0 1h0m1-20h0m0 6h0m0 5h0m0 6h0m1-19h0m0 4h0m0 12h0m0 11h0m0 0h0m1-34h0m0 7h0m0 21h0m0 3h0m0 1h0m1-33h0m0 0h0m0 25h0m0 1h0m0 8h0m0 2h0m0 2h0m1-38h0m0 0h0m0 3h0m0 21h0m0 7h0m0 2h0m1-13h0m0 1h0m0 2h0m0 8h0m1-15h0m0 5h0m0 14h0m1-30h0m0 1h0m0 1h0m0 13h0m0 7h0m0 12h0m0 2h0m1-25h0m0 17h0m0 6h0m1-32h0m1-4h0m0 3h0m0 2h0m0 1h0m0 2h0m1-3h0m0 7h0m0 13h0m0 1h0m0 12h0m1-37h0m0 10h0m0 16h0m0 2h0m0 3h0m1-28h0m0 0h0m0 2h0m0 20h0m0 3h0m0 3h0m0 2h0m1-27h0m0 3h0m0 33h0m1-40h0m0 40h0m1-39h0m0 0h0m0 2h0m0 39h0m0 1h0m1-41h0m0 8h0m0 16h0m0 5h0m0 5h0m1-39h0m0 17h0m0 2h0m0 23h0m1-39h0m0 2h0m0 11h0m0 12h0m0 19h0m1-48h0m0 3h0m0 3h0m0 15h0m0 1h0m0 9h0m0 13h0m0 6h0m1-51h0m0 3h0m0 2h0m0 1h0m0 10h0m0 2h0m0 6h0m0 3h0m0 5h0m0 1h0m0 2h0m1-35h0m0 9h0m0 3h0m0 1h0m0 5h0m0 17h0m0 3h0m0 3h0m0 10h0m1-48h0m0 8h0m0 4h0m0 12h0m0 8h0m0 7h0m1-27h0m0 4h0m0 2h0m0 0h0m0 1h0m0 2h0m0 2h0m0 6h0m0 3h0m0 4h0m0 5h0m0 1h0m0 10h0m1-49h0m0 2h0m0 14h0m0 4h0m0 12h0m0 5h0m1-20h0m0 1h0m0 2h0m0 4h0m0 22h0m0 4h0m0 1h0m1-50h0m0 8h0m0 17h0m0 0h0m0 1h0m0 4h0m1-36h0m0 13h0m0 2h0m0 4h0m0 18h0m0 5h0m0 3h0m0 1h0m0 9h0m1-51h0m0 0h0m0 5h0m0 8h0m0 3h0m0 14h0m0 4h0m0 9h0m1-46h0m0 3h0m0 15h0m0 6h0m0 16h0m0 4h0m0 4h0m0 5h0m1-49h0m0 37h0m0 1h0m1-16h0m0 14h0m0 5h0m1-38h0m0 16h0m0 10h0m0 11h0m0 5h0m0 8h0m1-47h0m0 11h0m0 6h0m0 2h0m1-26h0m0 13h0m0 5h0m0 3h0m0 4h0m0 13h0m0 4h0m0 7h0m0 2h0m0 5h0m0 0h0m1-57h0m0 3h0m0 14h0m0 2h0m0 14h0m0 8h0m0 1h0m0 2h0m1-27h0m0 1h0m0 8h0m0 4h0m0 5h0m0 14h0m1-39h0m0 17h0m0 11h0m1-37h0m0 0h0m0 3h0m0 24h0m0 9h0m0 1h0m1-35h0m0 27h0m0 2h0m0 8h0m0 10h0m1 0h0m0 0h0m0 1h0m1-33h0m0 2h0m0 19h0m0 17h0m1-47h0m0 2h0m0 8h0m0 19h0m0 11h0m1-41h0m0 1h0m0 5h0m0 5h0m0 16h0m0 7h0m0 5h0m1-31h0m0 10h0m0 8h0m0 12h0m1-49h0m0 0h0m0 14h0m0 2h0m0 24h0m0 12h0m0 4h0m1-30h0m1-22h0m0 1h0m0 9h0m0 2h0m0 3h0m0 12h0m0 0h0m1-20h0m0 16h0m0 9h0m1-15h0m0 8h0m0 11h0m0 7h0m0 6h0m1-44h0m0 13h0m0 10h0m0 32h0m1-59h0m0 4h0m0 11h0m0 14h0m0 24h0m1-47h0m0 7h0m0 8h0m0 0h0m0 1h0m0 5h0m0 7h0m0 7h0m1-33h0m0 10h0m0 0h0m0 1h0m0 24h0m0 6h0m1-52h0m0 3h0m0 1h0m0 5h0m0 2h0m0 6h0m0 29h0m0 16h0m1-62h0m0 18h0m0 10h0m0 17h0m0 13h0m0 2h0m1-53h0m0 11h0m0 11h0m0 10h0m1-33h0m0 13h0m0 6h0m0 0h0m0 18h0m0 13h0m1-58h0m0 10h0m0 10h0m0 2h0m0 14h0m0 12h0m0 2h0m1-43h0m0 15h0m0 17h0m0 2h0m0 10h0m0 5h0m1-27h0m0 21h0m0 4h0m1-52h0m0 27h0m0 15h0m0 1h0m0 6h0m0 5h0m0 1h0m0 4h0m1-53h0m0 1h0m0 8h0m0 3h0m0 6h0m0 3h0m0 26h0m0 2h0m1-49h0m0 6h0m0 1h0m0 2h0m0 11h0m0 34h0m0 5h0m1-33h0m0 25h0m1-48h0m0 8h0m0 9h0m0 10h0m0 6h0m1-45h0m0 4h0m0 4h0m0 16h0m0 6h0m0 4h0m0 16h0m0 14h0m1-50h0m0 3h0m0 2h0m0 6h0m0 3h0m0 3h0m0 5h0m1 11h0m0 9h0m1-53h0m0 19h0m0 1h0m0 8h0m0 37h0m1-69h0m0 26h0m0 6h0m0 0h0m0 30h0m1-42h0m0 7h0m0 32h0m0 8h0m1-54h0m0 0h0m0 5h0m0 30h0m0 5h0m0 11h0m1-61h0m0 10h0m0 11h0m0 4h0m0 14h0m0 12h0m0 1h0m1-63h0m0 16h0m0 21h0m0 0h0m0 12h0m0 6h0m0 7h0m1-31h0m0 1h0m0 7h0m0 7h0m1-27h0m0 2h0m0 10h0m0 2h0m0 4h0m0 6h0m1-19h0m0 9h0m0 22h0m0 0h0m0 4h0m1-46h0m0 3h0m1 8h0m0 8h0m0 1h0m0 28h0m1-38h0m0 4h0m0 28h0m1-38h0m0 8h0m0 3h0m0 1h0m0 7h0m0 9h0m0 8h0m1-39h0m0 2h0m0 17h0m0 9h0m0 17h0m1-19h0m0 10h0m0 0h0m1-39h0m0 10h0m0 5h0m1-8h0m0 4h0m0 26h0m1-35h0m0 37h0m1-40h0m0 16h0m0 21h0m0 7h0m0 3h0m1-38h0m0 0h0m0 18h0m0 16h0m0 9h0m0 5h0m1-42h0m0 4h0m0 0h0m0 11h0m0 2h0m0 2h0m0 8h0m1-34h0m0 5h0m0 8h0m0 3h0m0 23h0m1-46h0m0 11h0m0 5h0m0 4h0m0 20h0m1-9h0m1-28h0m0 9h0m0 7h0m1-7h0m0 7h0m0 7h0m1-4h0m0 14h0m0 2h0m0 5h0m0 0h0m0 3h0m2-32h0m0 11h0m2-10h0m0 2h0m0 23h0m0 0h0m1-9h0m0 19h0m1-13h0m0 1h0m0 7h0m1 3h0m1 0h0m1-27h0m0 21h0m0 13h0m1-68h0m0 52h0m0 2h0m0 3h0m1 8h0m2 2h0m1-9h0m0 5h0m2-90h0m0 86h0m0 16h0m1-7h0m0 2h0m0 6h0m1-23h0m0 19h0m1-66h0m1 68h0m1-15h0m1 15h0m0 5h0m3-7h0m2-4h0m0 1h0m2-15h0m0 8h0m0 14h0m0 1h0m2-9h0m0 2h0m0 1h0m0 1h0m0 6h0m0 1h0m1-78h0m0 1h0m0 65h0m1-3h0m0 7h0m2-69h0m0 66h0m1 0h0m1 0h0m0 2h0m0 5h0m2-8h0m17-200h0m1-7h0m9 136h0m1 14h0m1-22h0m0 3h0m0 1h0m0 6h0m1-6h0m1 3h0m0 2h0m1-10h0m0 5h0m0 5h0m0 3h0m1-21h0m0 8h0m0 3h0m1-12h0m0 1h0m0 10h0m0 11h0m1-20h0m0 8h0m1-5h0m0 9h0m0 3h0m0 9h0m0 0h0m1-19h0m0 4h0m0 4h0m0 1h0m0 3h0m1-14h0m0 5h0m0 5h0m0 8h0m0 0h0m0 1h0m1-25h0m0 9h0m0 3h0m0 0h0m1-10h0m0 6h0m0 15h0m1-40h0m0 20h0m0 2h0m0 2h0m0 2h0m0 2h0m1-11h0m0 9h0m0 7h0m0 0h0m1-42h0m0 1h0m0 1h0m0 23h0m0 5h0m0 17h0m1-45h0m0 2h0m0 23h0m0 7h0m0 3h0m0 2h0m0 11h0m0 1h0m1-48h0m0 16h0m0 7h0m0 3h0m0 9h0m0 1h0m0 11h0m0 2h0m0 3h0m1-31h0m0 7h0m0 1h0m0 4h0m0 12h0m0 5h0m1-92h0m0 38h0m0 31h0m0 14h0m0 2h0m0 2h0m1-90h0m0 1h0m0 4h0m0 38h0m0 49h0m1-94h0m0 40h0m0 22h0m1-55h0m0 50h0m0 1h0m1-54h0m0 2h0m0 1h0m0 47h0m0 37h0m1-91h0m0 6h0m0 6h0m0 5h0m0 19h0m1-32h0m0 2h0m0 1h0m0 12h0m0 9h0m0 9h0m0 1h0m0 15h0m0 33h0m1-84h0m0 30h0m1-1h0m0 26h0m0 0h0m0 32h0m1-74h0m0 7h0m0 3h0m0 31h0m0 2h0m1-52h0m0 44h0m0 16h0m1-54h0m0 6h0m0 36h0m0 36h0m1-80h0m0 2h0m0 6h0m0 41h0m1-51h0m1 1h0m0 47h0m1-44h0m0 20h0m0 2h0m0 18h0m0 12h0m1-52h0m0 17h0m0 2h0m0 6h0m0 18h0m1-46h0m0 21h0m0 0h0m0 0h0m0 6h0m0 30h0m1-54h0m0 17h0m0 8h0m0 2h0m0 4h0m0 7h0m0 4h0m0 1h0m1-46h0m0 21h0m0 2h0m0 2h0m0 3h0m0 4h0m0 1h0m0 9h0m0 2h0m0 2h0m0 19h0m1-43h0m0 4h0m0 1h0m0 15h0m0 4h0m0 1h0m0 1h0m0 0h0m0 13h0m1-32h0m0 1h0m0 2h0m0 3h0m0 5h0m0 0h0m0 9h0m0 13h0m0 2h0m0 0h0m0 4h0m0 2h0m1-41h0m0 4h0m0 12h0m1-69h0m0 53h0m0 2h0m0 4h0m0 11h0m0 0h0m0 2h0m0 19h0m0 2h0m1-52h0m0 1h0m0 7h0m0 1h0m0 3h0m0 4h0m0 14h0m0 8h0m0 10h0m1-36h0m0 5h0m0 35h0m1-55h0m0 6h0m0 1h0m0 6h0m0 7h0m0 3h0m0 13h0m0 1h0m0 0h0m0 16h0m1-52h0m0 12h0m0 0h0m0 7h0m0 5h0m0 24h0m0 7h0m0 0h0m1-47h0m0 9h0m0 7h0m0 4h0m0 5h0m0 2h0m0 7h0m0 9h0m0 4h0m0 0h0m0 3h0m1-54h0m0 15h0m0 5h0m0 1h0m0 15h0m0 18h0m1-35h0m0 5h0m0 6h0m0 4h0m0 14h0m0 7h0m1-46h0m0 5h0m0 10h0m0 2h0m0 5h0m0 22h0m0 1h0m1-48h0m0 2h0m0 11h0m0 1h0m0 1h0m0 3h0m0 5h0m0 16h0m1-39h0m0 13h0m0 1h0m0 4h0m0 3h0m0 1h0m0 1h0m0 1h0m0 2h0m0 3h0m0 13h0m1-42h0m0 15h0m0 1h0m0 0h0m1-17h0m0 16h0m0 6h0m0 4h0m0 1h0m1-13h0m0 4h0m0 3h0m0 9h0m1-15h0m0 3h0m0 3h0m0 3h0m1 6h0m1-15h0m0 9h0m0 5h0m1-15h0m0 5h0m0 11h0m1 2h0m0 2h0m0 0h0m1-13h0m0 17h0m1-24h0m0 1h0m0 0h0m0 16h0m0 1h0m0 3h0m0 1h0m0 7h0m1-28h0m0 0h0m0 2h0m0 1h0m0 6h0m0 1h0m0 3h0m0 11h0m1-20h0m0 2h0m0 13h0m0 2h0m0 3h0m1-24h0m0 4h0m0 6h0m0 10h0m0 9h0m1-26h0m0 13h0m0 3h0m1-18h0m0 9h0m0 1h0m0 2h0m0 5h0m0 11h0m0 1h0m1-27h0m0 5h0m0 4h0m0 5h0m0 1h0m0 5h0m0 2h0m1-26h0m0 2h0m0 7h0m0 8h0m0 3h0m0 4h0m1-23h0m0 6h0m0 1h0m0 1h0m0 1h0m0 11h0m0 10h0m1-25h0m0 2h0m0 0h0m0 4h0m0 0h0m0 5h0m0 15h0m1-24h0m0 5h0m0 1h0m0 9h0m0 1h0m0 1h0m0 1h0m1-11h0m0 3h0m0 12h0m0 1h0m1-17h0m1-14h0m0 1h0m0 9h0m0 3h0m0 10h0m1-15h0m0 3h0m0 0h0m0 0h0m0 3h0m0 1h0m0 6h0m1-22h0m0 2h0m0 3h0m0 1h0m0 5h0m0 0h0m0 5h0m0 13h0m1-14h0m0 13h0m0 1h0m0 0h0m0 3h0m0 2h0m1-33h0m0 2h0m0 8h0m0 2h0m0 5h0m0 2h0m1-11h0m0 5h0m0 3h0m0 1h0m0 1h0m0 8h0m0 8h0m1-27h0m0 8h0m0 4h0m0 5h0m0 8h0m1-23h0m0 4h0m0 11h0m0 3h0m1-23h0m0 13h0m0 10h0m0 4h0m1-25h0m0 3h0m0 6h0m1-16h0m0 18h0m0 3h0m0 0h0m1-15h0m0 1h0m0 10h0m1-4h0m0 8h0m0 5h0m0 6h0m0 1h0m0 2h0m1-33h0m0 10h0m0 6h0m0 1h0m0 1h0m0 2h0m0 0h0m0 12h0m1-31h0m0 5h0m0 4h0m0 0h0m0 2h0m0 16h0m1-26h0m0 6h0m0 11h0m1-19h0m0 2h0m0 1h0m0 2h0m0 7h0m0 1h0m0 3h0m0 1h0m0 9h0m1-21h0m0 3h0m0 6h0m0 13h0m1-25h0m0 0h0m0 2h0m0 4h0m0 2h0m1-8h0m0 6h0m0 3h0m1-8h0m0 1h0m0 2h0m0 0h0m0 5h0m0 6h0m0 3h0" stroke="#440154" stroke-width="3.6" stroke-linecap="round" fill="none"/>
<path d="M1620 1002h0m3 14h0m0 3h0m1-17h0m0 25h0m1-27h0m0 6h0m0 4h0m1 4h0m1-18h0m0 7h0m1 0h0m0 1h0m0 1h0m0 6h0m0 18h0m1-32h0m0 1h0m0 12h0m2-16h0m0 23h0m1-15h0m0 16h0m1 9h0m1-20h0m0 18h0m1-12h0m0 7h0m1-18h0m1-13h0m0 1h0m0 6h0m0 18h0m1-17h0m0 5h0m0 19h0m1-20h0m0 28h0m1-38h0m0 12h0m0 2h0m0 7h0m0 17h0m1-18h0m1 3h0m0 3h0m1-3h0m0 1h0m1-20h0m0 2h0m0 14h0m1 18h0m1-35h0m0 27h0m0 1h0m1-12h0m1-21h0m0 14h0m0 10h0m1-2h0m1-2h0m2-3h0m0 4h0m1-21h0m0 17h0m0 15h0m1-9h0m3-18h0m1 12h0m0 6h0m0 5h0m0 4h0m1-15h0m0 11h0m1-6h0m1-8h0m0 0h0m0 5h0m0 8h0m1 2h0m1-15h0m1 2h0m3 16h0m1-11h0m0 1h0m1 13h0m0 6h0m2-14h0m2 0h0m1 6h0m1 7h0m1-16h0m0 16h0m1-8h0m152 66h0m0 7h0m0 7h0m0 2h0m1-5h0m0 30h0m1-45h0m0 1h0m0 5h0m1 32h0m1-14h0m0 2h0m0 22h0m0 5h0m1-55h0m0 44h0m0 8h0m1-40h0m0 3h0m0 6h0m0 23h0m0 2h0m1-40h0m0 53h0m1-59h0m0 15h0m0 22h0m0 18h0m0 4h0m1-59h0m0 31h0m0 2h0m1-6h0m0 4h0m0 3h0m0 1h0m0 2h0m0 11h0m0 0h0m0 9h0m1-50h0m0 12h0m0 2h0m0 14h0m0 4h0m0 6h0m0 4h0m0 1h0m0 2h0m1-46h0m0 6h0m0 10h0m0 14h0m0 4h0m0 16h0m0 1h0m1-49h0m0 10h0m0 0h0m0 35h0m0 0h0m1-41h0m0 0h0m0 1h0m0 5h0m0 14h0m0 8h0m0 5h0m0 1h0m0 0h0m0 1h0m0 5h0m0 3h0m1-41h0m0 3h0m0 14h0m0 2h0m0 0h0m0 17h0m0 3h0m0 1h0m0 1h0m0 3h0m1-56h0m0 44h0m1-44h0m0 1h0m0 8h0m0 3h0m0 8h0m0 4h0m0 9h0m0 1h0m0 4h0m0 3h0m0 9h0m0 2h0m0 6h0m1-48h0m0 1h0m0 5h0m0 14h0m0 0h0m0 2h0m0 3h0m0 16h0m0 1h0m0 3h0m0 2h0m0 0h0m1-52h0m0 4h0m0 3h0m0 3h0m0 5h0m0 20h0m0 20h0m1-54h0m0 0h0m0 7h0m0 24h0m0 6h0m0 10h0m1-49h0m0 12h0m0 16h0m0 2h0m0 4h0m0 9h0m0 7h0m0 0h0m0 1h0m0 6h0m1-36h0m0 1h0m0 5h0m0 6h0m0 12h0m0 1h0m0 2h0m0 1h0m0 6h0m0 1h0m1-53h0m0 18h0m0 24h0m0 4h0m0 2h0m0 2h0m1-56h0m0 15h0m0 31h0m0 8h0m1-46h0m0 32h0m0 3h0m0 8h0m0 7h0m0 1h0m0 2h0m1-60h0m0 15h0m0 3h0m0 14h0m0 9h0m0 2h0m0 10h0m1-30h0m0 11h0m0 1h0m0 10h0m0 0h0m0 1h0m1-40h0m0 36h0m0 5h0m0 2h0m1-43h0m0 4h0m0 6h0m0 1h0m0 21h0m0 6h0m0 2h0m0 1h0m0 0h0m0 2h0m0 0h0m0 1h0m1-50h0m0 8h0m0 3h0m0 2h0m0 2h0m0 28h0m0 10h0m1-49h0m0 0h0m0 2h0m0 4h0m0 18h0m0 13h0m0 6h0m0 0h0m0 5h0m0 0h0m0 4h0m1-33h0m0 12h0m0 20h0m0 5h0m1-60h0m0 14h0m0 24h0m0 6h0m0 3h0m0 10h0m1-61h0m0 1h0m0 2h0m0 21h0m0 20h0m0 4h0m0 0h0m1-50h0m0 4h0m0 10h0m0 28h0m0 3h0m0 0h0m0 2h0m0 7h0m0 2h0m0 5h0m1-29h0m0 12h0m0 5h0m0 2h0m0 3h0m0 3h0m0 4h0m1-57h0m0 15h0m0 7h0m0 5h0m0 18h0m0 4h0m0 4h0m0 3h0m1-59h0m0 41h0m0 3h0m1-47h0m0 30h0m1-25h0m0 1h0m1 34h0m0 5h0m0 1h0m1-16h0m1-16h0m0 16h0m1 1h0m0 2h0m0 2h0m1 1h0m0 5h0m0 9h0m1-35h0m0 21h0m1-26h0m0 9h0m0 30h0m1-35h0m0 1h0m0 11h0m1-10h0m0 8h0m0 20h0m1-8h0m1-30h0m0 32h0m1-32h0m0 15h0m0 7h0m0 5h0m0 1h0m0 3h0m0 3h0m2-19h0m0 9h0m0 2h0m1 17h0m1-29h0m0 6h0m0 23h0m1-13h0m1-19h0m0 1h0m0 17h0m0 7h0m0 3h0m0 10h0m0 0h0m1-33h0m0 34h0m1-56h0m0 12h0m0 23h0m0 6h0m0 3h0m0 3h0m1 5h0m1-27h0m0 25h0m0 3h0m0 3h0m1-33h0m0 2h0m0 13h0m1 13h0m0 1h0m1 6h0m0 3h0m1-42h0m0 16h0m1 13h0m0 8h0m1 5h0m2-14h0m0 0h0m1 2h0m0 14h0m2-2h0m1-16h0m1 1h0m0 9h0m2 3h0m2 8h0m2-4h0m1-6h0m0 13h0m1 1h0m1-11h0m1 3h0m0 7h0m1-8h0m2-8h0m0 9h0m1-4h0m0 9h0m1-13h0m0 1h0m0 3h0m2-5h0m1 2h0m0 0h0" stroke="#FDE725" stroke-width="3.6" stroke-linecap="round" fill="none"/>
<path d="M1130.5 1103.3V1150.9H1175.4" fill="none" stroke="#000" stroke-width="2.3" stroke-linejoin="miter"/><path d="M1130.5 1097.3l-5 12.5l5 -3.5l5 3.5z" fill="#000"/><path d="M1181.4 1150.9l-12.5 -5l3.5 5l-3.5 5z" fill="#000"/><text x="1141.8" y="1138" font-size="22.9" textLength="61.6" lengthAdjust="spacingAndGlyphs">UMAP</text>
<path d="M1617.8 1103.3V1150.9H1663.2" fill="none" stroke="#000" stroke-width="2.3" stroke-linejoin="miter"/><path d="M1617.8 1097.3l-5 12.5l5 -3.5l5 3.5z" fill="#000"/><path d="M1669.2 1150.9l-12.5 -5l3.5 5l-3.5 5z" fill="#000"/><text x="1630.2" y="1138" font-size="22.9" textLength="62.6" lengthAdjust="spacingAndGlyphs">UMAP</text>
<defs><linearGradient id="vir" x1="0" y1="1" x2="0" y2="0"><stop offset="0" stop-color="#440154"/><stop offset="0.13" stop-color="#472D7B"/><stop offset="0.25" stop-color="#3B528B"/><stop offset="0.38" stop-color="#2C728E"/><stop offset="0.5" stop-color="#21918C"/><stop offset="0.63" stop-color="#28AE80"/><stop offset="0.75" stop-color="#5EC962"/><stop offset="0.88" stop-color="#ADDC30"/><stop offset="1" stop-color="#FDE725"/></linearGradient></defs>
<rect x="2067.1" y="858" width="33.2" height="202.4" fill="url(#vir)"/>
<path d="M2067.1 858L2072.5 858" stroke="#fff" stroke-width="1" fill="none"/>
<path d="M2094.9 858L2100.3 858" stroke="#fff" stroke-width="1" fill="none"/>
<text x="2112.1" y="866" font-size="23.4" textLength="48.2" lengthAdjust="spacingAndGlyphs">2.00</text>
<path d="M2067.1 908.6L2072.5 908.6" stroke="#fff" stroke-width="1" fill="none"/>
<path d="M2094.9 908.6L2100.3 908.6" stroke="#fff" stroke-width="1" fill="none"/>
<text x="2112.1" y="916.6" font-size="23.4" textLength="48.2" lengthAdjust="spacingAndGlyphs">1.75</text>
<path d="M2067.1 959.2L2072.5 959.2" stroke="#fff" stroke-width="1" fill="none"/>
<path d="M2094.9 959.2L2100.3 959.2" stroke="#fff" stroke-width="1" fill="none"/>
<text x="2112.1" y="967.2" font-size="23.4" textLength="48.2" lengthAdjust="spacingAndGlyphs">1.50</text>
<path d="M2067.1 1009.8L2072.5 1009.8" stroke="#fff" stroke-width="1" fill="none"/>
<path d="M2094.9 1009.8L2100.3 1009.8" stroke="#fff" stroke-width="1" fill="none"/>
<text x="2112.1" y="1017.8" font-size="23.4" textLength="48.2" lengthAdjust="spacingAndGlyphs">1.25</text>
<path d="M2067.1 1060.4L2072.5 1060.4" stroke="#fff" stroke-width="1" fill="none"/>
<path d="M2094.9 1060.4L2100.3 1060.4" stroke="#fff" stroke-width="1" fill="none"/>
<text x="2112.1" y="1068.4" font-size="23.4" textLength="48.2" lengthAdjust="spacingAndGlyphs">1.00</text>
<text x="1118.3" y="1608.4" font-size="38" textLength="25.5" lengthAdjust="spacingAndGlyphs" font-weight="bold" stroke="#000" stroke-width="0.9">h</text>
<text x="1231.2" y="1608.4" font-size="26" textLength="273.1" lengthAdjust="spacingAndGlyphs">Repopulation module</text>
<text x="1119.8" y="1642.2" font-size="22.9" textLength="488.9" lengthAdjust="spacingAndGlyphs" font-style="italic">Zfp932, Alcam, Xylt1, Atp10a, Dscaml1, Myo16,</text>
<text x="1133.2" y="1670" font-size="22.9" textLength="462.1" lengthAdjust="spacingAndGlyphs" font-style="italic">Runx2, Dhcr24, Daam1, Gosr2, Trps1, Creb5,</text>
<text x="1160.5" y="1697.3" font-size="22.9" textLength="415" lengthAdjust="spacingAndGlyphs" font-style="italic">Racgap1, Cd44, Sycp2l, Mrpl33, Kcnd3</text>
<path d="M1313.2 1754.3L1316.9 1743.5L1326.9 1737.8L1344.3 1734.4L1359.2 1732.1L1381.6 1730.4L1396.6 1726.5L1406.6 1724.8L1414 1724.8L1410.3 1732.1L1406.6 1740.1L1404.1 1745.8L1397.8 1752.6L1397.8 1766.2L1391.6 1770.2L1381.6 1766.2L1364.2 1765.6L1345.5 1766.8L1331.8 1765.1L1318.1 1761.7Z" fill="#440154" stroke="#440154" stroke-width="1.5" stroke-linejoin="round"/>
<path d="M1426.5 1785.5L1430.2 1779.3L1438.9 1779.8L1446.4 1782.1L1448.9 1787.8L1443.9 1792.3L1438.9 1794.6L1431.5 1788.9Z" fill="#440154" stroke="#440154" stroke-width="1.5" stroke-linejoin="round"/>
<path d="M1419 1732.1L1425.2 1720.8L1437.7 1716.2L1451.4 1715.1L1467 1713.4L1485 1719.1L1498.7 1724.8L1506.2 1729.9L1511.8 1739.5L1506.2 1746.9L1498.7 1752.6L1486.3 1756L1478.8 1760L1468.8 1761.7L1456.4 1760L1447.6 1754.8L1437.7 1752.6L1429 1749.2L1420.3 1737.8Z" fill="#440154" stroke="#440154" stroke-width="1.5" stroke-linejoin="round"/>
<path d="M1394.1 1727.8L1414 1723.6L1427.7 1716.8L1428.3 1726.5L1420.3 1733.3L1414 1731.6L1409 1734.4L1404.1 1742.4L1399.1 1743.5Z" fill="#440154" stroke="#440154" stroke-width="1.5" stroke-linejoin="round"/>
<path d="M1452.8 1913.9L1458.6 1907.1L1465 1904.2L1474.5 1901.3L1486.2 1897.5L1493.6 1892.7L1497.8 1887.8L1505.2 1883L1511.6 1874.3L1515.8 1871.4L1522.2 1874.3L1520 1882L1514.7 1889.8L1509.5 1896.5L1503.1 1903.3L1497.8 1908.1L1492.5 1912.9L1489.3 1920.7L1486.2 1932.2L1484.6 1941.9L1479.8 1945.7L1473.5 1947.7L1465 1941.9L1456.5 1937.1L1453.3 1930.3L1452.3 1922.6Z" fill="#FDE725" stroke="#FDE725" stroke-width="1.5" stroke-linejoin="round"/>
<path d="M1505.2 1844.4L1511.6 1842.5L1517.9 1845.4L1523.2 1852.1L1525.3 1856.9L1522.2 1860.8L1516.9 1864.7L1513.7 1866.6L1511.6 1862.7L1509.5 1856L1505.7 1849.2Z" fill="#440154" stroke="#440154" stroke-width="1.5" stroke-linejoin="round"/>
<path d="M1489.3 1920.7L1493.6 1912.9L1497.8 1908.1L1503.1 1903.3L1507.3 1905.2L1506.3 1912.9L1506.3 1922.6L1504.2 1930.3L1496.8 1934.2L1490.4 1938L1485.1 1941.9L1486.2 1932.2Z" fill="#FDE725" stroke="#FDE725" stroke-width="1.5" stroke-linejoin="round"/>
<path d="M1522.2 1912.9L1528.5 1912L1539.1 1915.8L1540.2 1922.6L1538 1926.4L1529.6 1926.4L1526.4 1921.6Z" fill="#FDE725" stroke="#FDE725" stroke-width="1.5" stroke-linejoin="round"/>
<path d="M1532.7 1889.8L1543.3 1889.8L1553.9 1890.7L1564.5 1888.8L1575.1 1890.7L1582.5 1893.6L1583.6 1903.3L1582.5 1914.9L1580.4 1920.7L1570.9 1925.5L1559.2 1924.5L1549.7 1923.5L1548.6 1914.9L1543.3 1909.1L1539.1 1903.3L1534.9 1897.5Z" fill="#440154" stroke="#440154" stroke-width="1.5" stroke-linejoin="round"/>
<path d="M1519 1891.7L1527.4 1890.2L1533.8 1889.8L1535.9 1898.5L1540.2 1904.2L1530.6 1903.3L1521.1 1899.4Z" fill="#440154" stroke="#440154" stroke-width="1.5" stroke-linejoin="round"/>
<path d="M1510.5 1895.6L1520 1892.7L1532.7 1896.5L1542.3 1901.3L1535.9 1909.1L1525.3 1912L1515.8 1912.9L1507.3 1905.2Z" fill="#440154" stroke="#440154" stroke-width="1.5" stroke-linejoin="round"/>
<path d="M1548.6 1915.8L1564.5 1914.9L1582.7 1913.4L1582.5 1914.9L1580.4 1920.7L1570.9 1925.5L1559.2 1924.5L1549.7 1923.5Z" fill="#FDE725" stroke="#FDE725" stroke-width="1.5" stroke-linejoin="round"/>
<path d="M1521.1 1871.4L1528.5 1868.5L1535.9 1867.6L1538 1874.3L1542.3 1879.1L1539.1 1884L1535.9 1888.8L1527.4 1889.8L1522.2 1885.9L1521.1 1879.1Z" fill="#440154" stroke="#440154" stroke-width="1.5" stroke-linejoin="round"/>
<path d="M1492.5 1941.9L1496.8 1936.1L1505.2 1933.2L1512.6 1930.3L1519 1931.3L1512.6 1937.1L1507.3 1941.9L1498.9 1942.9Z" fill="#FDE725" stroke="#FDE725" stroke-width="1.5" stroke-linejoin="round"/>
<path d="M1309.2 1966.9L1312.2 1957.8L1315.2 1953.7L1325.2 1948.7L1328.1 1943.3L1333.1 1947.8L1345.1 1947.8L1358 1949.6L1368 1947.8L1387.9 1946.9L1407.8 1946.5L1419.8 1949.6L1424.8 1957.8L1426.8 1968.7L1427.8 1979.6L1433.8 1981.4L1431.8 1986.9L1437.7 1991.4L1443.7 1997.8L1451.7 1999.6L1457.7 1998.7L1459.7 2008.7L1458.7 2015.9L1450.7 2019.1L1440.7 2016.9L1433.8 2012.3L1427.8 2006.9L1420.8 2002.3L1412.8 2000.5L1404.9 1997.8L1400.9 1999.6L1400.9 2008.7L1397.9 2014.1L1387.9 2015L1383.9 2016.4L1376 2013.2L1368 2009.6L1360 2008.7L1350.1 2004.1L1340.1 1996.9L1333.1 1988.7L1326.2 1985.1L1316.2 1979.6L1311.2 1974.2Z" fill="#FDE725" stroke="#FDE725" stroke-width="1.5" stroke-linejoin="round"/>
<path d="M1151.9 1876.6L1153.1 1871.5L1158.7 1864.7L1166.2 1861.3L1173.7 1857.9L1180.5 1855L1187.4 1857.3L1195.5 1861.3L1198 1866.4L1203 1872L1201.1 1877.7L1208.6 1879.4L1211.7 1884.5L1214.2 1893.1L1210.4 1898.2L1202.3 1899.3L1189.9 1899.9L1177.4 1899.3L1162.5 1897.6L1154.4 1895.3L1155 1889.1L1153.1 1884.5L1153.8 1879.4Z" fill="#FDE725" stroke="#FDE725" stroke-width="1.5" stroke-linejoin="round"/>
<path d="M1315 1753h0m0 0h0m0 2h0m1-5h0m1-5h0m0 2h0m0 9h0m0 2h0m1-13h0m0 4h0m0 9h0m1-14h0m0 11h0m1-11h0m0 0h0m1 3h0m0 2h0m0 10h0m1-16h0m1 6h0m0 7h0m0 1h0m0 4h0m0 2h0m1-23h0m0 14h0m0 5h0m0 1h0m1-19h0m0 3h0m0 11h0m0 7h0m0 0h0m1-21h0m0 7h0m0 10h0m1-16h0m0 7h0m0 2h0m0 5h0m0 1h0m1-7h0m0 2h0m0 1h0m1-12h0m0 11h0m0 3h0m0 1h0m0 6h0m0 1h0m1-24h0m0 9h0m0 6h0m0 3h0m0 1h0m0 1h0m1-7h0m0 11h0m1-19h0m0 6h0m0 8h0m0 2h0m0 1h0m0 1h0m1-16h0m0 5h0m0 5h0m0 3h0m1-14h0m0 11h0m1-17h0m0 1h0m0 2h0m0 8h0m0 1h0m0 3h0m1-17h0m0 5h0m0 9h0m0 12h0m1-22h0m0 5h0m0 1h0m0 2h0m0 8h0m1-16h0m0 8h0m0 0h0m0 1h0m0 8h0m1-20h0m0 2h0m0 3h0m0 6h0m0 1h0m0 5h0m0 8h0m1-26h0m0 8h0m0 1h0m0 16h0m0 1h0m1-28h0m0 8h0m0 16h0m0 3h0m0 2h0m0 1h0m1-29h0m0 1h0m0 1h0m0 4h0m0 5h0m0 2h0m0 1h0m0 15h0m1-30h0m0 7h0m1-4h0m0 6h0m0 1h0m0 6h0m0 0h0m0 1h0m0 6h0m1-18h0m0 3h0m0 4h0m0 1h0m0 13h0m1-25h0m0 7h0m0 4h0m0 0h0m0 2h0m0 1h0m0 1h0m0 6h0m0 9h0m0 1h0m1-17h0m0 1h0m0 2h0m0 8h0m0 4h0m1-26h0m0 0h0m0 2h0m0 22h0m0 1h0m0 3h0m1-26h0m0 1h0m0 2h0m0 7h0m0 1h0m0 1h0m0 1h0m0 4h0m0 0h0m0 2h0m0 1h0m1-26h0m0 7h0m0 11h0m0 1h0m0 2h0m1-17h0m0 14h0m0 2h0m0 3h0m1-19h0m0 5h0m0 15h0m0 2h0m0 3h0m1-20h0m0 11h0m0 3h0m0 2h0m0 5h0m0 0h0m1-6h0m0 3h0m1-25h0m0 4h0m0 2h0m0 8h0m0 2h0m1-10h0m0 10h0m0 0h0m0 6h0m0 5h0m1-8h0m1-21h0m0 0h0m0 9h0m0 8h0m0 11h0m0 1h0m0 1h0m1-33h0m0 3h0m0 11h0m0 11h0m0 1h0m0 5h0m1-29h0m0 15h0m0 2h0m0 4h0m0 2h0m0 3h0m1-19h0m0 0h0m0 2h0m0 2h0m0 5h0m0 2h0m0 1h0m0 1h0m0 2h0m0 5h0m0 4h0m1-32h0m0 9h0m0 18h0m1-24h0m0 4h0m0 1h0m0 2h0m0 14h0m0 0h0m0 2h0m0 6h0m1-34h0m0 15h0m0 2h0m0 1h0m0 13h0m1-30h0m0 0h0m0 7h0m0 1h0m0 1h0m0 4h0m0 3h0m0 2h0m0 2h0m0 8h0m1-25h0m0 8h0m0 7h0m0 3h0m1-17h0m0 8h0m0 15h0m1-25h0m0 14h0m0 3h0m0 8h0m0 2h0m0 1h0m1-12h0m0 5h0m0 1h0m0 7h0m1-16h0m0 3h0m1-10h0m0 4h0m0 1h0m0 8h0m0 3h0m0 3h0m0 4h0m1-22h0m0 2h0m0 3h0m0 2h0m0 0h0m0 2h0m0 6h0m1-24h0m0 8h0m0 0h0m0 1h0m0 5h0m0 1h0m0 12h0m0 3h0m1-28h0m0 1h0m0 4h0m0 2h0m0 3h0m0 10h0m0 9h0m1-28h0m0 3h0m0 5h0m1-6h0m0 3h0m0 2h0m0 4h0m0 0h0m0 2h0m0 2h0m0 2h0m0 1h0m0 4h0m1-21h0m0 5h0m0 1h0m0 1h0m0 16h0m0 4h0m0 0h0m1-29h0m0 4h0m0 2h0m1-9h0m0 13h0m0 1h0m0 3h0m0 2h0m0 4h0m0 2h0m0 0h0m0 3h0m0 1h0m0 4h0m0 2h0m1-35h0m0 8h0m0 4h0m0 5h0m0 4h0m0 3h0m0 5h0m0 4h0m1-22h0m0 10h0m0 0h0m0 2h0m0 8h0m1-25h0m0 3h0m0 2h0m0 3h0m0 0h0m1 1h0m1-13h0m0 10h0m0 1h0m0 12h0m0 4h0m0 2h0m1-28h0m0 2h0m0 0h0m0 1h0m0 1h0m0 2h0m0 0h0m0 16h0m0 7h0m1-29h0m0 25h0m0 0h0m1-24h0m0 7h0m0 3h0m0 7h0m0 6h0m0 4h0m0 0h0m1-17h0m1-5h0m0 1h0m0 8h0m0 7h0m0 5h0m1-29h0m0 7h0m0 1h0m0 8h0m0 2h0m0 0h0m0 7h0m0 4h0m0 1h0m0 6h0m1-38h0m0 6h0m0 3h0m0 10h0m1-19h0m0 10h0m0 0h0m0 8h0m0 2h0m0 1h0m0 5h0m0 3h0m0 4h0m0 4h0m1-36h0m0 4h0m0 3h0m0 4h0m0 5h0m0 0h0m0 2h0m0 1h0m0 0h0m0 8h0m0 5h0m0 1h0m0 1h0m1-26h0m0 2h0m0 13h0m0 3h0m0 2h0m0 5h0m0 0h0m0 2h0m0 0h0m1-36h0m0 6h0m0 6h0m0 11h0m0 6h0m0 2h0m1-33h0m0 4h0m0 1h0m0 1h0m0 0h0m0 30h0m0 2h0m1-36h0m0 8h0m0 1h0m0 6h0m0 13h0m0 1h0m0 4h0m1-32h0m0 5h0m0 0h0m0 7h0m0 6h0m0 8h0m0 8h0m1-31h0m0 5h0m0 2h0m1-13h0m0 8h0m0 3h0m0 7h0m1-15h0m0 6h0m0 8h0m0 2h0m1-19h0m0 14h0m0 1h0m1-15h0m0 8h0m0 6h0m0 4h0m1-20h0m0 5h0m0 1h0m1-5h0m0 0h0m0 4h0m0 10h0m1-9h0m0 0h0m0 1h0m0 9h0m1-17h0m0 6h0m0 3h0m0 2h0m0 0h0m2-11h0m0 7h0m1-5h0m11 10h0m3 1h0m1 2h0m3-16h0m0 60h0m0 2h0m1-2h0m1-37h0m0 41h0m1-4h0m1-63h0m0 7h0m0 0h0m0 54h0m0 7h0m1-2h0m1-69h0m0 63h0m1-44h0m0 48h0m0 5h0m1-56h0m0 47h0m0 2h0m0 1h0m0 0h0m1-49h0m0 45h0m0 9h0m0 4h0m1-75h0m0 70h0m0 1h0m0 2h0m1-67h0m0 0h0m0 65h0m0 1h0m1-6h0m1 5h0m1-3h0m1-3h0m0 4h0m0 4h0m0 1h0m1-42h0m0 35h0m0 1h0m1-66h0m0 20h0m1-15h0m0 59h0m1-41h0m0 11h0m0 29h0m0 4h0m0 1h0m0 0h0m1-40h0m1-17h0m0 19h0m1-29h0m0 15h0m0 15h0m2-17h0m0 0h0m3 2h0m1-4h0m1-14h0m0 5h0m0 24h0m0 10h0m1-31h0m0 5h0m1 28h0m1-15h0m0 9h0m1-22h0m0 18h0m1-31h0m1 0h0m1 16h0m0 5h0m0 20h0m1-44h0m0 14h0m1-6h0m1 23h0m0 10h0m1-31h0m0 25h0m1-18h0m0 5h0m1-14h0m0 16h0m2-3h0m1 9h0m6-26h0m1 25h0m0 1h0m1 3h0m1-23h0m0 9h0m0 5h0m0 1h0m0 4h0m2-8h0m1-13h0m5 18h0m2-18h0m1 3h0m0 3h0m1-7h0m1 22h0m5-12h0m1-4h0m1 15h0m2-3h0m6-4h0" stroke="#440154" stroke-width="3.6" stroke-linecap="round" fill="none"/>
<path d="M1310 1966h0m1 7h0m1-6h0m1-9h0m0 15h0m1-19h0m0 6h0m0 6h0m2-14h0m0 4h0m1 4h0m0 5h0m1 14h0m1-20h0m0 9h0m2-15h0m0 0h0m0 3h0m0 6h0m0 2h0m0 5h0m3-10h0m0 6h0m0 3h0m0 6h0m1-8h0m0 8h0m0 10h0m1-31h0m0 6h0m0 2h0m0 12h0m0 3h0m0 3h0m1-32h0m0 3h0m0 33h0m1-40h0m0 2h0m0 5h0m0 7h0m1-13h0m0 3h0m0 1h0m0 0h0m0 0h0m0 17h0m0 11h0m1-28h0m0 8h0m0 3h0m0 15h0m1-26h0m0 1h0m0 1h0m0 3h0m0 11h0m0 2h0m0 16h0m0 1h0m1-32h0m0 11h0m0 5h0m0 2h0m0 5h0m0 6h0m1-27h0m0 10h0m0 18h0m0 4h0m0 1h0m1-32h0m0 0h0m0 8h0m0 10h0m1-21h0m0 2h0m0 12h0m1-16h0m0 10h0m0 21h0m1-26h0m0 3h0m0 0h0m0 25h0m0 10h0m0 1h0m1-37h0m0 29h0m0 2h0m0 3h0m0 0h0m0 4h0m1-24h0m0 5h0m0 6h0m0 9h0m1-29h0m0 1h0m0 20h0m0 0h0m0 14h0m1-253h0m0 207h0m0 10h0m0 2h0m0 8h0m0 3h0m0 5h0m0 13h0m1-40h0m0 3h0m0 12h0m0 1h0m0 13h0m0 3h0m0 9h0m1-45h0m0 5h0m0 14h0m0 7h0m0 9h0m0 2h0m0 11h0m0 1h0m1-257h0m0 222h0m0 2h0m0 7h0m0 4h0m0 2h0m0 3h0m1-20h0m0 2h0m0 7h0m0 7h0m0 5h0m0 3h0m0 12h0m1-27h0m0 3h0m0 9h0m0 2h0m0 1h0m0 5h0m1-34h0m0 1h0m0 0h0m0 1h0m0 8h0m0 1h0m0 18h0m0 3h0m0 14h0m0 0h0m1-42h0m0 1h0m0 10h0m0 1h0m0 2h0m0 17h0m0 5h0m0 5h0m0 3h0m1-43h0m0 3h0m0 1h0m0 1h0m0 18h0m0 8h0m1 6h0m0 4h0m1-41h0m0 8h0m0 5h0m0 0h0m0 1h0m0 6h0m0 7h0m0 4h0m0 3h0m0 10h0m0 2h0m1-52h0m0 15h0m0 1h0m1-21h0m0 5h0m0 5h0m0 1h0m0 4h0m0 11h0m0 1h0m0 18h0m0 2h0m0 2h0m0 6h0m1-49h0m0 13h0m0 1h0m0 0h0m0 3h0m0 6h0m0 9h0m0 6h0m0 4h0m1-33h0m0 18h0m0 5h0m0 16h0m0 2h0m0 0h0m1-50h0m0 2h0m0 1h0m0 15h0m0 3h0m0 13h0m0 13h0m0 2h0m1-46h0m0 17h0m0 6h0m0 12h0m0 1h0m1-39h0m0 4h0m0 4h0m0 12h0m0 2h0m0 0h0m0 17h0m0 5h0m1-35h0m0 4h0m0 15h0m0 1h0m0 2h0m0 9h0m0 5h0m1-39h0m0 1h0m0 13h0m0 6h0m0 13h0m0 6h0m0 2h0m0 4h0m1-266h0m0 214h0m0 7h0m0 4h0m0 13h0m0 3h0m0 7h0m0 11h0m1-39h0m0 19h0m0 15h0m0 5h0m1-26h0m0 14h0m0 5h0m0 6h0m0 2h0m0 1h0m1-48h0m0 29h0m0 18h0m0 11h0m3-278h0m4 1h0m5 3h0m12 32h0m4-1h0m2-12h0m8-22h0m3-4h0m3-3h0m0 9h0m0 6h0m2-13h0m2-2h0m2 7h0m0 33h0m2-42h0m3 31h0m1-25h0m2-5h0m1-1h0m0 3h0m0 6h0m1-3h0m0 5h0m0 7h0m1-18h0m0 14h0m1-13h0m1-5h0m0 8h0m0 6h0m0 10h0m0 1h0m1-22h0m0 7h0m0 9h0m0 7h0m1-18h0m0 6h0m0 5h0m0 7h0m1-15h0m0 22h0m1-32h0m0 7h0m0 1h0m1-7h0m0 13h0m0 6h0m1-22h0m0 6h0m0 11h0m1-17h0m0 10h0m0 5h0m0 8h0m0 9h0m1-13h0m0 6h0m1-16h0m0 5h0m0 15h0m0 4h0m1-24h0m0 10h0m0 3h0m0 7h0m0 2h0m1-22h0m0 2h0m0 12h0m0 4h0m0 3h0m1-23h0m0 8h0m0 2h0m0 4h0m1 1h0m0 4h0m1-19h0m0 5h0m1-7h0m0 3h0m0 5h0m0 13h0m0 5h0m1-19h0m0 0h0m0 43h0m1-58h0m0 4h0m0 5h0m0 1h0m0 9h0m0 6h0m0 12h0m0 19h0m1-51h0m0 1h0m0 1h0m0 1h0m0 16h0m0 8h0m1-31h0m0 16h0m0 1h0m0 1h0m0 3h0m0 12h0m0 2h0m0 21h0m0 7h0m1-64h0m0 1h0m0 1h0m0 5h0m0 13h0m0 6h0m0 11h0m0 16h0m0 1h0m1-37h0m0 6h0m0 13h0m0 26h0m1-41h0m0 8h0m0 3h0m0 23h0m1-45h0m0 21h0m0 192h0m1-223h0m0 3h0m0 4h0m0 21h0m0 3h0m0 3h0m0 19h0m0 3h0m1-45h0m1 8h0m0 184h0m0 11h0m1-209h0m0 4h0m0 1h0m0 22h0m0 29h0m0 138h0m0 11h0m0 2h0m0 3h0m1-215h0m0 7h0m0 10h0m0 10h0m0 6h0m0 2h0m0 6h0m0 0h0m0 23h0m0 134h0m0 12h0m0 6h0m1-183h0m0 3h0m0 3h0m0 5h0m0 157h0m0 6h0m0 8h0m0 1h0m0 4h0m1-223h0m0 19h0m0 1h0m0 0h0m0 22h0m0 14h0m0 141h0m0 11h0m0 4h0m0 3h0m1-196h0m0 2h0m0 1h0m0 24h0m0 152h0m0 6h0m0 3h0m0 1h0m0 4h0m1-196h0m0 7h0m0 9h0m0 1h0m0 3h0m0 10h0m0 154h0m0 1h0m0 3h0m0 9h0m1-207h0m0 5h0m0 1h0m0 11h0m0 5h0m0 170h0m0 1h0m0 1h0m0 1h0m0 0h0m0 10h0m0 2h0m0 13h0m1-212h0m0 8h0m0 8h0m0 5h0m0 11h0m0 14h0m0 141h0m0 3h0m0 8h0m1-205h0m0 202h0m0 5h0m0 6h0m0 3h0m0 2h0m1-216h0m0 9h0m0 1h0m0 5h0m0 22h0m0 5h0m0 141h0m0 6h0m0 7h0m0 2h0m0 2h0m0 6h0m0 2h0m0 4h0m0 1h0m0 1h0m0 0h0m0 4h0m1-217h0m0 26h0m0 159h0m0 7h0m0 6h0m0 10h0m1-215h0m0 0h0m0 15h0m0 3h0m0 173h0m0 1h0m0 24h0m0 5h0m0 2h0m1-225h0m0 2h0m0 29h0m0 5h0m0 2h0m0 11h0m0 148h0m0 1h0m0 9h0m0 7h0m1-197h0m0 17h0m0 5h0m0 1h0m0 3h0m0 2h0m0 7h0m0 156h0m0 13h0m0 3h0m0 4h0m1-205h0m0 7h0m0 168h0m0 4h0m0 8h0m0 8h0m0 3h0m0 4h0m1-200h0m0 8h0m0 14h0m0 146h0m0 9h0m0 3h0m0 2h0m0 5h0m0 10h0m0 3h0m0 3h0m1-215h0m0 4h0m0 4h0m0 10h0m0 5h0m0 155h0m0 4h0m0 1h0m0 2h0m0 10h0m0 4h0m0 7h0m1-218h0m0 14h0m0 8h0m0 167h0m0 12h0m0 16h0m0 6h0m1-205h0m0 175h0m0 12h0m0 7h0m0 5h0m0 8h0m1-215h0m0 2h0m0 6h0m0 0h0m0 7h0m0 13h0m0 1h0m0 0h0m0 2h0m0 148h0m0 1h0m0 3h0m0 5h0m0 10h0m0 4h0m0 4h0m0 11h0m1-224h0m0 19h0m0 168h0m0 1h0m0 23h0m0 10h0m0 1h0m1-219h0m0 31h0m0 152h0m0 19h0m0 1h0m0 4h0m0 5h0m0 4h0m0 0h0m0 3h0m0 7h0m1-225h0m0 5h0m0 15h0m0 4h0m0 7h0m0 5h0m0 149h0m0 9h0m0 3h0m0 10h0m0 12h0m0 0h0m1-208h0m0 3h0m0 8h0m0 1h0m0 3h0m0 2h0m0 8h0m0 0h0m0 0h0m0 143h0m0 3h0m0 7h0m0 2h0m0 1h0m0 4h0m0 5h0m0 22h0m1-215h0m0 0h0m0 1h0m0 12h0m0 0h0m0 10h0m0 155h0m0 2h0m0 2h0m0 3h0m0 1h0m0 1h0m0 1h0m0 2h0m0 19h0m0 4h0m0 2h0m1-219h0m0 25h0m0 6h0m0 1h0m0 151h0m0 2h0m0 4h0m0 7h0m0 5h0m0 1h0m0 6h0m0 6h0m1-221h0m0 7h0m0 17h0m0 1h0m0 9h0m0 153h0m0 2h0m0 12h0m0 1h0m0 0h0m0 4h0m0 1h0m0 8h0m0 8h0m1-212h0m0 4h0m0 5h0m0 6h0m0 7h0m0 0h0m0 153h0m0 0h0m0 1h0m0 18h0m0 1h0m1-189h0m0 7h0m0 2h0m0 1h0m0 1h0m0 0h0m0 3h0m0 153h0m0 2h0m0 13h0m0 5h0m0 1h0m0 5h0m0 2h0m0 3h0m0 7h0m0 0h0m0 3h0m1-223h0m0 6h0m0 6h0m0 16h0m0 150h0m0 2h0m0 1h0m0 12h0m0 10h0m0 11h0m1-193h0m0 5h0m0 5h0m0 157h0m0 0h0m0 3h0m0 0h0m0 6h0m0 5h0m0 0h0m0 2h0m0 16h0m1-222h0m0 11h0m0 0h0m0 7h0m0 1h0m0 3h0m0 3h0m0 9h0m0 150h0m0 13h0m0 16h0m1-193h0m0 6h0m0 1h0m0 157h0m0 9h0m0 2h0m0 3h0m0 14h0m0 4h0m1-213h0m0 1h0m0 187h0m0 13h0m0 6h0m0 10h0m1-28h0m0 4h0m0 2h0m0 9h0m0 1h0m0 6h0m0 4h0m1-212h0m0 22h0m0 1h0m0 1h0m0 0h0m0 3h0m0 148h0m0 3h0m0 6h0m0 13h0m0 4h0m0 6h0m1-207h0m0 1h0m0 24h0m0 146h0m0 2h0m0 17h0m0 8h0m0 2h0m0 8h0m0 2h0m1-210h0m0 17h0m0 1h0m0 8h0m0 145h0m0 2h0m0 14h0m0 13h0m0 6h0m0 4h0m1-207h0m0 16h0m0 165h0m0 1h0m0 2h0m0 9h0m0 12h0m0 3h0m1-200h0m0 4h0m0 1h0m0 9h0m0 146h0m0 2h0m0 13h0m0 16h0m1-204h0m0 4h0m0 7h0m0 4h0m0 5h0m0 7h0m0 143h0m0 3h0m0 7h0m0 11h0m0 15h0m1-202h0m0 5h0m0 8h0m0 1h0m0 155h0m0 1h0m0 2h0m0 16h0m0 4h0m0 5h0m0 16h0m0 1h0m1-212h0m0 4h0m0 161h0m0 3h0m0 6h0m0 20h0m0 2h0m0 2h0m1-196h0m0 19h0m0 2h0m0 1h0m0 142h0m0 19h0m0 0h0m0 4h0m0 3h0m0 0h0m0 8h0m0 10h0m1-202h0m0 4h0m0 150h0m0 17h0m0 0h0m0 13h0m0 8h0m1-204h0m0 6h0m0 1h0m0 164h0m0 0h0m0 6h0m0 9h0m0 6h0m0 4h0m0 4h0m0 15h0m1-211h0m0 159h0m0 10h0m0 19h0m0 0h0m0 6h0m0 0h0m0 14h0m1-206h0m0 184h0m0 12h0m0 5h0m0 5h0m1-208h0m0 7h0m0 6h0m0 7h0m0 138h0m0 2h0m0 0h0m0 3h0m0 3h0m0 0h0m0 11h0m0 2h0m0 4h0m0 7h0m0 2h0m0 1h0m0 3h0m0 1h0m0 3h0m0 1h0m1-201h0m0 5h0m0 13h0m0 157h0m0 24h0m0 11h0m0 2h0m1-212h0m0 4h0m0 4h0m0 8h0m0 142h0m0 2h0m0 8h0m0 13h0m0 3h0m0 1h0m0 5h0m0 2h0m0 1h0m0 0h0m0 3h0m0 1h0m1-187h0m0 4h0m0 153h0m0 1h0m0 2h0m0 2h0m0 13h0m0 13h0m0 12h0m0 1h0m1-196h0m0 1h0m0 139h0m0 3h0m0 1h0m0 18h0m0 9h0m0 2h0m0 22h0m1-198h0m0 141h0m0 1h0m0 6h0m0 47h0m0 2h0m1-198h0m0 138h0m0 2h0m0 10h0m0 30h0m1-35h0m0 49h0m1-89h0m0 3h0m1-4h0m0 3h0m0 7h0m0 21h0m0 3h0m0 6h0m1-38h0m0 4h0m0 11h0m0 2h0m0 20h0m0 3h0m0 2h0m0 3h0m0 41h0m0 4h0m1-76h0m0 2h0m0 15h0m0 2h0m0 0h0m0 9h0m0 15h0m0 1h0m1-53h0m0 8h0m0 3h0m0 2h0m0 0h0m0 1h0m0 0h0m0 15h0m0 2h0m0 14h0m0 33h0m1-76h0m0 2h0m0 15h0m0 1h0m0 2h0m0 7h0m0 7h0m0 10h0m0 9h0m1-47h0m0 1h0m0 22h0m0 3h0m0 2h0m1-39h0m0 14h0m0 20h0m1-26h0m0 2h0m0 17h0m0 2h0m0 8h0m1-28h0m0 4h0m0 4h0m0 9h0m0 4h0m0 21h0m0 1h0m1-43h0m0 17h0m0 4h0m0 22h0m1-40h0m0 18h0m0 32h0m1-54h0m0 21h0m0 3h0m0 30h0m1-54h0m0 3h0m0 15h0m0 18h0m0 16h0m1-28h0m0 5h0m0 8h0m0 21h0m1-60h0m0 16h0m0 8h0m0 13h0m0 3h0m0 15h0m0 6h0m0 2h0m1-34h0m0 22h0m0 8h0m0 1h0m0 1h0m0 3h0m1-47h0m0 41h0m0 5h0m0 8h0m1-46h0m0 11h0m0 3h0m0 21h0m0 6h0m1-17h0m0 16h0m0 6h0m1-44h0m0 8h0m0 29h0m0 1h0m0 1h0m1-45h0m0 26h0m0 6h0m0 10h0m0 1h0m1-50h0m0 2h0m0 4h0m0 1h0m0 3h0m0 8h0m1-18h0m0 9h0m0 15h0m0 11h0m0 20h0m1-54h0m0 5h0m0 34h0m0 9h0m0 0h0m0 5h0m1-46h0m0 19h0m0 21h0m1-37h0m0 8h0m0 2h0m1 30h0m0 7h0m1-50h0m0 43h0m1-40h0m0 0h0m1 13h0m1 8h0m0 6h0m1 0h0m1-3h0m0 4h0m0 2h0m1-12h0m0 0h0m0 12h0m1-13h0m2 4h0m1 1h0m0 5h0m0 3h0m1-18h0m0 16h0m0 11h0m0 1h0m1-25h0m0 12h0m0 12h0m0 0h0m1-26h0m0 19h0m0 4h0m0 4h0m0 1h0m1-27h0m0 21h0m0 4h0m0 5h0m1-13h0m1 3h0m0 2h0m0 2h0m0 2h0m1 5h0m1-10h0m0 5h0m1-3h0m0 6h0m1-24h0m1 14h0m0 6h0m0 4h0m1-10h0m0 13h0m1-30h0m0 2h0m0 3h0m0 5h0m1-1h0m0 17h0m0 1h0m1-14h0m0 6h0m1-6h0m0 3h0m0 5h0m0 8h0m1-12h0m0 5h0m1-10h0m0 8h0m0 4h0m1-7h0m0 4h0m0 7h0m0 0h0m1-22h0m0 14h0m1-11h0m0 3h0m0 2h0m0 8h0m0 3h0m1 4h0m1-7h0m1-25h0m0 19h0m0 5h0m0 3h0m0 5h0m1-5h0m1-26h0m0 5h0m0 7h0m0 11h0m1-24h0m1 15h0m1-13h0m0 13h0m0 9h0m2-1h0m0 2h0m0 2h0m2-21h0m0 7h0m0 11h0m1-2h0m1-5h0" stroke="#FDE725" stroke-width="3.6" stroke-linecap="round" fill="none"/>
<path d="M1155 1894h0m9-2h0m2-16h0m9-4h0m1-14h0m2 17h0m3 23h0m4-3h0m6-9h0m0 4h0m11-1h0m2 6h0m106 66h0m0 8h0m1 1h0m0 1h0m1 3h0m2-10h0m0 3h0m1-7h0m0 5h0m0 4h0m0 5h0m0 3h0m2-1h0m1-6h0m0 1h0m0 6h0m1-2h0m1-11h0m0 10h0m0 5h0m1-3h0m1-23h0m0 26h0m1-25h0m0 19h0m0 6h0m3-29h0m0 34h0m2-28h0m0 2h0m0 3h0m1 1h0m0 8h0m0 0h0m1-14h0m1 20h0m1-14h0m1-9h0m0 1h0m0 28h0m1-19h0m1-15h0m0 10h0m0 2h0m0 4h0m6 5h0m0 5h0m2 24h0m6-5h0m1-32h0m0 42h0m5-3h0m1-40h0m5 29h0m1 4h0m1 9h0m1-30h0m5-3h0m2-13h0m2 2h0m1 32h0m1 4h0m3-20h0m1-7h0m0 25h0m3-35h0m2 3h0m1 3h0m0 37h0m0 8h0m1-27h0m0 24h0m1-54h0m1 53h0m1-58h0m1 43h0m3-41h0m1 42h0m0 22h0m2-6h0m1-275h0m0 268h0m1-264h0m0 257h0m1-260h0m0 207h0m1-209h0m0 225h0m1-228h0m1 262h0m1-244h0m1-11h0m0 266h0m1-273h0m0 1h0m0 246h0m1-244h0m0 42h0m2 184h0m2-6h0m1-226h0m0 7h0m1-7h0m0 2h0m0 7h0m0 223h0m0 2h0m0 39h0m1-265h0m0 274h0m1-282h0m0 229h0m0 38h0m1-253h0m0 225h0m0 22h0m1-259h0m0 5h0m0 263h0m1-268h0m0 4h0m0 266h0m1-39h0m0 29h0m1 3h0m1-259h0m0 246h0m1-244h0m0 8h0m0 19h0m0 235h0m1-262h0m0 220h0m1-230h0m1 0h0m0 4h0m0 10h0m2-9h0m0 2h0m1-12h0m1 7h0m0 3h0m0 0h0m1 2h0m0 12h0m1 196h0m0 54h0m0 16h0m1-269h0m0 0h0m0 262h0m0 3h0m1-256h0m0 254h0m1-275h0m0 15h0m0 9h0m1 254h0m1-280h0m0 22h0m0 268h0m1-289h0m0 19h0m0 166h0m0 89h0m1-272h0m0 21h0m1-6h0m0 8h0m0 1h0m2-7h0m0 198h0m1-222h0m0 286h0m1-286h0m0 292h0m1-273h0m0 266h0m0 3h0m1-275h0m0 46h0m0 232h0m1-278h0m0 2h0m0 44h0m0 234h0m1-297h0m0 294h0m0 2h0m1-263h0m0 17h0m0 9h0m1-45h0m0 24h0m0 23h0m0 5h0m0 220h0m1-251h0m0 3h0m0 29h0m0 1h0m1-29h0m0 186h0m0 76h0m1-301h0m0 42h0m0 10h0m1-50h0m0 14h0m0 14h0m1 27h0m0 9h0m1-25h0m1-27h0m0 6h0m0 23h0m0 17h0m0 136h0m0 87h0m0 5h0m1-283h0m0 1h0m0 0h0m0 45h0m0 234h0m1-248h0m0 18h0m0 141h0m1-192h0m0 32h0m0 5h0m0 250h0m0 3h0m1-287h0m0 10h0m0 6h0m0 17h0m0 153h0m1-190h0m0 16h0m0 14h0m0 8h0m0 163h0m1-206h0m0 6h0m0 53h0m1-53h0m0 27h0m0 1h0m0 7h0m0 0h0m0 159h0m1-194h0m0 7h0m0 24h0m1-21h0m0 1h0m0 201h0m1-198h0m0 4h0m0 5h0m1-9h0m1-18h0m0 16h0m0 11h0m0 16h0m1-15h0m0 2h0m1-13h0m0 33h0m1 159h0m1-172h0m0 156h0m1 10h0m1 17h0m1-218h0m0 3h0m0 1h0m0 4h0m0 2h0m0 9h0m1 19h0m1-34h0m0 4h0m0 30h0m0 5h0m0 146h0m0 27h0m1-175h0m0 38h0m1-50h0m0 8h0m0 167h0m1-192h0m0 4h0m0 177h0m1-3h0m1 4h0m0 9h0m1-20h0m0 10h0m1-191h0m0 2h0m0 1h0m0 10h0m0 178h0m0 6h0m2-188h0m0 15h0m0 1h0m0 173h0m1-193h0m0 173h0m0 11h0m0 1h0m0 2h0m1-176h0m0 3h0m0 172h0m0 12h0m1-201h0m0 5h0m1 9h0m0 14h0m0 3h0m1-17h0m0 11h0m1-24h0m0 15h0m0 5h0m1-6h0m0 190h0m0 7h0m1-195h0m1-12h0m0 5h0m0 170h0m1-175h0m0 174h0m0 3h0m0 34h0m1-29h0m2-178h0m0 163h0m1-151h0m0 9h0m0 143h0m0 1h0m1-158h0m0 11h0m0 150h0m0 4h0m2-10h0m1-154h0m0 157h0m0 15h0m1-24h0m0 1h0m1-157h0m0 206h0m1-206h0m0 161h0m1-159h0m0 11h0m0 105h0m0 2h0m0 32h0m0 0h0m1-149h0m0 3h0m0 110h0m0 33h0m1 11h0m0 16h0m0 32h0m1-95h0m0 61h0m1-57h0m0 27h0m0 36h0m0 1h0m1-67h0m0 12h0m0 19h0m0 3h0m0 5h0m1-38h0m0 27h0m1 3h0m0 2h0m1-19h0m0 8h0m0 6h0m0 60h0m1-56h0m0 56h0m2-56h0m0 3h0m0 1h0m1-27h0m0 28h0m0 23h0m0 2h0m2-52h0m1-5h0m0 8h0m0 19h0m0 3h0m0 0h0m0 17h0m0 1h0m1 4h0m1-30h0m0 21h0m1 3h0m0 8h0m0 5h0m1-29h0m0 3h0m0 1h0m0 14h0m0 9h0m0 4h0m1-36h0m0 2h0m0 4h0m0 1h0m0 20h0m0 16h0m1-26h0m0 4h0m0 8h0m0 15h0m1-26h0m0 7h0m0 1h0m1-23h0m0 20h0m0 0h0m1-1h0m0 8h0m1-32h0m0 26h0m0 2h0m0 14h0m1-30h0m0 18h0m1-26h0m0 4h0m0 11h0m0 6h0m0 4h0m1-25h0m0 5h0m0 11h0m1-16h0m0 1h0m0 4h0m0 1h0m0 9h0m0 14h0m1-31h0m0 2h0m0 10h0m1-12h0m0 4h0m0 2h0m0 11h0m0 0h0m1-12h0m0 13h0m0 0h0m0 7h0m0 0h0m1-9h0m1-12h0m0 20h0m1-5h0m0 1h0m1-4h0m0 1h0m0 1h0m0 0h0m0 4h0m0 3h0m0 9h0m1-7h0m0 2h0m0 2h0m0 3h0m1-8h0m1-11h0m0 3h0m0 4h0m0 0h0m0 15h0m1-22h0m0 16h0m0 2h0m1-13h0m0 3h0m0 7h0m0 0h0m0 7h0m1-20h0m0 5h0m0 0h0m0 0h0m0 4h0m0 5h0m0 0h0m0 3h0m1-12h0m0 1h0m0 2h0m0 8h0m1-11h0m0 7h0m0 9h0m1-22h0m0 3h0m0 3h0m0 11h0m0 15h0m1-27h0m0 7h0m0 8h0m0 2h0m0 8h0m1-28h0m0 8h0m2-5h0m0 16h0m0 1h0m1-16h0m0 4h0m0 5h0m0 9h0m1-17h0m0 6h0m0 9h0m1-18h0m0 5h0m0 1h0m0 9h0m1 3h0m1-24h0m0 4h0m0 12h0m0 3h0m1-6h0m0 6h0m1-9h0m1-8h0m1 5h0m0 9h0m0 1h0m0 6h0m1-6h0m1-8h0m0 16h0m0 4h0m1-23h0m0 8h0m0 4h0m1-15h0m0 5h0m1 6h0m0 2h0m0 1h0m0 4h0m1-16h0m0 18h0m0 13h0m1-15h0m0 5h0m1-26h0m0 8h0m0 12h0m0 11h0m2-28h0m0 9h0m0 0h0m0 11h0m0 3h0m1-20h0m0 5h0m0 8h0m1-12h0m0 2h0m0 0h0m1 8h0m0 3h0m1-17h0m0 2h0m0 7h0m0 20h0m1-3h0m1-18h0m0 2h0m1-8h0m0 5h0" stroke="#440154" stroke-width="3.6" stroke-linecap="round" fill="none"/>
<path d="M1153 1881h0m0 4h0m1-1h0m1-6h0m0 0h0m0 3h0m0 5h0m0 5h0m0 2h0m1-14h0m0 10h0m1-21h0m0 15h0m1-15h0m0 3h0m0 4h0m0 14h0m0 1h0m1-16h0m0 3h0m0 5h0m0 7h0m0 2h0m0 2h0m0 3h0m1-26h0m0 8h0m0 6h0m0 6h0m0 7h0m1-35h0m0 10h0m0 0h0m0 1h0m0 2h0m0 4h0m1-2h0m0 2h0m0 2h0m0 9h0m1-25h0m0 2h0m0 5h0m0 1h0m1 0h0m0 2h0m0 7h0m0 1h0m0 3h0m0 8h0m1-33h0m0 20h0m0 5h0m0 1h0m0 6h0m0 3h0m1-10h0m0 6h0m0 2h0m1-28h0m0 2h0m0 6h0m0 5h0m0 3h0m0 6h0m0 8h0m1-31h0m0 4h0m1-8h0m0 23h0m0 1h0m0 6h0m0 3h0m1-32h0m0 6h0m0 13h0m0 2h0m0 6h0m0 5h0m1-29h0m0 2h0m0 5h0m0 1h0m0 3h0m0 19h0m0 3h0m1-12h0m0 0h0m0 5h0m0 1h0m1-30h0m0 8h0m0 2h0m0 3h0m0 3h0m0 2h0m0 0h0m0 1h0m0 13h0m0 0h0m0 1h0m1-35h0m0 1h0m0 5h0m0 1h0m0 2h0m0 2h0m0 2h0m0 1h0m0 1h0m0 5h0m0 14h0m0 1h0m0 2h0m1-34h0m0 3h0m0 14h0m0 8h0m0 2h0m0 4h0m1-35h0m0 2h0m0 1h0m0 9h0m0 9h0m0 7h0m0 4h0m0 5h0m1-39h0m0 7h0m0 1h0m0 10h0m0 4h0m0 12h0m0 2h0m0 2h0m0 2h0m1-39h0m0 1h0m0 3h0m0 9h0m0 5h0m0 5h0m0 8h0m0 5h0m0 2h0m0 1h0m0 1h0m1-41h0m0 6h0m0 2h0m0 5h0m0 12h0m0 1h0m0 1h0m0 1h0m1-28h0m0 4h0m0 4h0m0 32h0m0 2h0m1-38h0m0 1h0m0 6h0m0 1h0m0 1h0m0 3h0m0 4h0m0 2h0m0 0h0m0 9h0m0 1h0m0 1h0m0 5h0m1-32h0m0 9h0m0 5h0m0 19h0m0 2h0m1-30h0m0 1h0m0 2h0m0 17h0m0 5h0m0 1h0m0 2h0m0 3h0m1-37h0m0 2h0m0 10h0m0 6h0m0 0h0m0 1h0m0 5h0m0 7h0m0 4h0m1-10h0m0 2h0m0 5h0m0 2h0m1-39h0m0 0h0m0 2h0m0 22h0m0 0h0m0 9h0m0 3h0m0 2h0m0 4h0m0 0h0m1-37h0m0 5h0m0 4h0m0 2h0m0 4h0m0 1h0m0 4h0m0 12h0m0 1h0m1-36h0m0 1h0m0 5h0m0 1h0m0 4h0m0 0h0m0 3h0m0 24h0m1-38h0m0 1h0m0 5h0m0 12h0m0 11h0m0 8h0m1-33h0m0 31h0m1-35h0m0 11h0m0 0h0m0 3h0m0 10h0m0 2h0m0 1h0m0 13h0m1-27h0m0 3h0m0 2h0m0 11h0m0 11h0m1-40h0m0 2h0m0 7h0m0 3h0m0 7h0m0 11h0m0 1h0m0 6h0m0 2h0m1-19h0m0 7h0m0 3h0m0 3h0m0 4h0m1-33h0m0 8h0m1-1h0m0 2h0m0 6h0m0 11h0m1-10h0m0 4h0m0 2h0m0 3h0m0 1h0m0 7h0m0 0h0m1-29h0m0 3h0m0 4h0m0 4h0m0 5h0m0 2h0m0 6h0m1-20h0m0 0h0m0 4h0m0 6h0m0 5h0m0 10h0m0 3h0m1-25h0m0 2h0m0 3h0m0 2h0m0 5h0m1-16h0m0 8h0m0 2h0m0 3h0m0 1h0m0 0h0m0 6h0m0 2h0m0 1h0m0 2h0m0 4h0m1-17h0m0 12h0m0 4h0m1-17h0m0 4h0m0 7h0m0 2h0m1-14h0m0 10h0m2-9h0m0 4h0m0 4h0m0 3h0m0 1h0m0 2h0m0 2h0m1-13h0m0 7h0m0 4h0m2-1h0m0 2h0m1-15h0m0 5h0m0 1h0m1 5h0m0 2h0m0 1h0m0 2h0m1-2h0m1-3h0m0 0h0m97 77h0m2-12h0m5 13h0m1-6h0m1-7h0m0 17h0m1-11h0m1 10h0m3 5h0m0 5h0m1-33h0m0 31h0m2-13h0m0 1h0m0 9h0m2-15h0m1-9h0m0 11h0m0 8h0m0 5h0m0 4h0m1-35h0m0 23h0m2-14h0m1-1h0m0 3h0m1 1h0m0 22h0m1-25h0m1 10h0m0 24h0m1-40h0m0 19h0m0 7h0m0 12h0m0 4h0m0 1h0m1-23h0m1-19h0m1 4h0m0 12h0m0 17h0m1-4h0m2-13h0m1-14h0m0 2h0m0 12h0m1-11h0m0 26h0m0 6h0m0 1h0m1-25h0m0 13h0m1-23h0m0 10h0m3 15h0m1-24h0m0 5h0m0 33h0m1-37h0m1-4h0m0 5h0m0 28h0m1-8h0m2-26h0m0 7h0m0 47h0m1-37h0m0 16h0m0 1h0m0 12h0m0 3h0m1-16h0m0 21h0m3-28h0m1-27h0m0 13h0m0 2h0m0 18h0m0 14h0m0 0h0m1-45h0m0 12h0m0 3h0m0 10h0m0 4h0m0 4h0m0 1h0m0 14h0m1-44h0m0 6h0m0 6h0m0 11h0m0 7h0m0 0h0m0 3h0m0 1h0m0 5h0m1-47h0m0 8h0m0 17h0m0 0h0m0 9h0m0 8h0m0 5h0m0 1h0m0 6h0m1-50h0m0 12h0m0 2h0m0 10h0m0 1h0m0 1h0m0 2h0m0 5h0m0 5h0m0 7h0m0 3h0m0 2h0m1-52h0m0 3h0m0 2h0m0 4h0m0 7h0m0 5h0m0 3h0m0 1h0m0 3h0m0 0h0m0 2h0m0 11h0m0 6h0m1-44h0m0 4h0m0 1h0m0 3h0m0 6h0m0 3h0m0 6h0m0 13h0m0 4h0m0 3h0m0 6h0m1-48h0m0 3h0m0 3h0m0 0h0m0 1h0m0 0h0m0 1h0m0 1h0m0 1h0m0 1h0m0 0h0m0 8h0m0 2h0m0 2h0m0 1h0m0 6h0m0 1h0m0 6h0m0 0h0m0 0h0m0 4h0m1-46h0m0 4h0m0 1h0m0 10h0m0 2h0m0 18h0m0 15h0m0 5h0m0 5h0m0 0h0m1-55h0m0 3h0m0 7h0m0 5h0m0 13h0m0 6h0m0 1h0m0 3h0m0 16h0m0 1h0m1-56h0m0 5h0m0 0h0m0 1h0m0 1h0m0 4h0m0 2h0m0 0h0m0 3h0m0 5h0m0 11h0m0 8h0m0 4h0m0 1h0m0 7h0m0 2h0m1-53h0m0 1h0m0 1h0m0 3h0m0 5h0m0 4h0m0 1h0m0 4h0m0 1h0m0 21h0m0 3h0m1-50h0m0 2h0m0 1h0m0 5h0m0 8h0m0 0h0m0 14h0m0 6h0m0 0h0m0 0h0m0 11h0m0 5h0m0 2h0m0 9h0m0 1h0m1-63h0m0 5h0m0 2h0m0 15h0m0 3h0m0 18h0m0 3h0m0 4h0m0 3h0m0 5h0m0 4h0m0 1h0m1-57h0m0 1h0m0 6h0m0 0h0m0 3h0m0 1h0m0 1h0m0 5h0m0 5h0m0 4h0m0 10h0m0 11h0m0 4h0m0 1h0m1-51h0m0 6h0m0 9h0m0 2h0m0 0h0m0 3h0m0 11h0m0 4h0m0 5h0m0 3h0m0 2h0m0 0h0m0 6h0m0 1h0m0 1h0m0 1h0m1-51h0m0 1h0m0 1h0m0 20h0m0 1h0m0 9h0m0 0h0m0 5h0m0 2h0m0 6h0m0 4h0m0 3h0m0 3h0m1-62h0m0 1h0m0 8h0m0 7h0m0 4h0m0 5h0m0 3h0m0 8h0m0 7h0m0 2h0m0 0h0m0 1h0m0 1h0m0 1h0m0 5h0m0 8h0m1-59h0m0 5h0m0 9h0m0 1h0m0 0h0m0 3h0m0 9h0m0 8h0m0 4h0m0 2h0m0 1h0m0 1h0m0 5h0m0 2h0m0 0h0m0 4h0m0 2h0m1-53h0m0 4h0m0 2h0m0 0h0m0 3h0m0 0h0m0 6h0m0 2h0m0 0h0m0 5h0m0 9h0m0 1h0m0 2h0m0 0h0m0 5h0m0 4h0m0 6h0m1-51h0m0 0h0m0 2h0m0 7h0m0 7h0m0 2h0m0 25h0m0 2h0m0 8h0m0 4h0m0 1h0m0 2h0m1-62h0m0 0h0m0 15h0m0 0h0m0 2h0m0 3h0m0 1h0m0 3h0m0 0h0m0 2h0m0 7h0m0 3h0m0 1h0m0 9h0m0 6h0m0 5h0m0 1h0m1-61h0m0 1h0m0 13h0m0 8h0m0 2h0m0 3h0m0 14h0m0 6h0m0 2h0m0 5h0m0 5h0m1-62h0m0 13h0m0 8h0m0 0h0m0 0h0m0 5h0m0 5h0m0 6h0m0 1h0m0 1h0m0 5h0m0 14h0m0 3h0m1-59h0m0 3h0m0 3h0m0 4h0m0 10h0m0 15h0m0 1h0m0 6h0m0 1h0m0 5h0m0 2h0m0 6h0m0 2h0m0 1h0m0 1h0m0 4h0m1-63h0m0 4h0m0 9h0m0 0h0m0 22h0m0 8h0m0 2h0m0 3h0m0 3h0m0 3h0m0 6h0m0 1h0m0 1h0m0 1h0m0 1h0m1-54h0m0 0h0m0 13h0m0 0h0m0 1h0m0 1h0m0 28h0m0 5h0m0 2h0m1-50h0m0 4h0m0 2h0m0 4h0m0 34h0m0 0h0m0 5h0m1-61h0m0 4h0m0 16h0m0 1h0m0 4h0m0 11h0m0 3h0m0 3h0m0 0h0m0 2h0m0 5h0m0 13h0m1-51h0m0 5h0m0 0h0m0 2h0m0 9h0m0 11h0m0 5h0m0 4h0m0 4h0m0 5h0m0 2h0m0 5h0m0 2h0m1-63h0m0 1h0m0 0h0m0 6h0m0 8h0m0 3h0m0 2h0m0 0h0m0 2h0m0 8h0m0 10h0m0 1h0m0 0h0m0 4h0m0 9h0m0 6h0m0 2h0m1-59h0m0 7h0m0 2h0m0 0h0m0 8h0m0 2h0m0 5h0m0 0h0m0 4h0m0 2h0m0 16h0m0 5h0m0 6h0m0 2h0m1-55h0m0 6h0m0 2h0m0 1h0m0 6h0m0 1h0m0 7h0m0 7h0m0 11h0m0 2h0m0 4h0m0 1h0m0 5h0m0 1h0m0 1h0m0 0h0m1-62h0m0 10h0m0 2h0m0 0h0m0 7h0m0 1h0m0 5h0m0 10h0m0 2h0m0 2h0m0 2h0m0 9h0m0 8h0m1-58h0m0 1h0m0 11h0m0 0h0m0 1h0m0 2h0m0 5h0m0 4h0m0 3h0m0 0h0m0 0h0m0 8h0m0 4h0m0 1h0m0 3h0m0 1h0m0 12h0m0 2h0m0 2h0m0 5h0m1-66h0m0 4h0m0 7h0m0 4h0m0 1h0m0 10h0m0 3h0m0 6h0m0 1h0m0 10h0m0 3h0m0 1h0m0 5h0m0 3h0m0 5h0m0 1h0m1-60h0m0 2h0m0 19h0m0 4h0m0 7h0m0 10h0m0 5h0m0 3h0m0 1h0m0 1h0m0 3h0m1-54h0m0 6h0m0 12h0m0 3h0m0 5h0m0 18h0m0 3h0m0 1h0m1-53h0m0 12h0m0 7h0m0 4h0m0 7h0m0 8h0m0 3h0m0 2h0m0 12h0m1-49h0m0 2h0m0 2h0m0 13h0m0 17h0m0 3h0m0 1h0m0 0h0m0 1h0m0 1h0m0 2h0m0 1h0m1-31h0m0 20h0m0 3h0m0 4h0m0 1h0m0 1h0m1-47h0m0 35h0m0 0h0m0 4h0m1-28h0m0 4h0m0 6h0m0 1h0m0 7h0m0 1h0m0 11h0m0 2h0m0 2h0m0 2h0m1-47h0m0 4h0m0 4h0m0 2h0m0 5h0m0 7h0m0 0h0m0 8h0m0 8h0m0 5h0m0 2h0m0 4h0m1-50h0m0 2h0m0 6h0m0 8h0m0 3h0m0 3h0m0 5h0m0 4h0m0 16h0m0 1h0m1-46h0m0 3h0m0 17h0m0 18h0m0 2h0m0 2h0m0 5h0m1-43h0m0 7h0m0 0h0m0 9h0m0 1h0m0 21h0m0 2h0m0 2h0m0 2h0m1-48h0m0 4h0m0 5h0m0 2h0m0 3h0m0 7h0m0 0h0m0 2h0m0 1h0m0 5h0m0 4h0m0 3h0m0 4h0m0 1h0m1-42h0m0 5h0m0 5h0m0 3h0m0 5h0m0 8h0m0 1h0m0 0h0m0 3h0m0 1h0m0 1h0m0 10h0m0 0h0m0 7h0m1-38h0m0 14h0m0 1h0m0 4h0m1-29h0m0 4h0m0 6h0m0 1h0m0 0h0m0 4h0m0 2h0m0 4h0m0 4h0m0 3h0m0 3h0m0 9h0m1-42h0m0 1h0m0 7h0m0 6h0m0 3h0m0 3h0m0 5h0m0 3h0m0 4h0m0 2h0m0 1h0m0 9h0m0 6h0m1-44h0m0 27h0m0 1h0m0 0h0m0 4h0m0 0h0m1-17h0m0 7h0m0 4h0m0 10h0m0 4h0m1-19h0m0 4h0m0 19h0m1-39h0m0 7h0m0 28h0m0 4h0m0 0h0m1-45h0m0 11h0m0 1h0m0 7h0m0 2h0m0 6h0m0 3h0m0 2h0m0 2h0m0 0h0m0 4h0m0 11h0m1-36h0m0 9h0m0 4h0m0 3h0m1-30h0m0 1h0m0 8h0m0 2h0m0 1h0m0 1h0m0 4h0m0 10h0m0 6h0m0 2h0m0 4h0m0 3h0m1-39h0m0 0h0m0 0h0m0 7h0m0 1h0m0 5h0m0 1h0m0 6h0m0 2h0m0 7h0m0 1h0m0 0h0m0 2h0m0 10h0m0 6h0m0 0h0m1-57h0m0 23h0m0 11h0m0 8h0m0 3h0m0 0h0m0 3h0m0 6h0m1-35h0m0 9h0m0 8h0m0 4h0m0 6h0m0 12h0m1-31h0m0 4h0m0 1h0m0 3h0m0 4h0m0 8h0m0 11h0m1-42h0m0 9h0m0 2h0m0 2h0m0 7h0m0 3h0m0 17h0m0 3h0m1-26h0m0 0h0m0 12h0m1-13h0m0 2h0m0 7h0m0 5h0m0 5h0m0 1h0m0 10h0m1-43h0m0 6h0m0 17h0m0 3h0m0 1h0m0 1h0m0 0h0m0 3h0m0 6h0m0 2h0m1-7h0m1-13h0m0 13h0m0 3h0m0 7h0m1-25h0m0 8h0m0 19h0m1-21h0m0 1h0m0 5h0m1 0h0m0 4h0m0 12h0m1-18h0m0 17h0m0 2h0m0 1h0m1-11h0m0 3h0m0 3h0m0 1h0m0 0h0m1-17h0m0 7h0m0 1h0m0 5h0m1-14h0m0 9h0m0 2h0m0 4h0m0 7h0m1-16h0m0 12h0m1-11h0m0 2h0m0 16h0m1-8h0m0 6h0m1-2h0m0 2h0m2-4h0m1-3h0m0 3h0m0 6h0m0 1h0m1-9h0m1-6h0m1 7h0m0 5h0m1-22h0m0 11h0m0 2h0m0 0h0m0 6h0m0 0h0m0 5h0m0 1h0m1-15h0m0 5h0m0 3h0m1-3h0m0 1h0m1-3h0m0 10h0m0 1h0m1-2h0m1-3h0m0 2h0m0 4h0m0 1h0m1-17h0m0 7h0m0 3h0m2-11h0m0 18h0m1-10h0m0 5h0m0 1h0m0 1h0m1-4h0m0 3h0m2-4h0m15-205h0m11 143h0m43-119h0" stroke="#FDE725" stroke-width="3.6" stroke-linecap="round" fill="none"/>
<path d="M1152.5 1971.1V2017H1198.4" fill="none" stroke="#000" stroke-width="2.3" stroke-linejoin="miter"/><path d="M1152.5 1965.1l-5 12.5l5 -3.5l5 3.5z" fill="#000"/><path d="M1204.4 2017l-12.5 -5l3.5 5l-3.5 5z" fill="#000"/><text x="1161.6" y="2003.6" font-size="22.9" textLength="62.6" lengthAdjust="spacingAndGlyphs">UMAP</text>
</g>
<g id="pf">
<path d="M67.7 1328.7L67.7 1865.3" stroke="#222" stroke-width="1.3" fill="none"/>
<rect x="115.8" y="1331.7" width="4.4" height="531.6" fill="#e2e2e2"/>
<path d="M63.9 1385.8L67.7 1385.8" stroke="#222" stroke-width="1" fill="none"/>
<path d="M63.9 1368.6L67.7 1368.6" stroke="#222" stroke-width="1" fill="none"/>
<path d="M63.9 1351.4L67.7 1351.4" stroke="#222" stroke-width="1" fill="none"/>
<path d="M63.9 1334.2L67.7 1334.2" stroke="#222" stroke-width="1" fill="none"/>
<rect x="114.8" y="1386.4" width="6.4" height="3.4" fill="#fff"/>
<path d="M80 1385.8L465.2 1385.8" stroke="#8a8a8a" stroke-width="0.8" fill="none"/>
<path d="M80 1385.8h18l1-.2l1 .2l1-.2h2l1 .2h2l1-.2l1 .2l1-.2l1 .2h1l1-.2l1 .2h3l1-.4l1 .4l1-.2h3l1 .2h1l1-.2h1l1 .2h2l1-.2l1 .2l1-.2l1 .2l1-.2l1 .2h1l1-.2h2l1 .2h4l1-.2h1l1 .2h1l1-.2l1 .2h2l1-.4l1 .4l1-.2l1 .2h4l1-.2h2l1 .2h3l1-.4l1 .4h1l1-.2l1-.2l1 .4l1-.2h1l1 .2h1l1-.2l1 .2h1l1-.2h2l1 .2l1-.4l1 .2l1 .2h2l1-.2l1 .2h1l1-.2l1 .2l1-.2h4l1 .2h1l1-.2l1 .2l1-.2l1 .2l1-.2l1 .2l1-.4l1 .2l1 .2h1l1-.2l1 .2h3l1-.4l1 .2h1l1-.2l1 .2l1 .2h3l1-.2h2l1 .2h3l1-.2l1 .2h2l1-.2l1 .2h1l1-.2l1 .2h2l1-.2h2l1 .2h6l1-.2l1 .2h1l1-.2l1 .2h2l1-.4l1 .4l1-.4l1 .4l1-.4l1 .4l1-.2h2l1 .2h2l1-.2h1l1 .2l1-.2l1 .2h2l1-.2h1l1 .2l1-.2l1 .2l1-.2h1l1 .2l1-.2l1 .2l1-.2l1 .2h1l1-.2h1l1 .2l1-.2l1 .2h3l1-.2l1 .2l1-.2l1 .2l1-.2l1 .2l1-.2h1l1-.2l1 .4l1-.4l1 .2h1l1 .2l1-.2l1 .2h1l1-.2l1 .2h3l1-.4l1 .2h3l1 .2l1-.2h1l1 .2l1-.2l1 .2h1l1-.4l1 .2l1 .2h4l1-.2l1 .2h1l1-.2l1 .2h1l1-.2h1l1 .2l1-.2h3l1 .2h2l1-.2h4l1 .2h2l1-.2h2l1 .2h1l1-.2l1 .2h1l1-.2l1 .2l1-.2l1 .2h3l1-.2l1 .2h1l1-.4l1 .4l1-.2h1l1 .2l1-.2l1 .2l1-.2l1 .2l1-.2h1l1 .2h2l1-.2l1 .2h1l1-.4l1 .4h4l1-.2l1-.2l1 .4l1-.2h4l1 .2h2l1-.2l1 .2l1-.2h1l1-6.6l1 6.6l1 .2l1-.2l1 .2l1-.2h3l1 .2h1l1-.2l1 .2h1l1-.2l1 .2l1-.2h2l1 .2h1l1-.2h1l1 .2h21V1385.8Z" fill="#8491B4"/>
<text x="77.2" y="1345.5" font-size="19.2" textLength="69.9" lengthAdjust="spacingAndGlyphs">homMG</text>
<path d="M63.9 1445.6L67.7 1445.6" stroke="#222" stroke-width="1" fill="none"/>
<path d="M63.9 1428.4L67.7 1428.4" stroke="#222" stroke-width="1" fill="none"/>
<path d="M63.9 1411.2L67.7 1411.2" stroke="#222" stroke-width="1" fill="none"/>
<path d="M63.9 1394L67.7 1394" stroke="#222" stroke-width="1" fill="none"/>
<rect x="114.8" y="1446.2" width="6.4" height="3.4" fill="#fff"/>
<path d="M80 1445.6L465.2 1445.6" stroke="#8a8a8a" stroke-width="0.8" fill="none"/>
<path d="M80 1445.6h18l1-.6l1 .4l1 .2l1-.2h2l1-.4l1-.2l1 .4l1 .2l1 .2h2l1-.2l1-.2l1 .4l1-.4l1 .4l1-.6l1 .2l1-1.4l1 1.6l1-.2l1 .2h1l1 .2l1-.6l1 .4l1-.2l1 .4l1-.2l1 .2l1-.4l1 .2h1l1 .2l1-.2h4l1 .2h1l1-.2l1 .2h2l1-.2h1l1 .2l1-.2h1l1-.2l1 .2h1l1-.4l1 .4h2l1 .2h1l1-.2h1l1-.2l1 .4h1l1-.2l1 .2h1l1-.4l1 .2l1 .2l1-.2l1 .2l1-.2h2l1-.2l1 .4h1l1-.2l1 .2h1l1-.2h1l1-.2l1 .2l1 .2l1-.2h3l1-.2l1 .4h2l1-.4l1 .4h1l1-.2l1-.2l1 .2l1-.2l1 .2h1l1-.4l1 .2l1 .2l1-.2l1 .4l1-.2h3l1-.4l1 .6l1-.6l1 .4h3l1-.2h1l1 .4l1-.4h1l1 .2l1-.2l1 .4l1-.2l1 .2h1l1-.2l1 .2l1-.2l1 .2l1-.2l1-.2l1 .2h2l1 .2l1-.4h1l1-.2l1 .4h1l1 .2l1-.2l1 .2l1-.2l1 .2l1-.2l1 .2l1-.2h1l1 .2l1-.6l1 .4l1-.2h1l1 .4l1-.2l1-.2l1 .2h1l1-.2l1 .4l1-.4l1 .4l1-.2h2l1-.2h1l1 .4l1-.2h3l1 .2l1-.4l1 .2h7l1-.2l1 .2h1l1 .2h2l1-.4l1 .4h1l1-.2l1-.4l1 .6l1-.2l1 .2l1-.4l1 .4l1-.2l1-.2h1l1-.2l1 .6l1-.2l1-.4l1 .6l1-.2l1-.2l1-.2l1 .2l1 .4l1-.4h1l1 .2h2l1-.2l1 .2l1 .2h1l1-.2l1-.2l1 .2h1l1-.2l1 .2h3l1 .2l1-.4l1 .2l1 .2h4l1-.4l1 .4l1-.2l1 .2l1-.4h1l1 .4l1-.4l1 .4l1-.4l1 .2l1 .2l1-.2l1 .2l1-.2l1-.2l1 .4h2l1-.2l1 .2l1-.4l1 .4h1l1-.2l1-.2l1 .2h2l1 .2l1-.2l1 .2h1l1-.2h2l1 .2h1l1-.2l1-.2h1l1 .2h2l1 .2l1-.4l1 .2l1 .2l1-.2l1 .2l1-.2l1 .2l1-.2h2l1 .2h1l1-.2l1 .2h1l1-.4l1 .2h3l1 .2l1-.2h1l1 .2l1-.4h2l1 .2l1 .2h1l1-.2l1-.2h1l1-11l1 10.6l1 .4l1 .4l1-.2l1 .2h2l1-.2h1l1 .2l1-.2l1 .2l1-.2l1-.2h1l1 .2h1l1-.2l1 .2h1l1-.4l1 .4h1l1-.4l1 .6l1-.2l1 .2h17V1445.6Z" fill="#E64B35"/>
<text x="77.2" y="1405.3" font-size="19.2" textLength="83.3" lengthAdjust="spacingAndGlyphs">repopMG</text>
<path d="M63.9 1505.4L67.7 1505.4" stroke="#222" stroke-width="1" fill="none"/>
<path d="M63.9 1488.2L67.7 1488.2" stroke="#222" stroke-width="1" fill="none"/>
<path d="M63.9 1471L67.7 1471" stroke="#222" stroke-width="1" fill="none"/>
<path d="M63.9 1453.8L67.7 1453.8" stroke="#222" stroke-width="1" fill="none"/>
<rect x="114.8" y="1506" width="6.4" height="3.4" fill="#fff"/>
<path d="M80 1505.4L465.2 1505.4" stroke="#8a8a8a" stroke-width="0.8" fill="none"/>
<path d="M80 1505.4h18l1-.2l1-1l1-1.2l1-1.2l1 .6l1 1.6l1-.2l1-.2l1 .8l1 .6l1 .4l1-.8l1-1.2l1 1.4l1-.8l1-.4l1 .8l1-1.8l1 1.2l1-4.8l1-19.6l1 18.8l1 5.4l1 .8l1 .8l1-.2l1 .2l1-.4l1 .4l1-1.8l1 .8l1 1h1l1-1.2l1 .6l1 .8l1-1.4l1 1.4l1-.8l1 .6l1-1.2l1 1l1-1.6l1 1h1l1-.6l1 1.2l1-.2l1 .4l1-.2l1 .2l1-2.2l1 1.6h1l1-1.8l1 1l1 .8l1 .6l1-1.4l1-.2l1 .6l1 1.2l1-.2l1-.2l1-1.2l1-12.4l1 12.6l1-.6l1-9.2l1 9.6l1-.2l1-45.8l1 45.4l1 .2l1 1l1-.8l1 1l1-1.2l1 1.6l1 .2l1-.8l1 .6l1 .2l1-.8l1-.2l1 .6l1 .4l1-1.8l1-16l1 16l1 1.4l1-1l1-4l1 4.2h1l1 1.2l1-.2l1-.2l1 .6l1-1.4l1 .4l1-.2l1 1l1-1.6l1-.2l1 1.4l1-1.2l1-1l1 2l1 .8l1-1l1 .2h1l1-.2l1 .2l1-.2l1-7.6l1 8.4l1-2.8l1 1.6l1 .6l1-.2l1-1.4l1 2.2l1-.2h2l1-1l1 .8l1-.8l1 .2l1 .8l1-.8l1 1.2l1-1.4l1 .6l1 .6l1-.2l1 .4l1-2.4l1 2l1-.4l1-.6l1 .4l1-1.6l1 1.2l1 .6l1-.8l1-.8l1 .8l1 1l1 .2h2l1-2.2l1 2.4l1-1.2l1 1l1 .2l1-1.8l1 1.2l1-.2h1l1 .8l1-.2l1 .2l1-.4l1-1.6l1 .8l1-.4l1-2.8l1 3.4l1 .8l1-2.2l1 1.4l1 1.2l1-1l1-.6l1 1l1 .6l1-.4l1-.4l1 .4l1 .4l1-.6l1-.6l1 .4l1-.2l1 .6h1l1-.2l1-.2l1-.8l1 1.4l1-.6l1-.6l1 1.4l1-.4l1-1l1 1h2l1 .2l1-.4l1 .2l1 .2l1-.6l1 .6l1-3.8l1 3.6l1-.4l1 .2l1-1.2l1 .6l1 .4l1-.6l1 1.4h1l1-1l1 .6l1-1.8l1 1.6l1-.2l1 .6l1-1l1 1l1-.8l1 .4l1 .4l1 .2l1-.6l1-.4l1 .8l1-.8l1 .8l1-2.4l1 .8l1 1.6l1-8.4l1 7.4l1-.4l1 .2l1 1.4l1-.8l1-.2l1-.6l1 .8l1-1.4l1 1.8l1-.8l1-25.6l1 25.6l1-.4l1 1.6l1-1l1 .6l1-2.6l1 3l1-2.2h1l1-2.4l1 1.6l1 2.4l1-.4h1l1-1.2l1 1l1 .4l1-.8l1 1.6l1-.6l1 .2l1 .2l1-.8l1-2.2l1 2.6l1-18l1 17.2l1 1.2l1-1.2l1 .6l1 .2h1l1-2l1 2.6l1-2.2l1 1.8l1 .4l1-.4l1-2.8l1 2.4l1-.8l1-.4l1-.6l1 2.4l1-.2l1-.2l1-1.2l1 .2l1 1l1-1.2l1 1l1-2.6l1 2.8l1-1.8l1-2.6l1 2l1 2.2l1 .6l1-1.4l1 .8l1 .6l1-1l1-.6l1 1.4l1 .2l1-.4l1-1.2l1 1.4l1-.2l1-1l1 .2l1-1l1-23.4l1 23.4l1 .8l1-1.8l1 3.2l1-.2l1-.2l1 .4l1-.8l1-.6l1 .8l1 .6l1-.2l1-.4l1-1.8l1 2.4l1-.4l1-.2l1-.4l1-1.4l1 2l1-1l1-1.4l1 .8l1 1l1 .6l1-1.2l1 1.8h17V1505.4Z" fill="#DC0000"/>
<text x="77.2" y="1465.2" font-size="19.2" textLength="135.3" lengthAdjust="spacingAndGlyphs">hom_ys_sdCAM</text>
<path d="M63.9 1565.3L67.7 1565.3" stroke="#222" stroke-width="1" fill="none"/>
<path d="M63.9 1548.1L67.7 1548.1" stroke="#222" stroke-width="1" fill="none"/>
<path d="M63.9 1530.9L67.7 1530.9" stroke="#222" stroke-width="1" fill="none"/>
<path d="M63.9 1513.7L67.7 1513.7" stroke="#222" stroke-width="1" fill="none"/>
<rect x="114.8" y="1565.9" width="6.4" height="3.4" fill="#fff"/>
<path d="M80 1565.3L465.2 1565.3" stroke="#8a8a8a" stroke-width="0.8" fill="none"/>
<path d="M80 1565.3h20l1-2.2l1 1.2l1-.4l1 .4l1 .6h1l1-.8h1l1 1l1-.2h1l1-.2l1 .2l1-.4l1 .2l1-.2l1-.8l1-4.2l1-12l1 13.8l1 2.8l1 1h1l1-.4l1-.2l1 .4l1-.6l1 1l1-1.6l1 .8l1 .8l1-.2l1-.8l1 .4l1 .2l1-.2l1 .6l1-.4l1-.6l1 .8l1-1.2l1 .8l1-.6l1 .6l1 .6l1-1l1 .4l1 .4l1-.4l1-.8h1l1 1.2l1-.8l1 .8l1-2l1 1.6l1 .4h1l1-.4l1-.2l1 .2h1l1-.8l1-6.2l1 5.8l1 .8h1l1 .2l1 .2l1-24.6l1 24.2h1l1 .8l1 .2l1-.4l1 .4l1-.4l1-.4l1-.4l1-.2l1 .4h1l1 .8l1 .2l1-.2l1-1.2l1-10.4l1 10.4l1 .8l1 .2l1-.2l1 .4l1-.6l1 .4l1-.2l1-.2l1-.4l1 1l1-.8l1 .4l1 .4l1-.6l1 .8l1-.2h1l1 .2l1-.2l1-.6l1 .4h1l1-1.2l1 .8l1-.2l1 .6l1-3.6l1 4l1-1.2l1 .8h1l1-.6h1l1 1l1-.6l1-.4l1 .2l1 .4h1l1 .2l1-.4l1 .2l1-.8l1 .2l1 .6l1-.6l1 .4l1 .4l1-.8l1 .4l1-.6h1l1 .6l1 .6l1-.6l1-.8l1 1l1-.8l1 .6h2l1 .2h1l1-1.2l1 1.2l1-.8l1 1h2l1-.4l1-.2l1 .4l1 .2h1l1-.2h1l1 .2l1-.6l1-.2l1 .6l1-.6l1 .8l1-.2l1 .2h1l1-.8l1 1l1-.2l1-.6l1 .6h1l1-1l1 .6l1-1l1-.4l1 1.8l1 .2l1-1l1 .4l1-.2l1 .4l1-.6l1 .2l1 .8l1-1.6l1 .8l1 .6l1-.2l1-.6l1 .2l1-.6l1 .8l1-.4l1 .2h1l1 .2l1-.4l1-.4l1 1.4l1-.2l1-.4l1 .4l1-.2h1l1-.2h1l1-.4l1 .6l1-.4l1 .6l1-.2h1l1-1.2l1 1.4l1-.4l1-.4l1-1.6l1 1l1 .8l1-.2l1 .8h1l1-1l1 .4l1 .8l1-.8l1 .8l1-1l1 .4l1 .4h2l1-1l1 .4l1-.6l1 1h1l1-.4l1 .6l1-1.6l1-5l1 5l1 1l1 .6h1l1-1l1-.6l1 .8l1-.4l1 1.2l1-.2l1-.4l1 .6l1-.4h1l1 .6l1-.2l1-1.2l1 .8h1l1 .4l1 .2l1-.8h1l1 .4l1-.2h2l1 .4l1-.4l1-.8l1 1.2l1-.6l1 .6l1-1.2l1 .2l1 1.2l1-1.2h1l1 .8l1-.8l1 .8h1l1 .4l1-1.2l1 .8l1-.2l1-.4l1 1l1-.2l1-.6l1 .6l1 .2l1-.4l1-.2l1-.6l1 .2l1 1l1-.4h1l1-.6l1 .2l1 .4l1-1.4l1 1.4l1-.2l1-.4l1 .8l1-.4l1 .6l1-.2l1-1.2l1-.4l1-18.4l1 17.6l1 2.2l1-1l1 .8l1-.2l1 .4l1 .2l1-1l1 1h2l1-.6l1-.2l1 .8l1 .2l1-.4h2l1-.2l1-.8l1 .4l1 .8l1-.2l1-.2l1-.4l1-.6l1 1.6h17V1565.3Z" fill="#00A087"/>
<text x="77.2" y="1524.4" font-size="19.2" textLength="148.2" lengthAdjust="spacingAndGlyphs">repop_ys_sdCAM</text>
<path d="M63.9 1624.5L67.7 1624.5" stroke="#222" stroke-width="1" fill="none"/>
<path d="M63.9 1607.3L67.7 1607.3" stroke="#222" stroke-width="1" fill="none"/>
<path d="M63.9 1590.1L67.7 1590.1" stroke="#222" stroke-width="1" fill="none"/>
<path d="M63.9 1572.9L67.7 1572.9" stroke="#222" stroke-width="1" fill="none"/>
<rect x="114.8" y="1625.1" width="6.4" height="3.4" fill="#fff"/>
<path d="M80 1624.5L465.2 1624.5" stroke="#8a8a8a" stroke-width="0.8" fill="none"/>
<path d="M80 1624.5h18l1-.4l1-1.4l1 1l1-.4l1 1l1 .2h1l1-.8l1 .4l1 .4l1-.2h1l1-.4l1 .4l1-.2h1l1-.2h2l1-2.2l1-6.4l1 6.4l1 2.4h1l1-.4l1 .2l1 .4h2l1-1l1 .4l1 .6h1l1-.8l1 1l1-.6l1 .2l1 .2l1-1l1 .6l1 .2l1-.4h1l1 .4l1 .2l1-.4l1 .6h1l1-.6l1 .6l1-.4l1-.2l1 .4l1-.2h1l1-.4l1 .8h1l1-.2l1-.4l1-.8l1 1.4l1-1.2l1 1l1-.2l1-3.2l1 3l1 .2l1-.2l1 .4h1l1-10l1 9.2l1 .8h1l1-.8l1 .4l1 .6l1-.2l1-.2h1l1-.2l1-.2l1 .4l1 .2l1-.2l1 .2l1-.2l1-4l1 3.6l1 .6h1l1-.2l1-.2l1 .2l1 .2l1-.2l1-.4l1 .6l1-1.4l1 1.4l1-1l1 .8l1-.4l1 .8l1-.4l1-.2l1 .2h3l1 .2l1-.6l1-.2l1 .8l1-.4h1l1 .2l1-.6l1 .6l1 .2l1-.6l1 .4h2l1-.4l1 .6h1l1-.2l1 .4l1-.2l1-.2h1l1-.2l1 .4l1-.2l1 .4l1-.8l1 .2l1 .4l1 .2l1-.2h1l1-.8l1 .2l1 .8l1-.2l1-.4l1 .2h1l1-.2l1 .2l1 .4h1l1-.6l1 .4l1-.6l1 .2h1l1 .2l1 .4l1-.8l1 .4h1l1 .2l1-.4l1 .2l1 .2l1-.2l1 .2l1-1.2l1 .8h1l1-.6l1 1l1-.8l1 .4l1 .6l1-.8l1 .2l1 .6h1l1-.8l1 .2l1 .2h2l1-.6l1 .6h2l1 .2h1l1-.2l1 .2l1-.2l1-.4l1 .2l1 .2l1 .4h1l1-.6l1 .2l1-.2h1l1-.2l1 .8l1-.2h1l1-.2h1l1-.8l1 1l1 .2l1-.6l1-.2l1 .4l1 .2l1-.2l1 .2l1 .2l1-1l1 .6h2l1-.2l1 .4l1-1l1 .4l1 .6h2l1-.4l1 .2l1-.2h2l1 .4l1-.2l1-1.2l1 1.6l1-.2l1-.6h2l1 .4h1l1 .4l1-.6h1l1-8.4l1 8.6l1-.6l1 .6l1-.8l1 1l1-.6l1-.2l1 .2l1 .4l1-.6l1 1l1-.8l1 .6l1 .2h1l1-.6l1 .4h1l1 .2h1l1-.2h2l1-.2l1-.2l1 .4l1-.8l1 .4l1 .2l1 .2h1l1-.4l1 .2l1-.4l1 .8l1-1l1 1l1-.8h1l1 .4h1l1-.8l1 1l1-1l1-.4l1 1.2l1 .4l1-.6l1 .2l1 .2l1-.4l1 .4l1 .2l1-.2l1 .2l1-1l1 .8l1 .2l1-.4l1 .2h1l1-1.6l1 1.8l1-.2l1-.8l1 .4l1 .6l1-1.8l1 1.8l1-.6h1l1-1.4l1-19.6l1 19.2l1 1.2l1 .6l1 .4h1l1 .2l1-1.2l1 .6h1l1 .6l1-.4l1-.6l1 .8l1 .2l1-.8l1-.2l1-.2l1 .8l1 .2l1-.2l1-.2l1 .2h1l1 .4l1-.4h1l1 .4h17V1624.5Z" fill="#3C5488"/>
<text x="77.2" y="1584.3" font-size="19.2" textLength="100.1" lengthAdjust="spacingAndGlyphs">hsc_sdCAM</text>
<path d="M63.9 1684.4L67.7 1684.4" stroke="#222" stroke-width="1" fill="none"/>
<path d="M63.9 1667.2L67.7 1667.2" stroke="#222" stroke-width="1" fill="none"/>
<path d="M63.9 1650L67.7 1650" stroke="#222" stroke-width="1" fill="none"/>
<path d="M63.9 1632.8L67.7 1632.8" stroke="#222" stroke-width="1" fill="none"/>
<rect x="114.8" y="1685" width="6.4" height="3.4" fill="#fff"/>
<path d="M80 1684.4L465.2 1684.4" stroke="#8a8a8a" stroke-width="0.8" fill="none"/>
<path d="M80 1684.4h18l1-.4l1-.2l1 .4l1 .2l1-1l1 .4l1-.2l1 .6h3l1-.2l1 .2l1-.2l1-.4l1 .4l1 .2l1-.2l1 .4l1-2l1-10l1 10l1 1.4l1 .6l1-.4l1 .2l1-.4l1 .2l1 .2h2l1-.2l1-.4l1 .2l1 .4l1-.2l1 .2h1l1 .2l1-.4l1 .2l1-.4l1-.2l1 .4l1 .4l1-.4h1l1-.2l1 .4l1 .2h1l1-.4l1 .2l1-.6l1 .6h1l1-.2l1-.2l1 .4h1l1 .2l1-.4l1-.2l1 .6l1-.2h1l1-.6l1 .4l1 .2l1-.8l1-.4l1-21.2l1 22.2h1l1 .2h1l1-.6l1 .6l1-.4l1 .4l1-.8l1 .4l1 .6l1-.2l1-.8l1 .2l1 .8l1-1.6l1-1.8l1 3h1l1 .4l1-.2l1-.2l1 .4h1l1-1.2l1 .8h4l1 .2l1-.8l1 1l1-1.4l1 1.4l1-.4l1 .2h1l1 .2l1-.2l1-.6l1 .2l1-.2l1 .8l1-1h1l1 .4l1 .6l1-.4l1-.6l1 .6l1-.2l1-.2l1 .4l1 .2h1l1-.2l1 .2l1-.4l1-.2l1 .2l1 .4l1-.2l1-.2l1-.2l1 .8l1-.6l1 .4l1-.2l1-.4h1l1-.2l1 .6l1-.4l1 .2l1 .2l1 .4l1-1l1 .8l1 .2l1-.4l1 .2l1-.2l1-.2l1 .2l1-.4l1 .2l1 .4l1-.4l1 .4l1 .2l1-.4h1l1 .4h1l1-.4l1 .4l1-.8l1-1.4l1 1l1-.2l1 1h1l1-.6l1 1h2l1-.6h1l1-.4l1 1l1-.2h1l1-.6l1 .6l1-.2l1-.2l1 .2l1 .2h1l1-.2l1 .2l1-.2l1-.2h1l1 .2l1-.4l1 .6l1-.2l1 .2h2l1-.2l1 .2l1-.6l1 .4l1-.2l1 .4l1-.8l1 1l1-.2l1-.2l1 .2l1-.4l1 .4h1l1-.6l1 .2l1-.4l1 .6l1 .2l1 .2l1-.2l1-.8l1 .6l1 .2h1l1-.2l1 .4l1-.4l1 .4h1l1-.2l1-.2l1-.2l1 .4l1-2.8l1 3l1-.2l1-.4l1 .2l1 .2l1-1.2l1 1.2l1-1l1 .6l1 .6l1-1.2l1-9l1 8.6l1 1.4l1-.4l1-.2l1 .6l1-.2h1l1-.4l1 .2l1 .2l1-.4l1 .4l1-.4l1 .8l1-.6l1 .4l1 .2l1-.2l1 .2h3l1-.4l1 .4l1-.2l1 .2h1l1-.8l1 .6l1 .2l1-.6l1 .6h1l1-.4l1 .2l1 .2l1-.8l1 .4l1 .2l1-.4l1 .6l1-1l1 .8l1-.6l1 .4l1-.2l1 .2l1 .4l1-.6l1 .2l1 .2h1l1-.2h1l1-.2l1-.4l1 .2l1 .6h1l1-.4l1 .2h2l1 .2l1-.2l1 .2l1-.2l1-.2l1 .4l1-.2h1l1-1.8l1-14.2l1 14.2l1 2.2l1-.2l1-.2l1 .4l1-.2l1 .2l1-.4l1 .2h1l1-.4l1 .4h1l1-.2l1-.2h1l1 .6l1-.6h2l1 .4l1-.2h3l1 .2l1 .2h17V1684.4Z" fill="#91D1C2"/>
<text x="77.2" y="1644.1" font-size="19.2" textLength="100.1" lengthAdjust="spacingAndGlyphs">hom_dCAM</text>
<path d="M63.9 1744.2L67.7 1744.2" stroke="#222" stroke-width="1" fill="none"/>
<path d="M63.9 1727L67.7 1727" stroke="#222" stroke-width="1" fill="none"/>
<path d="M63.9 1709.8L67.7 1709.8" stroke="#222" stroke-width="1" fill="none"/>
<path d="M63.9 1692.6L67.7 1692.6" stroke="#222" stroke-width="1" fill="none"/>
<rect x="114.8" y="1744.8" width="6.4" height="3.4" fill="#fff"/>
<path d="M80 1744.2L465.2 1744.2" stroke="#8a8a8a" stroke-width="0.8" fill="none"/>
<path d="M80 1744.2h19l1-.8l1 .4l1-.4l1 .2l1-.2l1 .4l1 .2h1l1-.2h1l1 .2l1-.2l1 .4l1-.2l1 .2l1-.2h2l1-1.6l1-5.6l1 6.2l1 .8h1l1 .2l1 .2l1-.4h1l1-3.2l1 2.4l1 1l1-.8l1 .6l1 .4l1-.2l1 .2l1-.4l1-.2l1 .6h1l1-.2h2l1-.4l1-.2l1 .4l1-.6l1 1l1-.6h1l1 .2h2l1 .4h1l1-.4l1-.2l1 .2h1l1 .2l1-.2l1-.4l1 .8l1-.6l1 .2h1l1 .4h1l1-.8h1l1 .4l1-10l1 10l1-.2h1l1-.2l1 .8h1l1-.4l1 .2l1-.8l1-.4l1 1.4l1-.8l1 .6l1-.4l1-.2l1 .6l1-.4l1 .4h2l1-.4l1-.2l1 .4h1l1 .2l1-.2l1 .2h1l1-.6h1l1 .8l1-.2l1-.4l1 .4l1-.6h1l1 .4l1 .2l1-.4l1-.4l1 .2l1 .4l1-.4l1-.2l1 .8l1-.2h1l1 .2l1-.4h2l1 .2l1 .2l1 .2h1l1-.6l1 .2h1l1 .2l1-.2l1 .2l1 .2l1-.2l1 .2l1-.2h1l1-.4l1 .2l1 .2l1-.4l1 .4l1 .2l1-.2l1-.4l1 .6l1-1l1 .6l1 .2l1 .2l1-.4l1 .2h1l1 .2l1-.6l1 .4h2l1-.4l1-.2l1 .4l1-.6l1 .2l1 .4l1 .2l1-.6l1 .4l1 .4l1-.2h2l1-1.2l1 1.4l1-.6l1 .4h2l1 .2l1-.4l1 .4l1-.4l1 .2l1 .2h1l1-.6l1 .6l1-.2l1-.2h1l1 .4l1-.2h1l1-.2l1 .2l1-.2l1 .2l1 .2l1-.2l1-.6l1 .6l1 .2l1-.4l1-.6l1 .8l1 .2l1-.6l1-.6l1 .4h1l1 .6h2l1-.4l1 .4h4l1-.8l1 .8l1 .2l1-.2l1-.2l1 .4h1l1-.2l1 .2l1-.4h1l1 .2l1-.4l1 .2l1-.4l1 .4l1 .4l1-.4l1 .4h1l1-1l1 .8l1-.4h1l1 .4l1 .2h1l1-.6l1-.4l1 .6h1l1-4.4l1 4.6h2l1-.4l1 .6l1-.2l1-.6l1 .6h1l1-.2h1l1 .4h1l1-.6l1 .4l1-.6l1 .2l1 .6l1-.2l1-.2l1 .2l1 .2l1-.4h1l1 .2l1 .2l1-.4h1l1 .4l1-.4l1-.4l1 .8l1-.2l1-.6l1 .6h1l1 .2l1-.4l1 .2l1-.2h3l1 .4h1l1-.4l1 .2l1-.2l1 .2l1 .2l1-.4l1-.2l1 .2h1l1 .4h5l1-.2l1-.2h1l1-.2h1l1 .6l1-.2l1 .2l1-.6l1 .2l1 .2l1-.8l1-19l1 19.2l1 .8l1-.2l1-.4l1 .6l1-.4l1 .2l1-.4h1l1 .6l1-.6h1l1 .6l1-.8l1 .4h1l1-.2l1 .2l1 .2l1 .2l1-.2l1-.2l1-.4l1 .8l1-.4l1-.2l1 .6h17V1744.2Z" fill="#4DBBD5"/>
<text x="77.2" y="1703.9" font-size="19.2" textLength="113.5" lengthAdjust="spacingAndGlyphs">repop_dCAM</text>
<path d="M63.9 1804L67.7 1804" stroke="#222" stroke-width="1" fill="none"/>
<path d="M63.9 1786.8L67.7 1786.8" stroke="#222" stroke-width="1" fill="none"/>
<path d="M63.9 1769.6L67.7 1769.6" stroke="#222" stroke-width="1" fill="none"/>
<path d="M63.9 1752.4L67.7 1752.4" stroke="#222" stroke-width="1" fill="none"/>
<rect x="114.8" y="1804.6" width="6.4" height="3.4" fill="#fff"/>
<path d="M80 1804L465.2 1804" stroke="#8a8a8a" stroke-width="0.8" fill="none"/>
<path d="M80 1804h19l1-.2l1-.2l1 .2l1 .2h1l1-.2h2l1-.4l1 .6h1l1-.2l1 .2l1-.6l1 .4l1 .2l1-.2l1 .2l1-.6l1-2.8l1 2.8l1 .4l1-.2l1 .2l1-.4l1 .4l1-.2l1 .4h1l1-.8l1 .6h1l1 .2l1-.2l1-.2l1 .2l1-.4l1 .4l1 .2l1-.2l1 .2l1-.4h1l1 .2l1 .2h4l1-.6l1 .6l1-.2l1-.4l1 .4l1-.4l1 .4h1l1-.2l1 .2l1-.2l1 .4l1-.2h2l1-2.2l1 2.4l1-.2l1-.6l1 .6h1l1-5.6l1 5.4l1 .2l1-.2l1 .4l1-.4l1 .4l1-.6l1 .4h2l1-.2l1 .4l1-.6h1l1 .6h2l1-.2l1-.2l1 .2l1-.2l1 .2l1-.2l1 .2l1 .2l1-.6l1 .4h1l1 .2h1l1-.2h3l1-.4l1 .4h1l1-.2l1 .2l1 .2l1-.2h2l1 .2l1-.2l1 .2l1-.2h1l1 .2l1-.2l1 .2l1-.4l1 .2l1 .2l1-.4l1 .4h1l1-.2l1 .2l1-.4l1 .4h1l1-.4h1l1-.6l1 .8l1 .2l1-.2l1-.2h1l1 .2l1-.2l1 .4l1-.2l1-.2h1l1 .4l1-.4l1 .4l1-.2l1-.2h1l1-.2l1 .4l1 .2l1-.2l1-.2l1 .4l1-.2l1 .2h1l1-.4l1 .2l1-.2h1l1 .2l1 .2l1-.6l1 .6l1-.2h2l1-.2l1 .2h1l1-.2l1 .2h2l1-.2l1 .4l1-.6l1 .4l1-.4l1 .4l1 .2h1l1-.2l1 .2l1-.4h1l1 .4l1-.2h1l1 .2l1-.2l1 .2l1-.2h3l1-.2l1-.4l1 .6h2l1 .2l1-.6l1 .6l1-.2l1 .2l1-.2l1-.2l1 .2h1l1 .2l1-.2l1 .2l1-.2l1-.2l1 .2h1l1 .2h2l1-.2h1l1 .2l1-.2h1l1-.4l1 .2l1 .2h1l1 .2l1-.2l1-.2h1l1 .4h1l1-.2h1l1 .2l1-.4l1 .2l1-.2l1 .4l1-.2l1-1.6l1 1.6l1 .2l1-.2h1l1 .2h1l1-.2h1l1-.4l1 .4l1-.2l1 .4l1-.4h1l1 .4l1-.2l1 .2h1l1-.4l1 .2l1 .2l1-.4l1 .2h1l1 .2l1-.4h1l1 .4l1-.4l1 .4l1-.2l1-.2l1 .2h1l1-.4l1 .2h1l1 .2l1-.4l1 .2l1 .2h1l1 .2l1-.4l1 .2h1l1-.4l1 .4h4l1 .2h1l1-.2l1 .2l1-.4l1 .2l1-.4l1 .4l1 .2l1-.2l1-.4l1 .6l1-.2l1-.2l1 .4h1l1-.4l1 .2l1-.2l1-1l1-12.8l1 12.8l1 1.2l1 .2l1-.4l1 .2l1-.2l1 .2l1-.4l1 .2l1 .2h1l1-.2l1-.2l1 .2l1 .2h1l1-.2l1-.2l1 .2l1 .2l1 .2l1-.2l1 .2l1-.2h1l1 .2h18V1804Z" fill="#F39B7F"/>
<text x="77.2" y="1763.2" font-size="19.2" textLength="91.2" lengthAdjust="spacingAndGlyphs">hsc_dCAM</text>
<path d="M63.9 1863.3L67.7 1863.3" stroke="#222" stroke-width="1" fill="none"/>
<path d="M63.9 1846.1L67.7 1846.1" stroke="#222" stroke-width="1" fill="none"/>
<path d="M63.9 1828.9L67.7 1828.9" stroke="#222" stroke-width="1" fill="none"/>
<path d="M63.9 1811.7L67.7 1811.7" stroke="#222" stroke-width="1" fill="none"/>
<rect x="114.8" y="1863.9" width="6.4" height="3.4" fill="#fff"/>
<path d="M80 1863.3L465.2 1863.3" stroke="#8a8a8a" stroke-width="0.8" fill="none"/>
<path d="M80 1863.3h18l1-.2h1l1-.4l1 .6l1-.2l1-.2l1 .2h2l1 .2l1-.4l1-.2l1 .2h1l1 .4l1-.2h1l1-.2l1 .4l1-.2l1-1.8l1 1.6h1l1 .2l1-.4l1 .4l1 .2l1-.6l1 .6h1l1-.2l1-.8l1 1l1-.2l1-.2l1 .2h1l1-.2l1 .2h1l1-.2l1 .2h2l1-.2l1 .2h1l1 .2l1-.2h1l1-.2l1 .2l1 .2l1-.2h1l1-.2l1 .2l1 .2h1l1-.2l1-.2l1 .2h1l1-.2l1 .4l1-.6l1 .2l1 .2l1-.2l1-.2l1 .2l1-5.4l1 5l1 .6h2l1-.4l1 .2l1-.2l1 .4h1l1-.6l1 .2l1 .6h1l1-.2h1l1-.2l1 .2l1 .2h2l1-.4l1 .4l1-.4l1 .2l1-.4l1 .2l1 .2l1 .2h1l1-.6l1 .4h1l1-.2l1 .4l1-.2l1-.2l1-.2l1 .4h1l1-.4l1 .6l1-.2l1-.4l1 .4l1 .2h1l1-.4l1 .2l1 .2l1-.2h3l1 .2l1-.6l1 .6l1-.2l1-.4l1 .6l1-.2l1-.2l1 .2l1 .2l1-.2h5l1-.2l1 .2h1l1 .2h1l1-.6l1 .6l1-.2h1l1 .2l1-.2h1l1-.2l1 .2l1-.6l1 .6l1 .2l1-.2l1 .2h1l1-.2h3l1 .2l1-.2h2l1 .2l1-1.2l1 1.2h1l1-.2l1 .2h1l1-.2h6l1-.2l1 .2h2l1 .2l1-.2l1-.2l1-.2l1 .2l1 .4h1l1-.4l1 .4h1l1-.4h1l1 .4l1-.2h4l1 .2h1l1-.2l1-1.8l1 1.6l1 .2l1-.2l1 .2h3l1-.2h2l1 .2l1 .2l1-.2l1 .2l1-.4l1 .4l1-.6l1 .6l1-.2h3l1-.4l1 .4h2l1-.4l1 .4l1-.2l1 .2l1-.2l1 .4l1-.2h1l1 .2l1-.4l1 .4l1-.4l1-.2l1 .6l1-.6l1-1.2l1 1.6l1-.4l1 .4h1l1 .2l1-.6l1 .6l1-.2l1-.2l1 .2l1-.2l1 .2l1 .2l1-.2l1 .2l1-.2h1l1-.6l1 .6h1l1-.2h1l1 .4h1l1-.4l1 .2h1l1-.2l1 .2l1-.2l1 .4h1l1-.4h1l1 .4l1-.2l1-.2l1 .2l1-.2h2l1 .4h1l1-.2l1-.6l1 .4l1-.2l1 .2h2l1 .2l1-.4h1l1 .6h1l1-.2l1 .2h1l1-.4l1 .2h2l1-.2l1 .4l1-.4l1 .2h1l1-.4l1 .2l1 .4l1-.2l1-.6l1-7.8l1 7.6l1 .8l1 .2h1l1-.2h1l1 .2l1-.2l1 .2h2l1-.4l1 .2l1-.4h1l1 .2l1 .2l1-.4l1 .6l1-.2l1 .2l1-.2h1l1-.2l1 .2l1 .2h18V1863.3Z" fill="#7E6148"/>
<text x="77.2" y="1823" font-size="19.2" textLength="102.9" lengthAdjust="spacingAndGlyphs">clMonocyte</text>
<text x="4" y="1314.7" font-size="38" textLength="15" lengthAdjust="spacingAndGlyphs" font-weight="bold" stroke="#000" stroke-width="0.9">f</text>
<text x="223.7" y="1327.6" font-size="26" textLength="99" lengthAdjust="spacingAndGlyphs" font-style="italic">Colec12</text>
<text transform="translate(46 1621) rotate(-90)" x="-166.5" y="0" font-size="26" textLength="333" lengthAdjust="spacingAndGlyphs">Normalized signal (0–320)</text>
<path d="M67.7 1873.9L67.7 1920.3" stroke="#222" stroke-width="1.3" fill="none"/>
<text x="76.6" y="1887.9" font-size="19.2" textLength="55.4" lengthAdjust="spacingAndGlyphs">Genes</text>
<path d="M115.8 1902.4L443.4 1902.4" stroke="#00008B" stroke-width="1.3" fill="none"/>
<path d="M115.8 1898.4L115.8 1906.4" stroke="#00008B" stroke-width="1.5" fill="none"/>
<path d="M443.4 1898.4L443.4 1906.4" stroke="#00008B" stroke-width="1.5" fill="none"/>
<path d="M123.1 1899.6l2.6 2.8l-2.6 2.8M131.7 1899.6l2.6 2.8l-2.6 2.8M140.4 1899.6l2.6 2.8l-2.6 2.8M149 1899.6l2.6 2.8l-2.6 2.8M157.6 1899.6l2.6 2.8l-2.6 2.8M166.2 1899.6l2.6 2.8l-2.6 2.8M174.8 1899.6l2.6 2.8l-2.6 2.8M183.5 1899.6l2.6 2.8l-2.6 2.8M192.1 1899.6l2.6 2.8l-2.6 2.8M200.7 1899.6l2.6 2.8l-2.6 2.8M209.3 1899.6l2.6 2.8l-2.6 2.8M218 1899.6l2.6 2.8l-2.6 2.8M226.6 1899.6l2.6 2.8l-2.6 2.8M235.2 1899.6l2.6 2.8l-2.6 2.8M243.8 1899.6l2.6 2.8l-2.6 2.8M252.4 1899.6l2.6 2.8l-2.6 2.8M261.1 1899.6l2.6 2.8l-2.6 2.8M269.7 1899.6l2.6 2.8l-2.6 2.8M278.3 1899.6l2.6 2.8l-2.6 2.8M286.9 1899.6l2.6 2.8l-2.6 2.8M295.5 1899.6l2.6 2.8l-2.6 2.8M304.2 1899.6l2.6 2.8l-2.6 2.8M312.8 1899.6l2.6 2.8l-2.6 2.8M321.4 1899.6l2.6 2.8l-2.6 2.8M330 1899.6l2.6 2.8l-2.6 2.8M338.6 1899.6l2.6 2.8l-2.6 2.8M347.3 1899.6l2.6 2.8l-2.6 2.8M355.9 1899.6l2.6 2.8l-2.6 2.8M364.5 1899.6l2.6 2.8l-2.6 2.8M373.1 1899.6l2.6 2.8l-2.6 2.8M381.8 1899.6l2.6 2.8l-2.6 2.8M390.4 1899.6l2.6 2.8l-2.6 2.8M399 1899.6l2.6 2.8l-2.6 2.8M407.6 1899.6l2.6 2.8l-2.6 2.8M416.2 1899.6l2.6 2.8l-2.6 2.8M424.9 1899.6l2.6 2.8l-2.6 2.8M433.5 1899.6l2.6 2.8l-2.6 2.8" stroke="#00008B" stroke-width="1" fill="none"/>
<rect x="386" y="1898.9" width="3" height="7" fill="#00008B"/>
<rect x="406" y="1898.9" width="2" height="7" fill="#00008B"/>
<rect x="410" y="1898.9" width="1.5" height="7" fill="#00008B"/>
<rect x="370" y="1898.9" width="1" height="7" fill="#00008B"/>
<text x="272.9" y="1890.7" font-size="19.2" textLength="68.2" lengthAdjust="spacingAndGlyphs" font-style="italic">Colec12</text>
<path d="M152.5 1906.5l2.5 3.5l-2.5 3.500M154.5 1906.5v7" stroke="#1a7a1a" stroke-width="1.6" fill="none"/>
<text x="123" y="1929.8" font-size="19.2" textLength="82.8" lengthAdjust="spacingAndGlyphs" font-style="italic">Gm17430</text>
<path d="M67.7 1932.6L67.7 1963.4" stroke="#222" stroke-width="1.3" fill="none"/>
<text x="79.4" y="1943.8" font-size="19.2" textLength="49.2" lengthAdjust="spacingAndGlyphs">Peaks</text>
<path d="M118 1946.6L118 1953.3" stroke="#666" stroke-width="4.4" fill="none"/>
<path d="M126.4 1946.6L126.4 1953.3" stroke="#666" stroke-width="1" fill="none"/>
<path d="M147.1 1946.6L147.1 1953.3" stroke="#666" stroke-width="1" fill="none"/>
<path d="M162.7 1946.6L162.7 1953.3" stroke="#666" stroke-width="1" fill="none"/>
<path d="M166.1 1946.6L166.1 1953.3" stroke="#666" stroke-width="1" fill="none"/>
<path d="M169.4 1946.6L169.4 1953.3" stroke="#666" stroke-width="1.2" fill="none"/>
<path d="M186.2 1946.6L186.2 1953.3" stroke="#666" stroke-width="1.2" fill="none"/>
<path d="M206.9 1946.6L206.9 1953.3" stroke="#666" stroke-width="1" fill="none"/>
<path d="M214.2 1946.6L214.2 1953.3" stroke="#666" stroke-width="1" fill="none"/>
<path d="M232.1 1946.6L232.1 1953.3" stroke="#666" stroke-width="1" fill="none"/>
<path d="M269 1946.6L269 1953.3" stroke="#666" stroke-width="1" fill="none"/>
<path d="M279 1946.6L279 1953.3" stroke="#666" stroke-width="1" fill="none"/>
<path d="M306.4 1946.6L306.4 1953.3" stroke="#666" stroke-width="1" fill="none"/>
<path d="M322.1 1946.6L322.1 1953.3" stroke="#666" stroke-width="1" fill="none"/>
<path d="M336.1 1946.6L336.1 1953.3" stroke="#666" stroke-width="1.2" fill="none"/>
<path d="M347.8 1946.6L347.8 1953.3" stroke="#666" stroke-width="2" fill="none"/>
<path d="M373.5 1946.6L373.5 1953.3" stroke="#666" stroke-width="1.2" fill="none"/>
<path d="M399.8 1946.6L399.8 1953.3" stroke="#666" stroke-width="1.2" fill="none"/>
<path d="M421.1 1946.6L421.1 1953.3" stroke="#666" stroke-width="1.5" fill="none"/>
<path d="M80 1963.4L465.2 1963.4" stroke="#222" stroke-width="1.3" fill="none"/>
<path d="M102.3 1963.4L102.3 1969" stroke="#222" stroke-width="1.3" fill="none"/>
<text x="82.7" y="1995.8" font-size="23.4" textLength="39.3" lengthAdjust="spacingAndGlyphs">970</text>
<path d="M198.5 1963.4L198.5 1969" stroke="#222" stroke-width="1.3" fill="none"/>
<text x="178.8" y="1995.8" font-size="23.4" textLength="39.3" lengthAdjust="spacingAndGlyphs">975</text>
<path d="M294.1 1963.4L294.1 1969" stroke="#222" stroke-width="1.3" fill="none"/>
<text x="274.5" y="1995.8" font-size="23.4" textLength="39.3" lengthAdjust="spacingAndGlyphs">980</text>
<path d="M390.3 1963.4L390.3 1969" stroke="#222" stroke-width="1.3" fill="none"/>
<text x="370.7" y="1995.8" font-size="23.4" textLength="39.3" lengthAdjust="spacingAndGlyphs">985</text>
<text x="153.8" y="2038.9" font-size="26" textLength="237.6" lengthAdjust="spacingAndGlyphs">Chr18 position (kb)</text>
<defs><linearGradient id="gr1" x1="0" y1="0" x2="0" y2="1"><stop offset="0" stop-color="#C1272D"/><stop offset="1" stop-color="#FBDADA"/></linearGradient><linearGradient id="gr2" x1="0" y1="0" x2="0" y2="1"><stop offset="0" stop-color="#FCE3E3"/><stop offset="1" stop-color="#C1272D"/></linearGradient></defs>
<path d="M470.3 1441.7H498.8V1455L485.3 1801.2H483.7L470.3 1455Z" fill="url(#gr1)"/>
<path d="M549.7 1328.7L549.7 1865.3" stroke="#222" stroke-width="1.3" fill="none"/>
<rect x="732.5" y="1331.7" width="28.6" height="531.6" fill="#e2e2e2"/>
<path d="M545.9 1385.8L549.7 1385.8" stroke="#222" stroke-width="1" fill="none"/>
<path d="M545.9 1368L549.7 1368" stroke="#222" stroke-width="1" fill="none"/>
<path d="M545.9 1350.2L549.7 1350.2" stroke="#222" stroke-width="1" fill="none"/>
<path d="M545.9 1332.4L549.7 1332.4" stroke="#222" stroke-width="1" fill="none"/>
<rect x="731.5" y="1386.4" width="30.6" height="3.4" fill="#fff"/>
<path d="M563.1 1385.8L946.7 1385.8" stroke="#8a8a8a" stroke-width="0.8" fill="none"/>
<path d="M563.1 1385.8h19l1-.4h1l1 .4l1-.2l1-.2l1 .2l1 .2l1-.4l1 .4l1-.2h2l1-.2l1 .2l1-.4l1 .4l1 .2h1l1-.4l1 .2l1 .2l1-.4h1l1 .4h1l1-.2l1-.2h1l1 .2h4l1 .2l1-.2l1-.2h2l1 .4h1l1-.2l1-.2h3l1 .2l1-.2l1 .2h2l1 .2l1-.2l1 .2l1-.2l1 .2l1-.2h1l1-.4l1-.2l1 .4l1 .2h1l1 .2h1l1-1l1 .8l1-.2l1-.4l1 .6l1-.6l1 .4l1 .2h1l1 .2l1-.2h3l1-.2h2l1 .2h4l1 .2l1-.2l1-.6l1 .6l1-.2l1 .2l1 .2l1-.2l1-.4l1 .4h1l1-.2l1 .4h1l1-.4h1l1 .2l1-.2l1 .2l1 .2h1l1-.2l1 .2l1-.4h1l1 .2l1-.2l1 .2l1 .2h1l1-.2h2l1-.2h2l1-.2l1 .2h1l1 .2h2l1 .2l1-.2h1l1-.2l1 .2l1 .2l1-.4l1 .4h1l1-.2h4l1-.4l1 .6h1l1-.4l1 .2h3l1 .2l1-.2l1-.2l1 .2h1l1-.2l1 .2l1-.2l1 .4l1-.2h1l1 .2h1l1-.4h2l1 .2l1 .2l1-.6l1 .4h2l1 .2h1l1-.4l1 .4l1-.2l1-.2l1-.2l1 .6l1-.6l1 .6l1-.2h1l1-.2l1 .4l1-.4l1 .2h4l1 .2h1l1-.6l1 .4l1-.2l1 .4l1-.2h1l1-.4h1l1 .6l1-.4l1 .2l1 .2h2l1-.2l1 .2l1-.2h2l1-.2l1 .2l1 .2l1-.2l1-.4l1 .2l1 .4l1-.2l1-.4l1 .4h6l1 .2l1-.2h1l1 .2l1-.2l1 .2l1-.4l1 .2l1-.2l1 .2l1-.2l1-.2l1 .4h2l1-.2l1 .2h2l1 .2l1-.2l1 .2l1-.2h1l1-.2l1-.2l1 .6h1l1-.4h1l1 .2l1 .2l1-.2h2l1-.2l1 .2l1 .2l1-1l1 .8h1l1 .2l1-.2l1 .2l1-.4l1 .2l1 .2l1-.2l1 .2h2l1-.8l1 .6l1-1l1-4.4l1-5.8l1 5l1 4.8l1-.6l1-1.6l1-1.2l1-1.2l1 1.2l1 1.4l1 1.6l1 1.2l1 .6l1-.2l1 .4h1l1-.2l1-.2l1-.8h1l1-1.2l1-1.8l1-1.6l1-2.8l1-6.4l1-14.2l1-9.4l1 11.4l1 15.6l1 7l1 2.2l1 .6l1 1l1 .4h1l1 .2h1l1 .2h1l1-.2l1-.4l1 .2l1 .2l1 .2l1-.2h4l1-.4l1 .4l1-.2l1 .4l1-.4h1l1 .4l1-.2l1-.4l1 .4h1l1-.4h1l1 .2l1 .4h18V1385.8Z" fill="#8491B4"/>
<path d="M545.9 1445.6L549.7 1445.6" stroke="#222" stroke-width="1" fill="none"/>
<path d="M545.9 1427.8L549.7 1427.8" stroke="#222" stroke-width="1" fill="none"/>
<path d="M545.9 1410L549.7 1410" stroke="#222" stroke-width="1" fill="none"/>
<path d="M545.9 1392.2L549.7 1392.2" stroke="#222" stroke-width="1" fill="none"/>
<rect x="731.5" y="1446.2" width="30.6" height="3.4" fill="#fff"/>
<path d="M563.1 1445.6L946.7 1445.6" stroke="#8a8a8a" stroke-width="0.8" fill="none"/>
<path d="M563.1 1445.6h20l1-1l1 .8l1 .2l1-.4l1 .2h3l1-.2l1 .4l1-.4l1 .4l1-.2l1-.2h3l1 .2l1-.2l1 .2h3l1-.6l1 .4l1 .2h1l1-.2h1l1 .2h1l1 .2l1-.6h1l1 .2l1 .2l1 .2h1l1-.4l1 .2h1l1 .2l1-.4h1l1 .2h2l1-.8l1 .6l1 .4l1-.2h3l1-.2l1-1l1 1.2l1 .2l1-.4l1-.2l1 .2l1 .4h1l1-.2l1-.2l1 .2l1-.2l1 .4l1-.2h1l1 .2l1-.2l1 .2l1-.4l1 .2h1l1-.2h3l1-.2l1 .4l1 .2l1-.2l1-.2h2l1 .2h1l1-.4l1 .4h1l1 .2l1-.2h4l1-.2h1l1 .4l1-.2l1-.2h1l1 .4l1-.2h2l1-.2h1l1 .2h1l1-.2l1-.6l1 .8h1l1 .2h1l1-.2l1-.2h2l1 .2l1-.8l1 .6h1l1-.4l1 .6l1-.4l1 .4h2l1-.2l1-.4l1 .6h2l1-.2l1 .2l1-.2l1 .4h1l1-.8l1 .6l1-.4l1 .6l1-.6l1-.2l1 .2l1 .2h2l1 .2l1-.4l1 .6l1-.2l1 .2l1-.2h3l1-.2l1 .2h1l1-.2h1l1 .2h1l1-.2l1-.2l1 .4l1-.2l1 .2l1 .2l1-1h1l1 1l1-.2l1-.2l1 .2l1-.2l1 .4h1l1-.2l1-.2l1 .4l1-.2l1 .2l1-.4l1-.2l1 .4l1-.6l1 .8l1-.2l1-.4h1l1 .2h1l1 .4l1-.2h2l1-.2l1 .4l1-.4h3l1-.2l1 .4l1 .2l1-.8l1 .4l1 .2h3l1-.2l1 .2l1-.2h4l1-.2l1 .4l1-.4l1 .4l1-.4l1 .4h2l1-.4l1 .6l1-.2l1 .2l1-.6l1 .6h1l1-.2h1l1-.2h1l1 .2l1-.2l1 .2l1 .2l1-.4l1 .2l1-.4l1 .4h2l1-.2l1-.4l1-.2l1 .6l1-.4l1 .6h1l1-.4h1l1 .4h1l1 .2l1-.4l1 .4l1-.4h1l1 .2l1-.4l1 .4h1l1 .2l1-.8l1 .6l1-.2l1 .2l1-.4l1 .6l1-.8h1l1-3.4l1-4.4l1 3.8l1 3.2h1l1-1l1-1l1-.8l1 .2l1 1.4l1 1.2l1 1l1 .4l1-.4l1 .2l1 .4l1-.4l1-.2h1l1-1l1-1.2l1-1.6l1-2l1-3.2l1-6.8l1-15.2l1-10.6l1 13l1 17l1 7l1 2.8l1 .4l1 1.2l1 .4l1-.2l1-.4l1 1l1-.6l1 .6h2l1-.4l1 .2l1-.2h1l1 .2l1-.4l1 .2l1-.2l1 .4l1 .2l1-.2l1 .2l1-.2l1-.2l1 .2h1l1 .2l1-.2l1-.4l1 .6l1-.4l1 .2l1-.2h1l1 .4h16V1445.6Z" fill="#E64B35"/>
<path d="M545.9 1505.4L549.7 1505.4" stroke="#222" stroke-width="1" fill="none"/>
<path d="M545.9 1487.6L549.7 1487.6" stroke="#222" stroke-width="1" fill="none"/>
<path d="M545.9 1469.8L549.7 1469.8" stroke="#222" stroke-width="1" fill="none"/>
<path d="M545.9 1452L549.7 1452" stroke="#222" stroke-width="1" fill="none"/>
<rect x="731.5" y="1506" width="30.6" height="3.4" fill="#fff"/>
<path d="M563.1 1505.4L946.7 1505.4" stroke="#8a8a8a" stroke-width="0.8" fill="none"/>
<path d="M563.1 1505.4h19l1-.4l1 .2h1l1-.4l1 .4l1-.2l1-.6l1 .6l1 .4l1-.2l1 .2l1-.2l1-.4l1 .2l1 .2l1-.4l1 .2l1 .4l1-1l1 .4h2l1-.8l1 1.2h1l1-.2l1-1.2l1 .6l1 .6h1l1 .4l1-.4l1-.2l1 .4l1-1.6l1 .8l1 1l1-.6l1 .2l1-.4l1 .6l1-.4l1 .6l1-.6l1-.2l1 .2l1-.4l1-.2l1 .4l1 .4l1-.2l1 .2l1 .2l1-.4l1 .2l1 .4l1-.4h1l1-.4l1-.4h1l1 .2l1 .2l1-.8l1 1.2l1-.6l1 1l1-.4l1-.4l1 .6l1-1.6l1 1.6l1-.8l1 .2l1 .4l1 .2h1l1-.4l1-.2l1 .8l1-1l1 .4l1 .2h1l1-1l1 .2l1 1l1-.2l1-1l1 1l1-.2l1 .2l1-.4l1 .4h1l1 .2h1l1-.2l1-1l1 1l1-.4l1-1.2l1 2l1-.4h1l1 .2h1l1 .2l1-1l1 .8h2l1-.4h2l1 .4l1-.2l1 .4l1-.8l1 .2l1 .4l1-.8l1 1l1-.8l1 .4h1l1 .4l1-.2l1 .2l1-.8l1-.8l1 1.2l1 .2l1-.2l1 .2h2l1-1.4l1 1.4h2l1-.4h2l1-.6l1 .2l1 .4l1 .2l1-1.2l1 .8l1-.6l1 .4h3l1-.2l1 .2l1-.6l1 .2h1l1-.2l1-.4l1-.8l1 1.2l1 .4l1-.2l1-.4h1l1-1l1 .8l1 .6l1 .4l1-.6l1-.2l1 .4l1-.6l1 1.4l1-.2l1-.2l1 .2l1 .2l1-.4l1 .4h1l1-.2l1 .6l1-.8h1l1 .6l1-.6l1 .4h2l1 .2l1-.6l1 .8l1-.4l1-.8l1 1.2l1-.4l1-.4h1l1 1l1-1.4l1 1l1 .4h1l1-1l1 .8l1-.8l1 .8l1-.6l1 .6l1-1.8l1 1.2l1-.6l1 .6h1l1 .6l1 .2l1-1l1 .8l1-.8l1 .8l1-.2h1l1 .2l1-1.4l1 1.2l1 .2h1l1-.6l1-.4l1 1.2h1l1-1.6l1 1h1l1 .2l1 .4l1-.4l1-.6l1 .8l1-.6l1 .6h1l1-.4l1 .2l1-.4l1 .4l1 .2l1-.2h1l1 .4l1-1l1 .8h2l1-.4l1-1l1 .8l1 .8l1-.4l1 .4l1-.8l1 .4l1-.4l1 .6l1 .2l1-1.6l1 .8l1 .2l1 .4l1 .2l1-.4l1 .4l1-.6h1l1-1.4l1 .2l1 .6l1 1.2l1-1l1-4l1-6l1 5.2l1 4l1-.2l1-1.2l1-2.4l1 .4l1-.2l1 1.4l1 2l1 .8l1 .8h3l1 .4l1-.4l1-.4l1-.8l1-.8l1-1l1-1.8l1-2.2l1-5.6l1-12.4l1-7.4l1 10l1 12.8l1 5.8l1 1l1 2l1 .4l1 .4h1l1-.2l1-1l1 .4l1 1l1 .2l1-1.6l1 .8l1 .4l1 .2h1l1-.6l1 .4l1-.4l1 .2l1 .4l1-.2l1-1.4l1 1l1-.4l1 1l1 .2l1-.6l1-.8l1 .8l1-.2l1 .2l1 .2l1 .2l1-.2l1 .2l1 .2h16V1505.4Z" fill="#DC0000"/>
<path d="M545.9 1565.3L549.7 1565.3" stroke="#222" stroke-width="1" fill="none"/>
<path d="M545.9 1547.5L549.7 1547.5" stroke="#222" stroke-width="1" fill="none"/>
<path d="M545.9 1529.7L549.7 1529.7" stroke="#222" stroke-width="1" fill="none"/>
<path d="M545.9 1511.9L549.7 1511.9" stroke="#222" stroke-width="1" fill="none"/>
<rect x="731.5" y="1565.9" width="30.6" height="3.4" fill="#fff"/>
<path d="M563.1 1565.3L946.7 1565.3" stroke="#8a8a8a" stroke-width="0.8" fill="none"/>
<path d="M563.1 1565.3h19l1-.6h1l1-.8l1-.6l1 1.2l1 .6l1-.8l1 .2h2l1 .4h1l1-.2l1-.4l1 .2h1l1-.6l1 .2h1l1 .4l1 .6h1l1-1.8l1 1.6l1-1.2l1 .4l1-.4l1 .4l1 .6l1-.2l1-.4h1l1 .6l1-1.4l1 1.4l1-.4h2l1 .4l1-.4l1-.6l1 1.4h1l1-1l1 .2l1-.2l1 .8l1-1.2l1 1.4l1-1.4l1 .8l1 .4l1-.8l1-.2l1-.4l1 1.2h1l1-.4h1l1-.4l1 .8l1-.6l1 1l1-.2l1-1.8l1-.4l1 2l1-.2l1-1l1 1.4l1-.2l1 .2l1-.2l1-.6l1 .4l1-.2l1-.8l1 .6l1 .4h1l1 .2h1l1-.2l1-.8l1-.4l1 .6l1 .2l1-.4l1 .8h2l1-1.2l1 .6h1l1-.4l1 1h1l1 .2l1-1.4l1 1.4l1-.4l1-1.2l1 .6l1-1.2l1 1.8l1-1.4l1 1.6h1l1 .2l1-.6l1 .6l1-.2l1-1.4l1 1l1 .6l1-.2l1-.8l1-.4l1 1l1-.6l1-.6l1 1l1-.6l1 1.2l1-1l1 .6l1-1l1 1h1l1 .4l1-.6l1 .2l1-.6l1 .2l1 .2h2l1 .4l1-1l1 .6l1-.8l1 .4h1l1 .8l1-.2l1-.8l1-.8l1 .8l1 1l1-1l1-.4l1-1l1 1.6l1 .6l1-1.4l1 .4l1 .8l1-.8l1-.2l1 1.2l1-1.4l1 .2l1-.4l1 1.4l1-.6l1-.4l1 .8l1-.4h1l1 .2h1l1 .4l1-.6l1 .4l1-1.2l1 .6l1 .6l1-.6h1l1-1.4l1 .2l1 2l1-1l1-1l1 1.8l1-.6l1 .4l1-1.6l1 .8l1-.4l1 1.6l1-.8l1 .6l1-1.2l1-.4l1 .2l1-.2l1 1.4l1 .6l1-.4l1-.4h1l1-.6l1 .8l1 .2l1-.4l1-.6l1 .4l1-.6l1 .2l1 .8l1 .4l1-.4l1 .4l1-.4l1-.4l1 .2l1-1.6l1 .8l1 .6h1l1-.2l1 .6l1 .4l1-.8l1 .6l1-.8l1-.2l1 1h2l1-.2l1-.2l1-.2l1 .2l1 .4l1-1.8l1 1.6h1l1 .4l1-.6l1 .2l1-.2l1 .6l1-.6l1-.2h1l1 .8l1-.4l1-1.8l1 2.4l1-.2l1-.6l1-.8l1 .2l1 1l1 .4l1-1.4l1 1.4h1l1-.6l1-1.8l1 2.4l1-1l1 1.2l1-.2l1-1.6l1 1.6h1l1-2.2l1 1.2l1-1.8l1-2.4l1 2l1-1l1 1.4l1 .8l1 1.2h1l1-1.4l1 .8l1 1l1-1l1-5l1-5.8l1 4.8l1 5.8l1-2h1l1-2l1-2.2l1 1.8l1 2.8l1 .2l1 2l1-4l1-.4l1 1.4l1 3.2l1-.4l1 1l1-.6l1-.2l1-1.8l1-1.2l1-2.8l1-2.4l1-6.8l1-15.8l1-11.6l1 13.8l1 16.6l1 8.4l1 1.6l1 2.2l1 .2l1 .8l1 .2l1-.8l1 .2l1 .2l1 .2l1 .2l1-.2l1-.4l1 .6l1-1.6l1 1.2l1 .2l1 .2l1-.4l1 .4l1 .4l1-.2l1-1.6l1 .8l1 .8l1 .2l1-.2h1l1-.2l1 .2l1-1l1 .6h1l1-.6l1-.4l1 1.6h5l1 .2l1-.2h1l1 .2h4l1-.2l1 .2l1-.2l1 .2V1565.3Z" fill="#00A087"/>
<path d="M545.9 1624.5L549.7 1624.5" stroke="#222" stroke-width="1" fill="none"/>
<path d="M545.9 1606.7L549.7 1606.7" stroke="#222" stroke-width="1" fill="none"/>
<path d="M545.9 1588.9L549.7 1588.9" stroke="#222" stroke-width="1" fill="none"/>
<path d="M545.9 1571.1L549.7 1571.1" stroke="#222" stroke-width="1" fill="none"/>
<rect x="731.5" y="1625.1" width="30.6" height="3.4" fill="#fff"/>
<path d="M563.1 1624.5L946.7 1624.5" stroke="#8a8a8a" stroke-width="0.8" fill="none"/>
<path d="M563.1 1624.5h19l1-1.6l1 .8l1 .6l1-.6l1 .6l1-.2l1 .2h1l1-.6l1 .8l1-2.2l1 1.8l1-.4l1-.2l1-.8l1 .6l1-.6h1l1 1.8l1-.4l1-.4l1-.6l1 .6l1-.2l1-.4l1 1.2h2l1-.2l1-.6l1 .8l1-.4l1 .2l1-.2h1l1-.8l1 1l1-.2l1-.6l1 .6h1l1 .6h1l1-.8h1l1 .6l1-.2l1-2.4l1 1.4l1 1.4l1-.8l1 .6l1-.6l1-.6l1-.8l1 1.6l1-.2l1-1.6l1 1l1 1.4h1l1-2.2l1 .8l1 1h1l1-1.2l1 .8l1-.2l1 .4l1-1.4l1 1.4h1l1-.2l1 .4l1-.4h1l1 .2h2l1 .4l1-1l1 1.2l1-1l1-1l1 .6l1 1l1 .2l1-.6l1 .2h1l1-.6l1 .8l1 .2h2l1-1.6l1 1.2l1 .2l1-1.4l1 1.4l1-1.8l1 1.6l1-1.2l1 .8l1-.2l1-.2l1 .8l1 .2l1-.4l1 .6l1-.4l1-.4l1 .2l1 .2l1-.4l1 .4l1-1l1-.4h1l1 1l1 .6l1-1.6l1 1.6l1-1.8l1 1.6h1l1-.4l1-.2l1 .2l1-.6l1 1h2l1-.4h1l1-.2l1 .2l1-1l1-.2l1 .4l1 .8h1l1-.4l1-.8l1-.2l1-.6l1 1l1 .2l1 .2h1l1-2.6l1 1.6l1 .2l1-.8l1-.4l1 .6l1-.8h1l1 .4l1 .2l1 .2l1-.4l1-1l1 1.2l1-1.2l1-.2l1 1l1-.2l1-.6h1l1 1.2l1-.4l1 .2l1 .6l1 .2l1-1h1l1-.2l1 1l1-.4l1 .8l1-.4l1-1.4l1 .8l1 1.8l1-1.2l1 .4l1-.2l1 .4l1 .6l1-.4l1 .2l1-.8l1 .4l1 .6l1-.6l1-1.4l1 2l1-.4l1-.8l1 1.2l1 .2l1-.8l1 .8l1-.6h1l1-2.2l1 2.2l1-.4l1 .8l1-.8l1 .2l1-.4l1-.2l1 1.4l1-.6h2l1 .6l1-.4l1-.8l1 .2l1 .4l1-.4l1-.2l1 1.2l1-1.2l1 .4l1 .8l1-.8l1 .6l1-.2l1-.4l1-.8l1 1.4l1-.8h1l1 .4l1 .4h1l1-.8l1 1l1-.4l1 .4l1-.8l1-.2l1-.2l1 1.2l1-.8l1 .6l1-1.8l1 .4l1 1.2l1-.4l1-.6l1 1.4l1 .2l1-.4l1-1.8l1 .2l1 .8l1 .8l1 .6l1-.8l1 .4l1-.2l1-.6l1 .2l1 .4l1-1.8l1 .6l1-2.4h1l1-1.2l1 .8l1 1.6l1 .2l1 2l1 .4l1-.4l1 .4l1 .2l1-2.4l1-3l1-6.4l1 4.4l1 5.4l1 .2l1-2.4l1-.8l1-.4l1 .8l1 .8l1 1.8l1 .2l1-1.4l1-1.6l1-.4l1 4.2l1 .8h1l1-1.4l1 .6l1-1.2l1-1.8l1-2l1-2.8l1-6.4l1-14.4l1-10.6l1 12.6l1 15.8l1 7.8l1 1.4l1 1.4l1 1.2h2l1-.8l1 1.4l1 .2l1-.2h1l1-1.2l1 .8l1-.4l1 .4l1-.2h1l1-.2l1 1l1-.8l1-.4l1 .4l1 .6l1-.6l1-.8l1 1.4l1 .2l1-.2l1-1.6l1 1.6l1 .4l1-.8h1l1 .4l1-.4l1 .8h11l1 .2l1-.2h1l1 .2l1-.2l1 .2V1624.5Z" fill="#3C5488"/>
<path d="M545.9 1684.4L549.7 1684.4" stroke="#222" stroke-width="1" fill="none"/>
<path d="M545.9 1666.6L549.7 1666.6" stroke="#222" stroke-width="1" fill="none"/>
<path d="M545.9 1648.8L549.7 1648.8" stroke="#222" stroke-width="1" fill="none"/>
<path d="M545.9 1631L549.7 1631" stroke="#222" stroke-width="1" fill="none"/>
<rect x="731.5" y="1685" width="30.6" height="3.4" fill="#fff"/>
<path d="M563.1 1684.4L946.7 1684.4" stroke="#8a8a8a" stroke-width="0.8" fill="none"/>
<path d="M563.1 1684.4l1-.4h4l1-.2h3l1 .2l1-.2h3l1-.2h1l1 .2h1l1-.2l1-.2h1l1-1.2l1 .2l1 .8l1-1.4l1 1.2l1-.4l1-1l1 .4l1 .6l1 .8l1-.4h1l1-.6l1-.8l1 1.6l1-1.2l1 .4l1 .4l1-.6l1-.6l1 .6h1l1-.2l1-1.2l1 .4l1 1.2l1-1l1 1h1l1-.2l1-.8l1-.4l1 1.4l1-.8l1-.6l1-1l1 2.2l1-2.2l1 1.2l1-.2l1-.2l1-.6l1 2h1l1-.6h1l1-1.4l1 .6l1 1h2l1-.6l1 .8l1-1l1 1.2l1-2.6l1 1.4l1-.4l1 1.4l1-1.6l1-.6l1 2.2l1-.6l1-.8l1 .6l1-.8l1 .8l1-.4h1l1 .8l1 .2l1-.2l1-1.2l1 2l1-2l1 .2l1 .4l1 1.2l1-1l1 .6l1-.6l1-1.2l1 1.8l1-1.4l1 1.8l1-2.2l1 2.2l1-1.6l1 .8h1l1 1.4h1l1-2.2l1 1.4l1-.4l1 .8l1-1.2l1 .4h1l1 1l1-.6l1 .6l1-.8h1l1-.4l1 .2l1-.6l1-.2l1-1.6h1l1-.2h1l1-.4l1-.6l1-.6l1-1.2l1 1.6l1-1.4l1 2l1-1l1-.2l1-.6l1 .4h1l1 3l1-1.6l1 1.8l1 .2l1-.6l1 1h1l1-.2h1l1 .4l1 .6l1 .2l1-1.8l1 1h1l1-.4l1-2.4l1 2l1-2.2l1-.8l1 1.6l1-1.4l1 .4l1 1.2l1-.6l1-1.4l1 .2l1-1.2h1l1-1.2l1 2.8l1-3h1l1 .2l1-.4l1 1.6l1-1.4l1 .4l1 .4l1-1.6l1-1.4l1 .8l1 .4l1-1.8l1 3l1 1l1 1l1-1l1-1l1-.2l1 1.8l1 1.4l1-1l1 .4l1-.4l1 2.4l1-1l1 1.2l1-.4l1 .6l1-1.6l1 1.4l1 .4h1l1-1.4l1 2l1-.8l1 2l1-.2l1-1.6l1 1.8l1 .2l1-.8l1 .6l1 .6l1-.6l1 .2l1-.2l1-.6l1 .8l1-.4l1-1.6l1-.4l1 .8l1 1.8l1-1.8l1 .2l1 1l1-1.4l1 .4h1l1 1.2l1-.2h1l1-.6l1 .8l1-2.4l1 1.8l1-2l1 1.6l1-.6l1 .2l1 1.2l1-.8l1-.6l1 1.8l1-.8l1-.6l1-.2l1-1l1-.2l1 1.2l1 .4l1 .2l1-.8l1-.2l1 .4l1-.2l1-.8l1 1l1-.2l1 .2l1-1l1 1h1l1 .8l1-1l1-.2l1 1.6l1-1.4h1l1 1.2l1 .2l1-.8l1-.4l1 .2l1-1l1 1.6l1 .4l1-2l1 .2l1 .8l1-.8l1 2l1-.6l1-.2l1-.4l1 1h1l1 .8l1-1l1 .8l1-1.6l1 .6l1-.2l1-1.2l1-.8l1-5.6l1-5.8l1 6.6l1 6l1-.6l1-1.4l1-1.4l1-1.4l1 .2l1 2.4l1 2.6l1 .4l1-.6l1 1.6l1 1l1-.4l1-.4l1-.8l1 .2l1-2l1 .8l1-4.4l1-.6l1-4.4l1-7.2l1-18.2l1-14l1 16.4l1 20.6l1 9l1 3l1-.4l1 2.4l1 .6l1 .2h2l1 .2l1-.4l1 .2l1-.4l1-1.8l1 1.2l1-2l1 3.6l1-1.4l1 1.4l1-.4l1-.6l1 .8l1-1l1 1l1-.4l1-.2l1 .2l1 .6l1-1.8l1 1.8l1-1.4l1 1.2l1-1.8l1 2h1l1-2l1 2l1 .4h8l1 .2h1l1-.2l1 .2h4V1684.4Z" fill="#91D1C2"/>
<path d="M545.9 1744.2L549.7 1744.2" stroke="#222" stroke-width="1" fill="none"/>
<path d="M545.9 1726.4L549.7 1726.4" stroke="#222" stroke-width="1" fill="none"/>
<path d="M545.9 1708.6L549.7 1708.6" stroke="#222" stroke-width="1" fill="none"/>
<path d="M545.9 1690.8L549.7 1690.8" stroke="#222" stroke-width="1" fill="none"/>
<rect x="731.5" y="1744.8" width="30.6" height="3.4" fill="#fff"/>
<path d="M563.1 1744.2L946.7 1744.2" stroke="#8a8a8a" stroke-width="0.8" fill="none"/>
<path d="M563.1 1744.2l1-.4h3l1-.2l1 .2l1-.2h1l1 .2l1-.2h1l1-.2l1 .2h2l1-.2l1 .2l1-.4h1l1-.4l1-.6h1l1-.2l1-.2h2l1 1l1-.2h1l1-.2l1-1.4h1l1 1l1 .2l1 .6l1-.6l1-1.2l1 .6l1 .8l1-.8l1 .8l1 .2l1-.4h1l1-1.4l1 .6h1l1 1l1-.4l1-1.2l1 1.2l1 .2l1-1h2l1 .4l1-2.4l1 2.2l1-.2l1 .6l1-1.6l1 2.2l1-.4l1-.4l1-.2l1-.4l1-1.4h1l1 2l1-1.2l1 1.2l1 .4l1-.6l1-.6l1 .4l1-.6l1-.8l1 .6l1 .8l1 .6l1-.2l1-.8h1l1-.2l1-.2l1 .8h1l1-1.8l1 1.8l1 .6l1-.2l1-1.2l1-.2l1 1.2l1 .2l1-.2l1 .2l1-.2l1 .6l1-1.2l1-.4l1-.4l1 1.4h1l1-1.2l1 .2l1-.2l1 2.4l1-1.2l1 .4l1 .2l1 .4l1-1.2l1 1l1-.8l1 .4l1-1.8l1 1.6l1-.4l1 1l1-.2l1 .4l1-.6l1-1l1 1l1-.8l1 .2l1-.6h1l1-2l1 .6l1-2.6l1 1.8l1-3.8l1 2.2l1-1.2l1-1.6l1 1l1 .2l1-.2l1-1.6l1 1l1 1.4h1l1-.8l1 3.2l1-2.6l1 2.4l1 .4l1 .4l1-.4l1 1.6l1-1.6l1 1.6l1 1.2l1-2.6l1 1.6l1-1l1 .2l1 .8l1-.6l1-.4l1-1l1-.6l1-1l1 .2l1-.6l1 1l1-.6l1-3.8l1 1.6l1-.4l1-1.4l1 3l1-2.4l1 1.6l1-1.2l1-1.4l1-.4l1 .2h1l1-1.8l1-1l1 1.8l1 .8h1l1-2.2l1 .2l1 2.6l1 .2l1-2.4l1 2.6l1-.2l1 .8l1 1.4l1-.6l1 .6l1 1.2l1 1l1-2.2l1 .4l1 .8l1 .2l1-.4h1l1 2.2h1l1-.2l1-.2l1 .8h1l1 1.2l1-1.2l1 1.4l1-.2l1 1.4l1 .2l1-1.2l1-2l1 2.4h1l1 .6l1-.6l1-.2l1 1.8l1-.4l1-3.2l1 2.4l1-.8l1 .8l1 .2l1-1.2l1 .6l1 .6l1 .6l1-2.2l1 1.6l1-2.4l1 2.8l1-.2l1-.2l1 .2l1-1l1-.6l1 1.4l1-1.2l1 1h1l1-1.2l1 1.4l1-.8l1 1l1-2l1 .2l1 1.2l1-.8l1 .8l1-2.8l1 1.8l1-1.6l1 1.2l1 1.4h1l1-.6l1 .6l1-.4l1-.2l1-.6l1 .2h1l1 .8h1l1 .4l1-1.2l1-.6l1 1.2l1 .4l1-1l1 .4l1-.4l1 .2l1 .6l1-.6l1 .8h1l1-1.8l1 2.6l1-1.4l1-1l1 2l1-.2l1 .4l1-1.4h1l1 1.8h1l1-1.6l1 .2l1 2l1-2l1 1.6l1-2.6l1-4.4l1-5.6l1 6l1 3.4l1-.6l1 .4l1-1.8l1-.6l1-.6l1 3.6l1 1.6l1-1.4l1 3l1-1.6l1 2l1-1.4l1-.2l1 .6l1 .2l1-1l1-3.6l1-.2l1-4.2l1-1.2l1-10.4l1-15.2l1-12.8l1 15.4l1 20l1 7.2l1 3.6l1 2.2l1 .4l1 .2h1l1-.4l1 1.2l1-.6l1 .4l1-.8l1 1.6l1-1.6l1 1l1-1.6l1 1.6l1 .2l1-1.2l1 1.6l1-2l1 .8l1 .6l1-1.2l1-.6l1 1l1 .4l1-.4l1 .8l1-.4l1 .4l1 .6l1-1.6l1-.8l1 1.8h1l1-1l1 2h7l1 .2h2l1-.2l1 .2h4V1744.2Z" fill="#4DBBD5"/>
<path d="M545.9 1804L549.7 1804" stroke="#222" stroke-width="1" fill="none"/>
<path d="M545.9 1786.2L549.7 1786.2" stroke="#222" stroke-width="1" fill="none"/>
<path d="M545.9 1768.4L549.7 1768.4" stroke="#222" stroke-width="1" fill="none"/>
<path d="M545.9 1750.6L549.7 1750.6" stroke="#222" stroke-width="1" fill="none"/>
<rect x="731.5" y="1804.6" width="30.6" height="3.4" fill="#fff"/>
<path d="M563.1 1804L946.7 1804" stroke="#8a8a8a" stroke-width="0.8" fill="none"/>
<path d="M563.1 1804l1-.6l1 .2h1l1-.2l1 .2h1l1-.2h2l1-.2l1 .2l1-.2h1l1 .2l1-.2h4l1-1l1-.4l1 .6l1 .6l1-.2l1-.2l1-.2l1-.6h2l1 .6l1-2.6l1 2.4l1 .2l1-.2l1-1l1 1.2l1-.4l1-1.8l1 1.8l1-.6l1-.4l1 1l1-1.4l1 .8l1 .4l1-.2l1-.4l1 .6l1-1.2l1 .2l1-.8l1 1.4l1 .2l1-.6l1-.6l1 .4h1l1 .8l1-.6l1 .8l1-.4l1-.4l1 .4l1-.2l1-1.6l1-.4l1 2.2l1-1.6l1 .2l1 .4l1 .8l1-.2l1-1.4l1 1.2l1-.4l1-1l1 1.2h1l1-1.2l1 1.4l1 .2l1 .4l1-2l1 1.8l1-2.6l1 2.4l1-1.6l1 1.2l1-1l1 .6l1 1l1-2.8l1 1.6l1 .8l1 .2l1-1l1 1.6l1-2.2l1 1.4l1-1.2l1 1.4l1-.6h1l1-2.2l1 3.2l1-1.8l1 2.4l1-2l1 1.8l1-.2l1-.6l1-1.2l1 1.6h1l1-1.8l1 2l1-.6l1 .4l1 .2l1 .6l1-.4l1-1.4l1-1.6l1 2.6l1-.4l1-1.8l1-.8l1 1l1 .2l1-1.2l1-1.6l1-.8l1-1.2l1-.6l1 .6l1-1l1-2.4l1-.4l1 3.4l1 .6l1-1.8l1 .8l1-1l1 3.2l1-1.2l1 1.2l1-.2l1 1.2l1-.4l1 1.6l1-.4l1 1l1 .6l1-1.2l1 1.4l1-1.4l1-.6l1 .6l1 .8l1-.4l1-1.2l1 1.4l1-1.6h1l1-.8l1-.2l1-2.8l1 2.8l1-1.4l1-.6l1 .8l1-1.6l1-.8l1-1.2l1 2.2l1-1.2l1-4l1 4.6l1-1.2l1-.6l1-2.2l1-1.2l1-1.6l1 .6l1 6l1-4.4l1 2.4l1-1.6l1 .2l1 1.2l1 2.2h1l1-3.8l1 2l1 1.8l1-.4l1 1.4l1 .6l1 1.4l1-3.4l1 .6l1 2l1 2l1 .6l1-.8l1-.6l1 .6l1 1l1 .8l1-.2l1 .8l1-.4l1 .2h1l1 .6l1-.8l1 1l1-1h1l1 1.2l1-1.6l1 1.8h1l1-.4l1 .8l1-.6l1-.4h1l1 1.6l1-1.6l1 .8l1-.4l1 .8l1-.8l1 .4l1-.2l1-.8l1 .4l1 .4l1-.6l1-1l1 .8h1l1 .8l1-1.8l1 .8l1 .6l1-.2l1-1.2l1 .8l1-.6h1l1 1.6l1-.2l1-1l1 .2h1l1 .2l1-.6l1 .6l1-.6l1 1.4l1-1.6l1-.6l1 1.6l1-1h1l1 1l1 .6l1-.8l1-1.4l1 2.6l1-2.8l1 2.6l1-2.4l1 .2l1 .6l1 1.6l1-.8l1 .8l1-1l1-1l1-.6l1 2.2h1l1 .4l1-1.2l1 .8l1-.6l1-1.4l1 .8l1-1.2l1 2.2l1 1l1-1l1-1.2l1 1.6l1 .8l1-1.8l1-.6l1 .6l1 .6l1-3.6l1-6l1 6l1 3.6l1-.6l1-1l1-.8l1-1.2l1-1.8l1 3.4l1 2.6l1-.6l1 1.2l1-.8l1 1.6l1-1.2l1 .6l1 .6l1-1.4l1-.8l1-1.8l1-1l1-3.2l1-5.2l1-6l1-19.6l1-11.4l1 13l1 21.6l1 9l1 2.8l1 1.4l1 1.6l1 1.4l1-1.2l1 1.8l1-2.8l1 .2h1l1 1.8l1-.8l1 .8l1 .4l1-.6l1-1.2l1 1.8h1l1 .6l1-.6l1-1.6l1 .2l1 2.2l1-.2l1 .2l1-.2h1l1 .2l1 .2l1-.4l1-3.4l1-2.6l1 3.6l1 1.2l1 .4l1-.2l1 1.6h11l1 .2l1-.2l1 .2h2V1804Z" fill="#F39B7F"/>
<path d="M545.9 1863.3L549.7 1863.3" stroke="#222" stroke-width="1" fill="none"/>
<path d="M545.9 1845.5L549.7 1845.5" stroke="#222" stroke-width="1" fill="none"/>
<path d="M545.9 1827.7L549.7 1827.7" stroke="#222" stroke-width="1" fill="none"/>
<path d="M545.9 1809.9L549.7 1809.9" stroke="#222" stroke-width="1" fill="none"/>
<rect x="731.5" y="1863.9" width="30.6" height="3.4" fill="#fff"/>
<path d="M563.1 1863.3L946.7 1863.3" stroke="#8a8a8a" stroke-width="0.8" fill="none"/>
<path d="M563.1 1863.3h20l1-.6l1 .2l1 .2l1-.4l1 .4h5l1 .2l1-.2h1l1-.2l1 .4l1-.4l1 .2h1l1-.2h2l1-.4l1 .2l1 .4h2l1-.4l1 .6l1-.2l1-1l1 1.2l1-.6l1 .4h2l1-.4l1 .2l1 .2h2l1-.2l1-1.2l1 .8l1 .4l1 .2h2l1-.4l1 .6l1-.6l1-.2l1 .8l1-.2h1l1-.2h1l1-.4l1 .6h2l1-.6l1 .2h1l1-.2l1 .6l1 .2l1-.4l1 .4l1-.8l1 .6l1 .2l1-.2l1-.6h1l1 .6h1l1-.6l1 .8h1l1-.8l1 .2h1l1 .2h1l1-.4l1 .2l1 .2l1-.4l1 .4h1l1-.4h1l1 .4l1-1l1 .6l1 .6h1l1 .2l1-.4l1 .4l1-.8h1l1 .8l1-1l1 .6l1 .4l1-.4l1 .2l1 .2l1-.2l1-.6l1 .6l1 .2l1-.4h1l1-.2h1l1 .2l1 .4l1-.8l1 .8l1-.4l1-.2h1l1 .6l1-.4l1-.2l1-.2l1 .2l1 .6l1-.2h1l1-.6l1 .6l1-.6l1 .8l1-.8l1 .4l1-.4l1 .8l1-.2l1 .2l1-1l1 .8h1l1-.6l1-.4l1 .4l1 .2l1-.4h1l1 .4l1-.6l1 .2l1 .2l1-.4l1-.2l1 .2l1-.2l1-.8h1l1-.2l1 1l1-.4l1-.2l1-.4l1 .6l1-1l1 1.2h1l1 .6h2l1-.4l1 .4l1-.2h1l1 .8l1-.6h1l1 .2l1-.2l1 .4l1-.2l1 .4l1 .2h2l1-.2h2l1 .2h1l1-.6l1 .6l1-.4l1-.2l1 .4h2l1 .2h2l1-.2l1-.4h1l1 .6l1 .2l1-.2l1-.4h1l1 .4l1-1.4l1 1.2l1-.2h1l1-.4l1 .8l1 .2l1-1l1 .8h1l1 .2l1-.2l1-.2l1-.4l1 .4h1l1 .2l1-.2l1 .4l1-1.2l1 1.2l1-.4l1 .2h1l1-.4l1 .4l1-.2l1-.2l1 .6l1-.8l1 .6l1 .2h1l1-.2l1-.4l1 .2l1 .2h2l1-1l1 1.2l1-1l1-.2l1 .8l1-.6l1 1l1-.6l1 .6l1-.2l1 .2l1-.4h2l1-.2h2l1 .4l1-.2l1 .4l1-.6l1 .4l1 .2l1-.2l1-.2l1 .4h1l1-.2l1-.2l1 .2l1-.8l1-7.4l1-7.8l1 7.2l1 6.6h1l1-2.2l1-3.4l1-.2l1 1l1 2.4l1 2l1 1.6l1-1.6l1-3l1 3l1 2.4l1-.2l1 .2l1-.2l1-1l1-.4l1-1l1-1.6l1-1.8l1-4.8l1-11.2l1-6.6l1 7.6l1 12.8l1 5l1 1l1 1.2l1 .8l1 .2l1-.4l1 .4l1 .4l1-1.4l1 1.2l1-.2l1-.2l1 .2l1-.2l1 .6l1-.2l1-.4l1 .6l1-.4l1-.2l1 .2l1-.2l1 .2l1-.4l1-.4l1 1h2l1-.4l1 .6l1-.2l1-.6l1 .4l1 .2l1-.2h1l1 .4h16V1863.3Z" fill="#7E6148"/>
<text x="714.1" y="1325.9" font-size="26" textLength="79.9" lengthAdjust="spacingAndGlyphs" font-style="italic">H2−Aa</text>
<text transform="translate(533.5 1621) rotate(-90)" x="-166.5" y="0" font-size="26" textLength="333" lengthAdjust="spacingAndGlyphs">Normalized signal (0–620)</text>
<path d="M549.7 1873.9L549.7 1920.3" stroke="#222" stroke-width="1.3" fill="none"/>
<path d="M784.5 1902.4L889.1 1902.4" stroke="#00008B" stroke-width="1.3" fill="none"/>
<path d="M784.5 1898.4L784.5 1906.4" stroke="#00008B" stroke-width="1.5" fill="none"/>
<path d="M889.1 1898.4L889.1 1906.4" stroke="#00008B" stroke-width="1.5" fill="none"/>
<path d="M796.3 1899.6l-2.6 2.8l2.6 2.8M806.7 1899.6l-2.6 2.8l2.6 2.8M817.2 1899.6l-2.6 2.8l2.6 2.8M827.6 1899.6l-2.6 2.8l2.6 2.8M838.1 1899.6l-2.6 2.8l2.6 2.8M848.6 1899.6l-2.6 2.8l2.6 2.8M859 1899.6l-2.6 2.8l2.6 2.8M869.5 1899.6l-2.6 2.8l2.6 2.8M879.9 1899.6l-2.6 2.8l2.6 2.8" stroke="#00008B" stroke-width="1" fill="none"/>
<rect x="785" y="1898.9" width="5" height="7" fill="#00008B"/>
<rect x="800" y="1898.9" width="10" height="7" fill="#00008B"/>
<rect x="812" y="1898.9" width="3" height="7" fill="#00008B"/>
<rect x="818" y="1898.9" width="4" height="7" fill="#00008B"/>
<rect x="862" y="1898.9" width="9" height="7" fill="#00008B"/>
<rect x="868" y="1898.9" width="3" height="7" fill="#00008B"/>
<text x="815.3" y="1892.4" font-size="19.2" textLength="55.4" lengthAdjust="spacingAndGlyphs" font-style="italic">H2−Aa</text>
<path d="M549.7 1932.6L549.7 1963.4" stroke="#222" stroke-width="1.3" fill="none"/>
<path d="M697.3 1949.5L715.8 1949.5" stroke="#666" stroke-width="3.6" fill="none"/>
<path d="M732.5 1949.5L761.1 1949.5" stroke="#666" stroke-width="3.6" fill="none"/>
<path d="M861.7 1949.5L897.5 1949.5" stroke="#666" stroke-width="3.6" fill="none"/>
<path d="M563.1 1963.4L946.7 1963.4" stroke="#222" stroke-width="1.3" fill="none"/>
<path d="M626.3 1963.4L626.3 1969" stroke="#222" stroke-width="1.3" fill="none"/>
<text x="591.5" y="1995.8" font-size="23.4" textLength="69.5" lengthAdjust="spacingAndGlyphs">34,275</text>
<path d="M728.6 1963.4L728.6 1969" stroke="#222" stroke-width="1.3" fill="none"/>
<text x="693.9" y="1995.8" font-size="23.4" textLength="69.5" lengthAdjust="spacingAndGlyphs">34,280</text>
<path d="M831 1963.4L831 1969" stroke="#222" stroke-width="1.3" fill="none"/>
<text x="796.2" y="1995.8" font-size="23.4" textLength="69.5" lengthAdjust="spacingAndGlyphs">34,285</text>
<path d="M932.7 1963.4L932.7 1969" stroke="#222" stroke-width="1.3" fill="none"/>
<text x="898" y="1995.8" font-size="23.4" textLength="69.5" lengthAdjust="spacingAndGlyphs">34,290</text>
<text x="637.5" y="2038.9" font-size="26" textLength="234.8" lengthAdjust="spacingAndGlyphs">Chr17 position (kb)</text>
<path d="M962.7 1330.4H964.3L978 1780V1800.1H948.9V1780Z" fill="url(#gr2)"/>
<text transform="translate(993 1565) rotate(90)" x="-80" y="0" font-size="26" textLength="160" lengthAdjust="spacingAndGlyphs">Accessibility</text>
<path d="M1749 1325.2L1749 1862.1" stroke="#222" stroke-width="1.3" fill="none"/>
<rect x="1915" y="1328.2" width="18.8" height="531.9" fill="#e2e2e2"/>
<path d="M1745.2 1382.5L1749 1382.5" stroke="#222" stroke-width="1" fill="none"/>
<path d="M1745.2 1365.3L1749 1365.3" stroke="#222" stroke-width="1" fill="none"/>
<path d="M1745.2 1348.1L1749 1348.1" stroke="#222" stroke-width="1" fill="none"/>
<path d="M1745.2 1330.9L1749 1330.9" stroke="#222" stroke-width="1" fill="none"/>
<rect x="1914" y="1383.1" width="20.8" height="3.4" fill="#fff"/>
<path d="M1770.4 1382.5L2154.9 1382.5" stroke="#8a8a8a" stroke-width="0.8" fill="none"/>
<path d="M1770.4 1382.5h19l1-.2h1l1 .2h3l1-.2h2l1 .2h3l1-.2h1l1 .2l1-.2h1l1 .2h5l1-.2h1l1 .2h6l1-.2l1 .2l1-.2l1 .2h4l1-.2h2l1 .2l1-.2l1 .2h1l1-.2h1l1 .2h1l1-.2l1 .2h2l1-.2l1 .2h1l1-.2h1l1 .2h2l1-.2h4l1 .2h1l1-.2h2l1 .2l1-.2l1 .2h1l1-.2l1 .2l1-.2l1 .2l1-.2l1 .2l1-.2h2l1 .2l1-.2l1 .2l1-.2h1l1 .2h4l1-.2l1 .2l1-.2h1l1 .2l1-.2h1l1 .2h3l1-.2h4l1 .2l1-.2l1 .2l1-.2l1 .2l1-.2l1 .2h2l1-.2l1 .2h2l1-.4l1 .2l1 .2l1-.2h3l1 .2l1-.2l1 .2h1l1-.2h2l1 .2h1l1-.2h2l1 .2l1-.2l1 .2l1-.2l1 .2h2l1-.2h4l1 .2l1-.2l1 .2l1-.2l1 .2h1l1-.2l1 .2h3l1-.2h1l1 .2h2l1-.2l1 .2l1-.2l1 .2l1-.2l1 .2l1-.2h1l1 .2l1-.2h1l1 .2h4l1-.2h2l1 .2h3l1-.2l1 .2h2l1-.2h3l1 .2h1l1-.2h1l1 .2h2l1-.2l1 .2l1-.2l1 .2h1l1-.2h1l1 .2h1l1-.2h2l1 .2l1-.2h1l1 .2h6l1-.2l1 .2l1-.2h1l1 .2l1-.2h2l1 .2l1-.2l1 .2h3l1-.2h2l1 .2h7l1-.2h2l1 .2l1-.2l1 .2h4l1-.2h4l1 .2h2l1-.2h1l1 .2l1-.2h2l1 .2l1-.2h3l1 .2h3l1-.2l1 .2h1l1-.2h1l1 .2h3l1-.2l1 .2l1-.2l1 .2h9l1-.4l1 .2l1 .2h7l1-.4l1 .2h3l1 .2l1-.2l1 .2h1l1-.2l1 .2l1-.2l1-.2l1 .4h1l1-.2l1 .2l1-.2h3l1 .2h2l1-.2l1 .2h17V1382.5Z" fill="#8491B4"/>
<text x="1762.4" y="1347.6" font-size="19.2" textLength="69.9" lengthAdjust="spacingAndGlyphs">homMG</text>
<path d="M1745.2 1442.4L1749 1442.4" stroke="#222" stroke-width="1" fill="none"/>
<path d="M1745.2 1425.2L1749 1425.2" stroke="#222" stroke-width="1" fill="none"/>
<path d="M1745.2 1408L1749 1408" stroke="#222" stroke-width="1" fill="none"/>
<path d="M1745.2 1390.8L1749 1390.8" stroke="#222" stroke-width="1" fill="none"/>
<rect x="1914" y="1443" width="20.8" height="3.4" fill="#fff"/>
<path d="M1770.4 1442.4L2154.9 1442.4" stroke="#8a8a8a" stroke-width="0.8" fill="none"/>
<path d="M1770.4 1442.4h16l1-.6l1 .4l1-.4l1 .6l1-.4l1-.2l1 .4l1 .2l1-.2h2l1-.2h1l1 .2h2l1-.2l1 .2h2l1-.2l1 .2l1 .2l1-.2h1l1-.4l1 .4l1 .2l1-.2l1-.4l1 .4l1-.2l1 .4l1-.4h1l1 .4h1l1-.4h1l1 .2h1l1-.4l1 .4l1 .2l1-.6l1 .4l1-.2h1l1 .2l1 .2l1-.2h1l1-.2h1l1 .4l1-.2l1 .2h2l1-.2l1-.2h1l1 .2h1l1-.2l1 .2h2l1-.2l1 .2h2l1 .2l1-.2l1-.4l1 .4l1 .2l1-.2l1-.2l1 .4h1l1-.2l1 .2l1-.2l1 .2l1-.2h1l1 .2l1-.4l1 .4l1-.2h1l1-.2h4l1 .4h1l1-.4h1l1 .2h1l1-.2h1l1 .2l1-.4l1 .2l1 .2h2l1 .2l1-.2l1 .2l1-.2l1-.2l1 .4l1-.4h2l1 .2h2l1-.2l1 .2l1-.4l1 .2h1l1 .2h1l1-.2l1-.4l1-1.8l1-7.2l1-20.8l1-18.8l1 12.4l1 16.8l1 5.4l1 3l1 4.6l1 4.4l1 2l1 .6l1 .2l1-.2h1l1 .2l1-.2h3l1 .2h3l1-.2l1 .2l1-.2h4l1 .2l1-.2l1 .2h1l1-.4l1-.2l1 .6l1-.4l1 .2l1-.2l1 .2h1l1 .2l1-.2h1l1-.4l1 .4l1-.2l1 .2h2l1-.2l1-.2l1 .2l1-.2l1 .6l1-.4l1 .2l1 .2l1-.2l1-.2l1 .2l1-.2l1 .2l1 .2l1-.6l1 .4l1 .2l1-.2h2l1 .2l1-.4l1 .4l1-.4l1-.2l1 .6h1l1-.2h1l1 .2l1-.4l1 .4l1-.2l1 .2h1l1-.6l1 .4l1-.4l1 .6l1-.4l1 .2l1 .2l1-.2l1-.4h1l1-.4l1 .4l1 .6l1-.4l1-.2l1 .4h5l1-.2l1 .2h3l1 .2l1-.2l1-.4h1l1 .6h1l1-.2l1 .2l1-.4l1 .2h6l1 .2h1l1-.6l1 .4l1 .2l1-.4l1 .2h1l1-.2l1 .4h1l1-.2l1-.2l1-.2l1 .6l1-.4h1l1 .4l1-.2h2l1-.4h1l1 .2l1 .2l1 .2l1-.4h1l1 .2h1l1-.2h1l1 .4l1-.4l1 .4l1-.2l1 .2l1-.4l1 .4l1-.4l1 .4l1-.2l1-.4l1 .2h1l1 .4h1l1-.4l1 .2l1-.2h3l1 .2h1l1 .2l1-.4l1 .2l1-.2l1 .4l1-.4l1 .2h1l1-.4h1l1-.6l1 1h1l1-.2h1l1-.2l1 .4l1 .2l1-.2l1-.6l1 .8l1-.2l1 .2l1-.6l1 .2l1 .2l1-.2l1 .4l1-.2h1l1-.2l1 .4l1-.4l1-.2l1 .4l1 .2l1-.2l1 .2h15V1442.4Z" fill="#E64B35"/>
<text x="1762.4" y="1407.6" font-size="19.2" textLength="83.3" lengthAdjust="spacingAndGlyphs">repopMG</text>
<path d="M1745.2 1501.9L1749 1501.9" stroke="#222" stroke-width="1" fill="none"/>
<path d="M1745.2 1484.7L1749 1484.7" stroke="#222" stroke-width="1" fill="none"/>
<path d="M1745.2 1467.5L1749 1467.5" stroke="#222" stroke-width="1" fill="none"/>
<path d="M1745.2 1450.3L1749 1450.3" stroke="#222" stroke-width="1" fill="none"/>
<rect x="1914" y="1502.5" width="20.8" height="3.4" fill="#fff"/>
<path d="M1770.4 1501.9L2154.9 1501.9" stroke="#8a8a8a" stroke-width="0.8" fill="none"/>
<path d="M1770.4 1501.9h16l1-.2l1 .2l1-.2h4l1-.2l1 .4h1l1-.2l1-.4l1 .4h1l1-.2h1l1 .4l1-.4h2l1-.2l1 .2h1l1 .4l1-.4l1 .2h3l1-.2h1l1 .2h1l1 .2l1-.4h1l1 .4h1l1-.6l1 .2l1 .4l1-.2l1-.2h1l1 .4l1-.2l1 .2h1l1-.2l1-.4l1 .6l1-1l1 .8l1-.2l1 .4l1-.2l1 .2l1-.6l1 .2l1-.2l1 .6l1-.4l1 .4l1-.4l1-.2l1 .4l1 .2h1l1-.2l1 .2h1l1-.2l1-.2l1 .4l1-.2l1-.2h1l1 .2l1 .2l1-.4h1l1 .4l1-.2l1-.2l1 .4l1-.6l1 .4h2l1-.2h2l1 .4l1-.6l1 .4l1 .2l1-.4l1 .2l1-.8l1 .2l1 .8l1-.2l1-.2l1-.2l1 .4l1 .2l1-.2h1l1-.2l1 .2h4l1-.4l1 .2l1 .4l1-.8l1 .4h1l1 .2l1-.4l1 .4l1-.2l1 .2l1 .2h1l1-.4l1 .4l1-.2h1l1 .2l1-.2l1-.4l1 .4h1l1-.2l1 .2l1 .2l1-.2h1l1-.2l1 .2l1-.2h1l1 .4h1l1-.2l1-.2l1-.2l1 .2l1 .2l1-.2l1 .4l1-.2l1-.4l1-.2l1 .2l1 .6h1l1-.2l1-.8l1 .8h1l1-.4l1 .4l1-.2l1 .2l1-.2h1l1 .2h1l1-.4h1l1 .2h1l1 .4h3l1-.2h1l1 .2l1-.2l1 .2h1l1-.8l1 .6h1l1 .2h1l1-.2l1-.2l1 .4l1-.4h1l1-.4l1 .4l1 .2h2l1-.6l1 .8l1-.2l1 .2l1-.6l1 .4h1l1 .2l1-.2l1-.4l1 .2h1l1 .2l1-.4l1 .4l1-.2l1 .2h1l1-.2h2l1 .2l1-.2l1 .4h1l1-.2l1-.4l1 .4l1-.2l1 .2l1 .2l1-.2l1-.2l1-.2l1 .6h3l1-.2h1l1 .2l1-.2l1-.6l1 .6l1-.2l1 .2h2l1 .2l1-.4h1l1 .2l1-.6l1 .8h2l1-.4h1l1 .2l1-.2l1-.2l1 .4h2l1-.2l1 .2h1l1 .2l1-.2l1-.4l1 .4h2l1-.2l1 .4l1-.2h2l1-.8l1 .8h2l1 .2h2l1-.2l1 .2l1-.2l1 .2l1-.2l1-.2l1-.2l1 .6h1l1-.2l1-.2l1 .2l1-.6l1 .8l1-.2h1l1-.6l1 .2l1 .4l1-.6l1 .8h1l1-.4l1 .2l1 .2h1l1-.2h1l1-.2h1l1-.2l1-.2l1 .2l1 .6l1-.6l1 .4l1-.6l1 .6l1-.2h1l1 .2h1l1 .2l1-.2l1-.6l1 .6l1 .2l1-.4h1l1 .4l1-.4h1l1 .2l1-.4l1-.4l1 .8l1 .2l1-.2l1-.4l1 .4l1-.2l1-.4l1 .4l1 .2h3l1 .2h15V1501.9Z" fill="#DC0000"/>
<text x="1762.4" y="1467.6" font-size="19.2" textLength="135.3" lengthAdjust="spacingAndGlyphs">hom_ys_sdCAM</text>
<path d="M1745.2 1561.8L1749 1561.8" stroke="#222" stroke-width="1" fill="none"/>
<path d="M1745.2 1544.6L1749 1544.6" stroke="#222" stroke-width="1" fill="none"/>
<path d="M1745.2 1527.4L1749 1527.4" stroke="#222" stroke-width="1" fill="none"/>
<path d="M1745.2 1510.2L1749 1510.2" stroke="#222" stroke-width="1" fill="none"/>
<rect x="1914" y="1562.4" width="20.8" height="3.4" fill="#fff"/>
<path d="M1770.4 1561.8L2154.9 1561.8" stroke="#8a8a8a" stroke-width="0.8" fill="none"/>
<path d="M1770.4 1561.8h16l1-.8l1 .2h1l1 .4h1l1-.4l1 .2h1l1 .2l1 .2l1-.6l1 .4l1-.4l1 .2l1 .2l1-.4l1 .4l1-.8l1 .8h1l1-.4l1 .4l1-.2l1 .4l1-.8l1 .6h1l1-.6l1 .2l1 .2l1 .4l1-.4l1-.4l1 .4h1l1-.2l1 .4h1l1-.2l1 .4l1-.8l1 .6l1 .2h1l1-.6l1 .4l1 .2l1-.2l1-.4l1 .4l1 .2h1l1-1.2l1 .2l1 .6h1l1 .2h1l1-.6l1 .2l1 .6l1-.2l1-.8l1 .8h3l1-.4l1 .2l1-.2l1 .4h1l1 .2l1-.4l1 .2l1-.2l1-.2l1-1.2l1 .8l1 .8h2l1-.8l1 .2l1 .6l1-.6l1 .6l1-.4l1 .4l1-.6l1 .6l1-1.4l1 1.4h3l1-.2h1l1-.2l1-.2l1 .2l1 .2l1-.2l1 .2l1-.2l1-.8l1 1.2h2l1-.4h1l1 .2l1 .2h1l1-.4l1 .2l1 .2h1l1-.2l1 .2l1-.6l1 .6h2l1-.2l1 .2l1-.2l1 .2l1-.6l1 .4h1l1-.6l1-1.2l1-6.2l1-17.8l1-15.2l1 10.4l1 13.6l1 5l1 2.6l1 3.4l1 4.2l1 1.4l1 .4h1l1 .2l1-.2l1-.2l1 .4l1-.4l1 .4l1-.4l1 .2l1 .4h1l1-.2h1l1-.2l1 .2l1-1.8l1-.4l1 1.2l1 .8l1-.8l1 .8l1-.2h1l1 .4l1-.2l1 .4h1l1-.2l1-.6l1 .2l1 .6l1-.4l1 .2l1 .2l1-1l1 .2h1l1 .4l1 .2l1-.2h1l1-.4l1 .6l1-.2l1 .2l1-.6l1-.2l1 1l1-.6l1 .6l1-.2l1-.2l1-.6l1 .6l1 .2l1 .2l1-.4h1l1-1l1 1.2l1-1.2l1 1h1l1-.2l1 .4h1l1-.6l1 .6h1l1-.2l1-.2h2l1-.4l1 1l1-.2l1 .2l1-1l1 .6l1 .4l1-.2l1-.2h1l1-.2l1 .4h1l1-.2l1-.4l1 .2l1 .2l1-.4l1 .4l1-.4l1 .4l1-.4l1 .6l1-1l1 1.2h1l1-1.6l1 1.6l1-.6l1 .2h1l1-.2l1 .2l1 .2l1 .2l1-.4h1l1 .4l1-.8l1 .2l1-.4l1 .4l1 .2l1 .4l1-.4l1-.2l1 .4l1-.6l1 .4h1l1-.2l1-.8l1 1.4h1l1-.4h1l1-.6l1 .4h1l1 .4l1-.2h1l1 .2l1 .2h1l1-.4h2l1-.2l1 .4l1-.8l1 .8l1-.4l1 .6l1-.6l1 .4l1 .2h3l1-.4l1 .2l1-.4l1 .6l1-.2h1l1-.2l1 .2l1-.2l1-.6l1 .8h1l1 .2l1-.8l1 .6l1-.2l1-.4l1 .6l1-.2l1-.2l1 .6l1-.2h1l1-.4l1 .6l1-.6l1 .4l1-1.2l1 1.4l1-.4l1 .2h3l1 .2l1-.2h2l1 .2l1-.4l1 .4l1-1.2l1 1.2l1-.2h1l1-1l1 1h1l1 .2l1-.8l1 .6h1l1-.4h1l1-.4l1 .8l1 .2h15V1561.8Z" fill="#00A087"/>
<text x="1762.4" y="1527.6" font-size="19.2" textLength="148.2" lengthAdjust="spacingAndGlyphs">repop_ys_sdCAM</text>
<path d="M1745.2 1621.3L1749 1621.3" stroke="#222" stroke-width="1" fill="none"/>
<path d="M1745.2 1604.1L1749 1604.1" stroke="#222" stroke-width="1" fill="none"/>
<path d="M1745.2 1586.9L1749 1586.9" stroke="#222" stroke-width="1" fill="none"/>
<path d="M1745.2 1569.7L1749 1569.7" stroke="#222" stroke-width="1" fill="none"/>
<rect x="1914" y="1621.9" width="20.8" height="3.4" fill="#fff"/>
<path d="M1770.4 1621.3L2154.9 1621.3" stroke="#8a8a8a" stroke-width="0.8" fill="none"/>
<path d="M1770.4 1621.3h17l1-.2h1l1 .2l1-.4l1 .4l1-.4l1 .4l1-1.2l1 .4l1 .2h1l1 .2l1 .2h1l1 .2h1l1-.6l1-.2l1 .2l1 .4l1-.2h1l1-.2l1 .6l1-.6h1l1 .4h1l1-.4l1 .2h1l1 .4l1-1l1 .4l1 .2h1l1 .4l1-.2l1-.2l1 .2l1-.6l1 .6l1 .2h1l1-.2h1l1-.2h1l1 .2h1l1-1.4l1 1.4h2l1-.8l1 .8l1-.2h1l1 .2l1 .2l1-.2l1-.2l1-.2l1 .4l1-.4l1 .4l1 .2h1l1-1l1 .2l1 .6h1l1 .2l1-.2l1-.2l1 .2l1-.6l1 .8h1l1-.8l1 .6l1 .2l1-.2h2l1-.6l1 .2l1 .4h1l1-.6l1 .2l1 .2l1-.2l1 .6l1-.8l1 .4l1 .2l1-.6l1 .4l1 .2l1 .2h3l1-.6l1 .6l1-.4l1 .2l1-.2l1-.8l1 .6h1l1-.2l1 .6l1 .2l1-.4l1-.2l1-.2l1 .6h3l1-.4l1-.2l1 .4l1 .4l1-.4l1 .4l1-.6l1 .4l1-.6l1-2.2l1-5.8l1-18.6l1-17.4l1 11l1 16.2l1 4.6l1 2.6l1 4l1 4l1 1.6h1l1 .6l1-.2l1-.4l1-.4l1 1l1 .2l1-.4l1 .2l1 .2l1-.6l1 .6l1-.4l1 .4l1-.4l1-.6l1-.2l1-1l1 1l1 .6l1 .4l1-.4l1 .2l1 .2l1-.2l1 .2l1-.4h1l1 .2h1l1-.2l1 .2h1l1-.2l1 .4l1 .2l1-.6l1 .4l1-.4l1 .6l1-.4l1-.2l1 .4l1-.2l1 .2h1l1 .2l1-.2l1-.2l1-.2l1-.2l1 .2l1 .2l1 .4l1-.2h2l1-.6l1 .6l1-.4l1 .2l1 .4l1-.2l1-.4l1 .6l1-.8l1 .8h1l1-.8l1 .2l1 .2h1l1 .4l1-1.2l1 .6l1 .2h2l1 .2h1l1-.6l1 .2l1-.2l1 .6l1-.4l1 .2h1l1-.6l1 .6l1-.2l1 .4l1 .2h1l1-.2h2l1-.2l1 .4l1-.8l1 .6l1-.8h1l1 .8l1-.6l1 .6l1-.4l1 .4h1l1 .2l1-1l1 .8l1-.2l1 .2l1 .2l1-.4l1-.2l1 .6l1-.2l1-.6l1 .4l1 .4l1-1.2l1 .6l1 .4l1-.8l1 .8l1-1.2l1 .8l1 .4h1l1 .2l1-.4l1 .2h1l1-.2l1 .2l1-.4l1 .2h1l1-.4l1 .6l1-.2l1 .2l1-1l1 1l1-.2l1-.2l1-.4l1 .8l1-.2l1-.4l1 .4l1 .4l1-.4l1 .2l1-.4l1 .2l1 .2h1l1-.6l1 .8h2l1-.2l1-.4l1 .2h1l1-.2l1-.2l1 .4h1l1 .2l1 .2l1-.6l1 .4h4l1 .2l1-.2l1-.2l1 .2l1-.2h1l1-.8l1 .8l1 .2l1-.8l1 1l1-.2h1l1-.2l1 .2h1l1 .2l1-.4l1 .2h2l1 .2l1-.6h2l1 .4l1 .2l1-.8l1 .8h1l1-.4l1 .4h15V1621.3Z" fill="#3C5488"/>
<text x="1762.4" y="1587" font-size="19.2" textLength="100.1" lengthAdjust="spacingAndGlyphs">hsc_sdCAM</text>
<path d="M1745.2 1681.3L1749 1681.3" stroke="#222" stroke-width="1" fill="none"/>
<path d="M1745.2 1664.1L1749 1664.1" stroke="#222" stroke-width="1" fill="none"/>
<path d="M1745.2 1646.9L1749 1646.9" stroke="#222" stroke-width="1" fill="none"/>
<path d="M1745.2 1629.7L1749 1629.7" stroke="#222" stroke-width="1" fill="none"/>
<rect x="1914" y="1681.9" width="20.8" height="3.4" fill="#fff"/>
<path d="M1770.4 1681.3L2154.9 1681.3" stroke="#8a8a8a" stroke-width="0.8" fill="none"/>
<path d="M1770.4 1681.3h16l1-.2l1 .2l1-.2l1-.2l1 .2l1 .2l1-.4l1 .2l1 .2l1-.2h2l1 .2l1-.2h1l1 .2l1-.2l1 .2l1-.4l1 .4h2l1-.2h3l1 .2l1-.2l1 .2l1-.2h1l1 .2l1-.2l1 .2l1-.2l1 .2l1-.2h2l1 .2l1-.4l1 .4h1l1-.2h2l1 .2l1-.2l1-.2l1 .2h2l1 .2l1-.2h4l1 .2l1-.2l1 .2l1-.2l1 .2h2l1-.2h1l1-.2l1 .4l1-.2l1-.2l1 .4h2l1-.2l1-.2l1 .4l1-.2h2l1-.2l1 .2h1l1-.2l1 .4l1-.4l1 .4h1l1-.2h3l1 .2l1-.2h1l1-.2l1 .4l1-.2l1 .2l1-.2h4l1-.4l1 .4l1 .2l1-.2h1l1 .2l1-.2h2l1 .2h1l1-.4l1 .2l1 .2l1-.2l1-.2l1 .4h3l1-.2l1-.2l1 .2h1l1 .2h2l1-.2l1 .2l1-.4h1l1 .2l1 .2l1-.4l1 .2h2l1 .2l1-.6l1 .4h1l1 .2h3l1-.2l1-.2l1 .2l1 .2l1-.2l1 .2h1l1-.2l1 .2h3l1-.2l1-.2h1l1 .4l1-.2l1 .2l1-.4h1l1 .2l1 .2l1-.4h1l1 .4l1-.2l1 .2l1-.2l1-.2h1l1 .2l1 .2h1l1-.2l1 .2h1l1-.2l1 .2h1l1-.2h1l1 .2l1-.2h2l1 .2h1l1-.2l1 .2l1-.2l1 .2l1-.2h1l1-.2h2l1 .4h4l1-.4l1 .4l1-.2h2l1 .2h2l1-.2l1 .2l1-.2l1 .2h1l1-.2l1 .2l1-.4l1 .4l1-.2h1l1-.2l1 .2h2l1 .2l1-.2l1-.2l1 .4h1l1-.2l1 .2h1l1-.2h2l1 .2l1-.2l1-.2h1l1 .4h1l1-.2l1 .2l1-.4l1 .4l1-.2l1 .2h1l1-.2l1 .2h1l1-.2h2l1 .2h1l1-.2h1l1 .2h1l1-.4l1 .4h1l1-.2l1 .2h1l1-.2l1 .2h1l1-.4l1 .4l1-.4l1 .2l1 .2l1-.2l1 .2l1-.2h2l1 .2l1-.2h1l1-.2l1 .2h1l1 .2l1-.2l1-.4l1 .4h5l1-.2l1 .2l1 .2l1-.2l1-.2l1 .2l1 .2l1-.6l1 .6l1-.2l1 .2l1-.6l1 .4l1 .2l1-.2l1-.2l1 .2h1l1 .2h1l1-.2l1 .2h3l1-.2l1-.2l1 .2l1-.2l1 .2h3l1 .2l1-.2l1-.2h1l1 .2h1l1 .2h1l1-.2l1-.2l1 .4l1-.4l1 .2l1 .2h1l1-.6h1l1 .6h15V1681.3Z" fill="#91D1C2"/>
<text x="1762.4" y="1647" font-size="19.2" textLength="100.1" lengthAdjust="spacingAndGlyphs">hom_dCAM</text>
<path d="M1745.2 1741.2L1749 1741.2" stroke="#222" stroke-width="1" fill="none"/>
<path d="M1745.2 1724L1749 1724" stroke="#222" stroke-width="1" fill="none"/>
<path d="M1745.2 1706.8L1749 1706.8" stroke="#222" stroke-width="1" fill="none"/>
<path d="M1745.2 1689.6L1749 1689.6" stroke="#222" stroke-width="1" fill="none"/>
<rect x="1914" y="1741.8" width="20.8" height="3.4" fill="#fff"/>
<path d="M1770.4 1741.2L2154.9 1741.2" stroke="#8a8a8a" stroke-width="0.8" fill="none"/>
<path d="M1770.4 1741.2h16l1-.6l1 .2l1 .4l1-1l1 .6l1-.4l1 .4l1 .2l1-.6l1 .4l1 .2l1-.2l1 .2h1l1 .2l1-1l1 .6l1 .2l1-.4h1l1 .2l1 .2h2l1 .2h1l1-.2l1-.2l1-.2l1 .6l1-1l1-.2l1 .6l1 .2l1 .4l1-.6l1 .4l1-1l1 1l1 .2h2l1-.2h1l1-.4l1 .2h1l1-1.2l1 1.4l1-.2l1 .2h3l1 .2l1-.8l1 .6l1-.8l1 1h1l1-.6l1 .6l1-.8l1-.4l1 .4h1l1 .6h1l1-1.2l1 .8l1 .6l1-.4h1l1 .2l1-.4l1 .6l1-.4h1l1-.6l1 .6h1l1-.2l1 .2l1-.2l1-.6l1 .4l1 .8l1-.6l1 .4h6l1-1l1 .8l1-.4l1 .8l1-.2l1-.2l1 .2l1-.4l1 .4l1-1.2l1 1l1-.2l1 .2l1 .2l1-.6l1 .2l1-.2l1 .2l1 .6l1-.6h1l1 .6l1-.2l1-.2l1 .2h1l1-.2l1 .2l1 .2l1-.4l1 .4l1-.4l1 .2l1-.6l1 .4l1-1.2l1-.4l1-1.2l1-7.2l1-20.2l1-19.2l1 13.2l1 16.8l1 5l1 2.6l1 4.6l1 4.8l1 2l1 .6l1-.4l1-.2l1 .6l1 .2l1-.6l1 .6l1-.4l1-.6l1 .8l1-.6l1 .2l1 .4h1l1-.2l1-.6l1 .4l1-1l1 1.2l1 .2l1-.2l1 .2l1-.8l1 .4l1 .6l1-1l1 .8l1-.2l1 .2l1-.4h1l1-.6l1 .6l1 .2l1 .2h2l1-.2l1-.8l1 .4l1-.4l1 1l1-.4l1 .2l1 .4l1-.2l1-.2l1 .4l1-.6h1l1 .4h1l1-.2l1-.2h1l1 .2h1l1-.6l1 .6l1-.6l1 .6l1 .2l1-.6h1l1 .8l1-.6h1l1 .4l1-.4l1 .6h1l1-1.2h1l1 .8l1-.2l1 .6h1l1-1l1 1h1l1-.2l1 .2l1-.6l1 .4h1l1-.2l1-.2l1 .2l1 .2l1-.8l1 .8l1 .2l1-.4l1-.2l1-.6l1 .8l1 .2l1-.4h1l1 .2l1-.4l1 .4h1l1-.2l1-.2l1 .6l1-.4l1 .4l1-.2l1 .4l1-.8l1 .8l1-.6l1-.4l1 .8l1-.2l1 .4l1-.4l1 .2l1-1l1 .8l1-.4l1-.2l1 .4l1 .2l1 .4h1l1-.6l1-.2l1 .4l1 .2h3l1-.4l1 .6l1-.8l1 .4l1 .4l1-.8h1l1 .6h3l1 .2l1-.2l1-.4l1-.4l1 .4l1 .4h1l1-.2l1 .2l1 .2l1-.4l1-.2h1l1 .2l1 .2h1l1-.6l1 .6l1-.2l1 .2l1-.2l1 .2h2l1-.8l1 .4l1 .4l1-.4l1 .4l1-.6l1 .2l1-.6l1 1.2l1-.8l1 .2l1 .2h1l1 .2l1-.6l1 .4h1l1-.4l1 .4l1 .2h1l1-.2l1-.4l1 .8h4l1-1l1 .4l1 .6l1-1.6l1 1.2l1 .4l1-.4l1 .2l1-.6l1 .4l1 .4h1l1-.2l1 .2h15V1741.2Z" fill="#4DBBD5"/>
<text x="1762.4" y="1707" font-size="19.2" textLength="113.5" lengthAdjust="spacingAndGlyphs">repop_dCAM</text>
<path d="M1745.2 1800.7L1749 1800.7" stroke="#222" stroke-width="1" fill="none"/>
<path d="M1745.2 1783.5L1749 1783.5" stroke="#222" stroke-width="1" fill="none"/>
<path d="M1745.2 1766.3L1749 1766.3" stroke="#222" stroke-width="1" fill="none"/>
<path d="M1745.2 1749.1L1749 1749.1" stroke="#222" stroke-width="1" fill="none"/>
<rect x="1914" y="1801.3" width="20.8" height="3.4" fill="#fff"/>
<path d="M1770.4 1800.7L2154.9 1800.7" stroke="#8a8a8a" stroke-width="0.8" fill="none"/>
<path d="M1770.4 1800.7h16l1-.4l1 .2h1l1 .2l1-.2l1-.2l1-.2h1l1 .6l1-.4l1 .4l1-.2h2l1-.4l1 .4h1l1-.4l1 .2l1 .2h1l1 .2l1-.4l1 .2l1-.4l1 .2l1 .4l1-.4l1 .2h1l1-.4l1 .4h1l1-.2l1 .2l1 .2l1-.2h2l1-.2h1l1 .4l1-.2h2l1-.2l1 .2h2l1-.4l1 .2l1 .2h1l1-.4l1 .4l1-.2h1l1 .4l1-.4l1 .2l1 .2l1-.2l1-.2h1l1 .4l1-.2h1l1-.2h1l1 .2h1l1-.2l1 .4l1-.4l1 .4h1l1-.2l1 .2l1-.2l1 .2l1-.4l1 .4l1-.4l1 .2h1l1 .2l1-.2l1-.6l1 .6h2l1-.2l1 .2h1l1-.2l1 .2l1-.2h2l1 .4h2l1-.2l1-.4l1 .4l1-.4l1 .2l1 .2l1 .2l1-.4l1 .2l1 .2l1-.2l1 .2l1-.2l1-.2h2l1 .2h6l1-.2l1 .4h2l1-.4l1 .2l1-.4l1-1.2l1-4.4l1-13.6l1-11.8l1 8.2l1 10.8l1 3.2l1 1.8l1 3.2l1 2.6l1 1.2l1 .2l1 .2h4l1 .2h1l1-.4h1l1 .4l1-.2h4l1-.4l1-1.2l1 1.2l1 .4h3l1 .2h2l1-.2l1-.2l1 .2h1l1 .2l1-.4h1l1 .2h1l1-.2l1 .4l1-.4h1l1 .4l1-.6l1 .2l1 .2h2l1 .2l1-.2h5l1-.6h1l1 .6l1-.2l1-.2l1 .4l1-.4l1 .4l1 .2h1l1-.2l1-.6l1 .8l1-.2h2l1 .2l1-.8l1 .8l1-.2h3l1 .2l1-.2l1-.2l1 .2h4l1 .2h4l1-.4l1 .2h2l1-.2h2l1-.2l1 .2l1 .4h1l1-.4l1 .2l1 .2l1-.4h3l1 .4l1-.2l1-.2l1 .4l1-.4l1 .4l1-.2h2l1-.4l1 .2l1 .4h2l1-.6l1 .6l1-.2l1-.2l1 .2h2l1-.4l1 .2l1 .4h1l1-.4l1-.2l1 .2l1 .4h3l1-.4l1 .2h2l1 .2h2l1-.2h1l1-.2l1 .2l1-.2h1l1 .2l1-.2l1 .2l1-.2l1 .4l1-.2l1-.2l1 .4h1l1-.4l1 .2h2l1-.2l1 .2h1l1-.2l1 .2h1l1-.2l1 .2h1l1 .2l1-.2h1l1 .2l1-.2h1l1 .2l1-.4h1l1 .4l1-.8l1 .6l1-.2l1 .2l1 .2l1-.6h1l1 .4l1-.2l1 .2h1l1-.2l1 .4l1-.2l1-.2h1l1 .4l1-.8l1 .8l1-.2l1 .2l1-.2l1 .2l1-.4l1 .2l1 .2l1-.2l1 .2h15V1800.7Z" fill="#F39B7F"/>
<text x="1762.4" y="1766.4" font-size="19.2" textLength="91.2" lengthAdjust="spacingAndGlyphs">hsc_dCAM</text>
<path d="M1745.2 1860.1L1749 1860.1" stroke="#222" stroke-width="1" fill="none"/>
<path d="M1745.2 1842.9L1749 1842.9" stroke="#222" stroke-width="1" fill="none"/>
<path d="M1745.2 1825.7L1749 1825.7" stroke="#222" stroke-width="1" fill="none"/>
<path d="M1745.2 1808.5L1749 1808.5" stroke="#222" stroke-width="1" fill="none"/>
<rect x="1914" y="1860.7" width="20.8" height="3.4" fill="#fff"/>
<path d="M1770.4 1860.1L2154.9 1860.1" stroke="#8a8a8a" stroke-width="0.8" fill="none"/>
<path d="M1770.4 1860.1h16l1-.2l1 .2l1-.4l1 .2h1l1-.2l1 .4h1l1-.2h1l1-.2l1-.2l1 .4l1-.2l1 .4l1-.4l1 .4h1l1-.2h3l1-.2l1 .4l1-.2h1l1 .2l1-.2l1 .2l1-.2l1 .2l1-.2l1-.2l1 .2h1l1 .2l1-.2h5l1 .2h3l1-.2h1l1 .2h1l1-.2l1-.2l1 .4l1-.2h2l1-.2l1 .4h1l1-.2h1l1 .2h1l1-.2h1l1-.6l1 .6h2l1-.2l1 .2l1-.2l1 .4l1-.2h2l1 .2h1l1-.2h1l1-.4l1 .4h1l1 .2h1l1-.2l1-.4l1 .4h1l1-.2l1 .4h1l1-.2l1 .2l1-.2l1-.2l1 .4l1-.4l1 .2h2l1 .2l1-.2h2l1 .2l1-.2l1 .2l1-.2l1-.2l1 .2h1l1 .2l1-.2l1 .2h2l1-.2h2l1 .2h1l1-.2l1-.2l1 .2l1 .2l1-.6l1 .4h1l1 .2l1-.2l1-.8l1-1.2l1-2.6l1-10.6l1-10l1 6.8l1 8.4l1 2.6l1 1.6l1 2.6l1 1.8l1 1.2l1 .2l1 .2h3l1-.2h1l1 .2h3l1-.2l1 .2l1-.6l1 .6l1-.2l1-.2l1-.8l1 .8l1 .2h1l1 .2l1-.2l1-.2l1 .2l1-.2l1 .2h4l1 .2l1-.6l1 .2l1 .2h3l1-.2l1 .2l1 .2l1-.2h2l1 .2h1l1-.4l1 .2l1 .2h2l1-.4h2l1 .2h1l1 .2l1-.4l1 .2l1-.2l1 .2l1 .2l1-.2l1-.2l1 .2l1-.2h2l1 .2h1l1 .2h1l1-.2h2l1-.4l1 .6l1-.2l1 .2l1-.2l1 .2l1-.2l1-.2l1 .4h1l1-.2h1l1 .2l1-.2l1-.2l1 .2h2l1 .2h1l1-.4l1 .2l1 .2h2l1-.4l1 .4l1-.2l1 .2h1l1-.4h3l1 .2l1-.2l1 .4h1l1-.4l1 .4l1-.2l1-.4l1 .4l1 .2h1l1-.2l1 .2h1l1-.4h1l1 .2l1 .2l1-.2l1 .2l1-.2l1 .2l1-.2l1 .2l1-.2l1-.2h1l1 .4l1-.2h1l1 .2l1-.2l1 .2l1-.6l1 .4h1l1-.6l1 .6l1-.2l1 .2l1 .2l1-.2l1-.4l1 .4l1-.2l1 .2l1 .2l1-.4l1 .2l1 .2l1-.2l1-.4l1 .4h2l1 .2l1-.2l1 .2l1-.2l1-.4l1 .4h2l1 .2l1-.2h3l1 .2h1l1-.2l1-.2l1 .4h1l1-.2l1 .2l1-.8l1 .4l1 .4l1-.2l1 .2l1-.2h1l1-.4l1 .4h1l1-.2h1l1 .2l1 .2l1-.2l1 .2l1-.2h1l1 .2l1-.2h1l1 .2l1-.2l1 .2l1-.2l1 .2h15V1860.1Z" fill="#7E6148"/>
<text x="1762.4" y="1825.8" font-size="19.2" textLength="102.9" lengthAdjust="spacingAndGlyphs">clMonocyte</text>
<text x="1701.3" y="1315.5" font-size="38" textLength="11.5" lengthAdjust="spacingAndGlyphs" font-weight="bold" stroke="#000" stroke-width="0.9">i</text>
<text x="1907.5" y="1319.8" font-size="26" textLength="88.4" lengthAdjust="spacingAndGlyphs" font-style="italic">Zfp932</text>
<text transform="translate(1723 1627) rotate(-90)" x="-161.5" y="0" font-size="26" textLength="323" lengthAdjust="spacingAndGlyphs">Normalized signal (0–320)</text>
<path d="M1749 1869.8L1749 1915.3" stroke="#222" stroke-width="1.3" fill="none"/>
<text x="1762.4" y="1889.6" font-size="19.2" textLength="55.2" lengthAdjust="spacingAndGlyphs">Genes</text>
<path d="M1921.5 1899.8L2110.5 1899.8" stroke="#00008B" stroke-width="1.3" fill="none"/>
<path d="M1921.5 1895.8L1921.5 1903.8" stroke="#00008B" stroke-width="1.5" fill="none"/>
<path d="M2110.5 1895.8L2110.5 1903.8" stroke="#00008B" stroke-width="1.5" fill="none"/>
<path d="M1933.7 1897l2.6 2.8l-2.6 2.8M1947.2 1897l2.6 2.8l-2.6 2.8M1960.7 1897l2.6 2.8l-2.6 2.8M1974.2 1897l2.6 2.8l-2.6 2.8M1987.7 1897l2.6 2.8l-2.6 2.8M2001.2 1897l2.6 2.8l-2.6 2.8M2014.7 1897l2.6 2.8l-2.6 2.8M2028.2 1897l2.6 2.8l-2.6 2.8M2041.7 1897l2.6 2.8l-2.6 2.8M2055.2 1897l2.6 2.8l-2.6 2.8M2068.7 1897l2.6 2.8l-2.6 2.8M2082.2 1897l2.6 2.8l-2.6 2.8M2095.7 1897l2.6 2.8l-2.6 2.8" stroke="#00008B" stroke-width="1" fill="none"/>
<rect x="2015" y="1896.3" width="5" height="7" fill="#00008B"/>
<rect x="2055" y="1896.3" width="10" height="7" fill="#00008B"/>
<rect x="2068" y="1896.3" width="4" height="7" fill="#00008B"/>
<rect x="2088" y="1896.3" width="22" height="7" fill="#00008B"/>
<text x="2015.7" y="1887.4" font-size="19.2" textLength="63.2" lengthAdjust="spacingAndGlyphs" font-style="italic">Zfp932</text>
<path d="M1908.6 1907.8H1920.9" stroke="#1a7a1a" stroke-width="1.4"/><path d="M1908.6 1905.3v5M1912 1905.3h3.500v5h-3.500zM1917.500 1905.3h3v5h-3z" stroke="#1a7a1a" stroke-width="1.2" fill="#1a7a1a"/>
<text x="1843.3" y="1928.7" font-size="19.2" textLength="130.6" lengthAdjust="spacingAndGlyphs" font-style="italic">1010001B22Rik</text>
<path d="M1749 1926L1749 1958.1" stroke="#222" stroke-width="1.3" fill="none"/>
<text x="1765.1" y="1947.4" font-size="19.2" textLength="48.2" lengthAdjust="spacingAndGlyphs">Peaks</text>
<path d="M1915 1945.8L1933.8 1945.8" stroke="#666" stroke-width="3.6" fill="none"/>
<path d="M1770.4 1960.8L2154.9 1960.8" stroke="#222" stroke-width="1.3" fill="none"/>
<path d="M1835.2 1960.8L1835.2 1966.4" stroke="#222" stroke-width="1.3" fill="none"/>
<path d="M1902.2 1960.8L1902.2 1966.4" stroke="#222" stroke-width="1.3" fill="none"/>
<path d="M1969.6 1960.8L1969.6 1966.4" stroke="#222" stroke-width="1.3" fill="none"/>
<path d="M2037.1 1960.8L2037.1 1966.4" stroke="#222" stroke-width="1.3" fill="none"/>
<path d="M2104.6 1960.8L2104.6 1966.4" stroke="#222" stroke-width="1.3" fill="none"/>
<text x="1791.8" y="1992.9" font-size="23.4" textLength="86.8" lengthAdjust="spacingAndGlyphs">109,990</text>
<text x="1926.2" y="1992.9" font-size="23.4" textLength="86.8" lengthAdjust="spacingAndGlyphs">110,000</text>
<text x="2061.2" y="1992.9" font-size="23.4" textLength="86.8" lengthAdjust="spacingAndGlyphs">110,010</text>
<text x="1849.7" y="2033.1" font-size="26" textLength="226" lengthAdjust="spacingAndGlyphs">Chr5 position (kp)</text>
</g>
<g id="pg">
<text x="1118.5" y="1315.7" font-size="38" textLength="26.5" lengthAdjust="spacingAndGlyphs" font-weight="bold" stroke="#000" stroke-width="0.9">g</text>
<defs><clipPath id="v1"><circle cx="1324.9" cy="1379.8" r="77.6"/></clipPath><clipPath id="v2"><circle cx="1401.5" cy="1379.8" r="77.6"/></clipPath></defs>
<circle cx="1324.9" cy="1379.8" r="77.6" fill="#EDA3A1"/>
<circle cx="1401.5" cy="1379.8" r="77.6" fill="#F8E08C"/>
<circle cx="1363.5" cy="1445.1" r="77.6" fill="#FDCB86"/>
<circle cx="1401.5" cy="1379.8" r="77.6" fill="#EDB368" clip-path="url(#v1)"/>
<circle cx="1363.5" cy="1445.1" r="77.6" fill="#F39C55" clip-path="url(#v1)"/>
<circle cx="1363.5" cy="1445.1" r="77.6" fill="#FCBF48" clip-path="url(#v2)"/>
<g clip-path="url(#v1)"><circle cx="1363.5" cy="1445.1" r="77.6" fill="#F5A22F" clip-path="url(#v2)"/></g>
<circle cx="1324.9" cy="1379.8" r="77.6" fill="none" stroke="#111" stroke-width="1.3"/>
<circle cx="1401.5" cy="1379.8" r="77.6" fill="none" stroke="#111" stroke-width="1.3"/>
<circle cx="1363.5" cy="1445.1" r="77.6" fill="none" stroke="#111" stroke-width="1.3"/>
<text x="1226.9" y="1317.1" font-size="26" textLength="41.8" lengthAdjust="spacingAndGlyphs">MG</text>
<text x="1453.4" y="1317.1" font-size="26" textLength="103.4" lengthAdjust="spacingAndGlyphs">sdCAMs</text>
<text x="1318.5" y="1553.8" font-size="26" textLength="90.5" lengthAdjust="spacingAndGlyphs">dCAMs</text>
<text x="1262.8" y="1366.4" font-size="23.4" textLength="60" lengthAdjust="spacingAndGlyphs">1,406</text>
<text x="1344.9" y="1355.7" font-size="23.4" textLength="35" lengthAdjust="spacingAndGlyphs">174</text>
<text x="1407.4" y="1366.4" font-size="23.4" textLength="60" lengthAdjust="spacingAndGlyphs">2,379</text>
<text x="1349.5" y="1410.3" font-size="23.4" textLength="27" lengthAdjust="spacingAndGlyphs">83</text>
<text x="1299.5" y="1441.4" font-size="23.4" textLength="22" lengthAdjust="spacingAndGlyphs">21</text>
<text x="1392.7" y="1441.4" font-size="23.4" textLength="38" lengthAdjust="spacingAndGlyphs">579</text>
<text x="1344" y="1491.2" font-size="23.4" textLength="38" lengthAdjust="spacingAndGlyphs">707</text>
</g>
</svg>
</body></html>
